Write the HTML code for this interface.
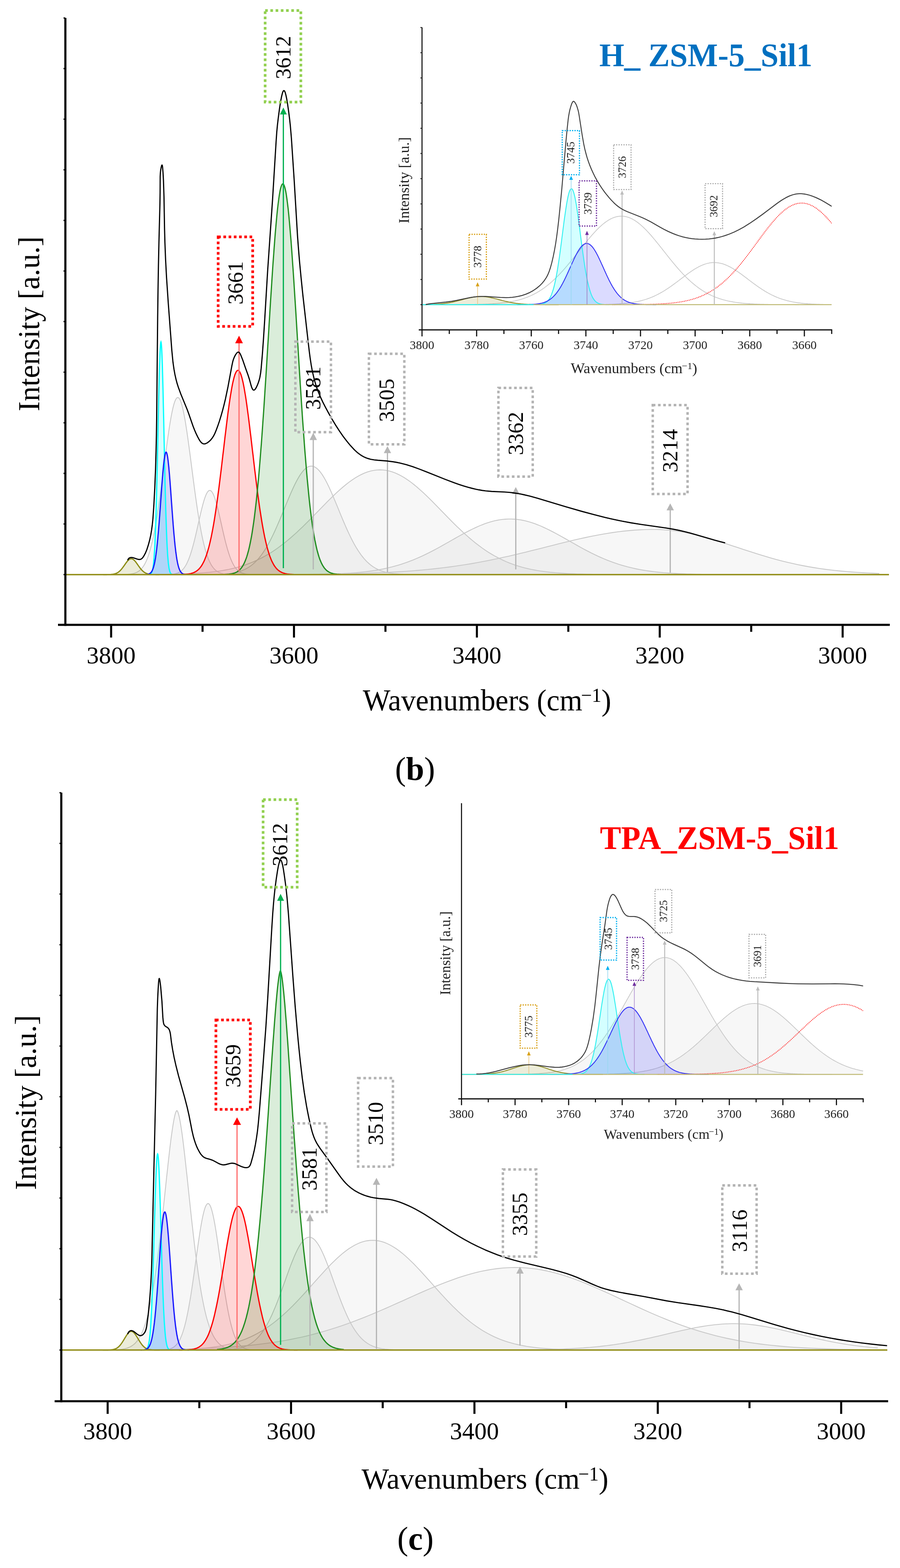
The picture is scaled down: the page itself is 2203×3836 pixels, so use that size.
<!DOCTYPE html>
<html><head><meta charset="utf-8"><title>FTIR deconvolution</title>
<style>html,body{margin:0;padding:0;background:#fff;}svg{display:block;}</style>
</head><body>
<svg width="2203" height="3836" viewBox="0 0 2203 3836" font-family="'Liberation Serif', serif">
<rect width="2203" height="3836" fill="#fff"/>
<path d="M578.1,1405.6 L576.4,1405.6 L574.7,1405.6 L573,1405.6 L571.3,1405.6 L569.6,1405.5 L567.9,1405.5 L566.2,1405.4 L564.4,1405.4 L562.7,1405.3 L561,1405.2 L559.3,1405.1 L557.6,1405 L555.9,1404.9 L554.2,1404.8 L552.5,1404.6 L550.8,1404.4 L549.1,1404.1 L547.4,1403.8 L545.7,1403.5 L544,1403.1 L542.3,1402.7 L540.6,1402.2 L538.9,1401.6 L537.2,1400.9 L535.5,1400.1 L533.8,1399.2 L532.1,1398.2 L530.4,1397.1 L528.7,1395.8 L527,1394.4 L525.3,1392.8 L523.6,1390.9 L521.9,1388.9 L520.2,1386.7 L518.5,1384.2 L516.8,1381.4 L515.1,1378.3 L513.4,1374.9 L511.7,1371.2 L510,1367.2 L508.3,1362.7 L506.6,1357.9 L504.9,1352.7 L503.2,1347.1 L501.5,1341 L499.8,1334.4 L498.1,1327.4 L496.4,1320 L494.7,1312 L493,1303.6 L491.3,1294.6 L489.6,1285.2 L487.9,1275.4 L486.2,1265 L484.5,1254.3 L482.8,1243.1 L481.1,1231.5 L479.4,1219.6 L477.7,1207.3 L476,1194.8 L474.3,1182 L472.6,1169.1 L470.9,1156 L469.2,1142.9 L467.5,1129.8 L465.8,1116.7 L464.1,1103.8 L462.4,1091.1 L460.7,1078.6 L459,1066.6 L457.3,1054.9 L455.6,1043.8 L453.9,1033.2 L452.2,1023.3 L450.5,1014.1 L448.8,1005.7 L447.1,998.1 L445.4,991.5 L443.7,985.7 L442,981 L440.3,977.2 L438.6,974.6 L436.9,972.9 L435.2,972.4 L433.5,972.9 L431.8,974.6 L430.1,977.2 L428.4,981 L426.7,985.7 L425,991.5 L423.3,998.1 L421.6,1005.7 L419.9,1014.1 L418.2,1023.3 L416.5,1033.2 L414.8,1043.8 L413.1,1054.9 L411.4,1066.6 L409.7,1078.6 L408,1091.1 L406.3,1103.8 L404.5,1116.7 L402.8,1129.8 L401.1,1142.9 L399.4,1156 L397.7,1169.1 L396,1182 L394.3,1194.8 L392.6,1207.3 L390.9,1219.6 L389.2,1231.5 L387.5,1243.1 L385.8,1254.3 L384.1,1265 L382.4,1275.4 L380.7,1285.2 L379,1294.6 L377.3,1303.6 L375.6,1312 L373.9,1320 L372.2,1327.4 L370.5,1334.4 L368.8,1341 L367.1,1347.1 L365.4,1352.7 L363.7,1357.9 L362,1362.7 L360.3,1367.2 L358.6,1371.2 L356.9,1374.9 L355.2,1378.3 L353.5,1381.4 L351.8,1384.2 L350.1,1386.7 L348.4,1388.9 L346.7,1390.9 L345,1392.8 L343.3,1394.4 L341.6,1395.8 L339.9,1397.1 L338.2,1398.2 L336.5,1399.2 L334.8,1400.1 L333.1,1400.9 L331.4,1401.6 L329.7,1402.2 L328,1402.7 L326.3,1403.1 L324.6,1403.5 L322.9,1403.8 L321.2,1404.1 L319.5,1404.4 L317.8,1404.6 L316.1,1404.8 L314.4,1404.9 L312.7,1405 L311,1405.1 L309.3,1405.2 L307.6,1405.3 L305.9,1405.4 L304.2,1405.4 L302.5,1405.5 L300.8,1405.5 L299.1,1405.6 L297.4,1405.6 L295.7,1405.6 L294,1405.6 L292.3,1405.6 L292.3,1405.7 L578.1,1405.7 Z" fill="rgba(128,128,128,0.068)" stroke="none"/>
<path d="M631,1405.7 L629.6,1405.7 L628.2,1405.7 L626.8,1405.6 L625.4,1405.6 L624,1405.6 L622.6,1405.6 L621.2,1405.6 L619.8,1405.5 L618.4,1405.5 L617,1405.5 L615.6,1405.4 L614.2,1405.4 L612.8,1405.3 L611.4,1405.2 L610,1405.2 L608.6,1405.1 L607.2,1404.9 L605.8,1404.8 L604.4,1404.7 L603,1404.5 L601.6,1404.3 L600.2,1404 L598.8,1403.7 L597.4,1403.4 L596,1403 L594.6,1402.6 L593.2,1402.2 L591.8,1401.6 L590.4,1401 L589,1400.3 L587.6,1399.5 L586.3,1398.7 L584.9,1397.7 L583.5,1396.6 L582.1,1395.5 L580.7,1394.1 L579.3,1392.7 L577.9,1391.1 L576.5,1389.3 L575.1,1387.4 L573.7,1385.3 L572.3,1383 L570.9,1380.5 L569.5,1377.8 L568.1,1374.9 L566.7,1371.8 L565.3,1368.5 L563.9,1364.9 L562.5,1361.1 L561.1,1357.1 L559.7,1352.9 L558.3,1348.4 L556.9,1343.7 L555.5,1338.8 L554.1,1333.7 L552.7,1328.4 L551.3,1322.9 L549.9,1317.2 L548.5,1311.4 L547.1,1305.4 L545.7,1299.4 L544.3,1293.2 L542.9,1287 L541.5,1280.8 L540.1,1274.5 L538.7,1268.3 L537.3,1262.2 L535.9,1256.1 L534.5,1250.2 L533.1,1244.5 L531.7,1238.9 L530.3,1233.6 L528.9,1228.6 L527.5,1223.9 L526.1,1219.5 L524.7,1215.5 L523.3,1211.9 L521.9,1208.8 L520.5,1206 L519.1,1203.8 L517.7,1202 L516.3,1200.7 L514.9,1200 L513.5,1199.7 L512.1,1200 L510.7,1200.7 L509.3,1202 L507.9,1203.8 L506.5,1206 L505.1,1208.8 L503.7,1211.9 L502.3,1215.5 L500.9,1219.5 L499.5,1223.9 L498.1,1228.6 L496.7,1233.6 L495.3,1238.9 L493.9,1244.5 L492.5,1250.2 L491.1,1256.1 L489.7,1262.2 L488.3,1268.3 L486.9,1274.5 L485.5,1280.8 L484.1,1287 L482.7,1293.2 L481.3,1299.4 L479.9,1305.4 L478.5,1311.4 L477.1,1317.2 L475.7,1322.9 L474.3,1328.4 L472.9,1333.7 L471.5,1338.8 L470.1,1343.7 L468.7,1348.4 L467.3,1352.9 L465.9,1357.1 L464.5,1361.1 L463.1,1364.9 L461.7,1368.5 L460.3,1371.8 L458.9,1374.9 L457.6,1377.8 L456.2,1380.5 L454.8,1383 L453.4,1385.3 L452,1387.4 L450.6,1389.3 L449.2,1391.1 L447.8,1392.7 L446.4,1394.1 L445,1395.5 L443.6,1396.6 L442.2,1397.7 L440.8,1398.7 L439.4,1399.5 L438,1400.3 L436.6,1401 L435.2,1401.6 L433.8,1402.2 L432.4,1402.6 L431,1403 L429.6,1403.4 L428.2,1403.7 L426.8,1404 L425.4,1404.3 L424,1404.5 L422.6,1404.7 L421.2,1404.8 L419.8,1404.9 L418.4,1405.1 L417,1405.2 L415.6,1405.2 L414.2,1405.3 L412.8,1405.4 L411.4,1405.4 L410,1405.5 L408.6,1405.5 L407.2,1405.5 L405.8,1405.6 L404.4,1405.6 L403,1405.6 L401.6,1405.6 L400.2,1405.6 L398.8,1405.7 L397.4,1405.7 L396,1405.7 L396,1405.7 L631,1405.7 Z" fill="rgba(128,128,128,0.068)" stroke="none"/>
<path d="M1039.3,1405.7 L1036,1405.7 L1032.7,1405.6 L1029.4,1405.6 L1026.1,1405.6 L1022.8,1405.6 L1019.5,1405.6 L1016.2,1405.5 L1012.9,1405.5 L1009.6,1405.5 L1006.3,1405.4 L1003,1405.4 L999.7,1405.3 L996.4,1405.2 L993.1,1405.1 L989.8,1405 L986.4,1404.9 L983.1,1404.7 L979.8,1404.6 L976.5,1404.4 L973.2,1404.1 L969.9,1403.8 L966.6,1403.5 L963.3,1403.2 L960,1402.8 L956.7,1402.3 L953.4,1401.7 L950.1,1401.1 L946.8,1400.4 L943.5,1399.7 L940.2,1398.8 L936.9,1397.8 L933.6,1396.7 L930.3,1395.4 L927,1394 L923.7,1392.5 L920.4,1390.8 L917.1,1388.9 L913.8,1386.9 L910.5,1384.6 L907.2,1382.1 L903.9,1379.4 L900.6,1376.4 L897.3,1373.2 L894,1369.8 L890.7,1366.1 L887.4,1362 L884.1,1357.8 L880.8,1353.2 L877.5,1348.3 L874.2,1343.1 L870.9,1337.7 L867.6,1331.9 L864.3,1325.9 L861,1319.5 L857.7,1312.9 L854.4,1306.1 L851.1,1299 L847.8,1291.7 L844.5,1284.2 L841.2,1276.5 L837.9,1268.7 L834.6,1260.8 L831.3,1252.8 L828,1244.7 L824.7,1236.7 L821.4,1228.7 L818.1,1220.8 L814.8,1213 L811.5,1205.4 L808.2,1198 L804.9,1190.8 L801.6,1184 L798.3,1177.6 L795,1171.5 L791.7,1165.9 L788.4,1160.7 L785.1,1156.1 L781.8,1152 L778.5,1148.5 L775.2,1145.6 L771.9,1143.3 L768.6,1141.6 L765.3,1140.6 L762,1140.3 L758.7,1140.6 L755.4,1141.6 L752,1143.3 L748.7,1145.6 L745.4,1148.5 L742.1,1152 L738.8,1156.1 L735.5,1160.7 L732.2,1165.9 L728.9,1171.5 L725.6,1177.6 L722.3,1184 L719,1190.8 L715.7,1198 L712.4,1205.4 L709.1,1213 L705.8,1220.8 L702.5,1228.7 L699.2,1236.7 L695.9,1244.7 L692.6,1252.8 L689.3,1260.8 L686,1268.7 L682.7,1276.5 L679.4,1284.2 L676.1,1291.7 L672.8,1299 L669.5,1306.1 L666.2,1312.9 L662.9,1319.5 L659.6,1325.9 L656.3,1331.9 L653,1337.7 L649.7,1343.1 L646.4,1348.3 L643.1,1353.2 L639.8,1357.8 L636.5,1362 L633.2,1366.1 L629.9,1369.8 L626.6,1373.2 L623.3,1376.4 L620,1379.4 L616.7,1382.1 L613.4,1384.6 L610.1,1386.9 L606.8,1388.9 L603.5,1390.8 L600.2,1392.5 L596.9,1394 L593.6,1395.4 L590.3,1396.7 L587,1397.8 L583.7,1398.8 L580.4,1399.7 L577.1,1400.4 L573.8,1401.1 L570.5,1401.7 L567.2,1402.3 L563.9,1402.8 L560.6,1403.2 L557.3,1403.5 L554,1403.8 L550.7,1404.1 L547.4,1404.4 L544.1,1404.6 L540.8,1404.7 L537.5,1404.9 L534.2,1405 L530.9,1405.1 L527.6,1405.2 L524.3,1405.3 L520.9,1405.4 L517.6,1405.4 L514.3,1405.5 L511,1405.5 L507.7,1405.5 L504.4,1405.6 L501.1,1405.6 L497.8,1405.6 L494.5,1405.6 L491.2,1405.6 L487.9,1405.7 L484.6,1405.7 L484.6,1405.7 L1039.3,1405.7 Z" fill="rgba(128,128,128,0.068)" stroke="none"/>
<path d="M1564.6,1405.7 L1557,1405.7 L1549.5,1405.6 L1541.9,1405.6 L1534.4,1405.6 L1526.8,1405.6 L1519.3,1405.6 L1511.7,1405.5 L1504.2,1405.5 L1496.6,1405.5 L1489,1405.4 L1481.5,1405.4 L1473.9,1405.3 L1466.4,1405.2 L1458.8,1405.1 L1451.3,1405 L1443.7,1404.9 L1436.2,1404.8 L1428.6,1404.6 L1421.1,1404.4 L1413.5,1404.2 L1406,1403.9 L1398.4,1403.6 L1390.8,1403.3 L1383.3,1402.9 L1375.7,1402.4 L1368.2,1401.9 L1360.6,1401.3 L1353.1,1400.6 L1345.5,1399.9 L1338,1399 L1330.4,1398 L1322.9,1397 L1315.3,1395.8 L1307.8,1394.4 L1300.2,1393 L1292.6,1391.3 L1285.1,1389.5 L1277.5,1387.5 L1270,1385.3 L1262.4,1382.9 L1254.9,1380.3 L1247.3,1377.4 L1239.8,1374.4 L1232.2,1371 L1224.7,1367.4 L1217.1,1363.5 L1209.5,1359.4 L1202,1355 L1194.4,1350.3 L1186.9,1345.3 L1179.3,1340 L1171.8,1334.4 L1164.2,1328.6 L1156.7,1322.5 L1149.1,1316.1 L1141.6,1309.5 L1134,1302.7 L1126.5,1295.6 L1118.9,1288.4 L1111.3,1280.9 L1103.8,1273.4 L1096.2,1265.7 L1088.7,1258 L1081.1,1250.2 L1073.6,1242.5 L1066,1234.8 L1058.5,1227.1 L1050.9,1219.6 L1043.4,1212.2 L1035.8,1205.1 L1028.2,1198.2 L1020.7,1191.6 L1013.1,1185.4 L1005.6,1179.5 L998,1174.1 L990.5,1169.1 L982.9,1164.6 L975.4,1160.7 L967.8,1157.3 L960.3,1154.5 L952.7,1152.3 L945.2,1150.7 L937.6,1149.7 L930,1149.4 L922.5,1149.7 L914.9,1150.7 L907.4,1152.3 L899.8,1154.5 L892.3,1157.3 L884.7,1160.7 L877.2,1164.6 L869.6,1169.1 L862.1,1174.1 L854.5,1179.5 L847,1185.4 L839.4,1191.6 L831.8,1198.2 L824.3,1205.1 L816.7,1212.2 L809.2,1219.6 L801.6,1227.1 L794.1,1234.8 L786.5,1242.5 L779,1250.2 L771.4,1258 L763.9,1265.7 L756.3,1273.4 L748.7,1280.9 L741.2,1288.4 L733.6,1295.6 L726.1,1302.7 L718.5,1309.5 L711,1316.1 L703.4,1322.5 L695.9,1328.6 L688.3,1334.4 L680.8,1340 L673.2,1345.3 L665.7,1350.3 L658.1,1355 L650.5,1359.4 L643,1363.5 L635.4,1367.4 L627.9,1371 L620.3,1374.4 L612.8,1377.4 L605.2,1380.3 L597.7,1382.9 L590.1,1385.3 L582.6,1387.5 L575,1389.5 L567.4,1391.3 L559.9,1393 L552.3,1394.4 L544.8,1395.8 L537.2,1397 L529.7,1398 L522.1,1399 L514.6,1399.9 L507,1400.6 L499.5,1401.3 L491.9,1401.9 L484.4,1402.4 L476.8,1402.9 L469.2,1403.3 L461.7,1403.6 L454.1,1403.9 L446.6,1404.2 L439,1404.4 L431.5,1404.6 L423.9,1404.8 L416.4,1404.9 L408.8,1405 L401.3,1405.1 L393.7,1405.2 L386.2,1405.3 L378.6,1405.4 L371,1405.4 L363.5,1405.5 L355.9,1405.5 L348.4,1405.5 L340.8,1405.6 L333.3,1405.6 L325.7,1405.6 L318.2,1405.6 L310.6,1405.6 L303.1,1405.7 L295.5,1405.7 L295.5,1405.7 L1564.6,1405.7 Z" fill="rgba(128,128,128,0.068)" stroke="none"/>
<path d="M1857.3,1405.7 L1850,1405.7 L1842.7,1405.7 L1835.4,1405.7 L1828.1,1405.7 L1820.8,1405.6 L1813.5,1405.6 L1806.2,1405.6 L1798.9,1405.6 L1791.6,1405.6 L1784.3,1405.6 L1777,1405.5 L1769.7,1405.5 L1762.4,1405.4 L1755.1,1405.4 L1747.8,1405.3 L1740.5,1405.3 L1733.2,1405.2 L1725.9,1405.1 L1718.7,1405 L1711.4,1404.9 L1704.1,1404.7 L1696.8,1404.6 L1689.5,1404.4 L1682.2,1404.2 L1674.9,1403.9 L1667.6,1403.6 L1660.3,1403.3 L1653,1402.9 L1645.7,1402.5 L1638.4,1402.1 L1631.1,1401.5 L1623.8,1401 L1616.5,1400.3 L1609.2,1399.6 L1601.9,1398.8 L1594.6,1397.9 L1587.3,1396.9 L1580,1395.8 L1572.7,1394.6 L1565.4,1393.3 L1558.2,1391.9 L1550.9,1390.3 L1543.6,1388.6 L1536.3,1386.8 L1529,1384.8 L1521.7,1382.7 L1514.4,1380.5 L1507.1,1378.1 L1499.8,1375.5 L1492.5,1372.8 L1485.2,1370 L1477.9,1366.9 L1470.6,1363.8 L1463.3,1360.5 L1456,1357 L1448.7,1353.5 L1441.4,1349.8 L1434.1,1346 L1426.8,1342.1 L1419.5,1338.1 L1412.2,1334 L1405,1329.9 L1397.7,1325.8 L1390.4,1321.6 L1383.1,1317.5 L1375.8,1313.4 L1368.5,1309.3 L1361.2,1305.3 L1353.9,1301.5 L1346.6,1297.7 L1339.3,1294.1 L1332,1290.7 L1324.7,1287.4 L1317.4,1284.4 L1310.1,1281.6 L1302.8,1279 L1295.5,1276.8 L1288.2,1274.8 L1280.9,1273.1 L1273.6,1271.8 L1266.3,1270.8 L1259,1270.1 L1251.7,1269.7 L1244.5,1269.7 L1237.2,1270.1 L1229.9,1270.8 L1222.6,1271.8 L1215.3,1273.1 L1208,1274.8 L1200.7,1276.8 L1193.4,1279 L1186.1,1281.6 L1178.8,1284.4 L1171.5,1287.4 L1164.2,1290.7 L1156.9,1294.1 L1149.6,1297.7 L1142.3,1301.5 L1135,1305.3 L1127.7,1309.3 L1120.4,1313.4 L1113.1,1317.5 L1105.8,1321.6 L1098.5,1325.8 L1091.3,1329.9 L1084,1334 L1076.7,1338.1 L1069.4,1342.1 L1062.1,1346 L1054.8,1349.8 L1047.5,1353.5 L1040.2,1357 L1032.9,1360.5 L1025.6,1363.8 L1018.3,1366.9 L1011,1370 L1003.7,1372.8 L996.4,1375.5 L989.1,1378.1 L981.8,1380.5 L974.5,1382.7 L967.2,1384.8 L959.9,1386.8 L952.6,1388.6 L945.3,1390.3 L938,1391.9 L930.8,1393.3 L923.5,1394.6 L916.2,1395.8 L908.9,1396.9 L901.6,1397.9 L894.3,1398.8 L887,1399.6 L879.7,1400.3 L872.4,1401 L865.1,1401.5 L857.8,1402.1 L850.5,1402.5 L843.2,1402.9 L835.9,1403.3 L828.6,1403.6 L821.3,1403.9 L814,1404.2 L806.7,1404.4 L799.4,1404.6 L792.1,1404.7 L784.8,1404.9 L777.6,1405 L770.3,1405.1 L763,1405.2 L755.7,1405.3 L748.4,1405.3 L741.1,1405.4 L733.8,1405.4 L726.5,1405.5 L719.2,1405.5 L711.9,1405.6 L704.6,1405.6 L697.3,1405.6 L690,1405.6 L682.7,1405.6 L675.4,1405.6 L668.1,1405.7 L660.8,1405.7 L653.5,1405.7 L646.2,1405.7 L638.9,1405.7 L638.9,1405.7 L1857.3,1405.7 Z" fill="rgba(128,128,128,0.068)" stroke="none"/>
<path d="M2152.1,1403 L2138.8,1402.4 L2125.5,1401.8 L2112.2,1401.1 L2098.8,1400.3 L2085.5,1399.4 L2072.2,1398.3 L2058.9,1397.1 L2045.6,1395.8 L2032.2,1394.3 L2018.9,1392.6 L2005.6,1390.7 L1992.3,1388.6 L1978.9,1386.4 L1965.6,1383.9 L1952.3,1381.2 L1939,1378.3 L1925.7,1375.2 L1912.3,1371.9 L1899,1368.4 L1885.7,1364.7 L1872.4,1360.8 L1859.1,1356.8 L1845.7,1352.6 L1832.4,1348.3 L1819.1,1344 L1805.8,1339.6 L1792.4,1335.2 L1779.1,1330.8 L1765.8,1326.6 L1752.5,1322.4 L1739.2,1318.3 L1725.8,1314.5 L1712.5,1310.9 L1699.2,1307.6 L1685.9,1304.7 L1672.5,1302 L1659.2,1299.8 L1645.9,1298 L1632.6,1296.6 L1619.3,1295.7 L1605.9,1295.2 L1592.6,1295.2 L1579.3,1295.5 L1566,1296.1 L1552.7,1296.9 L1539.3,1298.1 L1526,1299.4 L1512.7,1301 L1499.4,1302.9 L1486,1305 L1472.7,1307.2 L1459.4,1309.7 L1446.1,1312.3 L1432.8,1315.1 L1419.4,1318.1 L1406.1,1321.1 L1392.8,1324.3 L1379.5,1327.5 L1366.1,1330.8 L1352.8,1334.2 L1339.5,1337.5 L1326.2,1340.9 L1312.9,1344.3 L1299.5,1347.6 L1286.2,1350.9 L1272.9,1354.1 L1259.6,1357.3 L1246.3,1360.4 L1232.9,1363.3 L1219.6,1366.2 L1206.3,1369 L1193,1371.7 L1179.6,1374.3 L1166.3,1376.7 L1153,1379.1 L1139.7,1381.2 L1126.4,1383.3 L1113,1385.3 L1099.7,1387.1 L1086.4,1388.8 L1073.1,1390.4 L1059.8,1391.9 L1046.4,1393.2 L1033.1,1394.5 L1019.8,1395.6 L1006.5,1396.7 L993.1,1397.7 L979.8,1398.6 L966.5,1399.4 L953.2,1400.1 L939.9,1400.7 L926.5,1401.3 L913.2,1401.9 L899.9,1402.3 L886.6,1402.8 L873.2,1403.1 L859.9,1403.5 L846.6,1403.8 L833.3,1404 L820,1404.2 L806.6,1404.4 L793.3,1404.6 L780,1404.8 L766.7,1404.9 L753.4,1405 L740,1405.1 L726.7,1405.2 L713.4,1405.3 L700.1,1405.4 L686.7,1405.4 L673.4,1405.5 L660.1,1405.5 L646.8,1405.5 L633.5,1405.6 L620.1,1405.6 L606.8,1405.6 L593.5,1405.6 L580.2,1405.6 L566.8,1405.6 L553.5,1405.7 L540.2,1405.7 L526.9,1405.7 L513.6,1405.7 L500.2,1405.7 L486.9,1405.7 L486.9,1405.7 L2152.1,1405.7 Z" fill="rgba(128,128,128,0.068)" stroke="none"/>
<path d="M578.1,1405.6 L576.4,1405.6 L574.7,1405.6 L573,1405.6 L571.3,1405.6 L569.6,1405.5 L567.9,1405.5 L566.2,1405.4 L564.4,1405.4 L562.7,1405.3 L561,1405.2 L559.3,1405.1 L557.6,1405 L555.9,1404.9 L554.2,1404.8 L552.5,1404.6 L550.8,1404.4 L549.1,1404.1 L547.4,1403.8 L545.7,1403.5 L544,1403.1 L542.3,1402.7 L540.6,1402.2 L538.9,1401.6 L537.2,1400.9 L535.5,1400.1 L533.8,1399.2 L532.1,1398.2 L530.4,1397.1 L528.7,1395.8 L527,1394.4 L525.3,1392.8 L523.6,1390.9 L521.9,1388.9 L520.2,1386.7 L518.5,1384.2 L516.8,1381.4 L515.1,1378.3 L513.4,1374.9 L511.7,1371.2 L510,1367.2 L508.3,1362.7 L506.6,1357.9 L504.9,1352.7 L503.2,1347.1 L501.5,1341 L499.8,1334.4 L498.1,1327.4 L496.4,1320 L494.7,1312 L493,1303.6 L491.3,1294.6 L489.6,1285.2 L487.9,1275.4 L486.2,1265 L484.5,1254.3 L482.8,1243.1 L481.1,1231.5 L479.4,1219.6 L477.7,1207.3 L476,1194.8 L474.3,1182 L472.6,1169.1 L470.9,1156 L469.2,1142.9 L467.5,1129.8 L465.8,1116.7 L464.1,1103.8 L462.4,1091.1 L460.7,1078.6 L459,1066.6 L457.3,1054.9 L455.6,1043.8 L453.9,1033.2 L452.2,1023.3 L450.5,1014.1 L448.8,1005.7 L447.1,998.1 L445.4,991.5 L443.7,985.7 L442,981 L440.3,977.2 L438.6,974.6 L436.9,972.9 L435.2,972.4 L433.5,972.9 L431.8,974.6 L430.1,977.2 L428.4,981 L426.7,985.7 L425,991.5 L423.3,998.1 L421.6,1005.7 L419.9,1014.1 L418.2,1023.3 L416.5,1033.2 L414.8,1043.8 L413.1,1054.9 L411.4,1066.6 L409.7,1078.6 L408,1091.1 L406.3,1103.8 L404.5,1116.7 L402.8,1129.8 L401.1,1142.9 L399.4,1156 L397.7,1169.1 L396,1182 L394.3,1194.8 L392.6,1207.3 L390.9,1219.6 L389.2,1231.5 L387.5,1243.1 L385.8,1254.3 L384.1,1265 L382.4,1275.4 L380.7,1285.2 L379,1294.6 L377.3,1303.6 L375.6,1312 L373.9,1320 L372.2,1327.4 L370.5,1334.4 L368.8,1341 L367.1,1347.1 L365.4,1352.7 L363.7,1357.9 L362,1362.7 L360.3,1367.2 L358.6,1371.2 L356.9,1374.9 L355.2,1378.3 L353.5,1381.4 L351.8,1384.2 L350.1,1386.7 L348.4,1388.9 L346.7,1390.9 L345,1392.8 L343.3,1394.4 L341.6,1395.8 L339.9,1397.1 L338.2,1398.2 L336.5,1399.2 L334.8,1400.1 L333.1,1400.9 L331.4,1401.6 L329.7,1402.2 L328,1402.7 L326.3,1403.1 L324.6,1403.5 L322.9,1403.8 L321.2,1404.1 L319.5,1404.4 L317.8,1404.6 L316.1,1404.8 L314.4,1404.9 L312.7,1405 L311,1405.1 L309.3,1405.2 L307.6,1405.3 L305.9,1405.4 L304.2,1405.4 L302.5,1405.5 L300.8,1405.5 L299.1,1405.6 L297.4,1405.6 L295.7,1405.6 L294,1405.6 L292.3,1405.6" fill="none" stroke="#c8c8c8" stroke-width="2.1"/>
<path d="M631,1405.7 L629.6,1405.7 L628.2,1405.7 L626.8,1405.6 L625.4,1405.6 L624,1405.6 L622.6,1405.6 L621.2,1405.6 L619.8,1405.5 L618.4,1405.5 L617,1405.5 L615.6,1405.4 L614.2,1405.4 L612.8,1405.3 L611.4,1405.2 L610,1405.2 L608.6,1405.1 L607.2,1404.9 L605.8,1404.8 L604.4,1404.7 L603,1404.5 L601.6,1404.3 L600.2,1404 L598.8,1403.7 L597.4,1403.4 L596,1403 L594.6,1402.6 L593.2,1402.2 L591.8,1401.6 L590.4,1401 L589,1400.3 L587.6,1399.5 L586.3,1398.7 L584.9,1397.7 L583.5,1396.6 L582.1,1395.5 L580.7,1394.1 L579.3,1392.7 L577.9,1391.1 L576.5,1389.3 L575.1,1387.4 L573.7,1385.3 L572.3,1383 L570.9,1380.5 L569.5,1377.8 L568.1,1374.9 L566.7,1371.8 L565.3,1368.5 L563.9,1364.9 L562.5,1361.1 L561.1,1357.1 L559.7,1352.9 L558.3,1348.4 L556.9,1343.7 L555.5,1338.8 L554.1,1333.7 L552.7,1328.4 L551.3,1322.9 L549.9,1317.2 L548.5,1311.4 L547.1,1305.4 L545.7,1299.4 L544.3,1293.2 L542.9,1287 L541.5,1280.8 L540.1,1274.5 L538.7,1268.3 L537.3,1262.2 L535.9,1256.1 L534.5,1250.2 L533.1,1244.5 L531.7,1238.9 L530.3,1233.6 L528.9,1228.6 L527.5,1223.9 L526.1,1219.5 L524.7,1215.5 L523.3,1211.9 L521.9,1208.8 L520.5,1206 L519.1,1203.8 L517.7,1202 L516.3,1200.7 L514.9,1200 L513.5,1199.7 L512.1,1200 L510.7,1200.7 L509.3,1202 L507.9,1203.8 L506.5,1206 L505.1,1208.8 L503.7,1211.9 L502.3,1215.5 L500.9,1219.5 L499.5,1223.9 L498.1,1228.6 L496.7,1233.6 L495.3,1238.9 L493.9,1244.5 L492.5,1250.2 L491.1,1256.1 L489.7,1262.2 L488.3,1268.3 L486.9,1274.5 L485.5,1280.8 L484.1,1287 L482.7,1293.2 L481.3,1299.4 L479.9,1305.4 L478.5,1311.4 L477.1,1317.2 L475.7,1322.9 L474.3,1328.4 L472.9,1333.7 L471.5,1338.8 L470.1,1343.7 L468.7,1348.4 L467.3,1352.9 L465.9,1357.1 L464.5,1361.1 L463.1,1364.9 L461.7,1368.5 L460.3,1371.8 L458.9,1374.9 L457.6,1377.8 L456.2,1380.5 L454.8,1383 L453.4,1385.3 L452,1387.4 L450.6,1389.3 L449.2,1391.1 L447.8,1392.7 L446.4,1394.1 L445,1395.5 L443.6,1396.6 L442.2,1397.7 L440.8,1398.7 L439.4,1399.5 L438,1400.3 L436.6,1401 L435.2,1401.6 L433.8,1402.2 L432.4,1402.6 L431,1403 L429.6,1403.4 L428.2,1403.7 L426.8,1404 L425.4,1404.3 L424,1404.5 L422.6,1404.7 L421.2,1404.8 L419.8,1404.9 L418.4,1405.1 L417,1405.2 L415.6,1405.2 L414.2,1405.3 L412.8,1405.4 L411.4,1405.4 L410,1405.5 L408.6,1405.5 L407.2,1405.5 L405.8,1405.6 L404.4,1405.6 L403,1405.6 L401.6,1405.6 L400.2,1405.6 L398.8,1405.7 L397.4,1405.7 L396,1405.7" fill="none" stroke="#c8c8c8" stroke-width="2.1"/>
<path d="M1039.3,1405.7 L1036,1405.7 L1032.7,1405.6 L1029.4,1405.6 L1026.1,1405.6 L1022.8,1405.6 L1019.5,1405.6 L1016.2,1405.5 L1012.9,1405.5 L1009.6,1405.5 L1006.3,1405.4 L1003,1405.4 L999.7,1405.3 L996.4,1405.2 L993.1,1405.1 L989.8,1405 L986.4,1404.9 L983.1,1404.7 L979.8,1404.6 L976.5,1404.4 L973.2,1404.1 L969.9,1403.8 L966.6,1403.5 L963.3,1403.2 L960,1402.8 L956.7,1402.3 L953.4,1401.7 L950.1,1401.1 L946.8,1400.4 L943.5,1399.7 L940.2,1398.8 L936.9,1397.8 L933.6,1396.7 L930.3,1395.4 L927,1394 L923.7,1392.5 L920.4,1390.8 L917.1,1388.9 L913.8,1386.9 L910.5,1384.6 L907.2,1382.1 L903.9,1379.4 L900.6,1376.4 L897.3,1373.2 L894,1369.8 L890.7,1366.1 L887.4,1362 L884.1,1357.8 L880.8,1353.2 L877.5,1348.3 L874.2,1343.1 L870.9,1337.7 L867.6,1331.9 L864.3,1325.9 L861,1319.5 L857.7,1312.9 L854.4,1306.1 L851.1,1299 L847.8,1291.7 L844.5,1284.2 L841.2,1276.5 L837.9,1268.7 L834.6,1260.8 L831.3,1252.8 L828,1244.7 L824.7,1236.7 L821.4,1228.7 L818.1,1220.8 L814.8,1213 L811.5,1205.4 L808.2,1198 L804.9,1190.8 L801.6,1184 L798.3,1177.6 L795,1171.5 L791.7,1165.9 L788.4,1160.7 L785.1,1156.1 L781.8,1152 L778.5,1148.5 L775.2,1145.6 L771.9,1143.3 L768.6,1141.6 L765.3,1140.6 L762,1140.3 L758.7,1140.6 L755.4,1141.6 L752,1143.3 L748.7,1145.6 L745.4,1148.5 L742.1,1152 L738.8,1156.1 L735.5,1160.7 L732.2,1165.9 L728.9,1171.5 L725.6,1177.6 L722.3,1184 L719,1190.8 L715.7,1198 L712.4,1205.4 L709.1,1213 L705.8,1220.8 L702.5,1228.7 L699.2,1236.7 L695.9,1244.7 L692.6,1252.8 L689.3,1260.8 L686,1268.7 L682.7,1276.5 L679.4,1284.2 L676.1,1291.7 L672.8,1299 L669.5,1306.1 L666.2,1312.9 L662.9,1319.5 L659.6,1325.9 L656.3,1331.9 L653,1337.7 L649.7,1343.1 L646.4,1348.3 L643.1,1353.2 L639.8,1357.8 L636.5,1362 L633.2,1366.1 L629.9,1369.8 L626.6,1373.2 L623.3,1376.4 L620,1379.4 L616.7,1382.1 L613.4,1384.6 L610.1,1386.9 L606.8,1388.9 L603.5,1390.8 L600.2,1392.5 L596.9,1394 L593.6,1395.4 L590.3,1396.7 L587,1397.8 L583.7,1398.8 L580.4,1399.7 L577.1,1400.4 L573.8,1401.1 L570.5,1401.7 L567.2,1402.3 L563.9,1402.8 L560.6,1403.2 L557.3,1403.5 L554,1403.8 L550.7,1404.1 L547.4,1404.4 L544.1,1404.6 L540.8,1404.7 L537.5,1404.9 L534.2,1405 L530.9,1405.1 L527.6,1405.2 L524.3,1405.3 L520.9,1405.4 L517.6,1405.4 L514.3,1405.5 L511,1405.5 L507.7,1405.5 L504.4,1405.6 L501.1,1405.6 L497.8,1405.6 L494.5,1405.6 L491.2,1405.6 L487.9,1405.7 L484.6,1405.7" fill="none" stroke="#c8c8c8" stroke-width="2.1"/>
<path d="M1564.6,1405.7 L1557,1405.7 L1549.5,1405.6 L1541.9,1405.6 L1534.4,1405.6 L1526.8,1405.6 L1519.3,1405.6 L1511.7,1405.5 L1504.2,1405.5 L1496.6,1405.5 L1489,1405.4 L1481.5,1405.4 L1473.9,1405.3 L1466.4,1405.2 L1458.8,1405.1 L1451.3,1405 L1443.7,1404.9 L1436.2,1404.8 L1428.6,1404.6 L1421.1,1404.4 L1413.5,1404.2 L1406,1403.9 L1398.4,1403.6 L1390.8,1403.3 L1383.3,1402.9 L1375.7,1402.4 L1368.2,1401.9 L1360.6,1401.3 L1353.1,1400.6 L1345.5,1399.9 L1338,1399 L1330.4,1398 L1322.9,1397 L1315.3,1395.8 L1307.8,1394.4 L1300.2,1393 L1292.6,1391.3 L1285.1,1389.5 L1277.5,1387.5 L1270,1385.3 L1262.4,1382.9 L1254.9,1380.3 L1247.3,1377.4 L1239.8,1374.4 L1232.2,1371 L1224.7,1367.4 L1217.1,1363.5 L1209.5,1359.4 L1202,1355 L1194.4,1350.3 L1186.9,1345.3 L1179.3,1340 L1171.8,1334.4 L1164.2,1328.6 L1156.7,1322.5 L1149.1,1316.1 L1141.6,1309.5 L1134,1302.7 L1126.5,1295.6 L1118.9,1288.4 L1111.3,1280.9 L1103.8,1273.4 L1096.2,1265.7 L1088.7,1258 L1081.1,1250.2 L1073.6,1242.5 L1066,1234.8 L1058.5,1227.1 L1050.9,1219.6 L1043.4,1212.2 L1035.8,1205.1 L1028.2,1198.2 L1020.7,1191.6 L1013.1,1185.4 L1005.6,1179.5 L998,1174.1 L990.5,1169.1 L982.9,1164.6 L975.4,1160.7 L967.8,1157.3 L960.3,1154.5 L952.7,1152.3 L945.2,1150.7 L937.6,1149.7 L930,1149.4 L922.5,1149.7 L914.9,1150.7 L907.4,1152.3 L899.8,1154.5 L892.3,1157.3 L884.7,1160.7 L877.2,1164.6 L869.6,1169.1 L862.1,1174.1 L854.5,1179.5 L847,1185.4 L839.4,1191.6 L831.8,1198.2 L824.3,1205.1 L816.7,1212.2 L809.2,1219.6 L801.6,1227.1 L794.1,1234.8 L786.5,1242.5 L779,1250.2 L771.4,1258 L763.9,1265.7 L756.3,1273.4 L748.7,1280.9 L741.2,1288.4 L733.6,1295.6 L726.1,1302.7 L718.5,1309.5 L711,1316.1 L703.4,1322.5 L695.9,1328.6 L688.3,1334.4 L680.8,1340 L673.2,1345.3 L665.7,1350.3 L658.1,1355 L650.5,1359.4 L643,1363.5 L635.4,1367.4 L627.9,1371 L620.3,1374.4 L612.8,1377.4 L605.2,1380.3 L597.7,1382.9 L590.1,1385.3 L582.6,1387.5 L575,1389.5 L567.4,1391.3 L559.9,1393 L552.3,1394.4 L544.8,1395.8 L537.2,1397 L529.7,1398 L522.1,1399 L514.6,1399.9 L507,1400.6 L499.5,1401.3 L491.9,1401.9 L484.4,1402.4 L476.8,1402.9 L469.2,1403.3 L461.7,1403.6 L454.1,1403.9 L446.6,1404.2 L439,1404.4 L431.5,1404.6 L423.9,1404.8 L416.4,1404.9 L408.8,1405 L401.3,1405.1 L393.7,1405.2 L386.2,1405.3 L378.6,1405.4 L371,1405.4 L363.5,1405.5 L355.9,1405.5 L348.4,1405.5 L340.8,1405.6 L333.3,1405.6 L325.7,1405.6 L318.2,1405.6 L310.6,1405.6 L303.1,1405.7 L295.5,1405.7" fill="none" stroke="#c8c8c8" stroke-width="2.1"/>
<path d="M1857.3,1405.7 L1850,1405.7 L1842.7,1405.7 L1835.4,1405.7 L1828.1,1405.7 L1820.8,1405.6 L1813.5,1405.6 L1806.2,1405.6 L1798.9,1405.6 L1791.6,1405.6 L1784.3,1405.6 L1777,1405.5 L1769.7,1405.5 L1762.4,1405.4 L1755.1,1405.4 L1747.8,1405.3 L1740.5,1405.3 L1733.2,1405.2 L1725.9,1405.1 L1718.7,1405 L1711.4,1404.9 L1704.1,1404.7 L1696.8,1404.6 L1689.5,1404.4 L1682.2,1404.2 L1674.9,1403.9 L1667.6,1403.6 L1660.3,1403.3 L1653,1402.9 L1645.7,1402.5 L1638.4,1402.1 L1631.1,1401.5 L1623.8,1401 L1616.5,1400.3 L1609.2,1399.6 L1601.9,1398.8 L1594.6,1397.9 L1587.3,1396.9 L1580,1395.8 L1572.7,1394.6 L1565.4,1393.3 L1558.2,1391.9 L1550.9,1390.3 L1543.6,1388.6 L1536.3,1386.8 L1529,1384.8 L1521.7,1382.7 L1514.4,1380.5 L1507.1,1378.1 L1499.8,1375.5 L1492.5,1372.8 L1485.2,1370 L1477.9,1366.9 L1470.6,1363.8 L1463.3,1360.5 L1456,1357 L1448.7,1353.5 L1441.4,1349.8 L1434.1,1346 L1426.8,1342.1 L1419.5,1338.1 L1412.2,1334 L1405,1329.9 L1397.7,1325.8 L1390.4,1321.6 L1383.1,1317.5 L1375.8,1313.4 L1368.5,1309.3 L1361.2,1305.3 L1353.9,1301.5 L1346.6,1297.7 L1339.3,1294.1 L1332,1290.7 L1324.7,1287.4 L1317.4,1284.4 L1310.1,1281.6 L1302.8,1279 L1295.5,1276.8 L1288.2,1274.8 L1280.9,1273.1 L1273.6,1271.8 L1266.3,1270.8 L1259,1270.1 L1251.7,1269.7 L1244.5,1269.7 L1237.2,1270.1 L1229.9,1270.8 L1222.6,1271.8 L1215.3,1273.1 L1208,1274.8 L1200.7,1276.8 L1193.4,1279 L1186.1,1281.6 L1178.8,1284.4 L1171.5,1287.4 L1164.2,1290.7 L1156.9,1294.1 L1149.6,1297.7 L1142.3,1301.5 L1135,1305.3 L1127.7,1309.3 L1120.4,1313.4 L1113.1,1317.5 L1105.8,1321.6 L1098.5,1325.8 L1091.3,1329.9 L1084,1334 L1076.7,1338.1 L1069.4,1342.1 L1062.1,1346 L1054.8,1349.8 L1047.5,1353.5 L1040.2,1357 L1032.9,1360.5 L1025.6,1363.8 L1018.3,1366.9 L1011,1370 L1003.7,1372.8 L996.4,1375.5 L989.1,1378.1 L981.8,1380.5 L974.5,1382.7 L967.2,1384.8 L959.9,1386.8 L952.6,1388.6 L945.3,1390.3 L938,1391.9 L930.8,1393.3 L923.5,1394.6 L916.2,1395.8 L908.9,1396.9 L901.6,1397.9 L894.3,1398.8 L887,1399.6 L879.7,1400.3 L872.4,1401 L865.1,1401.5 L857.8,1402.1 L850.5,1402.5 L843.2,1402.9 L835.9,1403.3 L828.6,1403.6 L821.3,1403.9 L814,1404.2 L806.7,1404.4 L799.4,1404.6 L792.1,1404.7 L784.8,1404.9 L777.6,1405 L770.3,1405.1 L763,1405.2 L755.7,1405.3 L748.4,1405.3 L741.1,1405.4 L733.8,1405.4 L726.5,1405.5 L719.2,1405.5 L711.9,1405.6 L704.6,1405.6 L697.3,1405.6 L690,1405.6 L682.7,1405.6 L675.4,1405.6 L668.1,1405.7 L660.8,1405.7 L653.5,1405.7 L646.2,1405.7 L638.9,1405.7" fill="none" stroke="#c8c8c8" stroke-width="2.1"/>
<path d="M2152.1,1403 L2138.8,1402.4 L2125.5,1401.8 L2112.2,1401.1 L2098.8,1400.3 L2085.5,1399.4 L2072.2,1398.3 L2058.9,1397.1 L2045.6,1395.8 L2032.2,1394.3 L2018.9,1392.6 L2005.6,1390.7 L1992.3,1388.6 L1978.9,1386.4 L1965.6,1383.9 L1952.3,1381.2 L1939,1378.3 L1925.7,1375.2 L1912.3,1371.9 L1899,1368.4 L1885.7,1364.7 L1872.4,1360.8 L1859.1,1356.8 L1845.7,1352.6 L1832.4,1348.3 L1819.1,1344 L1805.8,1339.6 L1792.4,1335.2 L1779.1,1330.8 L1765.8,1326.6 L1752.5,1322.4 L1739.2,1318.3 L1725.8,1314.5 L1712.5,1310.9 L1699.2,1307.6 L1685.9,1304.7 L1672.5,1302 L1659.2,1299.8 L1645.9,1298 L1632.6,1296.6 L1619.3,1295.7 L1605.9,1295.2 L1592.6,1295.2 L1579.3,1295.5 L1566,1296.1 L1552.7,1296.9 L1539.3,1298.1 L1526,1299.4 L1512.7,1301 L1499.4,1302.9 L1486,1305 L1472.7,1307.2 L1459.4,1309.7 L1446.1,1312.3 L1432.8,1315.1 L1419.4,1318.1 L1406.1,1321.1 L1392.8,1324.3 L1379.5,1327.5 L1366.1,1330.8 L1352.8,1334.2 L1339.5,1337.5 L1326.2,1340.9 L1312.9,1344.3 L1299.5,1347.6 L1286.2,1350.9 L1272.9,1354.1 L1259.6,1357.3 L1246.3,1360.4 L1232.9,1363.3 L1219.6,1366.2 L1206.3,1369 L1193,1371.7 L1179.6,1374.3 L1166.3,1376.7 L1153,1379.1 L1139.7,1381.2 L1126.4,1383.3 L1113,1385.3 L1099.7,1387.1 L1086.4,1388.8 L1073.1,1390.4 L1059.8,1391.9 L1046.4,1393.2 L1033.1,1394.5 L1019.8,1395.6 L1006.5,1396.7 L993.1,1397.7 L979.8,1398.6 L966.5,1399.4 L953.2,1400.1 L939.9,1400.7 L926.5,1401.3 L913.2,1401.9 L899.9,1402.3 L886.6,1402.8 L873.2,1403.1 L859.9,1403.5 L846.6,1403.8 L833.3,1404 L820,1404.2 L806.6,1404.4 L793.3,1404.6 L780,1404.8 L766.7,1404.9 L753.4,1405 L740,1405.1 L726.7,1405.2 L713.4,1405.3 L700.1,1405.4 L686.7,1405.4 L673.4,1405.5 L660.1,1405.5 L646.8,1405.5 L633.5,1405.6 L620.1,1405.6 L606.8,1405.6 L593.5,1405.6 L580.2,1405.6 L566.8,1405.6 L553.5,1405.7 L540.2,1405.7 L526.9,1405.7 L513.6,1405.7 L500.2,1405.7 L486.9,1405.7" fill="none" stroke="#c8c8c8" stroke-width="2.1"/>
<path d="M389.9,1405.7 L389.2,1405.7 L388.6,1405.7 L387.9,1405.7 L387.2,1405.7 L386.6,1405.7 L385.9,1405.7 L385.3,1405.7 L384.6,1405.7 L384,1405.7 L383.3,1405.7 L382.6,1405.7 L382,1405.7 L381.3,1405.7 L380.7,1405.6 L380,1405.6 L379.4,1405.6 L378.7,1405.6 L378,1405.6 L377.4,1405.6 L376.7,1405.6 L376.1,1405.6 L375.4,1405.5 L374.8,1405.5 L374.1,1405.5 L373.4,1405.5 L372.8,1405.4 L372.1,1405.4 L371.5,1405.4 L370.8,1405.3 L370.2,1405.3 L369.5,1405.2 L368.9,1405.1 L368.2,1405.1 L367.5,1405 L366.9,1404.9 L366.2,1404.8 L365.6,1404.7 L364.9,1404.6 L364.3,1404.5 L363.6,1404.4 L362.9,1404.2 L362.3,1404 L361.6,1403.9 L361,1403.7 L360.3,1403.5 L359.7,1403.3 L359,1403 L358.3,1402.8 L357.7,1402.5 L357,1402.2 L356.4,1401.9 L355.7,1401.5 L355.1,1401.2 L354.4,1400.8 L353.7,1400.4 L353.1,1399.9 L352.4,1399.4 L351.8,1399 L351.1,1398.4 L350.5,1397.9 L349.8,1397.3 L349.2,1396.7 L348.5,1396.1 L347.8,1395.4 L347.2,1394.7 L346.5,1394 L345.9,1393.3 L345.2,1392.5 L344.6,1391.7 L343.9,1390.9 L343.2,1390.1 L342.6,1389.2 L341.9,1388.3 L341.3,1387.4 L340.6,1386.5 L340,1385.6 L339.3,1384.7 L338.6,1383.8 L338,1382.8 L337.3,1381.9 L336.7,1380.9 L336,1380 L335.4,1379.1 L334.7,1378.1 L334,1377.2 L333.4,1376.3 L332.7,1375.5 L332.1,1374.6 L331.4,1373.8 L330.8,1373 L330.1,1372.3 L329.5,1371.6 L328.8,1370.9 L328.1,1370.3 L327.5,1369.7 L326.8,1369.2 L326.2,1368.7 L325.5,1368.3 L324.9,1367.9 L324.2,1367.6 L323.5,1367.4 L322.9,1367.2 L322.2,1367.1 L321.6,1367 L320.9,1367 L320.3,1367.1 L319.6,1367.2 L318.9,1367.4 L318.3,1367.6 L317.6,1367.9 L317,1368.3 L316.3,1368.7 L315.7,1369.2 L315,1369.7 L314.3,1370.3 L313.7,1370.9 L313,1371.6 L312.4,1372.3 L311.7,1373 L311.1,1373.8 L310.4,1374.6 L309.7,1375.5 L309.1,1376.3 L308.4,1377.2 L307.8,1378.1 L307.1,1379.1 L306.5,1380 L305.8,1380.9 L305.2,1381.9 L304.5,1382.8 L303.8,1383.8 L303.2,1384.7 L302.5,1385.6 L301.9,1386.5 L301.2,1387.4 L300.6,1388.3 L299.9,1389.2 L299.2,1390.1 L298.6,1390.9 L297.9,1391.7 L297.3,1392.5 L296.6,1393.3 L296,1394 L295.3,1394.7 L294.6,1395.4 L294,1396.1 L293.3,1396.7 L292.7,1397.3 L292,1397.9 L291.4,1398.4 L290.7,1399 L290,1399.4 L289.4,1399.9 L288.7,1400.4 L288.1,1400.8 L287.4,1401.2 L286.8,1401.5 L286.1,1401.9 L285.5,1402.2 L284.8,1402.5 L284.1,1402.8 L283.5,1403 L282.8,1403.3 L282.2,1403.5 L281.5,1403.7 L280.9,1403.9 L280.2,1404 L279.5,1404.2 L278.9,1404.4 L278.2,1404.5 L277.6,1404.6 L276.9,1404.7 L276.3,1404.8 L275.6,1404.9 L274.9,1405 L274.3,1405.1 L273.6,1405.1 L273,1405.2 L272.3,1405.3 L271.7,1405.3 L271,1405.4 L270.3,1405.4 L269.7,1405.4 L269,1405.5 L268.4,1405.5 L267.7,1405.5 L267.1,1405.5 L266.4,1405.6 L265.8,1405.6 L265.1,1405.6 L264.4,1405.6 L263.8,1405.6 L263.1,1405.6 L262.5,1405.6 L261.8,1405.6 L261.2,1405.7 L260.5,1405.7 L259.8,1405.7 L259.2,1405.7 L258.5,1405.7 L257.9,1405.7 L257.2,1405.7 L256.6,1405.7 L255.9,1405.7 L255.2,1405.7 L254.6,1405.7 L253.9,1405.7 L253.3,1405.7 L252.6,1405.7 L252.6,1405.7 L389.9,1405.7 Z" fill="rgba(128,128,0,0.15)" stroke="none"/>
<path d="M425,1405.6 L424.4,1405.6 L423.9,1405.5 L423.3,1405.5 L422.8,1405.4 L422.2,1405.3 L421.6,1405.2 L421.1,1405 L420.5,1404.8 L419.9,1404.5 L419.4,1404.1 L418.8,1403.7 L418.2,1403.1 L417.7,1402.4 L417.1,1401.5 L416.5,1400.3 L416,1399 L415.4,1397.3 L414.9,1395.2 L414.3,1392.7 L413.7,1389.7 L413.2,1386.1 L412.6,1381.9 L412,1377 L411.5,1371.2 L410.9,1364.4 L410.3,1356.7 L409.8,1347.8 L409.2,1337.8 L408.6,1326.4 L408.1,1313.7 L407.5,1299.6 L407,1284 L406.4,1266.9 L405.8,1248.4 L405.3,1228.4 L404.7,1207.1 L404.1,1184.5 L403.6,1160.7 L403,1136 L402.4,1110.4 L401.9,1084.4 L401.3,1058.1 L400.8,1031.8 L400.2,1005.9 L399.6,980.6 L399.1,956.4 L398.5,933.6 L397.9,912.5 L397.4,893.4 L396.8,876.7 L396.2,862.6 L395.7,851.4 L395.1,843.3 L394.5,838.4 L394,836.7 L393.4,838.4 L392.9,843.3 L392.3,851.4 L391.7,862.6 L391.2,876.7 L390.6,893.4 L390,912.5 L389.5,933.6 L388.9,956.4 L388.3,980.6 L387.8,1005.9 L387.2,1031.8 L386.7,1058.1 L386.1,1084.4 L385.5,1110.4 L385,1136 L384.4,1160.7 L383.8,1184.5 L383.3,1207.1 L382.7,1228.4 L382.1,1248.4 L381.6,1266.9 L381,1284 L380.4,1299.6 L379.9,1313.7 L379.3,1326.4 L378.8,1337.8 L378.2,1347.8 L377.6,1356.7 L377.1,1364.4 L376.5,1371.2 L375.9,1377 L375.4,1381.9 L374.8,1386.1 L374.2,1389.7 L373.7,1392.7 L373.1,1395.2 L372.6,1397.3 L372,1399 L371.4,1400.3 L370.9,1401.5 L370.3,1402.4 L369.7,1403.1 L369.2,1403.7 L368.6,1404.1 L368,1404.5 L367.5,1404.8 L366.9,1405 L366.3,1405.2 L365.8,1405.3 L365.2,1405.4 L364.7,1405.5 L364.1,1405.5 L363.5,1405.6 L363,1405.6 L363,1405.7 L425,1405.7 Z" fill="rgba(0,255,255,0.17)" stroke="none"/>
<path d="M461,1405.7 L460.5,1405.6 L459.9,1405.6 L459.4,1405.6 L458.8,1405.6 L458.2,1405.6 L457.7,1405.6 L457.1,1405.5 L456.5,1405.5 L456,1405.5 L455.4,1405.5 L454.9,1405.4 L454.3,1405.4 L453.7,1405.3 L453.2,1405.2 L452.6,1405.2 L452,1405.1 L451.5,1405 L450.9,1404.8 L450.4,1404.7 L449.8,1404.5 L449.2,1404.4 L448.7,1404.2 L448.1,1403.9 L447.6,1403.7 L447,1403.4 L446.4,1403 L445.9,1402.7 L445.3,1402.2 L444.7,1401.8 L444.2,1401.2 L443.6,1400.7 L443.1,1400 L442.5,1399.3 L441.9,1398.4 L441.4,1397.5 L440.8,1396.5 L440.2,1395.4 L439.7,1394.2 L439.1,1392.9 L438.6,1391.5 L438,1389.9 L437.4,1388.1 L436.9,1386.2 L436.3,1384.2 L435.7,1382 L435.2,1379.5 L434.6,1377 L434.1,1374.2 L433.5,1371.2 L432.9,1367.9 L432.4,1364.5 L431.8,1360.8 L431.3,1356.9 L430.7,1352.8 L430.1,1348.4 L429.6,1343.7 L429,1338.9 L428.4,1333.7 L427.9,1328.3 L427.3,1322.7 L426.8,1316.8 L426.2,1310.7 L425.6,1304.4 L425.1,1297.8 L424.5,1291 L423.9,1284 L423.4,1276.9 L422.8,1269.5 L422.3,1262.1 L421.7,1254.5 L421.1,1246.8 L420.6,1239 L420,1231.2 L419.4,1223.3 L418.9,1215.4 L418.3,1207.6 L417.8,1199.8 L417.2,1192.2 L416.6,1184.6 L416.1,1177.3 L415.5,1170.1 L415,1163.2 L414.4,1156.5 L413.8,1150.1 L413.3,1144 L412.7,1138.3 L412.1,1133 L411.6,1128.1 L411,1123.6 L410.5,1119.6 L409.9,1116.1 L409.3,1113.1 L408.8,1110.7 L408.2,1108.7 L407.6,1107.3 L407.1,1106.5 L406.5,1106.2 L406,1106.5 L405.4,1107.3 L404.8,1108.7 L404.3,1110.7 L403.7,1113.1 L403.1,1116.1 L402.6,1119.6 L402,1123.6 L401.5,1128.1 L400.9,1133 L400.3,1138.3 L399.8,1144 L399.2,1150.1 L398.6,1156.5 L398.1,1163.2 L397.5,1170.1 L397,1177.3 L396.4,1184.6 L395.8,1192.2 L395.3,1199.8 L394.7,1207.6 L394.2,1215.4 L393.6,1223.3 L393,1231.2 L392.5,1239 L391.9,1246.8 L391.3,1254.5 L390.8,1262.1 L390.2,1269.5 L389.7,1276.9 L389.1,1284 L388.5,1291 L388,1297.8 L387.4,1304.4 L386.8,1310.7 L386.3,1316.8 L385.7,1322.7 L385.2,1328.3 L384.6,1333.7 L384,1338.9 L383.5,1343.7 L382.9,1348.4 L382.3,1352.8 L381.8,1356.9 L381.2,1360.8 L380.7,1364.5 L380.1,1367.9 L379.5,1371.2 L379,1374.2 L378.4,1377 L377.9,1379.5 L377.3,1382 L376.7,1384.2 L376.2,1386.2 L375.6,1388.1 L375,1389.9 L374.5,1391.5 L373.9,1392.9 L373.4,1394.2 L372.8,1395.4 L372.2,1396.5 L371.7,1397.5 L371.1,1398.4 L370.5,1399.3 L370,1400 L369.4,1400.7 L368.9,1401.2 L368.3,1401.8 L367.7,1402.2 L367.2,1402.7 L366.6,1403 L366,1403.4 L365.5,1403.7 L364.9,1403.9 L364.4,1404.2 L363.8,1404.4 L363.2,1404.5 L362.7,1404.7 L362.1,1404.8 L361.6,1405 L361,1405.1 L360.4,1405.2 L359.9,1405.2 L359.3,1405.3 L358.7,1405.4 L358.2,1405.4 L357.6,1405.5 L357.1,1405.5 L356.5,1405.5 L355.9,1405.5 L355.4,1405.6 L354.8,1405.6 L354.2,1405.6 L353.7,1405.6 L353.1,1405.6 L352.6,1405.6 L352,1405.7 L352,1405.7 L461,1405.7 Z" fill="rgba(0,0,255,0.14)" stroke="none"/>
<path d="M731.9,1405.6 L730.5,1405.6 L729.1,1405.6 L727.6,1405.6 L726.2,1405.6 L724.8,1405.5 L723.4,1405.5 L722,1405.5 L720.5,1405.4 L719.1,1405.4 L717.7,1405.3 L716.3,1405.3 L714.8,1405.2 L713.4,1405.1 L712,1405 L710.6,1404.9 L709.1,1404.8 L707.7,1404.7 L706.3,1404.5 L704.9,1404.4 L703.4,1404.2 L702,1403.9 L700.6,1403.7 L699.2,1403.4 L697.8,1403.1 L696.3,1402.7 L694.9,1402.3 L693.5,1401.9 L692.1,1401.3 L690.6,1400.8 L689.2,1400.1 L687.8,1399.4 L686.4,1398.7 L684.9,1397.8 L683.5,1396.8 L682.1,1395.8 L680.7,1394.6 L679.2,1393.3 L677.8,1391.9 L676.4,1390.4 L675,1388.7 L673.6,1386.8 L672.1,1384.8 L670.7,1382.6 L669.3,1380.2 L667.9,1377.6 L666.4,1374.8 L665,1371.8 L663.6,1368.6 L662.2,1365 L660.7,1361.3 L659.3,1357.2 L657.9,1352.9 L656.5,1348.3 L655,1343.3 L653.6,1338.1 L652.2,1332.5 L650.8,1326.6 L649.4,1320.3 L647.9,1313.8 L646.5,1306.8 L645.1,1299.5 L643.7,1291.9 L642.2,1283.8 L640.8,1275.5 L639.4,1266.8 L638,1257.7 L636.5,1248.3 L635.1,1238.6 L633.7,1228.5 L632.3,1218.2 L630.8,1207.5 L629.4,1196.6 L628,1185.4 L626.6,1174.1 L625.2,1162.5 L623.7,1150.7 L622.3,1138.8 L620.9,1126.8 L619.5,1114.7 L618,1102.6 L616.6,1090.5 L615.2,1078.4 L613.8,1066.4 L612.3,1054.6 L610.9,1042.8 L609.5,1031.3 L608.1,1020.1 L606.6,1009.1 L605.2,998.5 L603.8,988.3 L602.4,978.5 L601,969.2 L599.5,960.4 L598.1,952.1 L596.7,944.4 L595.3,937.4 L593.8,930.9 L592.4,925.2 L591,920.2 L589.6,915.9 L588.1,912.4 L586.7,909.6 L585.3,907.6 L583.9,906.4 L582.4,906 L581,906.4 L579.6,907.6 L578.2,909.6 L576.8,912.4 L575.3,915.9 L573.9,920.2 L572.5,925.2 L571.1,930.9 L569.6,937.4 L568.2,944.4 L566.8,952.1 L565.4,960.4 L563.9,969.2 L562.5,978.5 L561.1,988.3 L559.7,998.5 L558.2,1009.1 L556.8,1020.1 L555.4,1031.3 L554,1042.8 L552.6,1054.6 L551.1,1066.4 L549.7,1078.4 L548.3,1090.5 L546.9,1102.6 L545.4,1114.7 L544,1126.8 L542.6,1138.8 L541.2,1150.7 L539.7,1162.5 L538.3,1174.1 L536.9,1185.4 L535.5,1196.6 L534,1207.5 L532.6,1218.2 L531.2,1228.5 L529.8,1238.6 L528.4,1248.3 L526.9,1257.7 L525.5,1266.8 L524.1,1275.5 L522.7,1283.8 L521.2,1291.9 L519.8,1299.5 L518.4,1306.8 L517,1313.8 L515.5,1320.3 L514.1,1326.6 L512.7,1332.5 L511.3,1338.1 L509.8,1343.3 L508.4,1348.3 L507,1352.9 L505.6,1357.2 L504.2,1361.3 L502.7,1365 L501.3,1368.6 L499.9,1371.8 L498.5,1374.8 L497,1377.6 L495.6,1380.2 L494.2,1382.6 L492.8,1384.8 L491.3,1386.8 L489.9,1388.7 L488.5,1390.4 L487.1,1391.9 L485.6,1393.3 L484.2,1394.6 L482.8,1395.8 L481.4,1396.8 L480,1397.8 L478.5,1398.7 L477.1,1399.4 L475.7,1400.1 L474.3,1400.8 L472.8,1401.3 L471.4,1401.9 L470,1402.3 L468.6,1402.7 L467.1,1403.1 L465.7,1403.4 L464.3,1403.7 L462.9,1403.9 L461.4,1404.2 L460,1404.4 L458.6,1404.5 L457.2,1404.7 L455.8,1404.8 L454.3,1404.9 L452.9,1405 L451.5,1405.1 L450.1,1405.2 L448.6,1405.3 L447.2,1405.3 L445.8,1405.4 L444.4,1405.4 L442.9,1405.5 L441.5,1405.5 L440.1,1405.5 L438.7,1405.6 L437.2,1405.6 L435.8,1405.6 L434.4,1405.6 L433,1405.6 L433,1405.7 L731.9,1405.7 Z" fill="rgba(255,0,0,0.16)" stroke="none"/>
<path d="M841.8,1405.6 L840.4,1405.5 L839,1405.5 L837.5,1405.5 L836.1,1405.4 L834.7,1405.4 L833.3,1405.3 L831.8,1405.3 L830.4,1405.2 L829,1405.1 L827.6,1405 L826.2,1404.9 L824.7,1404.8 L823.3,1404.6 L821.9,1404.4 L820.5,1404.2 L819,1404 L817.6,1403.8 L816.2,1403.5 L814.8,1403.1 L813.3,1402.7 L811.9,1402.3 L810.5,1401.8 L809.1,1401.3 L807.6,1400.7 L806.2,1400 L804.8,1399.2 L803.4,1398.3 L802,1397.4 L800.5,1396.3 L799.1,1395.1 L797.7,1393.7 L796.3,1392.2 L794.8,1390.6 L793.4,1388.8 L792,1386.7 L790.6,1384.5 L789.1,1382 L787.7,1379.3 L786.3,1376.4 L784.9,1373.2 L783.4,1369.6 L782,1365.8 L780.6,1361.6 L779.2,1357 L777.8,1352 L776.3,1346.7 L774.9,1340.9 L773.5,1334.6 L772.1,1327.9 L770.6,1320.7 L769.2,1312.9 L767.8,1304.7 L766.4,1295.8 L764.9,1286.4 L763.5,1276.3 L762.1,1265.7 L760.7,1254.4 L759.2,1242.4 L757.8,1229.8 L756.4,1216.5 L755,1202.5 L753.6,1187.9 L752.1,1172.6 L750.7,1156.6 L749.3,1139.9 L747.9,1122.6 L746.4,1104.6 L745,1085.9 L743.6,1066.7 L742.2,1046.9 L740.7,1026.5 L739.3,1005.7 L737.9,984.3 L736.5,962.5 L735,940.4 L733.6,917.9 L732.2,895.1 L730.8,872.1 L729.4,849 L727.9,825.9 L726.5,802.7 L725.1,779.6 L723.7,756.6 L722.2,733.9 L720.8,711.5 L719.4,689.5 L718,668 L716.5,647 L715.1,626.7 L713.7,607.2 L712.3,588.4 L710.8,570.6 L709.4,553.7 L708,537.9 L706.6,523.2 L705.2,509.7 L703.7,497.4 L702.3,486.5 L700.9,476.8 L699.5,468.6 L698,461.9 L696.6,456.6 L695.2,452.8 L693.8,450.5 L692.3,449.7 L690.9,450.5 L689.5,452.8 L688.1,456.6 L686.6,461.9 L685.2,468.6 L683.8,476.8 L682.4,486.5 L681,497.4 L679.5,509.7 L678.1,523.2 L676.7,537.9 L675.3,553.7 L673.8,570.6 L672.4,588.4 L671,607.2 L669.6,626.7 L668.1,647 L666.7,668 L665.3,689.5 L663.9,711.5 L662.4,733.9 L661,756.6 L659.6,779.6 L658.2,802.7 L656.8,825.9 L655.3,849 L653.9,872.1 L652.5,895.1 L651.1,917.9 L649.6,940.4 L648.2,962.5 L646.8,984.3 L645.4,1005.7 L643.9,1026.5 L642.5,1046.9 L641.1,1066.7 L639.7,1085.9 L638.2,1104.6 L636.8,1122.6 L635.4,1139.9 L634,1156.6 L632.6,1172.6 L631.1,1187.9 L629.7,1202.5 L628.3,1216.5 L626.9,1229.8 L625.4,1242.4 L624,1254.4 L622.6,1265.7 L621.2,1276.3 L619.7,1286.4 L618.3,1295.8 L616.9,1304.7 L615.5,1312.9 L614,1320.7 L612.6,1327.9 L611.2,1334.6 L609.8,1340.9 L608.4,1346.7 L606.9,1352 L605.5,1357 L604.1,1361.6 L602.7,1365.8 L601.2,1369.6 L599.8,1373.2 L598.4,1376.4 L597,1379.3 L595.5,1382 L594.1,1384.5 L592.7,1386.7 L591.3,1388.8 L589.8,1390.6 L588.4,1392.2 L587,1393.7 L585.6,1395.1 L584.2,1396.3 L582.7,1397.4 L581.3,1398.3 L579.9,1399.2 L578.5,1400 L577,1400.7 L575.6,1401.3 L574.2,1401.8 L572.8,1402.3 L571.3,1402.7 L569.9,1403.1 L568.5,1403.5 L567.1,1403.8 L565.6,1404 L564.2,1404.2 L562.8,1404.4 L561.4,1404.6 L560,1404.8 L558.5,1404.9 L557.1,1405 L555.7,1405.1 L554.3,1405.2 L552.8,1405.3 L551.4,1405.3 L550,1405.4 L548.6,1405.4 L547.1,1405.5 L545.7,1405.5 L544.3,1405.5 L542.9,1405.6 L542.9,1405.7 L841.8,1405.7 Z" fill="rgba(0,128,0,0.145)" stroke="none"/>
<path d="M389.9,1405.7 L389.2,1405.7 L388.6,1405.7 L387.9,1405.7 L387.2,1405.7 L386.6,1405.7 L385.9,1405.7 L385.3,1405.7 L384.6,1405.7 L384,1405.7 L383.3,1405.7 L382.6,1405.7 L382,1405.7 L381.3,1405.7 L380.7,1405.6 L380,1405.6 L379.4,1405.6 L378.7,1405.6 L378,1405.6 L377.4,1405.6 L376.7,1405.6 L376.1,1405.6 L375.4,1405.5 L374.8,1405.5 L374.1,1405.5 L373.4,1405.5 L372.8,1405.4 L372.1,1405.4 L371.5,1405.4 L370.8,1405.3 L370.2,1405.3 L369.5,1405.2 L368.9,1405.1 L368.2,1405.1 L367.5,1405 L366.9,1404.9 L366.2,1404.8 L365.6,1404.7 L364.9,1404.6 L364.3,1404.5 L363.6,1404.4 L362.9,1404.2 L362.3,1404 L361.6,1403.9 L361,1403.7 L360.3,1403.5 L359.7,1403.3 L359,1403 L358.3,1402.8 L357.7,1402.5 L357,1402.2 L356.4,1401.9 L355.7,1401.5 L355.1,1401.2 L354.4,1400.8 L353.7,1400.4 L353.1,1399.9 L352.4,1399.4 L351.8,1399 L351.1,1398.4 L350.5,1397.9 L349.8,1397.3 L349.2,1396.7 L348.5,1396.1 L347.8,1395.4 L347.2,1394.7 L346.5,1394 L345.9,1393.3 L345.2,1392.5 L344.6,1391.7 L343.9,1390.9 L343.2,1390.1 L342.6,1389.2 L341.9,1388.3 L341.3,1387.4 L340.6,1386.5 L340,1385.6 L339.3,1384.7 L338.6,1383.8 L338,1382.8 L337.3,1381.9 L336.7,1380.9 L336,1380 L335.4,1379.1 L334.7,1378.1 L334,1377.2 L333.4,1376.3 L332.7,1375.5 L332.1,1374.6 L331.4,1373.8 L330.8,1373 L330.1,1372.3 L329.5,1371.6 L328.8,1370.9 L328.1,1370.3 L327.5,1369.7 L326.8,1369.2 L326.2,1368.7 L325.5,1368.3 L324.9,1367.9 L324.2,1367.6 L323.5,1367.4 L322.9,1367.2 L322.2,1367.1 L321.6,1367 L320.9,1367 L320.3,1367.1 L319.6,1367.2 L318.9,1367.4 L318.3,1367.6 L317.6,1367.9 L317,1368.3 L316.3,1368.7 L315.7,1369.2 L315,1369.7 L314.3,1370.3 L313.7,1370.9 L313,1371.6 L312.4,1372.3 L311.7,1373 L311.1,1373.8 L310.4,1374.6 L309.7,1375.5 L309.1,1376.3 L308.4,1377.2 L307.8,1378.1 L307.1,1379.1 L306.5,1380 L305.8,1380.9 L305.2,1381.9 L304.5,1382.8 L303.8,1383.8 L303.2,1384.7 L302.5,1385.6 L301.9,1386.5 L301.2,1387.4 L300.6,1388.3 L299.9,1389.2 L299.2,1390.1 L298.6,1390.9 L297.9,1391.7 L297.3,1392.5 L296.6,1393.3 L296,1394 L295.3,1394.7 L294.6,1395.4 L294,1396.1 L293.3,1396.7 L292.7,1397.3 L292,1397.9 L291.4,1398.4 L290.7,1399 L290,1399.4 L289.4,1399.9 L288.7,1400.4 L288.1,1400.8 L287.4,1401.2 L286.8,1401.5 L286.1,1401.9 L285.5,1402.2 L284.8,1402.5 L284.1,1402.8 L283.5,1403 L282.8,1403.3 L282.2,1403.5 L281.5,1403.7 L280.9,1403.9 L280.2,1404 L279.5,1404.2 L278.9,1404.4 L278.2,1404.5 L277.6,1404.6 L276.9,1404.7 L276.3,1404.8 L275.6,1404.9 L274.9,1405 L274.3,1405.1 L273.6,1405.1 L273,1405.2 L272.3,1405.3 L271.7,1405.3 L271,1405.4 L270.3,1405.4 L269.7,1405.4 L269,1405.5 L268.4,1405.5 L267.7,1405.5 L267.1,1405.5 L266.4,1405.6 L265.8,1405.6 L265.1,1405.6 L264.4,1405.6 L263.8,1405.6 L263.1,1405.6 L262.5,1405.6 L261.8,1405.6 L261.2,1405.7 L260.5,1405.7 L259.8,1405.7 L259.2,1405.7 L258.5,1405.7 L257.9,1405.7 L257.2,1405.7 L256.6,1405.7 L255.9,1405.7 L255.2,1405.7 L254.6,1405.7 L253.9,1405.7 L253.3,1405.7 L252.6,1405.7" fill="none" stroke="#8c8c14" stroke-width="3"/>
<path d="M425,1405.6 L424.4,1405.6 L423.9,1405.5 L423.3,1405.5 L422.8,1405.4 L422.2,1405.3 L421.6,1405.2 L421.1,1405 L420.5,1404.8 L419.9,1404.5 L419.4,1404.1 L418.8,1403.7 L418.2,1403.1 L417.7,1402.4 L417.1,1401.5 L416.5,1400.3 L416,1399 L415.4,1397.3 L414.9,1395.2 L414.3,1392.7 L413.7,1389.7 L413.2,1386.1 L412.6,1381.9 L412,1377 L411.5,1371.2 L410.9,1364.4 L410.3,1356.7 L409.8,1347.8 L409.2,1337.8 L408.6,1326.4 L408.1,1313.7 L407.5,1299.6 L407,1284 L406.4,1266.9 L405.8,1248.4 L405.3,1228.4 L404.7,1207.1 L404.1,1184.5 L403.6,1160.7 L403,1136 L402.4,1110.4 L401.9,1084.4 L401.3,1058.1 L400.8,1031.8 L400.2,1005.9 L399.6,980.6 L399.1,956.4 L398.5,933.6 L397.9,912.5 L397.4,893.4 L396.8,876.7 L396.2,862.6 L395.7,851.4 L395.1,843.3 L394.5,838.4 L394,836.7 L393.4,838.4 L392.9,843.3 L392.3,851.4 L391.7,862.6 L391.2,876.7 L390.6,893.4 L390,912.5 L389.5,933.6 L388.9,956.4 L388.3,980.6 L387.8,1005.9 L387.2,1031.8 L386.7,1058.1 L386.1,1084.4 L385.5,1110.4 L385,1136 L384.4,1160.7 L383.8,1184.5 L383.3,1207.1 L382.7,1228.4 L382.1,1248.4 L381.6,1266.9 L381,1284 L380.4,1299.6 L379.9,1313.7 L379.3,1326.4 L378.8,1337.8 L378.2,1347.8 L377.6,1356.7 L377.1,1364.4 L376.5,1371.2 L375.9,1377 L375.4,1381.9 L374.8,1386.1 L374.2,1389.7 L373.7,1392.7 L373.1,1395.2 L372.6,1397.3 L372,1399 L371.4,1400.3 L370.9,1401.5 L370.3,1402.4 L369.7,1403.1 L369.2,1403.7 L368.6,1404.1 L368,1404.5 L367.5,1404.8 L366.9,1405 L366.3,1405.2 L365.8,1405.3 L365.2,1405.4 L364.7,1405.5 L364.1,1405.5 L363.5,1405.6 L363,1405.6" fill="none" stroke="#00ffff" stroke-width="3"/>
<path d="M461,1405.7 L460.5,1405.6 L459.9,1405.6 L459.4,1405.6 L458.8,1405.6 L458.2,1405.6 L457.7,1405.6 L457.1,1405.5 L456.5,1405.5 L456,1405.5 L455.4,1405.5 L454.9,1405.4 L454.3,1405.4 L453.7,1405.3 L453.2,1405.2 L452.6,1405.2 L452,1405.1 L451.5,1405 L450.9,1404.8 L450.4,1404.7 L449.8,1404.5 L449.2,1404.4 L448.7,1404.2 L448.1,1403.9 L447.6,1403.7 L447,1403.4 L446.4,1403 L445.9,1402.7 L445.3,1402.2 L444.7,1401.8 L444.2,1401.2 L443.6,1400.7 L443.1,1400 L442.5,1399.3 L441.9,1398.4 L441.4,1397.5 L440.8,1396.5 L440.2,1395.4 L439.7,1394.2 L439.1,1392.9 L438.6,1391.5 L438,1389.9 L437.4,1388.1 L436.9,1386.2 L436.3,1384.2 L435.7,1382 L435.2,1379.5 L434.6,1377 L434.1,1374.2 L433.5,1371.2 L432.9,1367.9 L432.4,1364.5 L431.8,1360.8 L431.3,1356.9 L430.7,1352.8 L430.1,1348.4 L429.6,1343.7 L429,1338.9 L428.4,1333.7 L427.9,1328.3 L427.3,1322.7 L426.8,1316.8 L426.2,1310.7 L425.6,1304.4 L425.1,1297.8 L424.5,1291 L423.9,1284 L423.4,1276.9 L422.8,1269.5 L422.3,1262.1 L421.7,1254.5 L421.1,1246.8 L420.6,1239 L420,1231.2 L419.4,1223.3 L418.9,1215.4 L418.3,1207.6 L417.8,1199.8 L417.2,1192.2 L416.6,1184.6 L416.1,1177.3 L415.5,1170.1 L415,1163.2 L414.4,1156.5 L413.8,1150.1 L413.3,1144 L412.7,1138.3 L412.1,1133 L411.6,1128.1 L411,1123.6 L410.5,1119.6 L409.9,1116.1 L409.3,1113.1 L408.8,1110.7 L408.2,1108.7 L407.6,1107.3 L407.1,1106.5 L406.5,1106.2 L406,1106.5 L405.4,1107.3 L404.8,1108.7 L404.3,1110.7 L403.7,1113.1 L403.1,1116.1 L402.6,1119.6 L402,1123.6 L401.5,1128.1 L400.9,1133 L400.3,1138.3 L399.8,1144 L399.2,1150.1 L398.6,1156.5 L398.1,1163.2 L397.5,1170.1 L397,1177.3 L396.4,1184.6 L395.8,1192.2 L395.3,1199.8 L394.7,1207.6 L394.2,1215.4 L393.6,1223.3 L393,1231.2 L392.5,1239 L391.9,1246.8 L391.3,1254.5 L390.8,1262.1 L390.2,1269.5 L389.7,1276.9 L389.1,1284 L388.5,1291 L388,1297.8 L387.4,1304.4 L386.8,1310.7 L386.3,1316.8 L385.7,1322.7 L385.2,1328.3 L384.6,1333.7 L384,1338.9 L383.5,1343.7 L382.9,1348.4 L382.3,1352.8 L381.8,1356.9 L381.2,1360.8 L380.7,1364.5 L380.1,1367.9 L379.5,1371.2 L379,1374.2 L378.4,1377 L377.9,1379.5 L377.3,1382 L376.7,1384.2 L376.2,1386.2 L375.6,1388.1 L375,1389.9 L374.5,1391.5 L373.9,1392.9 L373.4,1394.2 L372.8,1395.4 L372.2,1396.5 L371.7,1397.5 L371.1,1398.4 L370.5,1399.3 L370,1400 L369.4,1400.7 L368.9,1401.2 L368.3,1401.8 L367.7,1402.2 L367.2,1402.7 L366.6,1403 L366,1403.4 L365.5,1403.7 L364.9,1403.9 L364.4,1404.2 L363.8,1404.4 L363.2,1404.5 L362.7,1404.7 L362.1,1404.8 L361.6,1405 L361,1405.1 L360.4,1405.2 L359.9,1405.2 L359.3,1405.3 L358.7,1405.4 L358.2,1405.4 L357.6,1405.5 L357.1,1405.5 L356.5,1405.5 L355.9,1405.5 L355.4,1405.6 L354.8,1405.6 L354.2,1405.6 L353.7,1405.6 L353.1,1405.6 L352.6,1405.6 L352,1405.7" fill="none" stroke="#1515ff" stroke-width="3"/>
<path d="M731.9,1405.6 L730.5,1405.6 L729.1,1405.6 L727.6,1405.6 L726.2,1405.6 L724.8,1405.5 L723.4,1405.5 L722,1405.5 L720.5,1405.4 L719.1,1405.4 L717.7,1405.3 L716.3,1405.3 L714.8,1405.2 L713.4,1405.1 L712,1405 L710.6,1404.9 L709.1,1404.8 L707.7,1404.7 L706.3,1404.5 L704.9,1404.4 L703.4,1404.2 L702,1403.9 L700.6,1403.7 L699.2,1403.4 L697.8,1403.1 L696.3,1402.7 L694.9,1402.3 L693.5,1401.9 L692.1,1401.3 L690.6,1400.8 L689.2,1400.1 L687.8,1399.4 L686.4,1398.7 L684.9,1397.8 L683.5,1396.8 L682.1,1395.8 L680.7,1394.6 L679.2,1393.3 L677.8,1391.9 L676.4,1390.4 L675,1388.7 L673.6,1386.8 L672.1,1384.8 L670.7,1382.6 L669.3,1380.2 L667.9,1377.6 L666.4,1374.8 L665,1371.8 L663.6,1368.6 L662.2,1365 L660.7,1361.3 L659.3,1357.2 L657.9,1352.9 L656.5,1348.3 L655,1343.3 L653.6,1338.1 L652.2,1332.5 L650.8,1326.6 L649.4,1320.3 L647.9,1313.8 L646.5,1306.8 L645.1,1299.5 L643.7,1291.9 L642.2,1283.8 L640.8,1275.5 L639.4,1266.8 L638,1257.7 L636.5,1248.3 L635.1,1238.6 L633.7,1228.5 L632.3,1218.2 L630.8,1207.5 L629.4,1196.6 L628,1185.4 L626.6,1174.1 L625.2,1162.5 L623.7,1150.7 L622.3,1138.8 L620.9,1126.8 L619.5,1114.7 L618,1102.6 L616.6,1090.5 L615.2,1078.4 L613.8,1066.4 L612.3,1054.6 L610.9,1042.8 L609.5,1031.3 L608.1,1020.1 L606.6,1009.1 L605.2,998.5 L603.8,988.3 L602.4,978.5 L601,969.2 L599.5,960.4 L598.1,952.1 L596.7,944.4 L595.3,937.4 L593.8,930.9 L592.4,925.2 L591,920.2 L589.6,915.9 L588.1,912.4 L586.7,909.6 L585.3,907.6 L583.9,906.4 L582.4,906 L581,906.4 L579.6,907.6 L578.2,909.6 L576.8,912.4 L575.3,915.9 L573.9,920.2 L572.5,925.2 L571.1,930.9 L569.6,937.4 L568.2,944.4 L566.8,952.1 L565.4,960.4 L563.9,969.2 L562.5,978.5 L561.1,988.3 L559.7,998.5 L558.2,1009.1 L556.8,1020.1 L555.4,1031.3 L554,1042.8 L552.6,1054.6 L551.1,1066.4 L549.7,1078.4 L548.3,1090.5 L546.9,1102.6 L545.4,1114.7 L544,1126.8 L542.6,1138.8 L541.2,1150.7 L539.7,1162.5 L538.3,1174.1 L536.9,1185.4 L535.5,1196.6 L534,1207.5 L532.6,1218.2 L531.2,1228.5 L529.8,1238.6 L528.4,1248.3 L526.9,1257.7 L525.5,1266.8 L524.1,1275.5 L522.7,1283.8 L521.2,1291.9 L519.8,1299.5 L518.4,1306.8 L517,1313.8 L515.5,1320.3 L514.1,1326.6 L512.7,1332.5 L511.3,1338.1 L509.8,1343.3 L508.4,1348.3 L507,1352.9 L505.6,1357.2 L504.2,1361.3 L502.7,1365 L501.3,1368.6 L499.9,1371.8 L498.5,1374.8 L497,1377.6 L495.6,1380.2 L494.2,1382.6 L492.8,1384.8 L491.3,1386.8 L489.9,1388.7 L488.5,1390.4 L487.1,1391.9 L485.6,1393.3 L484.2,1394.6 L482.8,1395.8 L481.4,1396.8 L480,1397.8 L478.5,1398.7 L477.1,1399.4 L475.7,1400.1 L474.3,1400.8 L472.8,1401.3 L471.4,1401.9 L470,1402.3 L468.6,1402.7 L467.1,1403.1 L465.7,1403.4 L464.3,1403.7 L462.9,1403.9 L461.4,1404.2 L460,1404.4 L458.6,1404.5 L457.2,1404.7 L455.8,1404.8 L454.3,1404.9 L452.9,1405 L451.5,1405.1 L450.1,1405.2 L448.6,1405.3 L447.2,1405.3 L445.8,1405.4 L444.4,1405.4 L442.9,1405.5 L441.5,1405.5 L440.1,1405.5 L438.7,1405.6 L437.2,1405.6 L435.8,1405.6 L434.4,1405.6 L433,1405.6" fill="none" stroke="#ff0000" stroke-width="3"/>
<path d="M841.8,1405.6 L840.4,1405.5 L839,1405.5 L837.5,1405.5 L836.1,1405.4 L834.7,1405.4 L833.3,1405.3 L831.8,1405.3 L830.4,1405.2 L829,1405.1 L827.6,1405 L826.2,1404.9 L824.7,1404.8 L823.3,1404.6 L821.9,1404.4 L820.5,1404.2 L819,1404 L817.6,1403.8 L816.2,1403.5 L814.8,1403.1 L813.3,1402.7 L811.9,1402.3 L810.5,1401.8 L809.1,1401.3 L807.6,1400.7 L806.2,1400 L804.8,1399.2 L803.4,1398.3 L802,1397.4 L800.5,1396.3 L799.1,1395.1 L797.7,1393.7 L796.3,1392.2 L794.8,1390.6 L793.4,1388.8 L792,1386.7 L790.6,1384.5 L789.1,1382 L787.7,1379.3 L786.3,1376.4 L784.9,1373.2 L783.4,1369.6 L782,1365.8 L780.6,1361.6 L779.2,1357 L777.8,1352 L776.3,1346.7 L774.9,1340.9 L773.5,1334.6 L772.1,1327.9 L770.6,1320.7 L769.2,1312.9 L767.8,1304.7 L766.4,1295.8 L764.9,1286.4 L763.5,1276.3 L762.1,1265.7 L760.7,1254.4 L759.2,1242.4 L757.8,1229.8 L756.4,1216.5 L755,1202.5 L753.6,1187.9 L752.1,1172.6 L750.7,1156.6 L749.3,1139.9 L747.9,1122.6 L746.4,1104.6 L745,1085.9 L743.6,1066.7 L742.2,1046.9 L740.7,1026.5 L739.3,1005.7 L737.9,984.3 L736.5,962.5 L735,940.4 L733.6,917.9 L732.2,895.1 L730.8,872.1 L729.4,849 L727.9,825.9 L726.5,802.7 L725.1,779.6 L723.7,756.6 L722.2,733.9 L720.8,711.5 L719.4,689.5 L718,668 L716.5,647 L715.1,626.7 L713.7,607.2 L712.3,588.4 L710.8,570.6 L709.4,553.7 L708,537.9 L706.6,523.2 L705.2,509.7 L703.7,497.4 L702.3,486.5 L700.9,476.8 L699.5,468.6 L698,461.9 L696.6,456.6 L695.2,452.8 L693.8,450.5 L692.3,449.7 L690.9,450.5 L689.5,452.8 L688.1,456.6 L686.6,461.9 L685.2,468.6 L683.8,476.8 L682.4,486.5 L681,497.4 L679.5,509.7 L678.1,523.2 L676.7,537.9 L675.3,553.7 L673.8,570.6 L672.4,588.4 L671,607.2 L669.6,626.7 L668.1,647 L666.7,668 L665.3,689.5 L663.9,711.5 L662.4,733.9 L661,756.6 L659.6,779.6 L658.2,802.7 L656.8,825.9 L655.3,849 L653.9,872.1 L652.5,895.1 L651.1,917.9 L649.6,940.4 L648.2,962.5 L646.8,984.3 L645.4,1005.7 L643.9,1026.5 L642.5,1046.9 L641.1,1066.7 L639.7,1085.9 L638.2,1104.6 L636.8,1122.6 L635.4,1139.9 L634,1156.6 L632.6,1172.6 L631.1,1187.9 L629.7,1202.5 L628.3,1216.5 L626.9,1229.8 L625.4,1242.4 L624,1254.4 L622.6,1265.7 L621.2,1276.3 L619.7,1286.4 L618.3,1295.8 L616.9,1304.7 L615.5,1312.9 L614,1320.7 L612.6,1327.9 L611.2,1334.6 L609.8,1340.9 L608.4,1346.7 L606.9,1352 L605.5,1357 L604.1,1361.6 L602.7,1365.8 L601.2,1369.6 L599.8,1373.2 L598.4,1376.4 L597,1379.3 L595.5,1382 L594.1,1384.5 L592.7,1386.7 L591.3,1388.8 L589.8,1390.6 L588.4,1392.2 L587,1393.7 L585.6,1395.1 L584.2,1396.3 L582.7,1397.4 L581.3,1398.3 L579.9,1399.2 L578.5,1400 L577,1400.7 L575.6,1401.3 L574.2,1401.8 L572.8,1402.3 L571.3,1402.7 L569.9,1403.1 L568.5,1403.5 L567.1,1403.8 L565.6,1404 L564.2,1404.2 L562.8,1404.4 L561.4,1404.6 L560,1404.8 L558.5,1404.9 L557.1,1405 L555.7,1405.1 L554.3,1405.2 L552.8,1405.3 L551.4,1405.3 L550,1405.4 L548.6,1405.4 L547.1,1405.5 L545.7,1405.5 L544.3,1405.5 L542.9,1405.6" fill="none" stroke="#1e8c1e" stroke-width="3"/>
<line x1="160" y1="1405.7" x2="2176" y2="1405.7" stroke="#948f1c" stroke-width="3.6"/>
<line x1="693.6" y1="1390" x2="693.6" y2="279" stroke="#00b050" stroke-width="3"/><path d="M693.6,263 L685.1,280 L702.1,280 Z" fill="#00b050"/>
<line x1="585.1" y1="1398" x2="585.1" y2="838.7" stroke="#ff7070" stroke-width="3"/><path d="M585.1,821.2 L575.6,839.7 L594.6,839.7 Z" fill="#ff0000"/>
<line x1="766.8" y1="1393" x2="766.8" y2="1075.6" stroke="#b6b6b6" stroke-width="3.0"/><path d="M766.8,1058.6 L757.8,1076.6 L775.8,1076.6 Z" fill="#b6b6b6"/>
<line x1="948.4" y1="1400" x2="948.4" y2="1107.5" stroke="#b6b6b6" stroke-width="3.0"/><path d="M948.4,1091.5 L939.4,1108.5 L957.4,1108.5 Z" fill="#b6b6b6"/>
<line x1="1262.5" y1="1393" x2="1262.5" y2="1207.5" stroke="#b6b6b6" stroke-width="3.0"/><path d="M1262.5,1191.5 L1253.5,1208.5 L1271.5,1208.5 Z" fill="#b6b6b6"/>
<line x1="1640.6" y1="1401" x2="1640.6" y2="1247.6" stroke="#b6b6b6" stroke-width="3.0"/><path d="M1640.6,1231.6 L1631.6,1248.6 L1649.6,1248.6 Z" fill="#b6b6b6"/>
<path d="M312.4,1370.7 L313.8,1367.9 L315.4,1366 L316.4,1365.3 L317.8,1364.5 L320.5,1363.9 L323.4,1364 L326.4,1364.6 L336.2,1367.8 L339,1368.5 L341.6,1368.8 L343.6,1368.5 L345.8,1367.5 L347.9,1365.9 L350,1363.4 L352.3,1359.9 L356,1353 L359.5,1344.5 L363.1,1333.3 L366.3,1321.5 L368.9,1309.7 L371.1,1296.7 L372.9,1283 L374.4,1268.1 L376.7,1234.7 L378.9,1192.3 L380.7,1149.2 L382,1103 L382.9,1064 L383.5,1020.2 L385.9,776.4 L386.8,709.8 L387.8,649.9 L389,594.8 L391.5,497.8 L391.9,470.7 L392.1,431.7 L392.5,423.8 L393.2,417 L394.4,410.2 L395.5,405.5 L396.3,403.9 L396.5,403.7 L396.9,403.9 L397.4,405.6 L397.9,408.6 L399,421.7 L400.1,441.5 L401.4,481.7 L402.8,560.9 L403.7,594 L405.3,634.8 L407.7,679.6 L411.9,741.7 L420.6,857.4 L423.1,883.2 L424.5,893.9 L426,904 L428.2,916.3 L430.7,927.4 L433.6,938.3 L436.9,948.6 L442.7,964.3 L458.2,1002 L462.1,1012.6 L472.5,1042.5 L476,1051.5 L479.6,1059.9 L483.7,1068.4 L487.6,1075.6 L490.6,1080.2 L493.7,1083.5 L495.3,1084.7 L496.6,1085.3 L498.4,1085.9 L499.9,1086 L501.4,1085.9 L503,1085.5 L506.8,1083.7 L511.6,1080.3 L515.7,1076.4 L519.5,1071.6 L522.8,1066.5 L525.8,1060.6 L528.6,1053.9 L532.7,1043.1 L536.8,1031.1 L540.9,1017.9 L544.7,1004.7 L548.4,990.4 L552,975.3 L558.1,946.1 L567.6,894.7 L569.5,885.7 L571.2,879.7 L573.4,874 L576.2,868.5 L578.9,864.5 L580.3,862.9 L581.8,861.9 L583.2,861.4 L584.2,861.6 L585.5,862.3 L586.7,863.7 L587.9,865.5 L589.2,868.3 L594,880.3 L600.8,899.9 L607.3,918.1 L610.1,926.7 L614.1,941.2 L615.8,946.7 L617.4,950.7 L619.2,953.4 L620,954.1 L620.8,954.4 L621.7,954.4 L622.6,954 L623.5,953.3 L624.8,951.9 L627.1,948.4 L629.8,942.7 L632.4,936 L634.5,929.5 L636.2,922.6 L637.9,913.1 L639.3,900.9 L642.2,867.1 L644.9,829.8 L647.8,784.7 L655.1,663 L667.1,489.1 L675.8,347 L677.5,322.6 L679.2,305 L681.4,286.6 L684.1,266.3 L687,247.7 L689.2,236.4 L691.3,227.9 L692.2,225.2 L693.2,223.2 L694.1,221.9 L694.9,221.6 L695.7,221.8 L696.5,222.7 L697.2,224.1 L698.2,226.5 L699.8,232.5 L701.7,241.5 L704,255.1 L706.6,273.2 L708.8,290.6 L710.6,306.8 L713.2,337 L720.1,440.9 L728.3,578.2 L730.6,608.5 L733.2,640 L736.9,678.7 L741.3,721.5 L755.2,844.1 L757.5,863.3 L759.5,878.2 L761.6,891.9 L763.8,904.3 L766.6,917.2 L769.4,928.8 L772.7,940.2 L776.2,951 L780.2,961.5 L784.7,971.9 L790,983.3 L796,995.1 L805.1,1012 L814,1027.6 L822.4,1041.4 L830.9,1054.5 L839.8,1067.3 L848.6,1078.9 L857.4,1089.6 L865.2,1098.1 L869.4,1102.3 L873.8,1106.3 L878,1109.6 L882.2,1112.7 L886.7,1115.5 L890.7,1117.7 L895.5,1119.9 L899.9,1121.5 L907.3,1123.6 L916.3,1125.1 L924.9,1126 L947.1,1127.7 L962.6,1129.7 L970.2,1131 L978.2,1132.7 L994.2,1136.7 L1010.1,1141.7 L1027.6,1148 L1044.5,1154.6 L1089.2,1172.5 L1112.7,1181.4 L1124,1185.3 L1134.8,1188.8 L1145.1,1191.9 L1154.9,1194.5 L1163.7,1196.6 L1171.9,1198.3 L1180.1,1199.7 L1188.5,1200.9 L1203.5,1202.3 L1234.2,1203.6 L1247.4,1204.6 L1255.1,1205.5 L1263.4,1206.7 L1272.3,1208.2 L1281,1210 L1296.7,1213.7 L1314.7,1218.6 L1385.4,1239.8 L1424.1,1251 L1453.6,1258.9 L1480.9,1265.8 L1497.2,1269.6 L1513.6,1273.1 L1528.9,1276.2 L1544.2,1279 L1568.5,1282.9 L1629.8,1291.6 L1647,1294.5 L1662.2,1297.5 L1675.7,1300.6 L1689.6,1304.2 L1705.2,1308.6 L1749,1321.4 L1762.9,1325.1 L1775.1,1328.1" fill="none" stroke="#000" stroke-width="2.9" stroke-linejoin="round"/>
<rect x="649" y="25.8" width="87.4" height="224" fill="none" stroke="#92d050" stroke-width="6.5" stroke-dasharray="6.5 6.3"/><text transform="translate(710.5,140.8) rotate(-90)" text-anchor="middle" font-size="53" fill="#000">3612</text>
<rect x="534" y="579.6" width="84.5" height="218.8" fill="none" stroke="#ff0000" stroke-width="6.5" stroke-dasharray="6.5 6.3"/><text transform="translate(594,692) rotate(-90)" text-anchor="middle" font-size="53" fill="#000">3661</text>
<rect x="723" y="835.7" width="87.1" height="221.5" fill="none" stroke="#b4b4b4" stroke-width="6" stroke-dasharray="6.5 6.3"/><text transform="translate(784.3,949.5) rotate(-90)" text-anchor="middle" font-size="53" fill="#000">3581</text>
<rect x="903" y="865.4" width="86.7" height="221.5" fill="none" stroke="#b4b4b4" stroke-width="6" stroke-dasharray="6.5 6.3"/><text transform="translate(964.1,979.2) rotate(-90)" text-anchor="middle" font-size="53" fill="#000">3505</text>
<rect x="1220" y="949" width="84" height="217" fill="none" stroke="#b4b4b4" stroke-width="6" stroke-dasharray="6.5 6.3"/><text transform="translate(1279.8,1060.5) rotate(-90)" text-anchor="middle" font-size="53" fill="#000">3362</text>
<rect x="1597.8" y="991" width="85.2" height="217.5" fill="none" stroke="#b4b4b4" stroke-width="6" stroke-dasharray="6.5 6.3"/><text transform="translate(1658.2,1102.8) rotate(-90)" text-anchor="middle" font-size="53" fill="#000">3214</text>
<line x1="160" y1="44" x2="160" y2="1531.2" stroke="#000" stroke-width="5.2"/>
<line x1="142" y1="1528.7" x2="2178" y2="1528.7" stroke="#000" stroke-width="5.2"/>
<line x1="272" y1="1528.7" x2="272" y2="1559.7" stroke="#000" stroke-width="5"/>
<text x="272" y="1622.5" text-anchor="middle" font-size="60">3800</text>
<line x1="495.8" y1="1528.7" x2="495.8" y2="1545.7" stroke="#000" stroke-width="5"/>
<line x1="719.6" y1="1528.7" x2="719.6" y2="1559.7" stroke="#000" stroke-width="5"/>
<text x="719.6" y="1622.5" text-anchor="middle" font-size="60">3600</text>
<line x1="943.5" y1="1528.7" x2="943.5" y2="1545.7" stroke="#000" stroke-width="5"/>
<line x1="1167.3" y1="1528.7" x2="1167.3" y2="1559.7" stroke="#000" stroke-width="5"/>
<text x="1167.3" y="1622.5" text-anchor="middle" font-size="60">3400</text>
<line x1="1391.1" y1="1528.7" x2="1391.1" y2="1545.7" stroke="#000" stroke-width="5"/>
<line x1="1614.9" y1="1528.7" x2="1614.9" y2="1559.7" stroke="#000" stroke-width="5"/>
<text x="1614.9" y="1622.5" text-anchor="middle" font-size="60">3200</text>
<line x1="1838.8" y1="1528.7" x2="1838.8" y2="1545.7" stroke="#000" stroke-width="5"/>
<line x1="2062.6" y1="1528.7" x2="2062.6" y2="1559.7" stroke="#000" stroke-width="5"/>
<text x="2062.6" y="1622.5" text-anchor="middle" font-size="60">3000</text>
<line x1="155.5" y1="44" x2="160" y2="44" stroke="#000" stroke-width="3"/>
<line x1="155.5" y1="167.8" x2="160" y2="167.8" stroke="#000" stroke-width="3"/>
<line x1="155.5" y1="291.6" x2="160" y2="291.6" stroke="#000" stroke-width="3"/>
<line x1="155.5" y1="415.4" x2="160" y2="415.4" stroke="#000" stroke-width="3"/>
<line x1="155.5" y1="539.2" x2="160" y2="539.2" stroke="#000" stroke-width="3"/>
<line x1="155.5" y1="663" x2="160" y2="663" stroke="#000" stroke-width="3"/>
<line x1="155.5" y1="786.7" x2="160" y2="786.7" stroke="#000" stroke-width="3"/>
<line x1="155.5" y1="910.5" x2="160" y2="910.5" stroke="#000" stroke-width="3"/>
<line x1="155.5" y1="1034.3" x2="160" y2="1034.3" stroke="#000" stroke-width="3"/>
<line x1="155.5" y1="1158.1" x2="160" y2="1158.1" stroke="#000" stroke-width="3"/>
<line x1="155.5" y1="1281.9" x2="160" y2="1281.9" stroke="#000" stroke-width="3"/>
<line x1="155.5" y1="1405.7" x2="160" y2="1405.7" stroke="#000" stroke-width="3"/>
<clipPath id="clipb"><rect x="1033" y="0" width="1002.7" height="3836"/></clipPath>
<g clip-path="url(#clipb)">
<path d="M1956.2,745.3 L1954.5,745.3 L1952.9,745.3 L1951.2,745.3 L1949.5,745.3 L1947.8,745.3 L1946.2,745.3 L1944.5,745.2 L1942.8,745.2 L1941.1,745.2 L1939.5,745.2 L1937.8,745.2 L1936.1,745.2 L1934.4,745.2 L1932.8,745.2 L1931.1,745.2 L1929.4,745.2 L1927.7,745.2 L1926.1,745.2 L1924.4,745.2 L1922.7,745.2 L1921,745.2 L1919.4,745.2 L1917.7,745.2 L1916,745.1 L1914.4,745.1 L1912.7,745.1 L1911,745.1 L1909.3,745.1 L1907.7,745.1 L1906,745.1 L1904.3,745.1 L1902.6,745.1 L1901,745 L1899.3,745 L1897.6,745 L1895.9,745 L1894.3,745 L1892.6,745 L1890.9,744.9 L1889.2,744.9 L1887.6,744.9 L1885.9,744.9 L1884.2,744.8 L1882.6,744.8 L1880.9,744.8 L1879.2,744.7 L1877.5,744.7 L1875.9,744.7 L1874.2,744.7 L1872.5,744.6 L1870.8,744.6 L1869.2,744.5 L1867.5,744.5 L1865.8,744.4 L1864.1,744.4 L1862.5,744.4 L1860.8,744.3 L1859.1,744.2 L1857.4,744.2 L1855.8,744.1 L1854.1,744.1 L1852.4,744 L1850.7,743.9 L1849.1,743.9 L1847.4,743.8 L1845.7,743.7 L1844.1,743.6 L1842.4,743.5 L1840.7,743.4 L1839,743.4 L1837.4,743.3 L1835.7,743.1 L1834,743 L1832.3,742.9 L1830.7,742.8 L1829,742.7 L1827.3,742.6 L1825.6,742.4 L1824,742.3 L1822.3,742.1 L1820.6,742 L1818.9,741.8 L1817.3,741.7 L1815.6,741.5 L1813.9,741.3 L1812.2,741.1 L1810.6,740.9 L1808.9,740.7 L1807.2,740.5 L1805.6,740.3 L1803.9,740.1 L1802.2,739.9 L1800.5,739.6 L1798.9,739.4 L1797.2,739.1 L1795.5,738.8 L1793.8,738.5 L1792.2,738.2 L1790.5,737.9 L1788.8,737.6 L1787.1,737.3 L1785.5,737 L1783.8,736.6 L1782.1,736.3 L1780.4,735.9 L1778.8,735.5 L1777.1,735.1 L1775.4,734.7 L1773.8,734.2 L1772.1,733.8 L1770.4,733.3 L1768.7,732.9 L1767.1,732.4 L1765.4,731.9 L1763.7,731.4 L1762,730.8 L1760.4,730.3 L1758.7,729.7 L1757,729.1 L1755.3,728.5 L1753.7,727.9 L1752,727.3 L1750.3,726.6 L1748.6,725.9 L1747,725.2 L1745.3,724.5 L1743.6,723.8 L1741.9,723 L1740.3,722.2 L1738.6,721.4 L1736.9,720.6 L1735.3,719.8 L1733.6,718.9 L1731.9,718 L1730.2,717.1 L1728.6,716.2 L1726.9,715.2 L1725.2,714.2 L1723.5,713.2 L1721.9,712.2 L1720.2,711.2 L1718.5,710.1 L1716.8,709 L1715.2,707.9 L1713.5,706.7 L1711.8,705.6 L1710.1,704.4 L1708.5,703.2 L1706.8,701.9 L1705.1,700.6 L1703.5,699.4 L1701.8,698 L1700.1,696.7 L1698.4,695.3 L1696.8,693.9 L1695.1,692.5 L1693.4,691.1 L1691.7,689.6 L1690.1,688.1 L1688.4,686.6 L1686.7,685 L1685,683.5 L1683.4,681.9 L1681.7,680.3 L1680,678.6 L1678.3,676.9 L1676.7,675.3 L1675,673.5 L1673.3,671.8 L1671.6,670.1 L1670,668.3 L1668.3,666.5 L1666.6,664.7 L1665,662.8 L1663.3,661 L1661.6,659.1 L1659.9,657.2 L1658.3,655.3 L1656.6,653.3 L1654.9,651.4 L1653.2,649.4 L1651.6,647.4 L1649.9,645.4 L1648.2,643.4 L1646.5,641.4 L1644.9,639.3 L1643.2,637.3 L1641.5,635.2 L1639.8,633.1 L1638.2,631.1 L1636.5,629 L1634.8,626.9 L1633.2,624.8 L1631.5,622.7 L1629.8,620.5 L1628.1,618.4 L1626.5,616.3 L1624.8,614.2 L1623.1,612.1 L1621.4,609.9 L1619.8,607.8 L1618.1,605.7 L1616.4,603.6 L1614.7,601.5 L1613.1,599.4 L1611.4,597.3 L1609.7,595.2 L1608,593.2 L1606.4,591.1 L1604.7,589.1 L1603,587 L1601.3,585 L1599.7,583 L1598,581 L1596.3,579.1 L1594.7,577.1 L1593,575.2 L1591.3,573.3 L1589.6,571.4 L1588,569.6 L1586.3,567.8 L1584.6,566 L1582.9,564.2 L1581.3,562.5 L1579.6,560.8 L1577.9,559.1 L1576.2,557.5 L1574.6,555.9 L1572.9,554.3 L1571.2,552.8 L1569.5,551.3 L1567.9,549.9 L1566.2,548.4 L1564.5,547.1 L1562.9,545.8 L1561.2,544.5 L1559.5,543.2 L1557.8,542 L1556.2,540.9 L1554.5,539.8 L1552.8,538.8 L1551.1,537.8 L1549.5,536.8 L1547.8,535.9 L1546.1,535.1 L1544.4,534.3 L1542.8,533.5 L1541.1,532.8 L1539.4,532.2 L1537.7,531.6 L1536.1,531.1 L1534.4,530.6 L1532.7,530.2 L1531,529.8 L1529.4,529.5 L1527.7,529.3 L1526,529.1 L1524.4,528.9 L1522.7,528.8 L1521,528.8 L1519.3,528.8 L1517.7,528.9 L1516,529.1 L1514.3,529.3 L1512.6,529.5 L1511,529.8 L1509.3,530.2 L1507.6,530.6 L1505.9,531.1 L1504.3,531.6 L1502.6,532.2 L1500.9,532.8 L1499.2,533.5 L1497.6,534.3 L1495.9,535.1 L1494.2,535.9 L1492.6,536.8 L1490.9,537.8 L1489.2,538.8 L1487.5,539.8 L1485.9,540.9 L1484.2,542 L1482.5,543.2 L1480.8,544.5 L1479.2,545.8 L1477.5,547.1 L1475.8,548.4 L1474.1,549.9 L1472.5,551.3 L1470.8,552.8 L1469.1,554.3 L1467.4,555.9 L1465.8,557.5 L1464.1,559.1 L1462.4,560.8 L1460.7,562.5 L1459.1,564.2 L1457.4,566 L1455.7,567.8 L1454.1,569.6 L1452.4,571.4 L1450.7,573.3 L1449,575.2 L1447.4,577.1 L1445.7,579.1 L1444,581 L1442.3,583 L1440.7,585 L1439,587 L1437.3,589.1 L1435.6,591.1 L1434,593.2 L1432.3,595.2 L1430.6,597.3 L1428.9,599.4 L1427.3,601.5 L1425.6,603.6 L1423.9,605.7 L1422.2,607.8 L1420.6,609.9 L1418.9,612.1 L1417.2,614.2 L1415.6,616.3 L1413.9,618.4 L1412.2,620.5 L1410.5,622.7 L1408.9,624.8 L1407.2,626.9 L1405.5,629 L1403.8,631.1 L1402.2,633.1 L1400.5,635.2 L1398.8,637.3 L1397.1,639.3 L1395.5,641.4 L1393.8,643.4 L1392.1,645.4 L1390.4,647.4 L1388.8,649.4 L1387.1,651.4 L1385.4,653.3 L1383.8,655.3 L1382.1,657.2 L1380.4,659.1 L1378.7,661 L1377.1,662.8 L1375.4,664.7 L1373.7,666.5 L1372,668.3 L1370.4,670.1 L1368.7,671.8 L1367,673.5 L1365.3,675.3 L1363.7,676.9 L1362,678.6 L1360.3,680.3 L1358.6,681.9 L1357,683.5 L1355.3,685 L1353.6,686.6 L1351.9,688.1 L1350.3,689.6 L1348.6,691.1 L1346.9,692.5 L1345.3,693.9 L1343.6,695.3 L1341.9,696.7 L1340.2,698 L1338.6,699.4 L1336.9,700.6 L1335.2,701.9 L1333.5,703.2 L1331.9,704.4 L1330.2,705.6 L1328.5,706.7 L1326.8,707.9 L1325.2,709 L1323.5,710.1 L1321.8,711.2 L1320.1,712.2 L1318.5,713.2 L1316.8,714.2 L1315.1,715.2 L1313.5,716.2 L1311.8,717.1 L1310.1,718 L1308.4,718.9 L1306.8,719.8 L1305.1,720.6 L1303.4,721.4 L1301.7,722.2 L1300.1,723 L1298.4,723.8 L1296.7,724.5 L1295,725.2 L1293.4,725.9 L1291.7,726.6 L1290,727.3 L1288.3,727.9 L1286.7,728.5 L1285,729.1 L1283.3,729.7 L1281.6,730.3 L1280,730.8 L1278.3,731.4 L1276.6,731.9 L1275,732.4 L1273.3,732.9 L1271.6,733.3 L1269.9,733.8 L1268.3,734.2 L1266.6,734.7 L1264.9,735.1 L1263.2,735.5 L1261.6,735.9 L1259.9,736.3 L1258.2,736.6 L1256.5,737 L1254.9,737.3 L1253.2,737.6 L1251.5,737.9 L1249.8,738.2 L1248.2,738.5 L1246.5,738.8 L1244.8,739.1 L1243.2,739.4 L1241.5,739.6 L1239.8,739.9 L1238.1,740.1 L1236.5,740.3 L1234.8,740.5 L1233.1,740.7 L1231.4,740.9 L1229.8,741.1 L1228.1,741.3 L1226.4,741.5 L1224.7,741.7 L1223.1,741.8 L1221.4,742 L1219.7,742.1 L1218,742.3 L1216.4,742.4 L1214.7,742.6 L1213,742.7 L1211.3,742.8 L1209.7,742.9 L1208,743 L1206.3,743.1 L1204.7,743.3 L1203,743.4 L1201.3,743.4 L1199.6,743.5 L1198,743.6 L1196.3,743.7 L1194.6,743.8 L1192.9,743.9 L1191.3,743.9 L1189.6,744 L1187.9,744.1 L1186.2,744.1 L1184.6,744.2 L1182.9,744.2 L1181.2,744.3 L1179.5,744.4 L1177.9,744.4 L1176.2,744.4 L1174.5,744.5 L1172.9,744.5 L1171.2,744.6 L1169.5,744.6 L1167.8,744.7 L1166.2,744.7 L1164.5,744.7 L1162.8,744.7 L1161.1,744.8 L1159.5,744.8 L1157.8,744.8 L1156.1,744.9 L1154.4,744.9 L1152.8,744.9 L1151.1,744.9 L1149.4,745 L1147.7,745 L1146.1,745 L1144.4,745 L1142.7,745 L1141,745 L1139.4,745.1 L1137.7,745.1 L1136,745.1 L1134.4,745.1 L1132.7,745.1 L1131,745.1 L1129.3,745.1 L1127.7,745.1 L1126,745.1 L1124.3,745.2 L1122.6,745.2 L1121,745.2 L1119.3,745.2 L1117.6,745.2 L1115.9,745.2 L1114.3,745.2 L1112.6,745.2 L1110.9,745.2 L1109.2,745.2 L1107.6,745.2 L1105.9,745.2 L1104.2,745.2 L1102.5,745.2 L1100.9,745.2 L1099.2,745.2 L1097.5,745.2 L1095.9,745.3 L1094.2,745.3 L1092.5,745.3 L1090.8,745.3 L1089.2,745.3 L1087.5,745.3 L1085.8,745.3" fill="none" stroke="#c8c8c8" stroke-width="1.8"/>
<path d="M2035.8,745.1 L2034.1,745.1 L2032.4,745 L2030.7,745 L2029.1,745 L2027.4,745 L2025.7,745 L2024,744.9 L2022.4,744.9 L2020.7,744.9 L2019,744.8 L2017.3,744.8 L2015.7,744.8 L2014,744.7 L2012.3,744.7 L2010.6,744.7 L2009,744.6 L2007.3,744.6 L2005.6,744.5 L2003.9,744.5 L2002.3,744.4 L2000.6,744.4 L1998.9,744.3 L1997.2,744.2 L1995.6,744.2 L1993.9,744.1 L1992.2,744 L1990.5,744 L1988.9,743.9 L1987.2,743.8 L1985.5,743.7 L1983.9,743.6 L1982.2,743.5 L1980.5,743.4 L1978.8,743.3 L1977.2,743.2 L1975.5,743 L1973.8,742.9 L1972.1,742.8 L1970.5,742.6 L1968.8,742.5 L1967.1,742.3 L1965.4,742.1 L1963.8,742 L1962.1,741.8 L1960.4,741.6 L1958.7,741.4 L1957.1,741.2 L1955.4,741 L1953.7,740.8 L1952,740.5 L1950.4,740.3 L1948.7,740 L1947,739.7 L1945.3,739.5 L1943.7,739.2 L1942,738.9 L1940.3,738.6 L1938.7,738.2 L1937,737.9 L1935.3,737.5 L1933.6,737.2 L1932,736.8 L1930.3,736.4 L1928.6,736 L1926.9,735.6 L1925.3,735.1 L1923.6,734.7 L1921.9,734.2 L1920.2,733.7 L1918.6,733.2 L1916.9,732.7 L1915.2,732.2 L1913.5,731.6 L1911.9,731.1 L1910.2,730.5 L1908.5,729.9 L1906.8,729.3 L1905.2,728.6 L1903.5,728 L1901.8,727.3 L1900.1,726.6 L1898.5,725.9 L1896.8,725.1 L1895.1,724.4 L1893.5,723.6 L1891.8,722.8 L1890.1,722 L1888.4,721.2 L1886.8,720.3 L1885.1,719.5 L1883.4,718.6 L1881.7,717.7 L1880.1,716.8 L1878.4,715.8 L1876.7,714.9 L1875,713.9 L1873.4,712.9 L1871.7,711.9 L1870,710.9 L1868.3,709.8 L1866.7,708.8 L1865,707.7 L1863.3,706.6 L1861.6,705.5 L1860,704.3 L1858.3,703.2 L1856.6,702.1 L1854.9,700.9 L1853.3,699.7 L1851.6,698.5 L1849.9,697.3 L1848.3,696.1 L1846.6,694.9 L1844.9,693.7 L1843.2,692.4 L1841.6,691.2 L1839.9,689.9 L1838.2,688.7 L1836.5,687.4 L1834.9,686.1 L1833.2,684.9 L1831.5,683.6 L1829.8,682.3 L1828.2,681 L1826.5,679.8 L1824.8,678.5 L1823.1,677.2 L1821.5,676 L1819.8,674.7 L1818.1,673.5 L1816.4,672.2 L1814.8,671 L1813.1,669.8 L1811.4,668.6 L1809.7,667.4 L1808.1,666.2 L1806.4,665.1 L1804.7,663.9 L1803.1,662.8 L1801.4,661.7 L1799.7,660.6 L1798,659.5 L1796.4,658.5 L1794.7,657.5 L1793,656.5 L1791.3,655.5 L1789.7,654.5 L1788,653.6 L1786.3,652.7 L1784.6,651.9 L1783,651.1 L1781.3,650.3 L1779.6,649.5 L1777.9,648.8 L1776.3,648.1 L1774.6,647.4 L1772.9,646.8 L1771.2,646.2 L1769.6,645.7 L1767.9,645.2 L1766.2,644.7 L1764.5,644.3 L1762.9,643.9 L1761.2,643.6 L1759.5,643.3 L1757.9,643 L1756.2,642.8 L1754.5,642.6 L1752.8,642.5 L1751.2,642.4 L1749.5,642.3 L1747.8,642.3 L1746.1,642.3 L1744.5,642.4 L1742.8,642.5 L1741.1,642.7 L1739.4,642.9 L1737.8,643.1 L1736.1,643.4 L1734.4,643.8 L1732.7,644.1 L1731.1,644.5 L1729.4,645 L1727.7,645.5 L1726,646 L1724.4,646.6 L1722.7,647.2 L1721,647.8 L1719.3,648.5 L1717.7,649.2 L1716,649.9 L1714.3,650.7 L1712.7,651.5 L1711,652.4 L1709.3,653.3 L1707.6,654.2 L1706,655.1 L1704.3,656 L1702.6,657 L1700.9,658 L1699.3,659.1 L1697.6,660.1 L1695.9,661.2 L1694.2,662.3 L1692.6,663.4 L1690.9,664.6 L1689.2,665.7 L1687.5,666.9 L1685.9,668.1 L1684.2,669.3 L1682.5,670.5 L1680.8,671.7 L1679.2,673 L1677.5,674.2 L1675.8,675.5 L1674.1,676.7 L1672.5,678 L1670.8,679.2 L1669.1,680.5 L1667.5,681.8 L1665.8,683 L1664.1,684.3 L1662.4,685.6 L1660.8,686.9 L1659.1,688.1 L1657.4,689.4 L1655.7,690.6 L1654.1,691.9 L1652.4,693.1 L1650.7,694.4 L1649,695.6 L1647.4,696.8 L1645.7,698 L1644,699.2 L1642.3,700.4 L1640.7,701.6 L1639,702.7 L1637.3,703.9 L1635.6,705 L1634,706.1 L1632.3,707.2 L1630.6,708.3 L1628.9,709.4 L1627.3,710.4 L1625.6,711.5 L1623.9,712.5 L1622.3,713.5 L1620.6,714.5 L1618.9,715.4 L1617.2,716.4 L1615.6,717.3 L1613.9,718.2 L1612.2,719.1 L1610.5,720 L1608.9,720.8 L1607.2,721.7 L1605.5,722.5 L1603.8,723.3 L1602.2,724.1 L1600.5,724.8 L1598.8,725.6 L1597.1,726.3 L1595.5,727 L1593.8,727.7 L1592.1,728.3 L1590.4,729 L1588.8,729.6 L1587.1,730.2 L1585.4,730.8 L1583.7,731.4 L1582.1,732 L1580.4,732.5 L1578.7,733 L1577.1,733.5 L1575.4,734 L1573.7,734.5 L1572,734.9 L1570.4,735.4 L1568.7,735.8 L1567,736.2 L1565.3,736.6 L1563.7,737 L1562,737.4 L1560.3,737.8 L1558.6,738.1 L1557,738.4 L1555.3,738.7 L1553.6,739.1 L1551.9,739.3 L1550.3,739.6 L1548.6,739.9 L1546.9,740.2 L1545.2,740.4 L1543.6,740.7 L1541.9,740.9 L1540.2,741.1 L1538.5,741.3 L1536.9,741.5 L1535.2,741.7 L1533.5,741.9 L1531.9,742.1 L1530.2,742.2 L1528.5,742.4 L1526.8,742.6 L1525.2,742.7 L1523.5,742.8 L1521.8,743 L1520.1,743.1 L1518.5,743.2 L1516.8,743.3 L1515.1,743.5 L1513.4,743.6 L1511.8,743.7 L1510.1,743.7 L1508.4,743.8 L1506.7,743.9 L1505.1,744 L1503.4,744.1 L1501.7,744.2 L1500,744.2 L1498.4,744.3 L1496.7,744.3 L1495,744.4 L1493.3,744.5 L1491.7,744.5 L1490,744.6 L1488.3,744.6 L1486.7,744.6 L1485,744.7 L1483.3,744.7 L1481.6,744.8 L1480,744.8 L1478.3,744.8 L1476.6,744.9 L1474.9,744.9 L1473.3,744.9 L1471.6,744.9 L1469.9,745 L1468.2,745 L1466.6,745 L1464.9,745 L1463.2,745 L1461.5,745.1 L1459.9,745.1 L1458.2,745.1 L1456.5,745.1 L1454.8,745.1 L1453.2,745.1 L1451.5,745.1 L1449.8,745.2 L1448.1,745.2 L1446.5,745.2 L1444.8,745.2 L1443.1,745.2 L1441.5,745.2 L1439.8,745.2 L1438.1,745.2 L1436.4,745.2 L1434.8,745.2 L1433.1,745.2 L1431.4,745.2 L1429.7,745.2 L1428.1,745.2 L1426.4,745.3 L1424.7,745.3 L1423,745.3 L1421.4,745.3 L1419.7,745.3 L1418,745.3 L1416.3,745.3 L1414.7,745.3 L1413,745.3 L1411.3,745.3 L1409.6,745.3 L1408,745.3 L1406.3,745.3 L1404.6,745.3 L1402.9,745.3" fill="none" stroke="#c8c8c8" stroke-width="1.8"/>
<path d="M1367.7,745.3 L1366.6,745.3 L1365.6,745.3 L1364.6,745.3 L1363.6,745.3 L1362.6,745.3 L1361.6,745.3 L1360.6,745.3 L1359.6,745.3 L1358.6,745.3 L1357.6,745.3 L1356.6,745.3 L1355.6,745.3 L1354.6,745.3 L1353.6,745.3 L1352.6,745.3 L1351.6,745.3 L1350.6,745.3 L1349.6,745.3 L1348.6,745.3 L1347.6,745.3 L1346.5,745.3 L1345.5,745.3 L1344.5,745.3 L1343.5,745.3 L1342.5,745.3 L1341.5,745.3 L1340.5,745.3 L1339.5,745.3 L1338.5,745.3 L1337.5,745.3 L1336.5,745.3 L1335.5,745.3 L1334.5,745.3 L1333.5,745.2 L1332.5,745.2 L1331.5,745.2 L1330.5,745.2 L1329.5,745.2 L1328.5,745.2 L1327.5,745.2 L1326.4,745.2 L1325.4,745.2 L1324.4,745.2 L1323.4,745.2 L1322.4,745.2 L1321.4,745.2 L1320.4,745.2 L1319.4,745.2 L1318.4,745.1 L1317.4,745.1 L1316.4,745.1 L1315.4,745.1 L1314.4,745.1 L1313.4,745.1 L1312.4,745.1 L1311.4,745.1 L1310.4,745 L1309.4,745 L1308.4,745 L1307.4,745 L1306.3,745 L1305.3,744.9 L1304.3,744.9 L1303.3,744.9 L1302.3,744.9 L1301.3,744.8 L1300.3,744.8 L1299.3,744.8 L1298.3,744.7 L1297.3,744.7 L1296.3,744.7 L1295.3,744.6 L1294.3,744.6 L1293.3,744.6 L1292.3,744.5 L1291.3,744.5 L1290.3,744.4 L1289.3,744.4 L1288.3,744.3 L1287.3,744.3 L1286.2,744.2 L1285.2,744.1 L1284.2,744.1 L1283.2,744 L1282.2,743.9 L1281.2,743.9 L1280.2,743.8 L1279.2,743.7 L1278.2,743.6 L1277.2,743.6 L1276.2,743.5 L1275.2,743.4 L1274.2,743.3 L1273.2,743.2 L1272.2,743.1 L1271.2,743 L1270.2,742.9 L1269.2,742.8 L1268.2,742.7 L1267.2,742.5 L1266.2,742.4 L1265.1,742.3 L1264.1,742.2 L1263.1,742 L1262.1,741.9 L1261.1,741.7 L1260.1,741.6 L1259.1,741.4 L1258.1,741.3 L1257.1,741.1 L1256.1,740.9 L1255.1,740.8 L1254.1,740.6 L1253.1,740.4 L1252.1,740.2 L1251.1,740 L1250.1,739.9 L1249.1,739.7 L1248.1,739.5 L1247.1,739.3 L1246.1,739 L1245,738.8 L1244,738.6 L1243,738.4 L1242,738.2 L1241,737.9 L1240,737.7 L1239,737.5 L1238,737.2 L1237,737 L1236,736.8 L1235,736.5 L1234,736.3 L1233,736 L1232,735.7 L1231,735.5 L1230,735.2 L1229,735 L1228,734.7 L1227,734.4 L1226,734.2 L1224.9,733.9 L1223.9,733.6 L1222.9,733.4 L1221.9,733.1 L1220.9,732.8 L1219.9,732.6 L1218.9,732.3 L1217.9,732 L1216.9,731.8 L1215.9,731.5 L1214.9,731.2 L1213.9,731 L1212.9,730.7 L1211.9,730.5 L1210.9,730.2 L1209.9,730 L1208.9,729.7 L1207.9,729.5 L1206.9,729.2 L1205.9,729 L1204.8,728.8 L1203.8,728.6 L1202.8,728.3 L1201.8,728.1 L1200.8,727.9 L1199.8,727.7 L1198.8,727.5 L1197.8,727.3 L1196.8,727.2 L1195.8,727 L1194.8,726.8 L1193.8,726.7 L1192.8,726.5 L1191.8,726.4 L1190.8,726.2 L1189.8,726.1 L1188.8,726 L1187.8,725.9 L1186.8,725.8 L1185.8,725.7 L1184.7,725.6 L1183.7,725.5 L1182.7,725.5 L1181.7,725.4 L1180.7,725.4 L1179.7,725.3 L1178.7,725.3 L1177.7,725.3 L1176.7,725.3 L1175.7,725.3 L1174.7,725.3 L1173.7,725.3 L1172.7,725.4 L1171.7,725.4 L1170.7,725.5 L1169.7,725.5 L1168.7,725.6 L1167.7,725.7 L1166.7,725.8 L1165.7,725.9 L1164.6,726 L1163.6,726.1 L1162.6,726.2 L1161.6,726.4 L1160.6,726.5 L1159.6,726.7 L1158.6,726.8 L1157.6,727 L1156.6,727.2 L1155.6,727.3 L1154.6,727.5 L1153.6,727.7 L1152.6,727.9 L1151.6,728.1 L1150.6,728.3 L1149.6,728.6 L1148.6,728.8 L1147.6,729 L1146.6,729.3 L1145.6,729.5 L1144.6,729.7 L1143.5,730 L1142.5,730.2 L1141.5,730.5 L1140.5,730.7 L1139.5,731 L1138.5,731.3 L1137.5,731.5 L1136.5,731.8 L1135.5,732 L1134.5,732.3 L1133.5,732.6 L1132.5,732.8 L1131.5,733.1 L1130.5,733.4 L1129.5,733.6 L1128.5,733.9 L1127.5,734.2 L1126.5,734.4 L1125.5,734.7 L1124.5,735 L1123.4,735.2 L1122.4,735.5 L1121.4,735.8 L1120.4,736 L1119.4,736.3 L1118.4,736.5 L1117.4,736.8 L1116.4,737 L1115.4,737.2 L1114.4,737.5 L1113.4,737.7 L1112.4,738 L1111.4,738.2 L1110.4,738.4 L1109.4,738.6 L1108.4,738.8 L1107.4,739.1 L1106.4,739.3 L1105.4,739.5 L1104.4,739.7 L1103.3,739.9 L1102.3,740.1 L1101.3,740.2 L1100.3,740.4 L1099.3,740.6 L1098.3,740.8 L1097.3,741 L1096.3,741.1 L1095.3,741.3 L1094.3,741.4 L1093.3,741.6 L1092.3,741.7 L1091.3,741.9 L1090.3,742 L1089.3,742.2 L1088.3,742.3 L1087.3,742.4 L1086.3,742.5 L1085.3,742.7 L1084.3,742.8 L1083.2,742.9 L1082.2,743 L1081.2,743.1 L1080.2,743.2 L1079.2,743.3 L1078.2,743.4 L1077.2,743.5 L1076.2,743.6 L1075.2,743.6 L1074.2,743.7 L1073.2,743.8 L1072.2,743.9 L1071.2,743.9 L1070.2,744 L1069.2,744.1 L1068.2,744.1 L1067.2,744.2 L1066.2,744.3 L1065.2,744.3 L1064.2,744.4 L1063.1,744.4 L1062.1,744.5 L1061.1,744.5 L1060.1,744.6 L1059.1,744.6 L1058.1,744.6 L1057.1,744.7 L1056.1,744.7 L1055.1,744.7 L1054.1,744.8 L1053.1,744.8 L1052.1,744.8 L1051.1,744.9 L1050.1,744.9 L1049.1,744.9 L1048.1,744.9 L1047.1,745 L1046.1,745 L1045.1,745 L1044.1,745 L1043,745 L1042,745.1 L1041,745.1 L1040,745.1 L1039,745.1 L1038,745.1 L1037,745.1 L1036,745.1 L1035,745.1 L1034,745.2 L1033,745.2 L1033,745.3 L1367.7,745.3 Z" fill="rgba(128,128,0,0.15)" stroke="none"/>
<path d="M1491.3,745.3 L1490.3,745.2 L1489.3,745.2 L1488.3,745.2 L1487.3,745.2 L1486.3,745.2 L1485.3,745.2 L1484.3,745.1 L1483.3,745.1 L1482.3,745.1 L1481.3,745 L1480.2,745 L1479.2,744.9 L1478.2,744.9 L1477.2,744.8 L1476.2,744.7 L1475.2,744.6 L1474.2,744.5 L1473.2,744.4 L1472.2,744.2 L1471.2,744 L1470.2,743.8 L1469.2,743.6 L1468.2,743.3 L1467.2,743 L1466.1,742.7 L1465.1,742.3 L1464.1,741.8 L1463.1,741.3 L1462.1,740.8 L1461.1,740.1 L1460.1,739.4 L1459.1,738.6 L1458.1,737.8 L1457.1,736.8 L1456.1,735.7 L1455.1,734.5 L1454.1,733.2 L1453.1,731.7 L1452,730.1 L1451,728.4 L1450,726.4 L1449,724.4 L1448,722.1 L1447,719.6 L1446,716.9 L1445,714 L1444,710.9 L1443,707.6 L1442,704 L1441,700.2 L1440,696.1 L1439,691.8 L1437.9,687.2 L1436.9,682.3 L1435.9,677.2 L1434.9,671.8 L1433.9,666.2 L1432.9,660.3 L1431.9,654.2 L1430.9,647.8 L1429.9,641.2 L1428.9,634.3 L1427.9,627.3 L1426.9,620.1 L1425.9,612.7 L1424.9,605.1 L1423.8,597.5 L1422.8,589.7 L1421.8,581.9 L1420.8,574.1 L1419.8,566.3 L1418.8,558.4 L1417.8,550.7 L1416.8,543 L1415.8,535.5 L1414.8,528.2 L1413.8,521.1 L1412.8,514.2 L1411.8,507.6 L1410.8,501.3 L1409.7,495.4 L1408.7,489.9 L1407.7,484.7 L1406.7,480.1 L1405.7,475.9 L1404.7,472.2 L1403.7,469.1 L1402.7,466.5 L1401.7,464.4 L1400.7,463 L1399.7,462.1 L1398.7,461.8 L1397.7,462.1 L1396.7,463 L1395.6,464.4 L1394.6,466.5 L1393.6,469.1 L1392.6,472.2 L1391.6,475.9 L1390.6,480.1 L1389.6,484.7 L1388.6,489.9 L1387.6,495.4 L1386.6,501.3 L1385.6,507.6 L1384.6,514.2 L1383.6,521.1 L1382.6,528.2 L1381.5,535.5 L1380.5,543 L1379.5,550.7 L1378.5,558.4 L1377.5,566.3 L1376.5,574.1 L1375.5,581.9 L1374.5,589.7 L1373.5,597.5 L1372.5,605.1 L1371.5,612.7 L1370.5,620.1 L1369.5,627.3 L1368.5,634.3 L1367.4,641.2 L1366.4,647.8 L1365.4,654.2 L1364.4,660.3 L1363.4,666.2 L1362.4,671.8 L1361.4,677.2 L1360.4,682.3 L1359.4,687.2 L1358.4,691.8 L1357.4,696.1 L1356.4,700.2 L1355.4,704 L1354.4,707.6 L1353.3,710.9 L1352.3,714 L1351.3,716.9 L1350.3,719.6 L1349.3,722.1 L1348.3,724.4 L1347.3,726.4 L1346.3,728.4 L1345.3,730.1 L1344.3,731.7 L1343.3,733.2 L1342.3,734.5 L1341.3,735.7 L1340.3,736.8 L1339.3,737.8 L1338.2,738.6 L1337.2,739.4 L1336.2,740.1 L1335.2,740.8 L1334.2,741.3 L1333.2,741.8 L1332.2,742.3 L1331.2,742.7 L1330.2,743 L1329.2,743.3 L1328.2,743.6 L1327.2,743.8 L1326.2,744 L1325.2,744.2 L1324.1,744.4 L1323.1,744.5 L1322.1,744.6 L1321.1,744.7 L1320.1,744.8 L1319.1,744.9 L1318.1,744.9 L1317.1,745 L1316.1,745 L1315.1,745.1 L1314.1,745.1 L1313.1,745.1 L1312.1,745.2 L1311.1,745.2 L1310,745.2 L1309,745.2 L1308,745.2 L1307,745.2 L1306,745.3 L1306,745.3 L1491.3,745.3 Z" fill="rgba(0,255,255,0.17)" stroke="none"/>
<path d="M1606.3,745.3 L1605.2,745.3 L1604.2,745.3 L1603.2,745.3 L1602.2,745.3 L1601.2,745.3 L1600.2,745.3 L1599.2,745.3 L1598.2,745.3 L1597.2,745.2 L1596.2,745.2 L1595.2,745.2 L1594.2,745.2 L1593.2,745.2 L1592.2,745.2 L1591.2,745.2 L1590.2,745.2 L1589.2,745.2 L1588.2,745.2 L1587.2,745.2 L1586.2,745.1 L1585.2,745.1 L1584.2,745.1 L1583.2,745.1 L1582.2,745.1 L1581.2,745.1 L1580.2,745 L1579.1,745 L1578.1,745 L1577.1,745 L1576.1,744.9 L1575.1,744.9 L1574.1,744.8 L1573.1,744.8 L1572.1,744.8 L1571.1,744.7 L1570.1,744.7 L1569.1,744.6 L1568.1,744.6 L1567.1,744.5 L1566.1,744.4 L1565.1,744.4 L1564.1,744.3 L1563.1,744.2 L1562.1,744.1 L1561.1,744 L1560.1,743.9 L1559.1,743.8 L1558.1,743.7 L1557.1,743.6 L1556.1,743.4 L1555.1,743.3 L1554.1,743.1 L1553,743 L1552,742.8 L1551,742.6 L1550,742.4 L1549,742.2 L1548,742 L1547,741.8 L1546,741.5 L1545,741.3 L1544,741 L1543,740.7 L1542,740.4 L1541,740.1 L1540,739.7 L1539,739.4 L1538,739 L1537,738.6 L1536,738.1 L1535,737.7 L1534,737.2 L1533,736.7 L1532,736.2 L1531,735.6 L1530,735.1 L1529,734.5 L1528,733.8 L1527,733.2 L1525.9,732.5 L1524.9,731.8 L1523.9,731 L1522.9,730.2 L1521.9,729.4 L1520.9,728.6 L1519.9,727.7 L1518.9,726.8 L1517.9,725.8 L1516.9,724.8 L1515.9,723.8 L1514.9,722.7 L1513.9,721.6 L1512.9,720.5 L1511.9,719.3 L1510.9,718.1 L1509.9,716.8 L1508.9,715.5 L1507.9,714.1 L1506.9,712.7 L1505.9,711.3 L1504.9,709.8 L1503.9,708.3 L1502.9,706.8 L1501.9,705.2 L1500.9,703.6 L1499.8,701.9 L1498.8,700.2 L1497.8,698.4 L1496.8,696.6 L1495.8,694.8 L1494.8,692.9 L1493.8,691 L1492.8,689.1 L1491.8,687.2 L1490.8,685.2 L1489.8,683.1 L1488.8,681.1 L1487.8,679 L1486.8,676.9 L1485.8,674.7 L1484.8,672.6 L1483.8,670.4 L1482.8,668.2 L1481.8,666 L1480.8,663.8 L1479.8,661.6 L1478.8,659.3 L1477.8,657.1 L1476.8,654.8 L1475.8,652.6 L1474.8,650.3 L1473.7,648.1 L1472.7,645.9 L1471.7,643.6 L1470.7,641.4 L1469.7,639.2 L1468.7,637.1 L1467.7,634.9 L1466.7,632.8 L1465.7,630.7 L1464.7,628.6 L1463.7,626.6 L1462.7,624.6 L1461.7,622.7 L1460.7,620.8 L1459.7,618.9 L1458.7,617.1 L1457.7,615.4 L1456.7,613.7 L1455.7,612.1 L1454.7,610.5 L1453.7,609 L1452.7,607.6 L1451.7,606.2 L1450.7,605 L1449.7,603.7 L1448.7,602.6 L1447.6,601.6 L1446.6,600.6 L1445.6,599.7 L1444.6,598.9 L1443.6,598.2 L1442.6,597.5 L1441.6,597 L1440.6,596.5 L1439.6,596.2 L1438.6,595.9 L1437.6,595.7 L1436.6,595.6 L1435.6,595.6 L1434.6,595.7 L1433.6,595.9 L1432.6,596.2 L1431.6,596.5 L1430.6,597 L1429.6,597.5 L1428.6,598.2 L1427.6,598.9 L1426.6,599.7 L1425.6,600.6 L1424.6,601.6 L1423.6,602.6 L1422.6,603.7 L1421.6,605 L1420.5,606.2 L1419.5,607.6 L1418.5,609 L1417.5,610.5 L1416.5,612.1 L1415.5,613.7 L1414.5,615.4 L1413.5,617.1 L1412.5,618.9 L1411.5,620.8 L1410.5,622.7 L1409.5,624.6 L1408.5,626.6 L1407.5,628.6 L1406.5,630.7 L1405.5,632.8 L1404.5,634.9 L1403.5,637.1 L1402.5,639.2 L1401.5,641.4 L1400.5,643.6 L1399.5,645.9 L1398.5,648.1 L1397.5,650.3 L1396.5,652.6 L1395.5,654.8 L1394.4,657.1 L1393.4,659.3 L1392.4,661.6 L1391.4,663.8 L1390.4,666 L1389.4,668.2 L1388.4,670.4 L1387.4,672.6 L1386.4,674.7 L1385.4,676.9 L1384.4,679 L1383.4,681.1 L1382.4,683.1 L1381.4,685.2 L1380.4,687.2 L1379.4,689.1 L1378.4,691 L1377.4,692.9 L1376.4,694.8 L1375.4,696.6 L1374.4,698.4 L1373.4,700.2 L1372.4,701.9 L1371.4,703.6 L1370.4,705.2 L1369.4,706.8 L1368.3,708.3 L1367.3,709.8 L1366.3,711.3 L1365.3,712.7 L1364.3,714.1 L1363.3,715.5 L1362.3,716.8 L1361.3,718.1 L1360.3,719.3 L1359.3,720.5 L1358.3,721.6 L1357.3,722.7 L1356.3,723.8 L1355.3,724.8 L1354.3,725.8 L1353.3,726.8 L1352.3,727.7 L1351.3,728.6 L1350.3,729.4 L1349.3,730.2 L1348.3,731 L1347.3,731.8 L1346.3,732.5 L1345.3,733.2 L1344.3,733.8 L1343.3,734.5 L1342.2,735.1 L1341.2,735.6 L1340.2,736.2 L1339.2,736.7 L1338.2,737.2 L1337.2,737.7 L1336.2,738.1 L1335.2,738.6 L1334.2,739 L1333.2,739.4 L1332.2,739.7 L1331.2,740.1 L1330.2,740.4 L1329.2,740.7 L1328.2,741 L1327.2,741.3 L1326.2,741.5 L1325.2,741.8 L1324.2,742 L1323.2,742.2 L1322.2,742.4 L1321.2,742.6 L1320.2,742.8 L1319.2,743 L1318.2,743.1 L1317.2,743.3 L1316.1,743.4 L1315.1,743.6 L1314.1,743.7 L1313.1,743.8 L1312.1,743.9 L1311.1,744 L1310.1,744.1 L1309.1,744.2 L1308.1,744.3 L1307.1,744.4 L1306.1,744.4 L1305.1,744.5 L1304.1,744.6 L1303.1,744.6 L1302.1,744.7 L1301.1,744.7 L1300.1,744.8 L1299.1,744.8 L1298.1,744.8 L1297.1,744.9 L1296.1,744.9 L1295.1,745 L1294.1,745 L1293.1,745 L1292.1,745 L1291.1,745.1 L1290.1,745.1 L1289,745.1 L1288,745.1 L1287,745.1 L1286,745.1 L1285,745.2 L1284,745.2 L1283,745.2 L1282,745.2 L1281,745.2 L1280,745.2 L1279,745.2 L1278,745.2 L1277,745.2 L1276,745.2 L1275,745.2 L1274,745.3 L1273,745.3 L1272,745.3 L1271,745.3 L1270,745.3 L1269,745.3 L1268,745.3 L1267,745.3 L1266,745.3 L1266,745.3 L1606.3,745.3 Z" fill="rgba(0,0,255,0.14)" stroke="none"/>
<path d="M1367.7,745.3 L1366.6,745.3 L1365.6,745.3 L1364.6,745.3 L1363.6,745.3 L1362.6,745.3 L1361.6,745.3 L1360.6,745.3 L1359.6,745.3 L1358.6,745.3 L1357.6,745.3 L1356.6,745.3 L1355.6,745.3 L1354.6,745.3 L1353.6,745.3 L1352.6,745.3 L1351.6,745.3 L1350.6,745.3 L1349.6,745.3 L1348.6,745.3 L1347.6,745.3 L1346.5,745.3 L1345.5,745.3 L1344.5,745.3 L1343.5,745.3 L1342.5,745.3 L1341.5,745.3 L1340.5,745.3 L1339.5,745.3 L1338.5,745.3 L1337.5,745.3 L1336.5,745.3 L1335.5,745.3 L1334.5,745.3 L1333.5,745.2 L1332.5,745.2 L1331.5,745.2 L1330.5,745.2 L1329.5,745.2 L1328.5,745.2 L1327.5,745.2 L1326.4,745.2 L1325.4,745.2 L1324.4,745.2 L1323.4,745.2 L1322.4,745.2 L1321.4,745.2 L1320.4,745.2 L1319.4,745.2 L1318.4,745.1 L1317.4,745.1 L1316.4,745.1 L1315.4,745.1 L1314.4,745.1 L1313.4,745.1 L1312.4,745.1 L1311.4,745.1 L1310.4,745 L1309.4,745 L1308.4,745 L1307.4,745 L1306.3,745 L1305.3,744.9 L1304.3,744.9 L1303.3,744.9 L1302.3,744.9 L1301.3,744.8 L1300.3,744.8 L1299.3,744.8 L1298.3,744.7 L1297.3,744.7 L1296.3,744.7 L1295.3,744.6 L1294.3,744.6 L1293.3,744.6 L1292.3,744.5 L1291.3,744.5 L1290.3,744.4 L1289.3,744.4 L1288.3,744.3 L1287.3,744.3 L1286.2,744.2 L1285.2,744.1 L1284.2,744.1 L1283.2,744 L1282.2,743.9 L1281.2,743.9 L1280.2,743.8 L1279.2,743.7 L1278.2,743.6 L1277.2,743.6 L1276.2,743.5 L1275.2,743.4 L1274.2,743.3 L1273.2,743.2 L1272.2,743.1 L1271.2,743 L1270.2,742.9 L1269.2,742.8 L1268.2,742.7 L1267.2,742.5 L1266.2,742.4 L1265.1,742.3 L1264.1,742.2 L1263.1,742 L1262.1,741.9 L1261.1,741.7 L1260.1,741.6 L1259.1,741.4 L1258.1,741.3 L1257.1,741.1 L1256.1,740.9 L1255.1,740.8 L1254.1,740.6 L1253.1,740.4 L1252.1,740.2 L1251.1,740 L1250.1,739.9 L1249.1,739.7 L1248.1,739.5 L1247.1,739.3 L1246.1,739 L1245,738.8 L1244,738.6 L1243,738.4 L1242,738.2 L1241,737.9 L1240,737.7 L1239,737.5 L1238,737.2 L1237,737 L1236,736.8 L1235,736.5 L1234,736.3 L1233,736 L1232,735.7 L1231,735.5 L1230,735.2 L1229,735 L1228,734.7 L1227,734.4 L1226,734.2 L1224.9,733.9 L1223.9,733.6 L1222.9,733.4 L1221.9,733.1 L1220.9,732.8 L1219.9,732.6 L1218.9,732.3 L1217.9,732 L1216.9,731.8 L1215.9,731.5 L1214.9,731.2 L1213.9,731 L1212.9,730.7 L1211.9,730.5 L1210.9,730.2 L1209.9,730 L1208.9,729.7 L1207.9,729.5 L1206.9,729.2 L1205.9,729 L1204.8,728.8 L1203.8,728.6 L1202.8,728.3 L1201.8,728.1 L1200.8,727.9 L1199.8,727.7 L1198.8,727.5 L1197.8,727.3 L1196.8,727.2 L1195.8,727 L1194.8,726.8 L1193.8,726.7 L1192.8,726.5 L1191.8,726.4 L1190.8,726.2 L1189.8,726.1 L1188.8,726 L1187.8,725.9 L1186.8,725.8 L1185.8,725.7 L1184.7,725.6 L1183.7,725.5 L1182.7,725.5 L1181.7,725.4 L1180.7,725.4 L1179.7,725.3 L1178.7,725.3 L1177.7,725.3 L1176.7,725.3 L1175.7,725.3 L1174.7,725.3 L1173.7,725.3 L1172.7,725.4 L1171.7,725.4 L1170.7,725.5 L1169.7,725.5 L1168.7,725.6 L1167.7,725.7 L1166.7,725.8 L1165.7,725.9 L1164.6,726 L1163.6,726.1 L1162.6,726.2 L1161.6,726.4 L1160.6,726.5 L1159.6,726.7 L1158.6,726.8 L1157.6,727 L1156.6,727.2 L1155.6,727.3 L1154.6,727.5 L1153.6,727.7 L1152.6,727.9 L1151.6,728.1 L1150.6,728.3 L1149.6,728.6 L1148.6,728.8 L1147.6,729 L1146.6,729.3 L1145.6,729.5 L1144.6,729.7 L1143.5,730 L1142.5,730.2 L1141.5,730.5 L1140.5,730.7 L1139.5,731 L1138.5,731.3 L1137.5,731.5 L1136.5,731.8 L1135.5,732 L1134.5,732.3 L1133.5,732.6 L1132.5,732.8 L1131.5,733.1 L1130.5,733.4 L1129.5,733.6 L1128.5,733.9 L1127.5,734.2 L1126.5,734.4 L1125.5,734.7 L1124.5,735 L1123.4,735.2 L1122.4,735.5 L1121.4,735.8 L1120.4,736 L1119.4,736.3 L1118.4,736.5 L1117.4,736.8 L1116.4,737 L1115.4,737.2 L1114.4,737.5 L1113.4,737.7 L1112.4,738 L1111.4,738.2 L1110.4,738.4 L1109.4,738.6 L1108.4,738.8 L1107.4,739.1 L1106.4,739.3 L1105.4,739.5 L1104.4,739.7 L1103.3,739.9 L1102.3,740.1 L1101.3,740.2 L1100.3,740.4 L1099.3,740.6 L1098.3,740.8 L1097.3,741 L1096.3,741.1 L1095.3,741.3 L1094.3,741.4 L1093.3,741.6 L1092.3,741.7 L1091.3,741.9 L1090.3,742 L1089.3,742.2 L1088.3,742.3 L1087.3,742.4 L1086.3,742.5 L1085.3,742.7 L1084.3,742.8 L1083.2,742.9 L1082.2,743 L1081.2,743.1 L1080.2,743.2 L1079.2,743.3 L1078.2,743.4 L1077.2,743.5 L1076.2,743.6 L1075.2,743.6 L1074.2,743.7 L1073.2,743.8 L1072.2,743.9 L1071.2,743.9 L1070.2,744 L1069.2,744.1 L1068.2,744.1 L1067.2,744.2 L1066.2,744.3 L1065.2,744.3 L1064.2,744.4 L1063.1,744.4 L1062.1,744.5 L1061.1,744.5 L1060.1,744.6 L1059.1,744.6 L1058.1,744.6 L1057.1,744.7 L1056.1,744.7 L1055.1,744.7 L1054.1,744.8 L1053.1,744.8 L1052.1,744.8 L1051.1,744.9 L1050.1,744.9 L1049.1,744.9 L1048.1,744.9 L1047.1,745 L1046.1,745 L1045.1,745 L1044.1,745 L1043,745 L1042,745.1 L1041,745.1 L1040,745.1 L1039,745.1 L1038,745.1 L1037,745.1 L1036,745.1 L1035,745.1 L1034,745.2 L1033,745.2" fill="none" stroke="#8c8c28" stroke-width="2.2"/>
<path d="M1491.3,745.3 L1490.3,745.2 L1489.3,745.2 L1488.3,745.2 L1487.3,745.2 L1486.3,745.2 L1485.3,745.2 L1484.3,745.1 L1483.3,745.1 L1482.3,745.1 L1481.3,745 L1480.2,745 L1479.2,744.9 L1478.2,744.9 L1477.2,744.8 L1476.2,744.7 L1475.2,744.6 L1474.2,744.5 L1473.2,744.4 L1472.2,744.2 L1471.2,744 L1470.2,743.8 L1469.2,743.6 L1468.2,743.3 L1467.2,743 L1466.1,742.7 L1465.1,742.3 L1464.1,741.8 L1463.1,741.3 L1462.1,740.8 L1461.1,740.1 L1460.1,739.4 L1459.1,738.6 L1458.1,737.8 L1457.1,736.8 L1456.1,735.7 L1455.1,734.5 L1454.1,733.2 L1453.1,731.7 L1452,730.1 L1451,728.4 L1450,726.4 L1449,724.4 L1448,722.1 L1447,719.6 L1446,716.9 L1445,714 L1444,710.9 L1443,707.6 L1442,704 L1441,700.2 L1440,696.1 L1439,691.8 L1437.9,687.2 L1436.9,682.3 L1435.9,677.2 L1434.9,671.8 L1433.9,666.2 L1432.9,660.3 L1431.9,654.2 L1430.9,647.8 L1429.9,641.2 L1428.9,634.3 L1427.9,627.3 L1426.9,620.1 L1425.9,612.7 L1424.9,605.1 L1423.8,597.5 L1422.8,589.7 L1421.8,581.9 L1420.8,574.1 L1419.8,566.3 L1418.8,558.4 L1417.8,550.7 L1416.8,543 L1415.8,535.5 L1414.8,528.2 L1413.8,521.1 L1412.8,514.2 L1411.8,507.6 L1410.8,501.3 L1409.7,495.4 L1408.7,489.9 L1407.7,484.7 L1406.7,480.1 L1405.7,475.9 L1404.7,472.2 L1403.7,469.1 L1402.7,466.5 L1401.7,464.4 L1400.7,463 L1399.7,462.1 L1398.7,461.8 L1397.7,462.1 L1396.7,463 L1395.6,464.4 L1394.6,466.5 L1393.6,469.1 L1392.6,472.2 L1391.6,475.9 L1390.6,480.1 L1389.6,484.7 L1388.6,489.9 L1387.6,495.4 L1386.6,501.3 L1385.6,507.6 L1384.6,514.2 L1383.6,521.1 L1382.6,528.2 L1381.5,535.5 L1380.5,543 L1379.5,550.7 L1378.5,558.4 L1377.5,566.3 L1376.5,574.1 L1375.5,581.9 L1374.5,589.7 L1373.5,597.5 L1372.5,605.1 L1371.5,612.7 L1370.5,620.1 L1369.5,627.3 L1368.5,634.3 L1367.4,641.2 L1366.4,647.8 L1365.4,654.2 L1364.4,660.3 L1363.4,666.2 L1362.4,671.8 L1361.4,677.2 L1360.4,682.3 L1359.4,687.2 L1358.4,691.8 L1357.4,696.1 L1356.4,700.2 L1355.4,704 L1354.4,707.6 L1353.3,710.9 L1352.3,714 L1351.3,716.9 L1350.3,719.6 L1349.3,722.1 L1348.3,724.4 L1347.3,726.4 L1346.3,728.4 L1345.3,730.1 L1344.3,731.7 L1343.3,733.2 L1342.3,734.5 L1341.3,735.7 L1340.3,736.8 L1339.3,737.8 L1338.2,738.6 L1337.2,739.4 L1336.2,740.1 L1335.2,740.8 L1334.2,741.3 L1333.2,741.8 L1332.2,742.3 L1331.2,742.7 L1330.2,743 L1329.2,743.3 L1328.2,743.6 L1327.2,743.8 L1326.2,744 L1325.2,744.2 L1324.1,744.4 L1323.1,744.5 L1322.1,744.6 L1321.1,744.7 L1320.1,744.8 L1319.1,744.9 L1318.1,744.9 L1317.1,745 L1316.1,745 L1315.1,745.1 L1314.1,745.1 L1313.1,745.1 L1312.1,745.2 L1311.1,745.2 L1310,745.2 L1309,745.2 L1308,745.2 L1307,745.2 L1306,745.3" fill="none" stroke="#30f0f0" stroke-width="2.2"/>
<path d="M1606.3,745.3 L1605.2,745.3 L1604.2,745.3 L1603.2,745.3 L1602.2,745.3 L1601.2,745.3 L1600.2,745.3 L1599.2,745.3 L1598.2,745.3 L1597.2,745.2 L1596.2,745.2 L1595.2,745.2 L1594.2,745.2 L1593.2,745.2 L1592.2,745.2 L1591.2,745.2 L1590.2,745.2 L1589.2,745.2 L1588.2,745.2 L1587.2,745.2 L1586.2,745.1 L1585.2,745.1 L1584.2,745.1 L1583.2,745.1 L1582.2,745.1 L1581.2,745.1 L1580.2,745 L1579.1,745 L1578.1,745 L1577.1,745 L1576.1,744.9 L1575.1,744.9 L1574.1,744.8 L1573.1,744.8 L1572.1,744.8 L1571.1,744.7 L1570.1,744.7 L1569.1,744.6 L1568.1,744.6 L1567.1,744.5 L1566.1,744.4 L1565.1,744.4 L1564.1,744.3 L1563.1,744.2 L1562.1,744.1 L1561.1,744 L1560.1,743.9 L1559.1,743.8 L1558.1,743.7 L1557.1,743.6 L1556.1,743.4 L1555.1,743.3 L1554.1,743.1 L1553,743 L1552,742.8 L1551,742.6 L1550,742.4 L1549,742.2 L1548,742 L1547,741.8 L1546,741.5 L1545,741.3 L1544,741 L1543,740.7 L1542,740.4 L1541,740.1 L1540,739.7 L1539,739.4 L1538,739 L1537,738.6 L1536,738.1 L1535,737.7 L1534,737.2 L1533,736.7 L1532,736.2 L1531,735.6 L1530,735.1 L1529,734.5 L1528,733.8 L1527,733.2 L1525.9,732.5 L1524.9,731.8 L1523.9,731 L1522.9,730.2 L1521.9,729.4 L1520.9,728.6 L1519.9,727.7 L1518.9,726.8 L1517.9,725.8 L1516.9,724.8 L1515.9,723.8 L1514.9,722.7 L1513.9,721.6 L1512.9,720.5 L1511.9,719.3 L1510.9,718.1 L1509.9,716.8 L1508.9,715.5 L1507.9,714.1 L1506.9,712.7 L1505.9,711.3 L1504.9,709.8 L1503.9,708.3 L1502.9,706.8 L1501.9,705.2 L1500.9,703.6 L1499.8,701.9 L1498.8,700.2 L1497.8,698.4 L1496.8,696.6 L1495.8,694.8 L1494.8,692.9 L1493.8,691 L1492.8,689.1 L1491.8,687.2 L1490.8,685.2 L1489.8,683.1 L1488.8,681.1 L1487.8,679 L1486.8,676.9 L1485.8,674.7 L1484.8,672.6 L1483.8,670.4 L1482.8,668.2 L1481.8,666 L1480.8,663.8 L1479.8,661.6 L1478.8,659.3 L1477.8,657.1 L1476.8,654.8 L1475.8,652.6 L1474.8,650.3 L1473.7,648.1 L1472.7,645.9 L1471.7,643.6 L1470.7,641.4 L1469.7,639.2 L1468.7,637.1 L1467.7,634.9 L1466.7,632.8 L1465.7,630.7 L1464.7,628.6 L1463.7,626.6 L1462.7,624.6 L1461.7,622.7 L1460.7,620.8 L1459.7,618.9 L1458.7,617.1 L1457.7,615.4 L1456.7,613.7 L1455.7,612.1 L1454.7,610.5 L1453.7,609 L1452.7,607.6 L1451.7,606.2 L1450.7,605 L1449.7,603.7 L1448.7,602.6 L1447.6,601.6 L1446.6,600.6 L1445.6,599.7 L1444.6,598.9 L1443.6,598.2 L1442.6,597.5 L1441.6,597 L1440.6,596.5 L1439.6,596.2 L1438.6,595.9 L1437.6,595.7 L1436.6,595.6 L1435.6,595.6 L1434.6,595.7 L1433.6,595.9 L1432.6,596.2 L1431.6,596.5 L1430.6,597 L1429.6,597.5 L1428.6,598.2 L1427.6,598.9 L1426.6,599.7 L1425.6,600.6 L1424.6,601.6 L1423.6,602.6 L1422.6,603.7 L1421.6,605 L1420.5,606.2 L1419.5,607.6 L1418.5,609 L1417.5,610.5 L1416.5,612.1 L1415.5,613.7 L1414.5,615.4 L1413.5,617.1 L1412.5,618.9 L1411.5,620.8 L1410.5,622.7 L1409.5,624.6 L1408.5,626.6 L1407.5,628.6 L1406.5,630.7 L1405.5,632.8 L1404.5,634.9 L1403.5,637.1 L1402.5,639.2 L1401.5,641.4 L1400.5,643.6 L1399.5,645.9 L1398.5,648.1 L1397.5,650.3 L1396.5,652.6 L1395.5,654.8 L1394.4,657.1 L1393.4,659.3 L1392.4,661.6 L1391.4,663.8 L1390.4,666 L1389.4,668.2 L1388.4,670.4 L1387.4,672.6 L1386.4,674.7 L1385.4,676.9 L1384.4,679 L1383.4,681.1 L1382.4,683.1 L1381.4,685.2 L1380.4,687.2 L1379.4,689.1 L1378.4,691 L1377.4,692.9 L1376.4,694.8 L1375.4,696.6 L1374.4,698.4 L1373.4,700.2 L1372.4,701.9 L1371.4,703.6 L1370.4,705.2 L1369.4,706.8 L1368.3,708.3 L1367.3,709.8 L1366.3,711.3 L1365.3,712.7 L1364.3,714.1 L1363.3,715.5 L1362.3,716.8 L1361.3,718.1 L1360.3,719.3 L1359.3,720.5 L1358.3,721.6 L1357.3,722.7 L1356.3,723.8 L1355.3,724.8 L1354.3,725.8 L1353.3,726.8 L1352.3,727.7 L1351.3,728.6 L1350.3,729.4 L1349.3,730.2 L1348.3,731 L1347.3,731.8 L1346.3,732.5 L1345.3,733.2 L1344.3,733.8 L1343.3,734.5 L1342.2,735.1 L1341.2,735.6 L1340.2,736.2 L1339.2,736.7 L1338.2,737.2 L1337.2,737.7 L1336.2,738.1 L1335.2,738.6 L1334.2,739 L1333.2,739.4 L1332.2,739.7 L1331.2,740.1 L1330.2,740.4 L1329.2,740.7 L1328.2,741 L1327.2,741.3 L1326.2,741.5 L1325.2,741.8 L1324.2,742 L1323.2,742.2 L1322.2,742.4 L1321.2,742.6 L1320.2,742.8 L1319.2,743 L1318.2,743.1 L1317.2,743.3 L1316.1,743.4 L1315.1,743.6 L1314.1,743.7 L1313.1,743.8 L1312.1,743.9 L1311.1,744 L1310.1,744.1 L1309.1,744.2 L1308.1,744.3 L1307.1,744.4 L1306.1,744.4 L1305.1,744.5 L1304.1,744.6 L1303.1,744.6 L1302.1,744.7 L1301.1,744.7 L1300.1,744.8 L1299.1,744.8 L1298.1,744.8 L1297.1,744.9 L1296.1,744.9 L1295.1,745 L1294.1,745 L1293.1,745 L1292.1,745 L1291.1,745.1 L1290.1,745.1 L1289,745.1 L1288,745.1 L1287,745.1 L1286,745.1 L1285,745.2 L1284,745.2 L1283,745.2 L1282,745.2 L1281,745.2 L1280,745.2 L1279,745.2 L1278,745.2 L1277,745.2 L1276,745.2 L1275,745.2 L1274,745.3 L1273,745.3 L1272,745.3 L1271,745.3 L1270,745.3 L1269,745.3 L1268,745.3 L1267,745.3 L1266,745.3" fill="none" stroke="#3535f5" stroke-width="2.2"/>
<path d="M2035.8,546.3 L2034.4,544.7 L2033.1,543.1 L2031.7,541.6 L2030.4,540 L2029.1,538.5 L2027.7,537 L2026.4,535.5 L2025,534 L2023.7,532.6 L2022.4,531.1 L2021,529.7 L2019.7,528.3 L2018.3,527 L2017,525.6 L2015.7,524.3 L2014.3,523 L2013,521.8 L2011.7,520.5 L2010.3,519.3 L2009,518.2 L2007.6,517 L2006.3,515.9 L2005,514.8 L2003.6,513.7 L2002.3,512.7 L2000.9,511.7 L1999.6,510.7 L1998.3,509.7 L1996.9,508.8 L1995.6,507.9 L1994.3,507.1 L1992.9,506.2 L1991.6,505.4 L1990.2,504.7 L1988.9,504 L1987.6,503.3 L1986.2,502.6 L1984.9,502 L1983.5,501.4 L1982.2,500.8 L1980.9,500.3 L1979.5,499.8 L1978.2,499.4 L1976.8,499 L1975.5,498.6 L1974.2,498.3 L1972.8,497.9 L1971.5,497.7 L1970.2,497.4 L1968.8,497.2 L1967.5,497.1 L1966.1,497 L1964.8,496.9 L1963.5,496.8 L1962.1,496.8 L1960.8,496.8 L1959.4,496.9 L1958.1,497 L1956.8,497.1 L1955.4,497.3 L1954.1,497.5 L1952.8,497.7 L1951.4,498 L1950.1,498.3 L1948.7,498.6 L1947.4,499 L1946.1,499.5 L1944.7,499.9 L1943.4,500.4 L1942,500.9 L1940.7,501.5 L1939.4,502.1 L1938,502.7 L1936.7,503.4 L1935.3,504.1 L1934,504.8 L1932.7,505.6 L1931.3,506.4 L1930,507.2 L1928.7,508 L1927.3,508.9 L1926,509.9 L1924.6,510.8 L1923.3,511.8 L1922,512.8 L1920.6,513.9 L1919.3,514.9 L1917.9,516 L1916.6,517.2 L1915.3,518.3 L1913.9,519.5 L1912.6,520.7 L1911.3,522 L1909.9,523.2 L1908.6,524.5 L1907.2,525.8 L1905.9,527.2 L1904.6,528.5 L1903.2,529.9 L1901.9,531.3 L1900.5,532.8 L1899.2,534.2 L1897.9,535.7 L1896.5,537.2 L1895.2,538.7 L1893.9,540.2 L1892.5,541.8 L1891.2,543.3 L1889.8,544.9 L1888.5,546.5 L1887.2,548.2 L1885.8,549.8 L1884.5,551.4 L1883.1,553.1 L1881.8,554.8 L1880.5,556.5 L1879.1,558.2 L1877.8,559.9 L1876.4,561.6 L1875.1,563.4 L1873.8,565.1 L1872.4,566.9 L1871.1,568.6 L1869.8,570.4 L1868.4,572.2 L1867.1,574 L1865.7,575.8 L1864.4,577.6 L1863.1,579.4 L1861.7,581.2 L1860.4,583 L1859,584.8 L1857.7,586.7 L1856.4,588.5 L1855,590.3 L1853.7,592.1 L1852.4,594 L1851,595.8 L1849.7,597.6 L1848.3,599.5 L1847,601.3 L1845.7,603.1 L1844.3,604.9 L1843,606.8 L1841.6,608.6 L1840.3,610.4 L1839,612.2 L1837.6,614 L1836.3,615.8 L1834.9,617.6 L1833.6,619.4 L1832.3,621.1 L1830.9,622.9 L1829.6,624.7 L1828.3,626.4 L1826.9,628.2 L1825.6,629.9 L1824.2,631.7 L1822.9,633.4 L1821.6,635.1 L1820.2,636.8 L1818.9,638.5 L1817.5,640.2 L1816.2,641.8 L1814.9,643.5 L1813.5,645.1 L1812.2,646.8 L1810.9,648.4 L1809.5,650 L1808.2,651.6 L1806.8,653.2 L1805.5,654.7 L1804.2,656.3 L1802.8,657.8 L1801.5,659.4 L1800.1,660.9 L1798.8,662.4 L1797.5,663.8 L1796.1,665.3 L1794.8,666.8 L1793.5,668.2 L1792.1,669.6 L1790.8,671 L1789.4,672.4 L1788.1,673.8 L1786.8,675.2 L1785.4,676.5 L1784.1,677.8 L1782.7,679.2 L1781.4,680.5 L1780.1,681.7 L1778.7,683 L1777.4,684.3 L1776,685.5 L1774.7,686.7 L1773.4,687.9 L1772,689.1 L1770.7,690.3 L1769.4,691.4 L1768,692.5 L1766.7,693.7 L1765.3,694.8 L1764,695.9 L1762.7,696.9 L1761.3,698 L1760,699 L1758.6,700 L1757.3,701 L1756,702 L1754.6,703 L1753.3,704 L1752,704.9 L1750.6,705.8 L1749.3,706.7 L1747.9,707.6 L1746.6,708.5 L1745.3,709.4 L1743.9,710.2 L1742.6,711.1 L1741.2,711.9 L1739.9,712.7 L1738.6,713.5 L1737.2,714.3 L1735.9,715 L1734.5,715.8 L1733.2,716.5 L1731.9,717.2 L1730.5,717.9 L1729.2,718.6 L1727.9,719.3 L1726.5,720 L1725.2,720.6 L1723.8,721.2 L1722.5,721.9 L1721.2,722.5 L1719.8,723.1 L1718.5,723.7 L1717.1,724.2 L1715.8,724.8 L1714.5,725.4 L1713.1,725.9 L1711.8,726.4 L1710.5,726.9 L1709.1,727.4 L1707.8,727.9 L1706.4,728.4 L1705.1,728.9 L1703.8,729.3 L1702.4,729.8 L1701.1,730.2 L1699.7,730.7 L1698.4,731.1 L1697.1,731.5 L1695.7,731.9 L1694.4,732.3 L1693.1,732.6 L1691.7,733 L1690.4,733.4 L1689,733.7 L1687.7,734.1 L1686.4,734.4 L1685,734.7 L1683.7,735.1 L1682.3,735.4 L1681,735.7 L1679.7,736 L1678.3,736.2 L1677,736.5 L1675.6,736.8 L1674.3,737.1 L1673,737.3 L1671.6,737.6 L1670.3,737.8 L1669,738 L1667.6,738.3 L1666.3,738.5 L1664.9,738.7 L1663.6,738.9 L1662.3,739.1 L1660.9,739.3 L1659.6,739.5 L1658.2,739.7 L1656.9,739.9 L1655.6,740.1 L1654.2,740.3 L1652.9,740.4 L1651.6,740.6 L1650.2,740.8 L1648.9,740.9 L1647.5,741.1 L1646.2,741.2 L1644.9,741.3 L1643.5,741.5 L1642.2,741.6 L1640.8,741.7 L1639.5,741.9 L1638.2,742 L1636.8,742.1 L1635.5,742.2 L1634.1,742.3 L1632.8,742.4 L1631.5,742.5 L1630.1,742.6 L1628.8,742.7 L1627.5,742.8 L1626.1,742.9 L1624.8,743 L1623.4,743.1 L1622.1,743.2 L1620.8,743.2 L1619.4,743.3 L1618.1,743.4 L1616.7,743.5 L1615.4,743.5 L1614.1,743.6 L1612.7,743.7 L1611.4,743.7 L1610.1,743.8 L1608.7,743.8 L1607.4,743.9 L1606,743.9 L1604.7,744 L1603.4,744 L1602,744.1 L1600.7,744.1 L1599.3,744.2 L1598,744.2 L1596.7,744.3 L1595.3,744.3 L1594,744.4 L1592.7,744.4 L1591.3,744.4 L1590,744.5 L1588.6,744.5 L1587.3,744.5 L1586,744.6 L1584.6,744.6 L1583.3,744.6 L1581.9,744.6 L1580.6,744.7 L1579.3,744.7 L1577.9,744.7 L1576.6,744.7 L1575.2,744.8 L1573.9,744.8 L1572.6,744.8 L1571.2,744.8 L1569.9,744.9 L1568.6,744.9 L1567.2,744.9 L1565.9,744.9 L1564.5,744.9 L1563.2,744.9 L1561.9,745 L1560.5,745 L1559.2,745 L1557.8,745 L1556.5,745 L1555.2,745 L1553.8,745 L1552.5,745 L1551.2,745.1 L1549.8,745.1 L1548.5,745.1 L1547.1,745.1 L1545.8,745.1 L1544.5,745.1 L1543.1,745.1 L1541.8,745.1 L1540.4,745.1 L1539.1,745.1 L1537.8,745.1 L1536.4,745.2 L1535.1,745.2 L1533.7,745.2 L1532.4,745.2 L1531.1,745.2 L1529.7,745.2 L1528.4,745.2 L1527.1,745.2 L1525.7,745.2 L1524.4,745.2 L1523,745.2 L1521.7,745.2 L1520.4,745.2 L1519,745.2 L1517.7,745.2 L1516.3,745.2 L1515,745.2 L1513.7,745.2 L1512.3,745.2 L1511,745.2 L1509.7,745.2 L1508.3,745.2 L1507,745.3 L1505.6,745.3 L1504.3,745.3 L1503,745.3 L1501.6,745.3 L1500.3,745.3 L1498.9,745.3" fill="none" stroke="#ff2020" stroke-width="2.2" stroke-dasharray="2 2"/>
<line x1="1033" y1="745.3" x2="2035.7" y2="745.3" stroke="#c2bd7a" stroke-width="2.5"/>
<line x1="1033" y1="745.3" x2="1306" y2="745.3" stroke="#30f0f0" stroke-width="2.4"/>
<line x1="1169" y1="745" x2="1169" y2="699.5" stroke="#e6c88a" stroke-width="1.6"/><path d="M1169,690.5 L1164.5,700.5 L1173.5,700.5 Z" fill="#d9a21b"/>
<line x1="1398" y1="745" x2="1398" y2="439" stroke="#9ad8f0" stroke-width="1.6"/><path d="M1398,430 L1393.5,440 L1402.5,440 Z" fill="#00b0f0"/>
<line x1="1436.8" y1="745" x2="1436.8" y2="573.8" stroke="#a080c0" stroke-width="1.6"/><path d="M1436.8,564.8 L1432.3,574.8 L1441.3,574.8 Z" fill="#7030a0"/>
<line x1="1522.7" y1="745" x2="1522.7" y2="475" stroke="#bdbdbd" stroke-width="2.4"/><path d="M1522.7,466 L1518.2,476 L1527.2,476 Z" fill="#bdbdbd"/>
<line x1="1748.5" y1="745" x2="1748.5" y2="574.6" stroke="#bdbdbd" stroke-width="2.4"/><path d="M1748.5,565.6 L1744,575.6 L1753,575.6 Z" fill="#bdbdbd"/>
<path d="M1042,745 L1050.3,743.5 L1059.3,742.3 L1091.4,738.9 L1105.1,737.1 L1117.5,734.9 L1150,728.2 L1159.5,726.7 L1168.4,725.7 L1177.9,725.1 L1188.7,725.2 L1198.9,725.8 L1224.7,727.6 L1239,728.1 L1246.8,727.8 L1254,727.3 L1261.1,726.4 L1268.1,725.2 L1277.9,722.8 L1287.5,719.6 L1296.8,715.6 L1305.2,710.9 L1313.2,705.5 L1320.8,699.2 L1327.2,692.7 L1332.9,685.7 L1337.2,679.2 L1340.8,672.4 L1344.2,664.2 L1347.2,655.2 L1350.7,642.5 L1354.1,627.9 L1357.2,612.6 L1360,596.6 L1362.5,579.9 L1365,560.8 L1367.8,536.9 L1370.5,510.7 L1375.1,463 L1385.2,347.2 L1388.4,314.2 L1390.8,292 L1392,283.6 L1393.4,275.7 L1394.8,269.1 L1396.6,262.5 L1398.7,255.8 L1400.5,251.4 L1402,248.9 L1402.7,248.2 L1403.6,247.8 L1404.7,248 L1406.2,249.1 L1407.6,251.1 L1409.5,254.3 L1411,257.3 L1412.4,261 L1415,269.6 L1416.4,275.6 L1417.7,283.1 L1425.1,330.9 L1429,353.1 L1431.5,364.7 L1434.1,374.9 L1436.8,384.6 L1439.9,394.2 L1443.6,404.3 L1447.7,414.3 L1452.2,424.1 L1457.1,433.9 L1462.4,443.4 L1468,452.7 L1474,461.7 L1480,470 L1485.6,477.1 L1490.9,483.5 L1496.5,489.8 L1501.9,495.3 L1506.6,499.8 L1511.6,504 L1516.3,507.5 L1521.3,510.8 L1527.6,514.2 L1535.3,517.8 L1566.2,530 L1573.8,533.2 L1580.8,536.5 L1592.6,542.5 L1615.2,555.6 L1624.7,560.8 L1636,566.4 L1647.4,571.4 L1655.1,574.3 L1662.9,577 L1670.8,579.3 L1678.3,581.1 L1685.9,582.6 L1693.6,583.8 L1701.5,584.6 L1710,585.2 L1718,585.3 L1726.5,585.1 L1735.1,584.6 L1743,583.7 L1750.8,582.5 L1758.5,580.9 L1766,579 L1774,576.7 L1785.6,572.5 L1797,567.7 L1808.7,562 L1820.6,555.4 L1834.8,546.6 L1850.7,535.8 L1867.4,523.7 L1901.5,498 L1908.9,492.8 L1915.4,488.5 L1924.1,483.4 L1932.5,479.4 L1940.6,476.5 L1948.4,474.7 L1953,474.1 L1957.1,473.9 L1961.3,473.9 L1966.1,474.3 L1971,475 L1976,476.1 L1981.5,477.5 L1987,479.3 L1997.9,483.6 L2008.4,488.6 L2019.4,494.8 L2036.2,505" fill="none" stroke="#3c3c3c" stroke-width="2.3" stroke-linejoin="round"/>
</g>
<rect x="1148.2" y="573.3" width="42.3" height="109.5" fill="none" stroke="#d9a21b" stroke-width="3" stroke-dasharray="3 3"/><text transform="translate(1178.4,628) rotate(-90)" text-anchor="middle" font-size="27" fill="#222">3778</text>
<rect x="1376.2" y="319.6" width="42.2" height="107.9" fill="none" stroke="#00b0f0" stroke-width="3" stroke-dasharray="3 3"/><text transform="translate(1406.3,373.6) rotate(-90)" text-anchor="middle" font-size="27" fill="#222">3745</text>
<rect x="1417.5" y="442.5" width="42.5" height="110.5" fill="none" stroke="#7030a0" stroke-width="3" stroke-dasharray="3 3"/><text transform="translate(1447.8,497.8) rotate(-90)" text-anchor="middle" font-size="27" fill="#222">3739</text>
<rect x="1502" y="354.3" width="42.7" height="109.4" fill="none" stroke="#a8a8a8" stroke-width="2.6" stroke-dasharray="3 3"/><text transform="translate(1532.4,409) rotate(-90)" text-anchor="middle" font-size="27" fill="#222">3726</text>
<rect x="1725.9" y="449.3" width="42.8" height="110.1" fill="none" stroke="#a8a8a8" stroke-width="2.6" stroke-dasharray="3 3"/><text transform="translate(1756.3,504.4) rotate(-90)" text-anchor="middle" font-size="27" fill="#222">3692</text>
<line x1="1033" y1="67" x2="1033" y2="807" stroke="#111" stroke-width="2.6"/>
<line x1="1025" y1="807" x2="2037.1" y2="807" stroke="#111" stroke-width="3.1"/>
<line x1="1033" y1="807" x2="1033" y2="823" stroke="#111" stroke-width="2.8"/>
<text x="1033" y="853.5" text-anchor="middle" font-size="30" fill="#222">3800</text>
<line x1="1099.8" y1="807" x2="1099.8" y2="817" stroke="#111" stroke-width="2.8"/>
<line x1="1166.7" y1="807" x2="1166.7" y2="823" stroke="#111" stroke-width="2.8"/>
<text x="1166.7" y="853.5" text-anchor="middle" font-size="30" fill="#222">3780</text>
<line x1="1233.5" y1="807" x2="1233.5" y2="817" stroke="#111" stroke-width="2.8"/>
<line x1="1300.4" y1="807" x2="1300.4" y2="823" stroke="#111" stroke-width="2.8"/>
<text x="1300.4" y="853.5" text-anchor="middle" font-size="30" fill="#222">3760</text>
<line x1="1367.2" y1="807" x2="1367.2" y2="817" stroke="#111" stroke-width="2.8"/>
<line x1="1434.1" y1="807" x2="1434.1" y2="823" stroke="#111" stroke-width="2.8"/>
<text x="1434.1" y="853.5" text-anchor="middle" font-size="30" fill="#222">3740</text>
<line x1="1501" y1="807" x2="1501" y2="817" stroke="#111" stroke-width="2.8"/>
<line x1="1567.8" y1="807" x2="1567.8" y2="823" stroke="#111" stroke-width="2.8"/>
<text x="1567.8" y="853.5" text-anchor="middle" font-size="30" fill="#222">3720</text>
<line x1="1634.7" y1="807" x2="1634.7" y2="817" stroke="#111" stroke-width="2.8"/>
<line x1="1701.5" y1="807" x2="1701.5" y2="823" stroke="#111" stroke-width="2.8"/>
<text x="1701.5" y="853.5" text-anchor="middle" font-size="30" fill="#222">3700</text>
<line x1="1768.3" y1="807" x2="1768.3" y2="817" stroke="#111" stroke-width="2.8"/>
<line x1="1835.2" y1="807" x2="1835.2" y2="823" stroke="#111" stroke-width="2.8"/>
<text x="1835.2" y="853.5" text-anchor="middle" font-size="30" fill="#222">3680</text>
<line x1="1902" y1="807" x2="1902" y2="817" stroke="#111" stroke-width="2.8"/>
<line x1="1968.9" y1="807" x2="1968.9" y2="823" stroke="#111" stroke-width="2.8"/>
<text x="1968.9" y="853.5" text-anchor="middle" font-size="30" fill="#222">3660</text>
<line x1="2035.8" y1="807" x2="2035.8" y2="817" stroke="#111" stroke-width="2.8"/>
<line x1="1029" y1="67.3" x2="1033" y2="67.3" stroke="#111" stroke-width="2"/>
<line x1="1029" y1="128.9" x2="1033" y2="128.9" stroke="#111" stroke-width="2"/>
<line x1="1029" y1="190.6" x2="1033" y2="190.6" stroke="#111" stroke-width="2"/>
<line x1="1029" y1="252.2" x2="1033" y2="252.2" stroke="#111" stroke-width="2"/>
<line x1="1029" y1="313.8" x2="1033" y2="313.8" stroke="#111" stroke-width="2"/>
<line x1="1029" y1="375.5" x2="1033" y2="375.5" stroke="#111" stroke-width="2"/>
<line x1="1029" y1="437.1" x2="1033" y2="437.1" stroke="#111" stroke-width="2"/>
<line x1="1029" y1="498.8" x2="1033" y2="498.8" stroke="#111" stroke-width="2"/>
<line x1="1029" y1="560.4" x2="1033" y2="560.4" stroke="#111" stroke-width="2"/>
<line x1="1029" y1="622" x2="1033" y2="622" stroke="#111" stroke-width="2"/>
<line x1="1029" y1="683.7" x2="1033" y2="683.7" stroke="#111" stroke-width="2"/>
<line x1="1029" y1="745.3" x2="1033" y2="745.3" stroke="#111" stroke-width="2"/>
<path d="M587,3302.3 L585.4,3302.3 L583.8,3302.2 L582.2,3302.1 L580.6,3302 L578.9,3301.9 L577.3,3301.8 L575.7,3301.7 L574.1,3301.6 L572.5,3301.4 L570.9,3301.2 L569.3,3301 L567.6,3300.8 L566,3300.6 L564.4,3300.3 L562.8,3300 L561.2,3299.7 L559.6,3299.3 L558,3298.9 L556.4,3298.5 L554.7,3298 L553.1,3297.4 L551.5,3296.8 L549.9,3296.1 L548.3,3295.4 L546.7,3294.6 L545.1,3293.7 L543.4,3292.8 L541.8,3291.7 L540.2,3290.5 L538.6,3289.3 L537,3287.9 L535.4,3286.4 L533.8,3284.7 L532.2,3282.9 L530.5,3281 L528.9,3278.9 L527.3,3276.6 L525.7,3274.2 L524.1,3271.5 L522.5,3268.7 L520.9,3265.6 L519.3,3262.3 L517.6,3258.7 L516,3254.9 L514.4,3250.8 L512.8,3246.4 L511.2,3241.7 L509.6,3236.7 L508,3231.4 L506.3,3225.7 L504.7,3219.7 L503.1,3213.3 L501.5,3206.5 L499.9,3199.4 L498.3,3191.8 L496.7,3183.9 L495.1,3175.5 L493.4,3166.7 L491.8,3157.5 L490.2,3147.8 L488.6,3137.7 L487,3127.2 L485.4,3116.3 L483.8,3104.9 L482.2,3093.1 L480.5,3080.9 L478.9,3068.2 L477.3,3055.2 L475.7,3041.9 L474.1,3028.2 L472.5,3014.1 L470.9,2999.8 L469.2,2985.2 L467.6,2970.4 L466,2955.4 L464.4,2940.3 L462.8,2925.1 L461.2,2909.8 L459.6,2894.6 L458,2879.4 L456.3,2864.4 L454.7,2849.6 L453.1,2835.1 L451.5,2821 L449.9,2807.3 L448.3,2794.1 L446.7,2781.5 L445.1,2769.7 L443.4,2758.7 L441.8,2748.6 L440.2,2739.6 L438.6,2731.8 L437,2725.3 L435.4,2720.4 L433.8,2717.4 L432.1,2717.4 L430.5,2720.4 L428.9,2725.3 L427.3,2731.8 L425.7,2739.6 L424.1,2748.6 L422.5,2758.7 L420.9,2769.7 L419.2,2781.5 L417.6,2794.1 L416,2807.3 L414.4,2821 L412.8,2835.1 L411.2,2849.6 L409.6,2864.4 L407.9,2879.4 L406.3,2894.6 L404.7,2909.8 L403.1,2925.1 L401.5,2940.3 L399.9,2955.4 L398.3,2970.4 L396.7,2985.2 L395,2999.8 L393.4,3014.1 L391.8,3028.2 L390.2,3041.9 L388.6,3055.2 L387,3068.2 L385.4,3080.9 L383.8,3093.1 L382.1,3104.9 L380.5,3116.3 L378.9,3127.2 L377.3,3137.7 L375.7,3147.8 L374.1,3157.5 L372.5,3166.7 L370.8,3175.5 L369.2,3183.9 L367.6,3191.8 L366,3199.4 L364.4,3206.5 L362.8,3213.3 L361.2,3219.7 L359.6,3225.7 L357.9,3231.4 L356.3,3236.7 L354.7,3241.7 L353.1,3246.4 L351.5,3250.8 L349.9,3254.9 L348.3,3258.7 L346.7,3262.3 L345,3265.6 L343.4,3268.7 L341.8,3271.5 L340.2,3274.2 L338.6,3276.6 L337,3278.9 L335.4,3281 L333.7,3282.9 L332.1,3284.7 L330.5,3286.4 L328.9,3287.9 L327.3,3289.3 L325.7,3290.5 L324.1,3291.7 L322.5,3292.8 L320.8,3293.7 L319.2,3294.6 L317.6,3295.4 L316,3296.1 L314.4,3296.8 L312.8,3297.4 L311.2,3298 L309.5,3298.5 L307.9,3298.9 L306.3,3299.3 L304.7,3299.7 L303.1,3300 L301.5,3300.3 L299.9,3300.6 L298.3,3300.8 L296.6,3301 L295,3301.2 L293.4,3301.4 L291.8,3301.6 L290.2,3301.7 L288.6,3301.8 L287,3301.9 L285.4,3302 L283.7,3302.1 L282.1,3302.2 L280.5,3302.3 L278.9,3302.3 L278.9,3302.8 L587,3302.8 Z" fill="rgba(128,128,128,0.068)" stroke="none"/>
<path d="M635.6,3302.7 L634.1,3302.7 L632.6,3302.7 L631.1,3302.7 L629.6,3302.7 L628.1,3302.7 L626.6,3302.6 L625.1,3302.6 L623.5,3302.5 L622,3302.5 L620.5,3302.4 L619,3302.3 L617.5,3302.3 L616,3302.1 L614.5,3302 L613,3301.9 L611.5,3301.7 L610,3301.5 L608.5,3301.3 L607,3301 L605.5,3300.7 L604,3300.3 L602.5,3299.9 L601,3299.4 L599.5,3298.8 L598,3298.2 L596.5,3297.5 L595,3296.6 L593.5,3295.7 L592,3294.6 L590.5,3293.4 L589,3292.1 L587.5,3290.6 L586,3288.9 L584.4,3287.1 L582.9,3285 L581.4,3282.7 L579.9,3280.1 L578.4,3277.4 L576.9,3274.3 L575.4,3270.9 L573.9,3267.3 L572.4,3263.3 L570.9,3259 L569.4,3254.3 L567.9,3249.3 L566.4,3243.9 L564.9,3238.1 L563.4,3231.9 L561.9,3225.3 L560.4,3218.3 L558.9,3210.9 L557.4,3203.2 L555.9,3195 L554.4,3186.4 L552.9,3177.5 L551.4,3168.3 L549.9,3158.7 L548.4,3148.8 L546.9,3138.7 L545.4,3128.3 L543.8,3117.8 L542.3,3107.1 L540.8,3096.3 L539.3,3085.4 L537.8,3074.6 L536.3,3063.8 L534.8,3053.1 L533.3,3042.5 L531.8,3032.3 L530.3,3022.3 L528.8,3012.6 L527.3,3003.4 L525.8,2994.7 L524.3,2986.5 L522.8,2978.9 L521.3,2972 L519.8,2965.7 L518.3,2960.2 L516.8,2955.4 L515.3,2951.5 L513.8,2948.4 L512.3,2946.2 L510.8,2944.8 L509.3,2944.4 L507.8,2944.8 L506.3,2946.2 L504.8,2948.4 L503.2,2951.5 L501.7,2955.4 L500.2,2960.2 L498.7,2965.7 L497.2,2972 L495.7,2978.9 L494.2,2986.5 L492.7,2994.7 L491.2,3003.4 L489.7,3012.6 L488.2,3022.3 L486.7,3032.3 L485.2,3042.5 L483.7,3053.1 L482.2,3063.8 L480.7,3074.6 L479.2,3085.4 L477.7,3096.3 L476.2,3107.1 L474.7,3117.8 L473.2,3128.3 L471.7,3138.7 L470.2,3148.8 L468.7,3158.7 L467.2,3168.3 L465.7,3177.5 L464.1,3186.4 L462.6,3195 L461.1,3203.2 L459.6,3210.9 L458.1,3218.3 L456.6,3225.3 L455.1,3231.9 L453.6,3238.1 L452.1,3243.9 L450.6,3249.3 L449.1,3254.3 L447.6,3259 L446.1,3263.3 L444.6,3267.3 L443.1,3270.9 L441.6,3274.3 L440.1,3277.4 L438.6,3280.1 L437.1,3282.7 L435.6,3285 L434.1,3287.1 L432.6,3288.9 L431.1,3290.6 L429.6,3292.1 L428.1,3293.4 L426.6,3294.6 L425.1,3295.7 L423.5,3296.6 L422,3297.5 L420.5,3298.2 L419,3298.8 L417.5,3299.4 L416,3299.9 L414.5,3300.3 L413,3300.7 L411.5,3301 L410,3301.3 L408.5,3301.5 L407,3301.7 L405.5,3301.9 L404,3302 L402.5,3302.1 L401,3302.3 L399.5,3302.3 L398,3302.4 L396.5,3302.5 L395,3302.5 L393.5,3302.6 L392,3302.6 L390.5,3302.7 L389,3302.7 L387.5,3302.7 L386,3302.7 L384.5,3302.7 L382.9,3302.7 L382.9,3302.8 L635.6,3302.8 Z" fill="rgba(128,128,128,0.068)" stroke="none"/>
<path d="M1008.7,3302.8 L1005.7,3302.7 L1002.7,3302.7 L999.7,3302.7 L996.7,3302.7 L993.7,3302.7 L990.6,3302.7 L987.6,3302.6 L984.6,3302.6 L981.6,3302.6 L978.6,3302.5 L975.6,3302.4 L972.6,3302.4 L969.5,3302.3 L966.5,3302.2 L963.5,3302.1 L960.5,3301.9 L957.5,3301.8 L954.5,3301.6 L951.5,3301.4 L948.4,3301.1 L945.4,3300.8 L942.4,3300.5 L939.4,3300.1 L936.4,3299.7 L933.4,3299.2 L930.4,3298.6 L927.3,3297.9 L924.3,3297.2 L921.3,3296.4 L918.3,3295.4 L915.3,3294.3 L912.3,3293.2 L909.3,3291.8 L906.2,3290.4 L903.2,3288.7 L900.2,3286.9 L897.2,3284.9 L894.2,3282.7 L891.2,3280.2 L888.2,3277.6 L885.1,3274.7 L882.1,3271.5 L879.1,3268.1 L876.1,3264.4 L873.1,3260.4 L870.1,3256.2 L867.1,3251.6 L864,3246.7 L861,3241.5 L858,3236 L855,3230.2 L852,3224.1 L849,3217.7 L846,3210.9 L842.9,3203.9 L839.9,3196.7 L836.9,3189.2 L833.9,3181.5 L830.9,3173.5 L827.9,3165.5 L824.9,3157.2 L821.8,3148.9 L818.8,3140.5 L815.8,3132.1 L812.8,3123.7 L809.8,3115.3 L806.8,3107.1 L803.8,3099 L800.7,3091.1 L797.7,3083.5 L794.7,3076.1 L791.7,3069.1 L788.7,3062.6 L785.7,3056.4 L782.7,3050.7 L779.7,3045.6 L776.6,3041 L773.6,3037 L770.6,3033.6 L767.6,3030.8 L764.6,3028.8 L761.6,3027.4 L758.6,3026.7 L755.5,3026.7 L752.5,3027.4 L749.5,3028.8 L746.5,3030.8 L743.5,3033.6 L740.5,3037 L737.5,3041 L734.4,3045.6 L731.4,3050.7 L728.4,3056.4 L725.4,3062.6 L722.4,3069.1 L719.4,3076.1 L716.4,3083.5 L713.3,3091.1 L710.3,3099 L707.3,3107.1 L704.3,3115.3 L701.3,3123.7 L698.3,3132.1 L695.3,3140.5 L692.2,3148.9 L689.2,3157.2 L686.2,3165.5 L683.2,3173.5 L680.2,3181.5 L677.2,3189.2 L674.2,3196.7 L671.1,3203.9 L668.1,3210.9 L665.1,3217.7 L662.1,3224.1 L659.1,3230.2 L656.1,3236 L653.1,3241.5 L650,3246.7 L647,3251.6 L644,3256.2 L641,3260.4 L638,3264.4 L635,3268.1 L632,3271.5 L628.9,3274.7 L625.9,3277.6 L622.9,3280.2 L619.9,3282.7 L616.9,3284.9 L613.9,3286.9 L610.9,3288.7 L607.8,3290.4 L604.8,3291.8 L601.8,3293.2 L598.8,3294.3 L595.8,3295.4 L592.8,3296.4 L589.8,3297.2 L586.7,3297.9 L583.7,3298.6 L580.7,3299.2 L577.7,3299.7 L574.7,3300.1 L571.7,3300.5 L568.7,3300.8 L565.6,3301.1 L562.6,3301.4 L559.6,3301.6 L556.6,3301.8 L553.6,3301.9 L550.6,3302.1 L547.6,3302.2 L544.5,3302.3 L541.5,3302.4 L538.5,3302.4 L535.5,3302.5 L532.5,3302.6 L529.5,3302.6 L526.5,3302.6 L523.4,3302.7 L520.4,3302.7 L517.4,3302.7 L514.4,3302.7 L511.4,3302.7 L508.4,3302.7 L505.4,3302.8 L505.4,3302.8 L1008.7,3302.8 Z" fill="rgba(128,128,128,0.068)" stroke="none"/>
<path d="M1520.9,3302.8 L1513.6,3302.8 L1506.4,3302.7 L1499.1,3302.7 L1491.9,3302.7 L1484.6,3302.7 L1477.4,3302.7 L1470.1,3302.6 L1462.9,3302.6 L1455.6,3302.6 L1448.4,3302.5 L1441.1,3302.5 L1433.9,3302.4 L1426.6,3302.3 L1419.4,3302.2 L1412.1,3302.1 L1404.9,3302 L1397.6,3301.8 L1390.4,3301.6 L1383.1,3301.4 L1375.9,3301.2 L1368.6,3300.9 L1361.4,3300.6 L1354.1,3300.2 L1346.9,3299.8 L1339.6,3299.3 L1332.4,3298.8 L1325.1,3298.2 L1317.9,3297.5 L1310.6,3296.7 L1303.4,3295.8 L1296.1,3294.8 L1288.9,3293.7 L1281.6,3292.4 L1274.4,3291 L1267.1,3289.4 L1259.9,3287.7 L1252.6,3285.8 L1245.4,3283.7 L1238.1,3281.4 L1230.9,3278.9 L1223.6,3276.2 L1216.4,3273.2 L1209.1,3270 L1201.9,3266.5 L1194.6,3262.7 L1187.4,3258.6 L1180.1,3254.3 L1172.9,3249.7 L1165.6,3244.7 L1158.4,3239.5 L1151.1,3234 L1143.9,3228.1 L1136.6,3222 L1129.4,3215.6 L1122.1,3209 L1114.9,3202 L1107.6,3194.9 L1100.4,3187.5 L1093.1,3179.9 L1085.9,3172.1 L1078.6,3164.2 L1071.4,3156.2 L1064.1,3148.1 L1056.9,3139.9 L1049.6,3131.8 L1042.4,3123.7 L1035.1,3115.7 L1027.9,3107.8 L1020.6,3100.1 L1013.4,3092.6 L1006.1,3085.4 L998.9,3078.5 L991.7,3072 L984.4,3065.8 L977.2,3060.2 L969.9,3054.9 L962.7,3050.3 L955.4,3046.1 L948.2,3042.6 L940.9,3039.6 L933.7,3037.3 L926.4,3035.6 L919.2,3034.6 L911.9,3034.3 L904.7,3034.6 L897.4,3035.6 L890.2,3037.3 L882.9,3039.6 L875.7,3042.6 L868.4,3046.1 L861.2,3050.3 L853.9,3054.9 L846.7,3060.2 L839.4,3065.8 L832.2,3072 L824.9,3078.5 L817.7,3085.4 L810.4,3092.6 L803.2,3100.1 L795.9,3107.8 L788.7,3115.7 L781.4,3123.7 L774.2,3131.8 L766.9,3139.9 L759.7,3148.1 L752.4,3156.2 L745.2,3164.2 L737.9,3172.1 L730.7,3179.9 L723.4,3187.5 L716.2,3194.9 L708.9,3202 L701.7,3209 L694.4,3215.6 L687.2,3222 L679.9,3228.1 L672.7,3234 L665.4,3239.5 L658.2,3244.7 L650.9,3249.7 L643.7,3254.3 L636.4,3258.6 L629.2,3262.7 L621.9,3266.5 L614.7,3270 L607.4,3273.2 L600.2,3276.2 L592.9,3278.9 L585.7,3281.4 L578.4,3283.7 L571.2,3285.8 L563.9,3287.7 L556.7,3289.4 L549.4,3291 L542.2,3292.4 L534.9,3293.7 L527.7,3294.8 L520.4,3295.8 L513.2,3296.7 L505.9,3297.5 L498.7,3298.2 L491.4,3298.8 L484.2,3299.3 L476.9,3299.8 L469.7,3300.2 L462.4,3300.6 L455.2,3300.9 L447.9,3301.2 L440.7,3301.4 L433.4,3301.6 L426.2,3301.8 L418.9,3302 L411.7,3302.1 L404.4,3302.2 L397.2,3302.3 L389.9,3302.4 L382.7,3302.5 L375.5,3302.5 L368.2,3302.6 L361,3302.6 L353.7,3302.6 L346.5,3302.7 L339.2,3302.7 L332,3302.7 L324.7,3302.7 L317.5,3302.7 L310.2,3302.8 L303,3302.8 L303,3302.8 L1520.9,3302.8 Z" fill="rgba(128,128,128,0.068)" stroke="none"/>
<path d="M2148.8,3302.1 L2135.1,3302 L2121.4,3301.9 L2107.8,3301.7 L2094.1,3301.5 L2080.4,3301.3 L2066.7,3301 L2053,3300.7 L2039.3,3300.3 L2025.7,3299.9 L2012,3299.4 L1998.3,3298.9 L1984.6,3298.3 L1970.9,3297.6 L1957.3,3296.8 L1943.6,3296 L1929.9,3295 L1916.2,3293.9 L1902.5,3292.6 L1888.8,3291.3 L1875.2,3289.8 L1861.5,3288.1 L1847.8,3286.2 L1834.1,3284.2 L1820.4,3282 L1806.8,3279.6 L1793.1,3276.9 L1779.4,3274.1 L1765.7,3271 L1752,3267.7 L1738.3,3264.1 L1724.7,3260.3 L1711,3256.3 L1697.3,3252 L1683.6,3247.5 L1669.9,3242.7 L1656.3,3237.7 L1642.6,3232.5 L1628.9,3227.1 L1615.2,3221.4 L1601.5,3215.6 L1587.8,3209.6 L1574.2,3203.5 L1560.5,3197.3 L1546.8,3190.9 L1533.1,3184.6 L1519.4,3178.2 L1505.8,3171.8 L1492.1,3165.4 L1478.4,3159.2 L1464.7,3153.1 L1451,3147.1 L1437.4,3141.3 L1423.7,3135.8 L1410,3130.6 L1396.3,3125.7 L1382.6,3121.1 L1368.9,3116.9 L1355.3,3113.2 L1341.6,3109.9 L1327.9,3107.1 L1314.2,3104.8 L1300.5,3103 L1286.9,3101.7 L1273.2,3101 L1259.5,3100.8 L1245.8,3101.2 L1232.1,3102 L1218.4,3103.4 L1204.8,3105.2 L1191.1,3107.6 L1177.4,3110.3 L1163.7,3113.6 L1150,3117.2 L1136.4,3121.2 L1122.7,3125.6 L1109,3130.4 L1095.3,3135.4 L1081.6,3140.7 L1067.9,3146.2 L1054.3,3151.9 L1040.6,3157.8 L1026.9,3163.8 L1013.2,3169.9 L999.5,3176 L985.9,3182.2 L972.2,3188.3 L958.5,3194.4 L944.8,3200.5 L931.1,3206.4 L917.5,3212.2 L903.8,3217.9 L890.1,3223.5 L876.4,3228.8 L862.7,3234 L849,3239 L835.4,3243.8 L821.7,3248.3 L808,3252.6 L794.3,3256.7 L780.6,3260.6 L767,3264.2 L753.3,3267.7 L739.6,3270.9 L725.9,3273.8 L712.2,3276.6 L698.5,3279.2 L684.9,3281.5 L671.2,3283.7 L657.5,3285.7 L643.8,3287.5 L630.1,3289.2 L616.5,3290.7 L602.8,3292.1 L589.1,3293.3 L575.4,3294.4 L561.7,3295.5 L548,3296.4 L534.4,3297.2 L520.7,3297.9 L507,3298.5 L493.3,3299.1 L479.6,3299.6 L466,3300 L452.3,3300.4 L438.6,3300.7 L424.9,3301 L411.2,3301.3 L397.5,3301.5 L383.9,3301.7 L370.2,3301.9 L356.5,3302 L342.8,3302.1 L329.1,3302.2 L315.5,3302.3 L301.8,3302.4 L288.1,3302.5 L274.4,3302.5 L260.7,3302.6 L247.1,3302.6 L233.4,3302.6 L219.7,3302.7 L206,3302.7 L192.3,3302.7 L178.6,3302.7 L165,3302.7 L151.3,3302.8 L151.3,3302.8 L2148.8,3302.8 Z" fill="rgba(128,128,128,0.068)" stroke="none"/>
<path d="M2148.8,3297.5 L2140.5,3296.9 L2132.2,3296.2 L2123.9,3295.4 L2115.6,3294.5 L2107.3,3293.6 L2099.1,3292.6 L2090.8,3291.6 L2082.5,3290.4 L2074.2,3289.2 L2065.9,3287.9 L2057.6,3286.5 L2049.3,3285 L2041,3283.5 L2032.7,3281.9 L2024.4,3280.2 L2016.2,3278.4 L2007.9,3276.6 L1999.6,3274.7 L1991.3,3272.8 L1983,3270.8 L1974.7,3268.8 L1966.4,3266.7 L1958.1,3264.7 L1949.8,3262.6 L1941.5,3260.5 L1933.3,3258.5 L1925,3256.5 L1916.7,3254.5 L1908.4,3252.6 L1900.1,3250.8 L1891.8,3249 L1883.5,3247.4 L1875.2,3245.8 L1866.9,3244.4 L1858.6,3243.1 L1850.4,3241.9 L1842.1,3240.9 L1833.8,3240 L1825.5,3239.3 L1817.2,3238.8 L1808.9,3238.5 L1800.6,3238.3 L1792.3,3238.3 L1784,3238.5 L1775.7,3238.8 L1767.5,3239.3 L1759.2,3240 L1750.9,3240.8 L1742.6,3241.7 L1734.3,3242.8 L1726,3244 L1717.7,3245.4 L1709.4,3246.8 L1701.1,3248.3 L1692.8,3250 L1684.6,3251.7 L1676.3,3253.5 L1668,3255.3 L1659.7,3257.2 L1651.4,3259.1 L1643.1,3261.1 L1634.8,3263 L1626.5,3265 L1618.2,3267 L1609.9,3268.9 L1601.7,3270.8 L1593.4,3272.7 L1585.1,3274.6 L1576.8,3276.4 L1568.5,3278.1 L1560.2,3279.8 L1551.9,3281.4 L1543.6,3283 L1535.3,3284.5 L1527,3285.9 L1518.8,3287.3 L1510.5,3288.5 L1502.2,3289.8 L1493.9,3290.9 L1485.6,3292 L1477.3,3292.9 L1469,3293.9 L1460.7,3294.7 L1452.4,3295.5 L1444.1,3296.3 L1435.9,3296.9 L1427.6,3297.6 L1419.3,3298.1 L1411,3298.6 L1402.7,3299.1 L1394.4,3299.5 L1386.1,3299.9 L1377.8,3300.2 L1369.5,3300.6 L1361.2,3300.8 L1353,3301.1 L1344.7,3301.3 L1336.4,3301.5 L1328.1,3301.7 L1319.8,3301.8 L1311.5,3302 L1303.2,3302.1 L1294.9,3302.2 L1286.6,3302.3 L1278.3,3302.3 L1270.1,3302.4 L1261.8,3302.5 L1253.5,3302.5 L1245.2,3302.6 L1236.9,3302.6 L1228.6,3302.6 L1220.3,3302.7 L1212,3302.7 L1203.7,3302.7 L1195.4,3302.7 L1187.2,3302.7 L1178.9,3302.7 L1170.6,3302.8 L1162.3,3302.8 L1154,3302.8 L1145.7,3302.8 L1137.4,3302.8 L1129.1,3302.8 L1120.8,3302.8 L1112.5,3302.8 L1104.3,3302.8 L1104.3,3302.8 L2148.8,3302.8 Z" fill="rgba(128,128,128,0.068)" stroke="none"/>
<path d="M587,3302.3 L585.4,3302.3 L583.8,3302.2 L582.2,3302.1 L580.6,3302 L578.9,3301.9 L577.3,3301.8 L575.7,3301.7 L574.1,3301.6 L572.5,3301.4 L570.9,3301.2 L569.3,3301 L567.6,3300.8 L566,3300.6 L564.4,3300.3 L562.8,3300 L561.2,3299.7 L559.6,3299.3 L558,3298.9 L556.4,3298.5 L554.7,3298 L553.1,3297.4 L551.5,3296.8 L549.9,3296.1 L548.3,3295.4 L546.7,3294.6 L545.1,3293.7 L543.4,3292.8 L541.8,3291.7 L540.2,3290.5 L538.6,3289.3 L537,3287.9 L535.4,3286.4 L533.8,3284.7 L532.2,3282.9 L530.5,3281 L528.9,3278.9 L527.3,3276.6 L525.7,3274.2 L524.1,3271.5 L522.5,3268.7 L520.9,3265.6 L519.3,3262.3 L517.6,3258.7 L516,3254.9 L514.4,3250.8 L512.8,3246.4 L511.2,3241.7 L509.6,3236.7 L508,3231.4 L506.3,3225.7 L504.7,3219.7 L503.1,3213.3 L501.5,3206.5 L499.9,3199.4 L498.3,3191.8 L496.7,3183.9 L495.1,3175.5 L493.4,3166.7 L491.8,3157.5 L490.2,3147.8 L488.6,3137.7 L487,3127.2 L485.4,3116.3 L483.8,3104.9 L482.2,3093.1 L480.5,3080.9 L478.9,3068.2 L477.3,3055.2 L475.7,3041.9 L474.1,3028.2 L472.5,3014.1 L470.9,2999.8 L469.2,2985.2 L467.6,2970.4 L466,2955.4 L464.4,2940.3 L462.8,2925.1 L461.2,2909.8 L459.6,2894.6 L458,2879.4 L456.3,2864.4 L454.7,2849.6 L453.1,2835.1 L451.5,2821 L449.9,2807.3 L448.3,2794.1 L446.7,2781.5 L445.1,2769.7 L443.4,2758.7 L441.8,2748.6 L440.2,2739.6 L438.6,2731.8 L437,2725.3 L435.4,2720.4 L433.8,2717.4 L432.1,2717.4 L430.5,2720.4 L428.9,2725.3 L427.3,2731.8 L425.7,2739.6 L424.1,2748.6 L422.5,2758.7 L420.9,2769.7 L419.2,2781.5 L417.6,2794.1 L416,2807.3 L414.4,2821 L412.8,2835.1 L411.2,2849.6 L409.6,2864.4 L407.9,2879.4 L406.3,2894.6 L404.7,2909.8 L403.1,2925.1 L401.5,2940.3 L399.9,2955.4 L398.3,2970.4 L396.7,2985.2 L395,2999.8 L393.4,3014.1 L391.8,3028.2 L390.2,3041.9 L388.6,3055.2 L387,3068.2 L385.4,3080.9 L383.8,3093.1 L382.1,3104.9 L380.5,3116.3 L378.9,3127.2 L377.3,3137.7 L375.7,3147.8 L374.1,3157.5 L372.5,3166.7 L370.8,3175.5 L369.2,3183.9 L367.6,3191.8 L366,3199.4 L364.4,3206.5 L362.8,3213.3 L361.2,3219.7 L359.6,3225.7 L357.9,3231.4 L356.3,3236.7 L354.7,3241.7 L353.1,3246.4 L351.5,3250.8 L349.9,3254.9 L348.3,3258.7 L346.7,3262.3 L345,3265.6 L343.4,3268.7 L341.8,3271.5 L340.2,3274.2 L338.6,3276.6 L337,3278.9 L335.4,3281 L333.7,3282.9 L332.1,3284.7 L330.5,3286.4 L328.9,3287.9 L327.3,3289.3 L325.7,3290.5 L324.1,3291.7 L322.5,3292.8 L320.8,3293.7 L319.2,3294.6 L317.6,3295.4 L316,3296.1 L314.4,3296.8 L312.8,3297.4 L311.2,3298 L309.5,3298.5 L307.9,3298.9 L306.3,3299.3 L304.7,3299.7 L303.1,3300 L301.5,3300.3 L299.9,3300.6 L298.3,3300.8 L296.6,3301 L295,3301.2 L293.4,3301.4 L291.8,3301.6 L290.2,3301.7 L288.6,3301.8 L287,3301.9 L285.4,3302 L283.7,3302.1 L282.1,3302.2 L280.5,3302.3 L278.9,3302.3" fill="none" stroke="#c8c8c8" stroke-width="2.1"/>
<path d="M635.6,3302.7 L634.1,3302.7 L632.6,3302.7 L631.1,3302.7 L629.6,3302.7 L628.1,3302.7 L626.6,3302.6 L625.1,3302.6 L623.5,3302.5 L622,3302.5 L620.5,3302.4 L619,3302.3 L617.5,3302.3 L616,3302.1 L614.5,3302 L613,3301.9 L611.5,3301.7 L610,3301.5 L608.5,3301.3 L607,3301 L605.5,3300.7 L604,3300.3 L602.5,3299.9 L601,3299.4 L599.5,3298.8 L598,3298.2 L596.5,3297.5 L595,3296.6 L593.5,3295.7 L592,3294.6 L590.5,3293.4 L589,3292.1 L587.5,3290.6 L586,3288.9 L584.4,3287.1 L582.9,3285 L581.4,3282.7 L579.9,3280.1 L578.4,3277.4 L576.9,3274.3 L575.4,3270.9 L573.9,3267.3 L572.4,3263.3 L570.9,3259 L569.4,3254.3 L567.9,3249.3 L566.4,3243.9 L564.9,3238.1 L563.4,3231.9 L561.9,3225.3 L560.4,3218.3 L558.9,3210.9 L557.4,3203.2 L555.9,3195 L554.4,3186.4 L552.9,3177.5 L551.4,3168.3 L549.9,3158.7 L548.4,3148.8 L546.9,3138.7 L545.4,3128.3 L543.8,3117.8 L542.3,3107.1 L540.8,3096.3 L539.3,3085.4 L537.8,3074.6 L536.3,3063.8 L534.8,3053.1 L533.3,3042.5 L531.8,3032.3 L530.3,3022.3 L528.8,3012.6 L527.3,3003.4 L525.8,2994.7 L524.3,2986.5 L522.8,2978.9 L521.3,2972 L519.8,2965.7 L518.3,2960.2 L516.8,2955.4 L515.3,2951.5 L513.8,2948.4 L512.3,2946.2 L510.8,2944.8 L509.3,2944.4 L507.8,2944.8 L506.3,2946.2 L504.8,2948.4 L503.2,2951.5 L501.7,2955.4 L500.2,2960.2 L498.7,2965.7 L497.2,2972 L495.7,2978.9 L494.2,2986.5 L492.7,2994.7 L491.2,3003.4 L489.7,3012.6 L488.2,3022.3 L486.7,3032.3 L485.2,3042.5 L483.7,3053.1 L482.2,3063.8 L480.7,3074.6 L479.2,3085.4 L477.7,3096.3 L476.2,3107.1 L474.7,3117.8 L473.2,3128.3 L471.7,3138.7 L470.2,3148.8 L468.7,3158.7 L467.2,3168.3 L465.7,3177.5 L464.1,3186.4 L462.6,3195 L461.1,3203.2 L459.6,3210.9 L458.1,3218.3 L456.6,3225.3 L455.1,3231.9 L453.6,3238.1 L452.1,3243.9 L450.6,3249.3 L449.1,3254.3 L447.6,3259 L446.1,3263.3 L444.6,3267.3 L443.1,3270.9 L441.6,3274.3 L440.1,3277.4 L438.6,3280.1 L437.1,3282.7 L435.6,3285 L434.1,3287.1 L432.6,3288.9 L431.1,3290.6 L429.6,3292.1 L428.1,3293.4 L426.6,3294.6 L425.1,3295.7 L423.5,3296.6 L422,3297.5 L420.5,3298.2 L419,3298.8 L417.5,3299.4 L416,3299.9 L414.5,3300.3 L413,3300.7 L411.5,3301 L410,3301.3 L408.5,3301.5 L407,3301.7 L405.5,3301.9 L404,3302 L402.5,3302.1 L401,3302.3 L399.5,3302.3 L398,3302.4 L396.5,3302.5 L395,3302.5 L393.5,3302.6 L392,3302.6 L390.5,3302.7 L389,3302.7 L387.5,3302.7 L386,3302.7 L384.5,3302.7 L382.9,3302.7" fill="none" stroke="#c8c8c8" stroke-width="2.1"/>
<path d="M1008.7,3302.8 L1005.7,3302.7 L1002.7,3302.7 L999.7,3302.7 L996.7,3302.7 L993.7,3302.7 L990.6,3302.7 L987.6,3302.6 L984.6,3302.6 L981.6,3302.6 L978.6,3302.5 L975.6,3302.4 L972.6,3302.4 L969.5,3302.3 L966.5,3302.2 L963.5,3302.1 L960.5,3301.9 L957.5,3301.8 L954.5,3301.6 L951.5,3301.4 L948.4,3301.1 L945.4,3300.8 L942.4,3300.5 L939.4,3300.1 L936.4,3299.7 L933.4,3299.2 L930.4,3298.6 L927.3,3297.9 L924.3,3297.2 L921.3,3296.4 L918.3,3295.4 L915.3,3294.3 L912.3,3293.2 L909.3,3291.8 L906.2,3290.4 L903.2,3288.7 L900.2,3286.9 L897.2,3284.9 L894.2,3282.7 L891.2,3280.2 L888.2,3277.6 L885.1,3274.7 L882.1,3271.5 L879.1,3268.1 L876.1,3264.4 L873.1,3260.4 L870.1,3256.2 L867.1,3251.6 L864,3246.7 L861,3241.5 L858,3236 L855,3230.2 L852,3224.1 L849,3217.7 L846,3210.9 L842.9,3203.9 L839.9,3196.7 L836.9,3189.2 L833.9,3181.5 L830.9,3173.5 L827.9,3165.5 L824.9,3157.2 L821.8,3148.9 L818.8,3140.5 L815.8,3132.1 L812.8,3123.7 L809.8,3115.3 L806.8,3107.1 L803.8,3099 L800.7,3091.1 L797.7,3083.5 L794.7,3076.1 L791.7,3069.1 L788.7,3062.6 L785.7,3056.4 L782.7,3050.7 L779.7,3045.6 L776.6,3041 L773.6,3037 L770.6,3033.6 L767.6,3030.8 L764.6,3028.8 L761.6,3027.4 L758.6,3026.7 L755.5,3026.7 L752.5,3027.4 L749.5,3028.8 L746.5,3030.8 L743.5,3033.6 L740.5,3037 L737.5,3041 L734.4,3045.6 L731.4,3050.7 L728.4,3056.4 L725.4,3062.6 L722.4,3069.1 L719.4,3076.1 L716.4,3083.5 L713.3,3091.1 L710.3,3099 L707.3,3107.1 L704.3,3115.3 L701.3,3123.7 L698.3,3132.1 L695.3,3140.5 L692.2,3148.9 L689.2,3157.2 L686.2,3165.5 L683.2,3173.5 L680.2,3181.5 L677.2,3189.2 L674.2,3196.7 L671.1,3203.9 L668.1,3210.9 L665.1,3217.7 L662.1,3224.1 L659.1,3230.2 L656.1,3236 L653.1,3241.5 L650,3246.7 L647,3251.6 L644,3256.2 L641,3260.4 L638,3264.4 L635,3268.1 L632,3271.5 L628.9,3274.7 L625.9,3277.6 L622.9,3280.2 L619.9,3282.7 L616.9,3284.9 L613.9,3286.9 L610.9,3288.7 L607.8,3290.4 L604.8,3291.8 L601.8,3293.2 L598.8,3294.3 L595.8,3295.4 L592.8,3296.4 L589.8,3297.2 L586.7,3297.9 L583.7,3298.6 L580.7,3299.2 L577.7,3299.7 L574.7,3300.1 L571.7,3300.5 L568.7,3300.8 L565.6,3301.1 L562.6,3301.4 L559.6,3301.6 L556.6,3301.8 L553.6,3301.9 L550.6,3302.1 L547.6,3302.2 L544.5,3302.3 L541.5,3302.4 L538.5,3302.4 L535.5,3302.5 L532.5,3302.6 L529.5,3302.6 L526.5,3302.6 L523.4,3302.7 L520.4,3302.7 L517.4,3302.7 L514.4,3302.7 L511.4,3302.7 L508.4,3302.7 L505.4,3302.8" fill="none" stroke="#c8c8c8" stroke-width="2.1"/>
<path d="M1520.9,3302.8 L1513.6,3302.8 L1506.4,3302.7 L1499.1,3302.7 L1491.9,3302.7 L1484.6,3302.7 L1477.4,3302.7 L1470.1,3302.6 L1462.9,3302.6 L1455.6,3302.6 L1448.4,3302.5 L1441.1,3302.5 L1433.9,3302.4 L1426.6,3302.3 L1419.4,3302.2 L1412.1,3302.1 L1404.9,3302 L1397.6,3301.8 L1390.4,3301.6 L1383.1,3301.4 L1375.9,3301.2 L1368.6,3300.9 L1361.4,3300.6 L1354.1,3300.2 L1346.9,3299.8 L1339.6,3299.3 L1332.4,3298.8 L1325.1,3298.2 L1317.9,3297.5 L1310.6,3296.7 L1303.4,3295.8 L1296.1,3294.8 L1288.9,3293.7 L1281.6,3292.4 L1274.4,3291 L1267.1,3289.4 L1259.9,3287.7 L1252.6,3285.8 L1245.4,3283.7 L1238.1,3281.4 L1230.9,3278.9 L1223.6,3276.2 L1216.4,3273.2 L1209.1,3270 L1201.9,3266.5 L1194.6,3262.7 L1187.4,3258.6 L1180.1,3254.3 L1172.9,3249.7 L1165.6,3244.7 L1158.4,3239.5 L1151.1,3234 L1143.9,3228.1 L1136.6,3222 L1129.4,3215.6 L1122.1,3209 L1114.9,3202 L1107.6,3194.9 L1100.4,3187.5 L1093.1,3179.9 L1085.9,3172.1 L1078.6,3164.2 L1071.4,3156.2 L1064.1,3148.1 L1056.9,3139.9 L1049.6,3131.8 L1042.4,3123.7 L1035.1,3115.7 L1027.9,3107.8 L1020.6,3100.1 L1013.4,3092.6 L1006.1,3085.4 L998.9,3078.5 L991.7,3072 L984.4,3065.8 L977.2,3060.2 L969.9,3054.9 L962.7,3050.3 L955.4,3046.1 L948.2,3042.6 L940.9,3039.6 L933.7,3037.3 L926.4,3035.6 L919.2,3034.6 L911.9,3034.3 L904.7,3034.6 L897.4,3035.6 L890.2,3037.3 L882.9,3039.6 L875.7,3042.6 L868.4,3046.1 L861.2,3050.3 L853.9,3054.9 L846.7,3060.2 L839.4,3065.8 L832.2,3072 L824.9,3078.5 L817.7,3085.4 L810.4,3092.6 L803.2,3100.1 L795.9,3107.8 L788.7,3115.7 L781.4,3123.7 L774.2,3131.8 L766.9,3139.9 L759.7,3148.1 L752.4,3156.2 L745.2,3164.2 L737.9,3172.1 L730.7,3179.9 L723.4,3187.5 L716.2,3194.9 L708.9,3202 L701.7,3209 L694.4,3215.6 L687.2,3222 L679.9,3228.1 L672.7,3234 L665.4,3239.5 L658.2,3244.7 L650.9,3249.7 L643.7,3254.3 L636.4,3258.6 L629.2,3262.7 L621.9,3266.5 L614.7,3270 L607.4,3273.2 L600.2,3276.2 L592.9,3278.9 L585.7,3281.4 L578.4,3283.7 L571.2,3285.8 L563.9,3287.7 L556.7,3289.4 L549.4,3291 L542.2,3292.4 L534.9,3293.7 L527.7,3294.8 L520.4,3295.8 L513.2,3296.7 L505.9,3297.5 L498.7,3298.2 L491.4,3298.8 L484.2,3299.3 L476.9,3299.8 L469.7,3300.2 L462.4,3300.6 L455.2,3300.9 L447.9,3301.2 L440.7,3301.4 L433.4,3301.6 L426.2,3301.8 L418.9,3302 L411.7,3302.1 L404.4,3302.2 L397.2,3302.3 L389.9,3302.4 L382.7,3302.5 L375.5,3302.5 L368.2,3302.6 L361,3302.6 L353.7,3302.6 L346.5,3302.7 L339.2,3302.7 L332,3302.7 L324.7,3302.7 L317.5,3302.7 L310.2,3302.8 L303,3302.8" fill="none" stroke="#c8c8c8" stroke-width="2.1"/>
<path d="M2148.8,3302.1 L2135.1,3302 L2121.4,3301.9 L2107.8,3301.7 L2094.1,3301.5 L2080.4,3301.3 L2066.7,3301 L2053,3300.7 L2039.3,3300.3 L2025.7,3299.9 L2012,3299.4 L1998.3,3298.9 L1984.6,3298.3 L1970.9,3297.6 L1957.3,3296.8 L1943.6,3296 L1929.9,3295 L1916.2,3293.9 L1902.5,3292.6 L1888.8,3291.3 L1875.2,3289.8 L1861.5,3288.1 L1847.8,3286.2 L1834.1,3284.2 L1820.4,3282 L1806.8,3279.6 L1793.1,3276.9 L1779.4,3274.1 L1765.7,3271 L1752,3267.7 L1738.3,3264.1 L1724.7,3260.3 L1711,3256.3 L1697.3,3252 L1683.6,3247.5 L1669.9,3242.7 L1656.3,3237.7 L1642.6,3232.5 L1628.9,3227.1 L1615.2,3221.4 L1601.5,3215.6 L1587.8,3209.6 L1574.2,3203.5 L1560.5,3197.3 L1546.8,3190.9 L1533.1,3184.6 L1519.4,3178.2 L1505.8,3171.8 L1492.1,3165.4 L1478.4,3159.2 L1464.7,3153.1 L1451,3147.1 L1437.4,3141.3 L1423.7,3135.8 L1410,3130.6 L1396.3,3125.7 L1382.6,3121.1 L1368.9,3116.9 L1355.3,3113.2 L1341.6,3109.9 L1327.9,3107.1 L1314.2,3104.8 L1300.5,3103 L1286.9,3101.7 L1273.2,3101 L1259.5,3100.8 L1245.8,3101.2 L1232.1,3102 L1218.4,3103.4 L1204.8,3105.2 L1191.1,3107.6 L1177.4,3110.3 L1163.7,3113.6 L1150,3117.2 L1136.4,3121.2 L1122.7,3125.6 L1109,3130.4 L1095.3,3135.4 L1081.6,3140.7 L1067.9,3146.2 L1054.3,3151.9 L1040.6,3157.8 L1026.9,3163.8 L1013.2,3169.9 L999.5,3176 L985.9,3182.2 L972.2,3188.3 L958.5,3194.4 L944.8,3200.5 L931.1,3206.4 L917.5,3212.2 L903.8,3217.9 L890.1,3223.5 L876.4,3228.8 L862.7,3234 L849,3239 L835.4,3243.8 L821.7,3248.3 L808,3252.6 L794.3,3256.7 L780.6,3260.6 L767,3264.2 L753.3,3267.7 L739.6,3270.9 L725.9,3273.8 L712.2,3276.6 L698.5,3279.2 L684.9,3281.5 L671.2,3283.7 L657.5,3285.7 L643.8,3287.5 L630.1,3289.2 L616.5,3290.7 L602.8,3292.1 L589.1,3293.3 L575.4,3294.4 L561.7,3295.5 L548,3296.4 L534.4,3297.2 L520.7,3297.9 L507,3298.5 L493.3,3299.1 L479.6,3299.6 L466,3300 L452.3,3300.4 L438.6,3300.7 L424.9,3301 L411.2,3301.3 L397.5,3301.5 L383.9,3301.7 L370.2,3301.9 L356.5,3302 L342.8,3302.1 L329.1,3302.2 L315.5,3302.3 L301.8,3302.4 L288.1,3302.5 L274.4,3302.5 L260.7,3302.6 L247.1,3302.6 L233.4,3302.6 L219.7,3302.7 L206,3302.7 L192.3,3302.7 L178.6,3302.7 L165,3302.7 L151.3,3302.8" fill="none" stroke="#c8c8c8" stroke-width="2.1"/>
<path d="M2148.8,3297.5 L2140.5,3296.9 L2132.2,3296.2 L2123.9,3295.4 L2115.6,3294.5 L2107.3,3293.6 L2099.1,3292.6 L2090.8,3291.6 L2082.5,3290.4 L2074.2,3289.2 L2065.9,3287.9 L2057.6,3286.5 L2049.3,3285 L2041,3283.5 L2032.7,3281.9 L2024.4,3280.2 L2016.2,3278.4 L2007.9,3276.6 L1999.6,3274.7 L1991.3,3272.8 L1983,3270.8 L1974.7,3268.8 L1966.4,3266.7 L1958.1,3264.7 L1949.8,3262.6 L1941.5,3260.5 L1933.3,3258.5 L1925,3256.5 L1916.7,3254.5 L1908.4,3252.6 L1900.1,3250.8 L1891.8,3249 L1883.5,3247.4 L1875.2,3245.8 L1866.9,3244.4 L1858.6,3243.1 L1850.4,3241.9 L1842.1,3240.9 L1833.8,3240 L1825.5,3239.3 L1817.2,3238.8 L1808.9,3238.5 L1800.6,3238.3 L1792.3,3238.3 L1784,3238.5 L1775.7,3238.8 L1767.5,3239.3 L1759.2,3240 L1750.9,3240.8 L1742.6,3241.7 L1734.3,3242.8 L1726,3244 L1717.7,3245.4 L1709.4,3246.8 L1701.1,3248.3 L1692.8,3250 L1684.6,3251.7 L1676.3,3253.5 L1668,3255.3 L1659.7,3257.2 L1651.4,3259.1 L1643.1,3261.1 L1634.8,3263 L1626.5,3265 L1618.2,3267 L1609.9,3268.9 L1601.7,3270.8 L1593.4,3272.7 L1585.1,3274.6 L1576.8,3276.4 L1568.5,3278.1 L1560.2,3279.8 L1551.9,3281.4 L1543.6,3283 L1535.3,3284.5 L1527,3285.9 L1518.8,3287.3 L1510.5,3288.5 L1502.2,3289.8 L1493.9,3290.9 L1485.6,3292 L1477.3,3292.9 L1469,3293.9 L1460.7,3294.7 L1452.4,3295.5 L1444.1,3296.3 L1435.9,3296.9 L1427.6,3297.6 L1419.3,3298.1 L1411,3298.6 L1402.7,3299.1 L1394.4,3299.5 L1386.1,3299.9 L1377.8,3300.2 L1369.5,3300.6 L1361.2,3300.8 L1353,3301.1 L1344.7,3301.3 L1336.4,3301.5 L1328.1,3301.7 L1319.8,3301.8 L1311.5,3302 L1303.2,3302.1 L1294.9,3302.2 L1286.6,3302.3 L1278.3,3302.3 L1270.1,3302.4 L1261.8,3302.5 L1253.5,3302.5 L1245.2,3302.6 L1236.9,3302.6 L1228.6,3302.6 L1220.3,3302.7 L1212,3302.7 L1203.7,3302.7 L1195.4,3302.7 L1187.2,3302.7 L1178.9,3302.7 L1170.6,3302.8 L1162.3,3302.8 L1154,3302.8 L1145.7,3302.8 L1137.4,3302.8 L1129.1,3302.8 L1120.8,3302.8 L1112.5,3302.8 L1104.3,3302.8" fill="none" stroke="#c8c8c8" stroke-width="2.1"/>
<path d="M391,3302.8 L390.4,3302.8 L389.7,3302.8 L389,3302.8 L388.4,3302.8 L387.7,3302.8 L387,3302.8 L386.4,3302.8 L385.7,3302.8 L385,3302.8 L384.4,3302.8 L383.7,3302.8 L383,3302.8 L382.4,3302.7 L381.7,3302.7 L381,3302.7 L380.4,3302.7 L379.7,3302.7 L379,3302.7 L378.4,3302.7 L377.7,3302.7 L377,3302.6 L376.4,3302.6 L375.7,3302.6 L375,3302.6 L374.4,3302.5 L373.7,3302.5 L373,3302.4 L372.4,3302.4 L371.7,3302.3 L371,3302.3 L370.4,3302.2 L369.7,3302.1 L369,3302.1 L368.4,3302 L367.7,3301.9 L367,3301.8 L366.4,3301.6 L365.7,3301.5 L365,3301.4 L364.3,3301.2 L363.7,3301 L363,3300.9 L362.3,3300.6 L361.7,3300.4 L361,3300.2 L360.3,3299.9 L359.7,3299.6 L359,3299.3 L358.3,3299 L357.7,3298.7 L357,3298.3 L356.3,3297.9 L355.7,3297.4 L355,3297 L354.3,3296.5 L353.7,3296 L353,3295.4 L352.3,3294.8 L351.7,3294.2 L351,3293.6 L350.3,3292.9 L349.7,3292.2 L349,3291.4 L348.3,3290.7 L347.7,3289.8 L347,3289 L346.3,3288.1 L345.7,3287.2 L345,3286.3 L344.3,3285.3 L343.7,3284.3 L343,3283.3 L342.3,3282.3 L341.7,3281.2 L341,3280.2 L340.3,3279.1 L339.7,3278 L339,3276.9 L338.3,3275.8 L337.6,3274.7 L337,3273.5 L336.3,3272.4 L335.6,3271.3 L335,3270.3 L334.3,3269.2 L333.6,3268.1 L333,3267.1 L332.3,3266.1 L331.6,3265.2 L331,3264.2 L330.3,3263.4 L329.6,3262.5 L329,3261.7 L328.3,3261 L327.6,3260.3 L327,3259.7 L326.3,3259.1 L325.6,3258.6 L325,3258.2 L324.3,3257.8 L323.6,3257.5 L323,3257.3 L322.3,3257.2 L321.6,3257.1 L321,3257.1 L320.3,3257.2 L319.6,3257.3 L319,3257.5 L318.3,3257.8 L317.6,3258.2 L317,3258.6 L316.3,3259.1 L315.6,3259.7 L315,3260.3 L314.3,3261 L313.6,3261.7 L312.9,3262.5 L312.3,3263.4 L311.6,3264.2 L310.9,3265.2 L310.3,3266.1 L309.6,3267.1 L308.9,3268.1 L308.3,3269.2 L307.6,3270.3 L306.9,3271.3 L306.3,3272.4 L305.6,3273.5 L304.9,3274.7 L304.3,3275.8 L303.6,3276.9 L302.9,3278 L302.3,3279.1 L301.6,3280.2 L300.9,3281.2 L300.3,3282.3 L299.6,3283.3 L298.9,3284.3 L298.3,3285.3 L297.6,3286.3 L296.9,3287.2 L296.3,3288.1 L295.6,3289 L294.9,3289.8 L294.3,3290.7 L293.6,3291.4 L292.9,3292.2 L292.3,3292.9 L291.6,3293.6 L290.9,3294.2 L290.3,3294.8 L289.6,3295.4 L288.9,3296 L288.3,3296.5 L287.6,3297 L286.9,3297.4 L286.2,3297.9 L285.6,3298.3 L284.9,3298.7 L284.2,3299 L283.6,3299.3 L282.9,3299.6 L282.2,3299.9 L281.6,3300.2 L280.9,3300.4 L280.2,3300.6 L279.6,3300.9 L278.9,3301 L278.2,3301.2 L277.6,3301.4 L276.9,3301.5 L276.2,3301.6 L275.6,3301.8 L274.9,3301.9 L274.2,3302 L273.6,3302.1 L272.9,3302.1 L272.2,3302.2 L271.6,3302.3 L270.9,3302.3 L270.2,3302.4 L269.6,3302.4 L268.9,3302.5 L268.2,3302.5 L267.6,3302.6 L266.9,3302.6 L266.2,3302.6 L265.6,3302.6 L264.9,3302.7 L264.2,3302.7 L263.6,3302.7 L262.9,3302.7 L262.2,3302.7 L261.6,3302.7 L260.9,3302.7 L260.2,3302.7 L259.5,3302.8 L258.9,3302.8 L258.2,3302.8 L257.5,3302.8 L256.9,3302.8 L256.2,3302.8 L255.5,3302.8 L254.9,3302.8 L254.2,3302.8 L253.5,3302.8 L252.9,3302.8 L252.2,3302.8 L251.5,3302.8 L251.5,3302.8 L391,3302.8 Z" fill="rgba(128,128,0,0.15)" stroke="none"/>
<path d="M420.7,3302.7 L420.1,3302.7 L419.6,3302.7 L419,3302.6 L418.4,3302.6 L417.9,3302.5 L417.3,3302.4 L416.8,3302.3 L416.2,3302.2 L415.6,3302 L415.1,3301.8 L414.5,3301.6 L413.9,3301.3 L413.4,3300.9 L412.8,3300.4 L412.3,3299.8 L411.7,3299.1 L411.1,3298.2 L410.6,3297.2 L410,3295.9 L409.4,3294.4 L408.9,3292.7 L408.3,3290.6 L407.8,3288.2 L407.2,3285.3 L406.6,3282.1 L406.1,3278.3 L405.5,3273.9 L404.9,3269 L404.4,3263.4 L403.8,3257 L403.3,3249.9 L402.7,3242 L402.1,3233.1 L401.6,3223.4 L401,3212.7 L400.4,3201.1 L399.9,3188.5 L399.3,3174.9 L398.8,3160.3 L398.2,3144.8 L397.6,3128.4 L397.1,3111.2 L396.5,3093.3 L395.9,3074.7 L395.4,3055.6 L394.8,3036.2 L394.3,3016.5 L393.7,2996.8 L393.1,2977.3 L392.6,2958.1 L392,2939.4 L391.4,2921.5 L390.9,2904.5 L390.3,2888.6 L389.8,2874.1 L389.2,2861.1 L388.6,2849.8 L388.1,2840.4 L387.5,2832.9 L386.9,2827.5 L386.4,2824.2 L385.8,2823.1 L385.3,2824.2 L384.7,2827.5 L384.1,2832.9 L383.6,2840.4 L383,2849.8 L382.4,2861.1 L381.9,2874.1 L381.3,2888.6 L380.8,2904.5 L380.2,2921.5 L379.6,2939.4 L379.1,2958.1 L378.5,2977.3 L377.9,2996.8 L377.4,3016.5 L376.8,3036.2 L376.3,3055.6 L375.7,3074.7 L375.1,3093.3 L374.6,3111.2 L374,3128.4 L373.4,3144.8 L372.9,3160.3 L372.3,3174.9 L371.8,3188.5 L371.2,3201.1 L370.6,3212.7 L370.1,3223.4 L369.5,3233.1 L368.9,3242 L368.4,3249.9 L367.8,3257 L367.3,3263.4 L366.7,3269 L366.1,3273.9 L365.6,3278.3 L365,3282.1 L364.4,3285.3 L363.9,3288.2 L363.3,3290.6 L362.8,3292.7 L362.2,3294.4 L361.6,3295.9 L361.1,3297.2 L360.5,3298.2 L359.9,3299.1 L359.4,3299.8 L358.8,3300.4 L358.3,3300.9 L357.7,3301.3 L357.1,3301.6 L356.6,3301.8 L356,3302 L355.4,3302.2 L354.9,3302.3 L354.3,3302.4 L353.8,3302.5 L353.2,3302.6 L352.6,3302.6 L352.1,3302.7 L351.5,3302.7 L350.9,3302.7 L350.9,3302.8 L420.7,3302.8 Z" fill="rgba(0,255,255,0.17)" stroke="none"/>
<path d="M462.7,3302.8 L462.1,3302.7 L461.6,3302.7 L461,3302.7 L460.5,3302.7 L459.9,3302.7 L459.3,3302.7 L458.8,3302.6 L458.2,3302.6 L457.6,3302.6 L457.1,3302.6 L456.5,3302.5 L455.9,3302.5 L455.4,3302.4 L454.8,3302.4 L454.2,3302.3 L453.7,3302.2 L453.1,3302.1 L452.5,3302 L452,3301.9 L451.4,3301.8 L450.8,3301.6 L450.3,3301.4 L449.7,3301.2 L449.1,3301 L448.6,3300.8 L448,3300.5 L447.4,3300.2 L446.9,3299.9 L446.3,3299.5 L445.7,3299 L445.2,3298.6 L444.6,3298 L444,3297.5 L443.5,3296.8 L442.9,3296.1 L442.4,3295.3 L441.8,3294.4 L441.2,3293.5 L440.7,3292.4 L440.1,3291.3 L439.5,3290 L439,3288.7 L438.4,3287.2 L437.8,3285.6 L437.3,3283.8 L436.7,3281.9 L436.1,3279.9 L435.6,3277.7 L435,3275.3 L434.4,3272.8 L433.9,3270 L433.3,3267.1 L432.7,3264 L432.2,3260.6 L431.6,3257.1 L431,3253.3 L430.5,3249.3 L429.9,3245.1 L429.3,3240.6 L428.8,3235.9 L428.2,3231 L427.6,3225.8 L427.1,3220.4 L426.5,3214.8 L425.9,3208.9 L425.4,3202.8 L424.8,3196.4 L424.3,3189.8 L423.7,3183 L423.1,3176 L422.6,3168.8 L422,3161.4 L421.4,3153.9 L420.9,3146.2 L420.3,3138.4 L419.7,3130.4 L419.2,3122.4 L418.6,3114.3 L418,3106.1 L417.5,3097.9 L416.9,3089.7 L416.3,3081.6 L415.8,3073.4 L415.2,3065.4 L414.6,3057.5 L414.1,3049.7 L413.5,3042.1 L412.9,3034.7 L412.4,3027.6 L411.8,3020.6 L411.2,3014 L410.7,3007.7 L410.1,3001.8 L409.5,2996.2 L409,2991 L408.4,2986.2 L407.9,2981.9 L407.3,2978 L406.7,2974.6 L406.2,2971.7 L405.6,2969.3 L405,2967.4 L404.5,2966.1 L403.9,2965.3 L403.3,2965 L402.8,2965.3 L402.2,2966.1 L401.6,2967.4 L401.1,2969.3 L400.5,2971.7 L399.9,2974.6 L399.4,2978 L398.8,2981.9 L398.2,2986.2 L397.7,2991 L397.1,2996.2 L396.5,3001.8 L396,3007.7 L395.4,3014 L394.8,3020.6 L394.3,3027.6 L393.7,3034.7 L393.1,3042.1 L392.6,3049.7 L392,3057.5 L391.4,3065.4 L390.9,3073.4 L390.3,3081.6 L389.8,3089.7 L389.2,3097.9 L388.6,3106.1 L388.1,3114.3 L387.5,3122.4 L386.9,3130.4 L386.4,3138.4 L385.8,3146.2 L385.2,3153.9 L384.7,3161.4 L384.1,3168.8 L383.5,3176 L383,3183 L382.4,3189.8 L381.8,3196.4 L381.3,3202.8 L380.7,3208.9 L380.1,3214.8 L379.6,3220.4 L379,3225.8 L378.4,3231 L377.9,3235.9 L377.3,3240.6 L376.7,3245.1 L376.2,3249.3 L375.6,3253.3 L375,3257.1 L374.5,3260.6 L373.9,3264 L373.3,3267.1 L372.8,3270 L372.2,3272.8 L371.7,3275.3 L371.1,3277.7 L370.5,3279.9 L370,3281.9 L369.4,3283.8 L368.8,3285.6 L368.3,3287.2 L367.7,3288.7 L367.1,3290 L366.6,3291.3 L366,3292.4 L365.4,3293.5 L364.9,3294.4 L364.3,3295.3 L363.7,3296.1 L363.2,3296.8 L362.6,3297.5 L362,3298 L361.5,3298.6 L360.9,3299 L360.3,3299.5 L359.8,3299.9 L359.2,3300.2 L358.6,3300.5 L358.1,3300.8 L357.5,3301 L356.9,3301.2 L356.4,3301.4 L355.8,3301.6 L355.3,3301.8 L354.7,3301.9 L354.1,3302 L353.6,3302.1 L353,3302.2 L352.4,3302.3 L351.9,3302.4 L351.3,3302.4 L350.7,3302.5 L350.2,3302.5 L349.6,3302.6 L349,3302.6 L348.5,3302.6 L347.9,3302.6 L347.3,3302.7 L346.8,3302.7 L346.2,3302.7 L345.6,3302.7 L345.1,3302.7 L344.5,3302.7 L343.9,3302.8 L343.9,3302.8 L462.7,3302.8 Z" fill="rgba(0,0,255,0.14)" stroke="none"/>
<path d="M728.3,3302.7 L726.9,3302.7 L725.5,3302.7 L724.1,3302.7 L722.7,3302.7 L721.3,3302.7 L719.9,3302.7 L718.5,3302.6 L717.2,3302.6 L715.8,3302.6 L714.4,3302.5 L713,3302.5 L711.6,3302.4 L710.2,3302.4 L708.8,3302.3 L707.4,3302.3 L706,3302.2 L704.7,3302.1 L703.3,3302 L701.9,3301.8 L700.5,3301.7 L699.1,3301.5 L697.7,3301.4 L696.3,3301.2 L694.9,3300.9 L693.5,3300.7 L692.2,3300.4 L690.8,3300.1 L689.4,3299.7 L688,3299.3 L686.6,3298.8 L685.2,3298.3 L683.8,3297.8 L682.4,3297.1 L681,3296.5 L679.6,3295.7 L678.3,3294.9 L676.9,3293.9 L675.5,3292.9 L674.1,3291.8 L672.7,3290.6 L671.3,3289.3 L669.9,3287.8 L668.5,3286.2 L667.1,3284.5 L665.8,3282.7 L664.4,3280.6 L663,3278.5 L661.6,3276.1 L660.2,3273.6 L658.8,3270.9 L657.4,3268 L656,3264.9 L654.6,3261.5 L653.3,3258 L651.9,3254.2 L650.5,3250.2 L649.1,3246 L647.7,3241.5 L646.3,3236.8 L644.9,3231.8 L643.5,3226.6 L642.1,3221.1 L640.8,3215.3 L639.4,3209.4 L638,3203.1 L636.6,3196.6 L635.2,3189.9 L633.8,3183 L632.4,3175.8 L631,3168.4 L629.6,3160.8 L628.3,3153 L626.9,3145.1 L625.5,3137 L624.1,3128.8 L622.7,3120.4 L621.3,3112 L619.9,3103.5 L618.5,3094.9 L617.1,3086.3 L615.7,3077.8 L614.4,3069.3 L613,3060.8 L611.6,3052.5 L610.2,3044.2 L608.8,3036.2 L607.4,3028.3 L606,3020.7 L604.6,3013.3 L603.2,3006.2 L601.9,2999.4 L600.5,2993 L599.1,2986.9 L597.7,2981.2 L596.3,2976 L594.9,2971.2 L593.5,2966.9 L592.1,2963.1 L590.7,2959.8 L589.4,2957 L588,2954.8 L586.6,2953.1 L585.2,2951.9 L583.8,2951.4 L582.4,2951.4 L581,2951.9 L579.6,2953.1 L578.2,2954.8 L576.9,2957 L575.5,2959.8 L574.1,2963.1 L572.7,2966.9 L571.3,2971.2 L569.9,2976 L568.5,2981.2 L567.1,2986.9 L565.7,2993 L564.3,2999.4 L563,3006.2 L561.6,3013.3 L560.2,3020.7 L558.8,3028.3 L557.4,3036.2 L556,3044.2 L554.6,3052.5 L553.2,3060.8 L551.8,3069.3 L550.5,3077.8 L549.1,3086.3 L547.7,3094.9 L546.3,3103.5 L544.9,3112 L543.5,3120.4 L542.1,3128.8 L540.7,3137 L539.3,3145.1 L538,3153 L536.6,3160.8 L535.2,3168.4 L533.8,3175.8 L532.4,3183 L531,3189.9 L529.6,3196.6 L528.2,3203.1 L526.8,3209.4 L525.5,3215.3 L524.1,3221.1 L522.7,3226.6 L521.3,3231.8 L519.9,3236.8 L518.5,3241.5 L517.1,3246 L515.7,3250.2 L514.3,3254.2 L512.9,3258 L511.6,3261.5 L510.2,3264.9 L508.8,3268 L507.4,3270.9 L506,3273.6 L504.6,3276.1 L503.2,3278.5 L501.8,3280.6 L500.4,3282.7 L499.1,3284.5 L497.7,3286.2 L496.3,3287.8 L494.9,3289.3 L493.5,3290.6 L492.1,3291.8 L490.7,3292.9 L489.3,3293.9 L487.9,3294.9 L486.6,3295.7 L485.2,3296.5 L483.8,3297.1 L482.4,3297.8 L481,3298.3 L479.6,3298.8 L478.2,3299.3 L476.8,3299.7 L475.4,3300.1 L474.1,3300.4 L472.7,3300.7 L471.3,3300.9 L469.9,3301.2 L468.5,3301.4 L467.1,3301.5 L465.7,3301.7 L464.3,3301.8 L462.9,3302 L461.6,3302.1 L460.2,3302.2 L458.8,3302.3 L457.4,3302.3 L456,3302.4 L454.6,3302.4 L453.2,3302.5 L451.8,3302.5 L450.4,3302.6 L449,3302.6 L447.7,3302.6 L446.3,3302.7 L444.9,3302.7 L443.5,3302.7 L442.1,3302.7 L440.7,3302.7 L439.3,3302.7 L437.9,3302.7 L437.9,3302.8 L728.3,3302.8 Z" fill="rgba(255,0,0,0.16)" stroke="none"/>
<path d="M841.5,3301.6 L840.3,3301.4 L839,3301.3 L837.8,3301.2 L836.6,3301.1 L835.3,3300.9 L834.1,3300.7 L832.9,3300.6 L831.6,3300.4 L830.4,3300.2 L829.2,3300 L827.9,3299.7 L826.7,3299.5 L825.4,3299.2 L824.2,3298.9 L823,3298.6 L821.7,3298.2 L820.5,3297.9 L819.3,3297.5 L818,3297 L816.8,3296.6 L815.6,3296.1 L814.3,3295.6 L813.1,3295 L811.8,3294.4 L810.6,3293.8 L809.4,3293.1 L808.1,3292.4 L806.9,3291.6 L805.7,3290.7 L804.4,3289.8 L803.2,3288.9 L802,3287.8 L800.7,3286.7 L799.5,3285.6 L798.2,3284.3 L797,3283 L795.8,3281.6 L794.5,3280.1 L793.3,3278.5 L792.1,3276.9 L790.8,3275.1 L789.6,3273.2 L788.4,3271.2 L787.1,3269 L785.9,3266.8 L784.6,3264.4 L783.4,3261.8 L782.2,3259.2 L780.9,3256.3 L779.7,3253.3 L778.5,3250.2 L777.2,3246.8 L776,3243.3 L774.7,3239.6 L773.5,3235.7 L772.3,3231.6 L771,3227.3 L769.8,3222.8 L768.6,3218 L767.3,3213 L766.1,3207.8 L764.9,3202.3 L763.6,3196.5 L762.4,3190.5 L761.1,3184.2 L759.9,3177.6 L758.7,3170.7 L757.4,3163.5 L756.2,3156 L755,3148.1 L753.7,3140 L752.5,3131.5 L751.3,3122.7 L750,3113.5 L748.8,3104 L747.5,3094.1 L746.3,3083.9 L745.1,3073.2 L743.8,3062.3 L742.6,3050.9 L741.4,3039.2 L740.1,3027 L738.9,3014.5 L737.7,3001.7 L736.4,2988.4 L735.2,2974.8 L733.9,2960.8 L732.7,2946.4 L731.5,2931.7 L730.2,2916.6 L729,2901.2 L727.8,2885.4 L726.5,2869.3 L725.3,2853 L724.1,2836.3 L722.8,2819.3 L721.6,2802.1 L720.3,2784.6 L719.1,2767 L717.9,2749.1 L716.6,2731.1 L715.4,2713 L714.2,2694.7 L712.9,2676.4 L711.7,2658.1 L710.5,2639.8 L709.2,2621.6 L708,2603.4 L706.7,2585.4 L705.5,2567.7 L704.3,2550.1 L703,2532.9 L701.8,2516.1 L700.6,2499.7 L699.3,2483.9 L698.1,2468.6 L696.9,2454 L695.6,2440.2 L694.4,2427.2 L693.1,2415.3 L691.9,2404.4 L690.7,2394.8 L689.4,2386.6 L688.2,2380.1 L687,2375.9 L685.7,2375.9 L684.5,2380.1 L683.3,2386.6 L682,2394.8 L680.8,2404.4 L679.5,2415.3 L678.3,2427.2 L677.1,2440.2 L675.8,2454 L674.6,2468.6 L673.4,2483.9 L672.1,2499.7 L670.9,2516.1 L669.7,2532.9 L668.4,2550.1 L667.2,2567.7 L665.9,2585.4 L664.7,2603.4 L663.5,2621.6 L662.2,2639.8 L661,2658.1 L659.8,2676.4 L658.5,2694.7 L657.3,2713 L656.1,2731.1 L654.8,2749.1 L653.6,2767 L652.3,2784.6 L651.1,2802.1 L649.9,2819.3 L648.6,2836.3 L647.4,2853 L646.2,2869.3 L644.9,2885.4 L643.7,2901.2 L642.5,2916.6 L641.2,2931.7 L640,2946.4 L638.7,2960.8 L637.5,2974.8 L636.3,2988.4 L635,3001.7 L633.8,3014.5 L632.6,3027 L631.3,3039.2 L630.1,3050.9 L628.9,3062.3 L627.6,3073.2 L626.4,3083.9 L625.1,3094.1 L623.9,3104 L622.7,3113.5 L621.4,3122.7 L620.2,3131.5 L619,3140 L617.7,3148.1 L616.5,3156 L615.3,3163.5 L614,3170.7 L612.8,3177.6 L611.5,3184.2 L610.3,3190.5 L609.1,3196.5 L607.8,3202.3 L606.6,3207.8 L605.4,3213 L604.1,3218 L602.9,3222.8 L601.6,3227.3 L600.4,3231.6 L599.2,3235.7 L597.9,3239.6 L596.7,3243.3 L595.5,3246.8 L594.2,3250.2 L593,3253.3 L591.8,3256.3 L590.5,3259.2 L589.3,3261.8 L588,3264.4 L586.8,3266.8 L585.6,3269 L584.3,3271.2 L583.1,3273.2 L581.9,3275.1 L580.6,3276.9 L579.4,3278.5 L578.2,3280.1 L576.9,3281.6 L575.7,3283 L574.4,3284.3 L573.2,3285.6 L572,3286.7 L570.7,3287.8 L569.5,3288.9 L568.3,3289.8 L567,3290.7 L565.8,3291.6 L564.6,3292.4 L563.3,3293.1 L562.1,3293.8 L560.8,3294.4 L559.6,3295 L558.4,3295.6 L557.1,3296.1 L555.9,3296.6 L554.7,3297 L553.4,3297.5 L552.2,3297.9 L551,3298.2 L549.7,3298.6 L548.5,3298.9 L547.2,3299.2 L546,3299.5 L544.8,3299.7 L543.5,3300 L542.3,3300.2 L541.1,3300.4 L539.8,3300.6 L538.6,3300.7 L537.4,3300.9 L536.1,3301.1 L534.9,3301.2 L533.6,3301.3 L532.4,3301.4 L531.2,3301.6 L531.2,3302.8 L841.5,3302.8 Z" fill="rgba(0,128,0,0.145)" stroke="none"/>
<path d="M391,3302.8 L390.4,3302.8 L389.7,3302.8 L389,3302.8 L388.4,3302.8 L387.7,3302.8 L387,3302.8 L386.4,3302.8 L385.7,3302.8 L385,3302.8 L384.4,3302.8 L383.7,3302.8 L383,3302.8 L382.4,3302.7 L381.7,3302.7 L381,3302.7 L380.4,3302.7 L379.7,3302.7 L379,3302.7 L378.4,3302.7 L377.7,3302.7 L377,3302.6 L376.4,3302.6 L375.7,3302.6 L375,3302.6 L374.4,3302.5 L373.7,3302.5 L373,3302.4 L372.4,3302.4 L371.7,3302.3 L371,3302.3 L370.4,3302.2 L369.7,3302.1 L369,3302.1 L368.4,3302 L367.7,3301.9 L367,3301.8 L366.4,3301.6 L365.7,3301.5 L365,3301.4 L364.3,3301.2 L363.7,3301 L363,3300.9 L362.3,3300.6 L361.7,3300.4 L361,3300.2 L360.3,3299.9 L359.7,3299.6 L359,3299.3 L358.3,3299 L357.7,3298.7 L357,3298.3 L356.3,3297.9 L355.7,3297.4 L355,3297 L354.3,3296.5 L353.7,3296 L353,3295.4 L352.3,3294.8 L351.7,3294.2 L351,3293.6 L350.3,3292.9 L349.7,3292.2 L349,3291.4 L348.3,3290.7 L347.7,3289.8 L347,3289 L346.3,3288.1 L345.7,3287.2 L345,3286.3 L344.3,3285.3 L343.7,3284.3 L343,3283.3 L342.3,3282.3 L341.7,3281.2 L341,3280.2 L340.3,3279.1 L339.7,3278 L339,3276.9 L338.3,3275.8 L337.6,3274.7 L337,3273.5 L336.3,3272.4 L335.6,3271.3 L335,3270.3 L334.3,3269.2 L333.6,3268.1 L333,3267.1 L332.3,3266.1 L331.6,3265.2 L331,3264.2 L330.3,3263.4 L329.6,3262.5 L329,3261.7 L328.3,3261 L327.6,3260.3 L327,3259.7 L326.3,3259.1 L325.6,3258.6 L325,3258.2 L324.3,3257.8 L323.6,3257.5 L323,3257.3 L322.3,3257.2 L321.6,3257.1 L321,3257.1 L320.3,3257.2 L319.6,3257.3 L319,3257.5 L318.3,3257.8 L317.6,3258.2 L317,3258.6 L316.3,3259.1 L315.6,3259.7 L315,3260.3 L314.3,3261 L313.6,3261.7 L312.9,3262.5 L312.3,3263.4 L311.6,3264.2 L310.9,3265.2 L310.3,3266.1 L309.6,3267.1 L308.9,3268.1 L308.3,3269.2 L307.6,3270.3 L306.9,3271.3 L306.3,3272.4 L305.6,3273.5 L304.9,3274.7 L304.3,3275.8 L303.6,3276.9 L302.9,3278 L302.3,3279.1 L301.6,3280.2 L300.9,3281.2 L300.3,3282.3 L299.6,3283.3 L298.9,3284.3 L298.3,3285.3 L297.6,3286.3 L296.9,3287.2 L296.3,3288.1 L295.6,3289 L294.9,3289.8 L294.3,3290.7 L293.6,3291.4 L292.9,3292.2 L292.3,3292.9 L291.6,3293.6 L290.9,3294.2 L290.3,3294.8 L289.6,3295.4 L288.9,3296 L288.3,3296.5 L287.6,3297 L286.9,3297.4 L286.2,3297.9 L285.6,3298.3 L284.9,3298.7 L284.2,3299 L283.6,3299.3 L282.9,3299.6 L282.2,3299.9 L281.6,3300.2 L280.9,3300.4 L280.2,3300.6 L279.6,3300.9 L278.9,3301 L278.2,3301.2 L277.6,3301.4 L276.9,3301.5 L276.2,3301.6 L275.6,3301.8 L274.9,3301.9 L274.2,3302 L273.6,3302.1 L272.9,3302.1 L272.2,3302.2 L271.6,3302.3 L270.9,3302.3 L270.2,3302.4 L269.6,3302.4 L268.9,3302.5 L268.2,3302.5 L267.6,3302.6 L266.9,3302.6 L266.2,3302.6 L265.6,3302.6 L264.9,3302.7 L264.2,3302.7 L263.6,3302.7 L262.9,3302.7 L262.2,3302.7 L261.6,3302.7 L260.9,3302.7 L260.2,3302.7 L259.5,3302.8 L258.9,3302.8 L258.2,3302.8 L257.5,3302.8 L256.9,3302.8 L256.2,3302.8 L255.5,3302.8 L254.9,3302.8 L254.2,3302.8 L253.5,3302.8 L252.9,3302.8 L252.2,3302.8 L251.5,3302.8" fill="none" stroke="#8c8c14" stroke-width="3"/>
<path d="M420.7,3302.7 L420.1,3302.7 L419.6,3302.7 L419,3302.6 L418.4,3302.6 L417.9,3302.5 L417.3,3302.4 L416.8,3302.3 L416.2,3302.2 L415.6,3302 L415.1,3301.8 L414.5,3301.6 L413.9,3301.3 L413.4,3300.9 L412.8,3300.4 L412.3,3299.8 L411.7,3299.1 L411.1,3298.2 L410.6,3297.2 L410,3295.9 L409.4,3294.4 L408.9,3292.7 L408.3,3290.6 L407.8,3288.2 L407.2,3285.3 L406.6,3282.1 L406.1,3278.3 L405.5,3273.9 L404.9,3269 L404.4,3263.4 L403.8,3257 L403.3,3249.9 L402.7,3242 L402.1,3233.1 L401.6,3223.4 L401,3212.7 L400.4,3201.1 L399.9,3188.5 L399.3,3174.9 L398.8,3160.3 L398.2,3144.8 L397.6,3128.4 L397.1,3111.2 L396.5,3093.3 L395.9,3074.7 L395.4,3055.6 L394.8,3036.2 L394.3,3016.5 L393.7,2996.8 L393.1,2977.3 L392.6,2958.1 L392,2939.4 L391.4,2921.5 L390.9,2904.5 L390.3,2888.6 L389.8,2874.1 L389.2,2861.1 L388.6,2849.8 L388.1,2840.4 L387.5,2832.9 L386.9,2827.5 L386.4,2824.2 L385.8,2823.1 L385.3,2824.2 L384.7,2827.5 L384.1,2832.9 L383.6,2840.4 L383,2849.8 L382.4,2861.1 L381.9,2874.1 L381.3,2888.6 L380.8,2904.5 L380.2,2921.5 L379.6,2939.4 L379.1,2958.1 L378.5,2977.3 L377.9,2996.8 L377.4,3016.5 L376.8,3036.2 L376.3,3055.6 L375.7,3074.7 L375.1,3093.3 L374.6,3111.2 L374,3128.4 L373.4,3144.8 L372.9,3160.3 L372.3,3174.9 L371.8,3188.5 L371.2,3201.1 L370.6,3212.7 L370.1,3223.4 L369.5,3233.1 L368.9,3242 L368.4,3249.9 L367.8,3257 L367.3,3263.4 L366.7,3269 L366.1,3273.9 L365.6,3278.3 L365,3282.1 L364.4,3285.3 L363.9,3288.2 L363.3,3290.6 L362.8,3292.7 L362.2,3294.4 L361.6,3295.9 L361.1,3297.2 L360.5,3298.2 L359.9,3299.1 L359.4,3299.8 L358.8,3300.4 L358.3,3300.9 L357.7,3301.3 L357.1,3301.6 L356.6,3301.8 L356,3302 L355.4,3302.2 L354.9,3302.3 L354.3,3302.4 L353.8,3302.5 L353.2,3302.6 L352.6,3302.6 L352.1,3302.7 L351.5,3302.7 L350.9,3302.7" fill="none" stroke="#00ffff" stroke-width="3"/>
<path d="M462.7,3302.8 L462.1,3302.7 L461.6,3302.7 L461,3302.7 L460.5,3302.7 L459.9,3302.7 L459.3,3302.7 L458.8,3302.6 L458.2,3302.6 L457.6,3302.6 L457.1,3302.6 L456.5,3302.5 L455.9,3302.5 L455.4,3302.4 L454.8,3302.4 L454.2,3302.3 L453.7,3302.2 L453.1,3302.1 L452.5,3302 L452,3301.9 L451.4,3301.8 L450.8,3301.6 L450.3,3301.4 L449.7,3301.2 L449.1,3301 L448.6,3300.8 L448,3300.5 L447.4,3300.2 L446.9,3299.9 L446.3,3299.5 L445.7,3299 L445.2,3298.6 L444.6,3298 L444,3297.5 L443.5,3296.8 L442.9,3296.1 L442.4,3295.3 L441.8,3294.4 L441.2,3293.5 L440.7,3292.4 L440.1,3291.3 L439.5,3290 L439,3288.7 L438.4,3287.2 L437.8,3285.6 L437.3,3283.8 L436.7,3281.9 L436.1,3279.9 L435.6,3277.7 L435,3275.3 L434.4,3272.8 L433.9,3270 L433.3,3267.1 L432.7,3264 L432.2,3260.6 L431.6,3257.1 L431,3253.3 L430.5,3249.3 L429.9,3245.1 L429.3,3240.6 L428.8,3235.9 L428.2,3231 L427.6,3225.8 L427.1,3220.4 L426.5,3214.8 L425.9,3208.9 L425.4,3202.8 L424.8,3196.4 L424.3,3189.8 L423.7,3183 L423.1,3176 L422.6,3168.8 L422,3161.4 L421.4,3153.9 L420.9,3146.2 L420.3,3138.4 L419.7,3130.4 L419.2,3122.4 L418.6,3114.3 L418,3106.1 L417.5,3097.9 L416.9,3089.7 L416.3,3081.6 L415.8,3073.4 L415.2,3065.4 L414.6,3057.5 L414.1,3049.7 L413.5,3042.1 L412.9,3034.7 L412.4,3027.6 L411.8,3020.6 L411.2,3014 L410.7,3007.7 L410.1,3001.8 L409.5,2996.2 L409,2991 L408.4,2986.2 L407.9,2981.9 L407.3,2978 L406.7,2974.6 L406.2,2971.7 L405.6,2969.3 L405,2967.4 L404.5,2966.1 L403.9,2965.3 L403.3,2965 L402.8,2965.3 L402.2,2966.1 L401.6,2967.4 L401.1,2969.3 L400.5,2971.7 L399.9,2974.6 L399.4,2978 L398.8,2981.9 L398.2,2986.2 L397.7,2991 L397.1,2996.2 L396.5,3001.8 L396,3007.7 L395.4,3014 L394.8,3020.6 L394.3,3027.6 L393.7,3034.7 L393.1,3042.1 L392.6,3049.7 L392,3057.5 L391.4,3065.4 L390.9,3073.4 L390.3,3081.6 L389.8,3089.7 L389.2,3097.9 L388.6,3106.1 L388.1,3114.3 L387.5,3122.4 L386.9,3130.4 L386.4,3138.4 L385.8,3146.2 L385.2,3153.9 L384.7,3161.4 L384.1,3168.8 L383.5,3176 L383,3183 L382.4,3189.8 L381.8,3196.4 L381.3,3202.8 L380.7,3208.9 L380.1,3214.8 L379.6,3220.4 L379,3225.8 L378.4,3231 L377.9,3235.9 L377.3,3240.6 L376.7,3245.1 L376.2,3249.3 L375.6,3253.3 L375,3257.1 L374.5,3260.6 L373.9,3264 L373.3,3267.1 L372.8,3270 L372.2,3272.8 L371.7,3275.3 L371.1,3277.7 L370.5,3279.9 L370,3281.9 L369.4,3283.8 L368.8,3285.6 L368.3,3287.2 L367.7,3288.7 L367.1,3290 L366.6,3291.3 L366,3292.4 L365.4,3293.5 L364.9,3294.4 L364.3,3295.3 L363.7,3296.1 L363.2,3296.8 L362.6,3297.5 L362,3298 L361.5,3298.6 L360.9,3299 L360.3,3299.5 L359.8,3299.9 L359.2,3300.2 L358.6,3300.5 L358.1,3300.8 L357.5,3301 L356.9,3301.2 L356.4,3301.4 L355.8,3301.6 L355.3,3301.8 L354.7,3301.9 L354.1,3302 L353.6,3302.1 L353,3302.2 L352.4,3302.3 L351.9,3302.4 L351.3,3302.4 L350.7,3302.5 L350.2,3302.5 L349.6,3302.6 L349,3302.6 L348.5,3302.6 L347.9,3302.6 L347.3,3302.7 L346.8,3302.7 L346.2,3302.7 L345.6,3302.7 L345.1,3302.7 L344.5,3302.7 L343.9,3302.8" fill="none" stroke="#1515ff" stroke-width="3"/>
<path d="M728.3,3302.7 L726.9,3302.7 L725.5,3302.7 L724.1,3302.7 L722.7,3302.7 L721.3,3302.7 L719.9,3302.7 L718.5,3302.6 L717.2,3302.6 L715.8,3302.6 L714.4,3302.5 L713,3302.5 L711.6,3302.4 L710.2,3302.4 L708.8,3302.3 L707.4,3302.3 L706,3302.2 L704.7,3302.1 L703.3,3302 L701.9,3301.8 L700.5,3301.7 L699.1,3301.5 L697.7,3301.4 L696.3,3301.2 L694.9,3300.9 L693.5,3300.7 L692.2,3300.4 L690.8,3300.1 L689.4,3299.7 L688,3299.3 L686.6,3298.8 L685.2,3298.3 L683.8,3297.8 L682.4,3297.1 L681,3296.5 L679.6,3295.7 L678.3,3294.9 L676.9,3293.9 L675.5,3292.9 L674.1,3291.8 L672.7,3290.6 L671.3,3289.3 L669.9,3287.8 L668.5,3286.2 L667.1,3284.5 L665.8,3282.7 L664.4,3280.6 L663,3278.5 L661.6,3276.1 L660.2,3273.6 L658.8,3270.9 L657.4,3268 L656,3264.9 L654.6,3261.5 L653.3,3258 L651.9,3254.2 L650.5,3250.2 L649.1,3246 L647.7,3241.5 L646.3,3236.8 L644.9,3231.8 L643.5,3226.6 L642.1,3221.1 L640.8,3215.3 L639.4,3209.4 L638,3203.1 L636.6,3196.6 L635.2,3189.9 L633.8,3183 L632.4,3175.8 L631,3168.4 L629.6,3160.8 L628.3,3153 L626.9,3145.1 L625.5,3137 L624.1,3128.8 L622.7,3120.4 L621.3,3112 L619.9,3103.5 L618.5,3094.9 L617.1,3086.3 L615.7,3077.8 L614.4,3069.3 L613,3060.8 L611.6,3052.5 L610.2,3044.2 L608.8,3036.2 L607.4,3028.3 L606,3020.7 L604.6,3013.3 L603.2,3006.2 L601.9,2999.4 L600.5,2993 L599.1,2986.9 L597.7,2981.2 L596.3,2976 L594.9,2971.2 L593.5,2966.9 L592.1,2963.1 L590.7,2959.8 L589.4,2957 L588,2954.8 L586.6,2953.1 L585.2,2951.9 L583.8,2951.4 L582.4,2951.4 L581,2951.9 L579.6,2953.1 L578.2,2954.8 L576.9,2957 L575.5,2959.8 L574.1,2963.1 L572.7,2966.9 L571.3,2971.2 L569.9,2976 L568.5,2981.2 L567.1,2986.9 L565.7,2993 L564.3,2999.4 L563,3006.2 L561.6,3013.3 L560.2,3020.7 L558.8,3028.3 L557.4,3036.2 L556,3044.2 L554.6,3052.5 L553.2,3060.8 L551.8,3069.3 L550.5,3077.8 L549.1,3086.3 L547.7,3094.9 L546.3,3103.5 L544.9,3112 L543.5,3120.4 L542.1,3128.8 L540.7,3137 L539.3,3145.1 L538,3153 L536.6,3160.8 L535.2,3168.4 L533.8,3175.8 L532.4,3183 L531,3189.9 L529.6,3196.6 L528.2,3203.1 L526.8,3209.4 L525.5,3215.3 L524.1,3221.1 L522.7,3226.6 L521.3,3231.8 L519.9,3236.8 L518.5,3241.5 L517.1,3246 L515.7,3250.2 L514.3,3254.2 L512.9,3258 L511.6,3261.5 L510.2,3264.9 L508.8,3268 L507.4,3270.9 L506,3273.6 L504.6,3276.1 L503.2,3278.5 L501.8,3280.6 L500.4,3282.7 L499.1,3284.5 L497.7,3286.2 L496.3,3287.8 L494.9,3289.3 L493.5,3290.6 L492.1,3291.8 L490.7,3292.9 L489.3,3293.9 L487.9,3294.9 L486.6,3295.7 L485.2,3296.5 L483.8,3297.1 L482.4,3297.8 L481,3298.3 L479.6,3298.8 L478.2,3299.3 L476.8,3299.7 L475.4,3300.1 L474.1,3300.4 L472.7,3300.7 L471.3,3300.9 L469.9,3301.2 L468.5,3301.4 L467.1,3301.5 L465.7,3301.7 L464.3,3301.8 L462.9,3302 L461.6,3302.1 L460.2,3302.2 L458.8,3302.3 L457.4,3302.3 L456,3302.4 L454.6,3302.4 L453.2,3302.5 L451.8,3302.5 L450.4,3302.6 L449,3302.6 L447.7,3302.6 L446.3,3302.7 L444.9,3302.7 L443.5,3302.7 L442.1,3302.7 L440.7,3302.7 L439.3,3302.7 L437.9,3302.7" fill="none" stroke="#ff0000" stroke-width="3"/>
<path d="M841.5,3301.6 L840.3,3301.4 L839,3301.3 L837.8,3301.2 L836.6,3301.1 L835.3,3300.9 L834.1,3300.7 L832.9,3300.6 L831.6,3300.4 L830.4,3300.2 L829.2,3300 L827.9,3299.7 L826.7,3299.5 L825.4,3299.2 L824.2,3298.9 L823,3298.6 L821.7,3298.2 L820.5,3297.9 L819.3,3297.5 L818,3297 L816.8,3296.6 L815.6,3296.1 L814.3,3295.6 L813.1,3295 L811.8,3294.4 L810.6,3293.8 L809.4,3293.1 L808.1,3292.4 L806.9,3291.6 L805.7,3290.7 L804.4,3289.8 L803.2,3288.9 L802,3287.8 L800.7,3286.7 L799.5,3285.6 L798.2,3284.3 L797,3283 L795.8,3281.6 L794.5,3280.1 L793.3,3278.5 L792.1,3276.9 L790.8,3275.1 L789.6,3273.2 L788.4,3271.2 L787.1,3269 L785.9,3266.8 L784.6,3264.4 L783.4,3261.8 L782.2,3259.2 L780.9,3256.3 L779.7,3253.3 L778.5,3250.2 L777.2,3246.8 L776,3243.3 L774.7,3239.6 L773.5,3235.7 L772.3,3231.6 L771,3227.3 L769.8,3222.8 L768.6,3218 L767.3,3213 L766.1,3207.8 L764.9,3202.3 L763.6,3196.5 L762.4,3190.5 L761.1,3184.2 L759.9,3177.6 L758.7,3170.7 L757.4,3163.5 L756.2,3156 L755,3148.1 L753.7,3140 L752.5,3131.5 L751.3,3122.7 L750,3113.5 L748.8,3104 L747.5,3094.1 L746.3,3083.9 L745.1,3073.2 L743.8,3062.3 L742.6,3050.9 L741.4,3039.2 L740.1,3027 L738.9,3014.5 L737.7,3001.7 L736.4,2988.4 L735.2,2974.8 L733.9,2960.8 L732.7,2946.4 L731.5,2931.7 L730.2,2916.6 L729,2901.2 L727.8,2885.4 L726.5,2869.3 L725.3,2853 L724.1,2836.3 L722.8,2819.3 L721.6,2802.1 L720.3,2784.6 L719.1,2767 L717.9,2749.1 L716.6,2731.1 L715.4,2713 L714.2,2694.7 L712.9,2676.4 L711.7,2658.1 L710.5,2639.8 L709.2,2621.6 L708,2603.4 L706.7,2585.4 L705.5,2567.7 L704.3,2550.1 L703,2532.9 L701.8,2516.1 L700.6,2499.7 L699.3,2483.9 L698.1,2468.6 L696.9,2454 L695.6,2440.2 L694.4,2427.2 L693.1,2415.3 L691.9,2404.4 L690.7,2394.8 L689.4,2386.6 L688.2,2380.1 L687,2375.9 L685.7,2375.9 L684.5,2380.1 L683.3,2386.6 L682,2394.8 L680.8,2404.4 L679.5,2415.3 L678.3,2427.2 L677.1,2440.2 L675.8,2454 L674.6,2468.6 L673.4,2483.9 L672.1,2499.7 L670.9,2516.1 L669.7,2532.9 L668.4,2550.1 L667.2,2567.7 L665.9,2585.4 L664.7,2603.4 L663.5,2621.6 L662.2,2639.8 L661,2658.1 L659.8,2676.4 L658.5,2694.7 L657.3,2713 L656.1,2731.1 L654.8,2749.1 L653.6,2767 L652.3,2784.6 L651.1,2802.1 L649.9,2819.3 L648.6,2836.3 L647.4,2853 L646.2,2869.3 L644.9,2885.4 L643.7,2901.2 L642.5,2916.6 L641.2,2931.7 L640,2946.4 L638.7,2960.8 L637.5,2974.8 L636.3,2988.4 L635,3001.7 L633.8,3014.5 L632.6,3027 L631.3,3039.2 L630.1,3050.9 L628.9,3062.3 L627.6,3073.2 L626.4,3083.9 L625.1,3094.1 L623.9,3104 L622.7,3113.5 L621.4,3122.7 L620.2,3131.5 L619,3140 L617.7,3148.1 L616.5,3156 L615.3,3163.5 L614,3170.7 L612.8,3177.6 L611.5,3184.2 L610.3,3190.5 L609.1,3196.5 L607.8,3202.3 L606.6,3207.8 L605.4,3213 L604.1,3218 L602.9,3222.8 L601.6,3227.3 L600.4,3231.6 L599.2,3235.7 L597.9,3239.6 L596.7,3243.3 L595.5,3246.8 L594.2,3250.2 L593,3253.3 L591.8,3256.3 L590.5,3259.2 L589.3,3261.8 L588,3264.4 L586.8,3266.8 L585.6,3269 L584.3,3271.2 L583.1,3273.2 L581.9,3275.1 L580.6,3276.9 L579.4,3278.5 L578.2,3280.1 L576.9,3281.6 L575.7,3283 L574.4,3284.3 L573.2,3285.6 L572,3286.7 L570.7,3287.8 L569.5,3288.9 L568.3,3289.8 L567,3290.7 L565.8,3291.6 L564.6,3292.4 L563.3,3293.1 L562.1,3293.8 L560.8,3294.4 L559.6,3295 L558.4,3295.6 L557.1,3296.1 L555.9,3296.6 L554.7,3297 L553.4,3297.5 L552.2,3297.9 L551,3298.2 L549.7,3298.6 L548.5,3298.9 L547.2,3299.2 L546,3299.5 L544.8,3299.7 L543.5,3300 L542.3,3300.2 L541.1,3300.4 L539.8,3300.6 L538.6,3300.7 L537.4,3300.9 L536.1,3301.1 L534.9,3301.2 L533.6,3301.3 L532.4,3301.4 L531.2,3301.6" fill="none" stroke="#1e8c1e" stroke-width="3"/>
<line x1="150" y1="3302.8" x2="2172" y2="3302.8" stroke="#948f1c" stroke-width="3.6"/>
<line x1="686.8" y1="3290" x2="686.8" y2="2202.8" stroke="#00b050" stroke-width="3"/><path d="M686.8,2186.8 L678.3,2203.8 L695.3,2203.8 Z" fill="#00b050"/>
<line x1="580.2" y1="3298" x2="580.2" y2="2751.1" stroke="#ff7070" stroke-width="3"/><path d="M580.2,2733.6 L570.5,2752.1 L590,2752.1 Z" fill="#ff0000"/>
<line x1="758.8" y1="3292" x2="758.8" y2="2986.5" stroke="#b6b6b6" stroke-width="3.0"/><path d="M758.8,2969.5 L749.8,2987.5 L767.8,2987.5 Z" fill="#b6b6b6"/>
<line x1="921.5" y1="3300" x2="921.5" y2="2897.4" stroke="#b6b6b6" stroke-width="3.0"/><path d="M921.5,2881.4 L912.5,2898.4 L930.5,2898.4 Z" fill="#b6b6b6"/>
<line x1="1272.8" y1="3292" x2="1272.8" y2="3114.7" stroke="#b6b6b6" stroke-width="3.0"/><path d="M1272.8,3098.7 L1263.8,3115.7 L1281.8,3115.7 Z" fill="#b6b6b6"/>
<line x1="1809.2" y1="3300" x2="1809.2" y2="3155.5" stroke="#b6b6b6" stroke-width="3.0"/><path d="M1809.2,3139.5 L1800.2,3156.5 L1818.2,3156.5 Z" fill="#b6b6b6"/>
<path d="M312.4,3263.8 L314,3260.1 L316,3257.5 L318.3,3255.9 L320.8,3255.2 L323.3,3255.5 L325.9,3256.6 L329.1,3258.6 L335.3,3263.6 L337.9,3265.4 L340.5,3266.8 L343.1,3267.5 L345.6,3267.4 L347.1,3266.9 L348.5,3266.1 L351.1,3263.9 L353.7,3260.7 L355.4,3257.7 L356.9,3253.9 L358,3250 L359,3244.7 L362.9,3215.2 L366,3184 L367.9,3160 L369.5,3134.9 L370.8,3108 L371.8,3078 L375.4,2917.4 L381,2677.4 L385.1,2467.5 L386,2442 L387.2,2418 L388.3,2401.6 L388.8,2397.4 L389.3,2394.5 L389.8,2393.7 L390.1,2393.9 L391,2396.9 L392.1,2403.8 L393.4,2414.9 L396.4,2450.2 L398.6,2488.4 L399.5,2498.1 L400.3,2502.8 L401.4,2506.5 L403.1,2509 L404.9,2510.7 L410.3,2514 L412.7,2516.5 L414.5,2519.6 L415.9,2523.7 L417.1,2529.4 L419.7,2550.2 L422.6,2568.3 L426.1,2586.6 L430.3,2605.3 L437,2631.8 L451.9,2684.6 L457.9,2707.8 L462.6,2728.4 L469.9,2765.9 L473.3,2780.5 L475.6,2788.5 L478.2,2796.4 L480.9,2803.6 L483.8,2810.1 L487.7,2817.4 L491.4,2823.4 L494.8,2827.4 L496.9,2829.4 L498.7,2830.8 L501.1,2832.2 L504.4,2833.6 L515.2,2836.6 L520,2838.3 L524.4,2840.5 L534.5,2846.1 L539.8,2848.4 L544.2,2849.5 L546.4,2849.7 L548.7,2849.7 L552.9,2849 L563.9,2846.1 L566.9,2845.7 L569.8,2845.7 L573.1,2846.2 L576.4,2847.2 L590.3,2853.6 L594.6,2855.2 L598.3,2856.2 L601.8,2856.6 L605,2856.5 L607.8,2855.5 L609.8,2854.1 L611.1,2852.6 L612.2,2850.7 L613.3,2848.1 L614.5,2844.6 L618.7,2829.7 L622.5,2813.6 L625.3,2799.2 L627.8,2784.2 L630.1,2768.1 L632.1,2750.1 L634.8,2720.8 L643.5,2610.5 L650.8,2512.7 L655.5,2439.1 L665.2,2272 L667.7,2233.3 L669.6,2209.3 L671.4,2189.9 L673.5,2170.8 L676.2,2150.5 L679.2,2130.7 L681.4,2118.5 L683.4,2110.5 L684.3,2107.5 L685.2,2105.7 L686,2104.5 L686.9,2104.1 L687.6,2104.4 L688.4,2105.5 L690.1,2109.8 L691.9,2116.9 L693.7,2126.5 L696,2141.7 L698.7,2161.4 L700.8,2178.9 L702.7,2196.9 L706,2235.3 L717,2389.8 L722.6,2463.1 L728.7,2533.4 L731.8,2565.4 L735,2595.9 L739.9,2637.3 L744.8,2672.5 L750.2,2705.3 L753.1,2720.6 L756.2,2735.9 L761.6,2759.6 L763.8,2767.8 L765.9,2774.8 L768.3,2781.6 L771.1,2788.3 L774,2794.2 L776.9,2799.4 L783.8,2809.9 L799.7,2831.6 L826.6,2869.7 L834.5,2880.6 L840.6,2888.2 L846.2,2894.5 L851.8,2900 L857.7,2905.1 L861.9,2908.3 L866.3,2911.4 L870.9,2914.2 L876,2917.1 L880.8,2919.5 L886.2,2921.9 L891.8,2924.1 L897.4,2926 L907.8,2928.8 L918.3,2930.8 L927.3,2932 L950,2934 L956.5,2934.9 L962.4,2936.1 L970.6,2938.3 L979.2,2941.1 L989.3,2945.1 L999.8,2949.6 L1009,2954 L1018.6,2959 L1028.5,2964.5 L1038.8,2970.6 L1058.1,2982.7 L1106.3,3014.2 L1121.1,3023.3 L1135.7,3031.7 L1153.1,3041.2 L1170.3,3049.8 L1187.7,3057.8 L1204.9,3064.9 L1218.3,3070.1 L1231.3,3074.6 L1244.4,3078.9 L1258.2,3082.9 L1284.9,3089.8 L1333.5,3101.3 L1352.1,3105.8 L1370.7,3110.8 L1386.8,3115.6 L1399.8,3120.1 L1412.1,3124.9 L1424.2,3130.1 L1450,3141.6 L1461.6,3146.5 L1471.7,3150.3 L1480.8,3153.2 L1495.3,3157 L1514.7,3161.1 L1531.8,3164.2 L1576.2,3171.9 L1632.1,3182.5 L1659.4,3186.9 L1711.2,3194.3 L1731.3,3197.4 L1752,3200.9 L1770.8,3204.7 L1791.8,3209.7 L1815.5,3216.2 L1837.9,3222.8 L1895.9,3240.6 L1929.4,3250.1 L1949.7,3255.4 L1970.1,3260.4 L1990.6,3265 L2011.1,3269.3 L2030.5,3273.1 L2050.6,3276.7 L2070.2,3279.9 L2090.3,3282.9 L2110.6,3285.6 L2130.8,3288 L2151.1,3290.2 L2171.4,3292.1" fill="none" stroke="#000" stroke-width="2.9" stroke-linejoin="round"/>
<rect x="644" y="1956.2" width="83.4" height="214.4" fill="none" stroke="#92d050" stroke-width="6.5" stroke-dasharray="6.5 6.3"/><text transform="translate(703.4,2066.4) rotate(-90)" text-anchor="middle" font-size="53" fill="#000">3612</text>
<rect x="528.5" y="2495.2" width="84.2" height="218.7" fill="none" stroke="#ff0000" stroke-width="6.5" stroke-dasharray="6.5 6.3"/><text transform="translate(588.4,2607.5) rotate(-90)" text-anchor="middle" font-size="53" fill="#000">3659</text>
<rect x="715" y="2748.3" width="84" height="216.7" fill="none" stroke="#b4b4b4" stroke-width="6" stroke-dasharray="6.5 6.3"/><text transform="translate(774.8,2859.7) rotate(-90)" text-anchor="middle" font-size="53" fill="#000">3581</text>
<rect x="876.6" y="2637.4" width="85.2" height="216.6" fill="none" stroke="#b4b4b4" stroke-width="6" stroke-dasharray="6.5 6.3"/><text transform="translate(937,2748.7) rotate(-90)" text-anchor="middle" font-size="53" fill="#000">3510</text>
<rect x="1231" y="2861" width="81.6" height="213" fill="none" stroke="#b4b4b4" stroke-width="6" stroke-dasharray="6.5 6.3"/><text transform="translate(1289.6,2970.5) rotate(-90)" text-anchor="middle" font-size="53" fill="#000">3355</text>
<rect x="1768" y="2899.9" width="84" height="216.1" fill="none" stroke="#b4b4b4" stroke-width="6" stroke-dasharray="6.5 6.3"/><text transform="translate(1827.8,3010.9) rotate(-90)" text-anchor="middle" font-size="53" fill="#000">3116</text>
<line x1="150" y1="1939.3" x2="150" y2="3430.5" stroke="#000" stroke-width="5.2"/>
<line x1="133.7" y1="3428" x2="2174" y2="3428" stroke="#000" stroke-width="5.2"/>
<line x1="263.5" y1="3428" x2="263.5" y2="3459" stroke="#000" stroke-width="5"/>
<text x="263.5" y="3520.5" text-anchor="middle" font-size="60">3800</text>
<line x1="487.9" y1="3428" x2="487.9" y2="3445" stroke="#000" stroke-width="5"/>
<line x1="712.4" y1="3428" x2="712.4" y2="3459" stroke="#000" stroke-width="5"/>
<text x="712.4" y="3520.5" text-anchor="middle" font-size="60">3600</text>
<line x1="936.8" y1="3428" x2="936.8" y2="3445" stroke="#000" stroke-width="5"/>
<line x1="1161.3" y1="3428" x2="1161.3" y2="3459" stroke="#000" stroke-width="5"/>
<text x="1161.3" y="3520.5" text-anchor="middle" font-size="60">3400</text>
<line x1="1385.7" y1="3428" x2="1385.7" y2="3445" stroke="#000" stroke-width="5"/>
<line x1="1610.1" y1="3428" x2="1610.1" y2="3459" stroke="#000" stroke-width="5"/>
<text x="1610.1" y="3520.5" text-anchor="middle" font-size="60">3200</text>
<line x1="1834.6" y1="3428" x2="1834.6" y2="3445" stroke="#000" stroke-width="5"/>
<line x1="2059" y1="3428" x2="2059" y2="3459" stroke="#000" stroke-width="5"/>
<text x="2059" y="3520.5" text-anchor="middle" font-size="60">3000</text>
<line x1="145.5" y1="1939.3" x2="150" y2="1939.3" stroke="#000" stroke-width="3"/>
<line x1="145.5" y1="2063.3" x2="150" y2="2063.3" stroke="#000" stroke-width="3"/>
<line x1="145.5" y1="2187.2" x2="150" y2="2187.2" stroke="#000" stroke-width="3"/>
<line x1="145.5" y1="2311.2" x2="150" y2="2311.2" stroke="#000" stroke-width="3"/>
<line x1="145.5" y1="2435.1" x2="150" y2="2435.1" stroke="#000" stroke-width="3"/>
<line x1="145.5" y1="2559.1" x2="150" y2="2559.1" stroke="#000" stroke-width="3"/>
<line x1="145.5" y1="2683" x2="150" y2="2683" stroke="#000" stroke-width="3"/>
<line x1="145.5" y1="2807" x2="150" y2="2807" stroke="#000" stroke-width="3"/>
<line x1="145.5" y1="2930.9" x2="150" y2="2930.9" stroke="#000" stroke-width="3"/>
<line x1="145.5" y1="3054.9" x2="150" y2="3054.9" stroke="#000" stroke-width="3"/>
<line x1="145.5" y1="3178.8" x2="150" y2="3178.8" stroke="#000" stroke-width="3"/>
<line x1="145.5" y1="3302.8" x2="150" y2="3302.8" stroke="#000" stroke-width="3"/>
<clipPath id="clipc"><rect x="1129.7" y="0" width="983" height="3836"/></clipPath>
<g clip-path="url(#clipc)">
<path d="M2037.4,2628.4 L2035.8,2628.4 L2034.2,2628.4 L2032.5,2628.3 L2030.9,2628.3 L2029.2,2628.3 L2027.6,2628.3 L2026,2628.3 L2024.3,2628.3 L2022.7,2628.3 L2021,2628.3 L2019.4,2628.3 L2017.7,2628.3 L2016.1,2628.3 L2014.5,2628.3 L2012.8,2628.3 L2011.2,2628.3 L2009.5,2628.3 L2007.9,2628.3 L2006.3,2628.2 L2004.6,2628.2 L2003,2628.2 L2001.3,2628.2 L1999.7,2628.2 L1998.1,2628.2 L1996.4,2628.2 L1994.8,2628.2 L1993.1,2628.1 L1991.5,2628.1 L1989.9,2628.1 L1988.2,2628.1 L1986.6,2628.1 L1984.9,2628.1 L1983.3,2628 L1981.6,2628 L1980,2628 L1978.4,2628 L1976.7,2627.9 L1975.1,2627.9 L1973.4,2627.9 L1971.8,2627.8 L1970.2,2627.8 L1968.5,2627.8 L1966.9,2627.7 L1965.2,2627.7 L1963.6,2627.6 L1962,2627.6 L1960.3,2627.5 L1958.7,2627.5 L1957,2627.4 L1955.4,2627.4 L1953.8,2627.3 L1952.1,2627.3 L1950.5,2627.2 L1948.8,2627.1 L1947.2,2627.1 L1945.5,2627 L1943.9,2626.9 L1942.3,2626.8 L1940.6,2626.7 L1939,2626.6 L1937.3,2626.6 L1935.7,2626.5 L1934.1,2626.3 L1932.4,2626.2 L1930.8,2626.1 L1929.1,2626 L1927.5,2625.9 L1925.9,2625.7 L1924.2,2625.6 L1922.6,2625.4 L1920.9,2625.3 L1919.3,2625.1 L1917.7,2625 L1916,2624.8 L1914.4,2624.6 L1912.7,2624.4 L1911.1,2624.2 L1909.5,2624 L1907.8,2623.8 L1906.2,2623.6 L1904.5,2623.3 L1902.9,2623.1 L1901.2,2622.8 L1899.6,2622.5 L1898,2622.3 L1896.3,2622 L1894.7,2621.7 L1893,2621.4 L1891.4,2621 L1889.8,2620.7 L1888.1,2620.3 L1886.5,2620 L1884.8,2619.6 L1883.2,2619.2 L1881.6,2618.8 L1879.9,2618.3 L1878.3,2617.9 L1876.6,2617.4 L1875,2617 L1873.4,2616.5 L1871.7,2615.9 L1870.1,2615.4 L1868.4,2614.9 L1866.8,2614.3 L1865.1,2613.7 L1863.5,2613.1 L1861.9,2612.4 L1860.2,2611.8 L1858.6,2611.1 L1856.9,2610.4 L1855.3,2609.7 L1853.7,2608.9 L1852,2608.2 L1850.4,2607.4 L1848.7,2606.6 L1847.1,2605.7 L1845.5,2604.9 L1843.8,2604 L1842.2,2603 L1840.5,2602.1 L1838.9,2601.1 L1837.3,2600.1 L1835.6,2599.1 L1834,2598 L1832.3,2596.9 L1830.7,2595.8 L1829,2594.6 L1827.4,2593.4 L1825.8,2592.2 L1824.1,2590.9 L1822.5,2589.7 L1820.8,2588.3 L1819.2,2587 L1817.6,2585.6 L1815.9,2584.2 L1814.3,2582.7 L1812.6,2581.2 L1811,2579.7 L1809.4,2578.2 L1807.7,2576.6 L1806.1,2575 L1804.4,2573.3 L1802.8,2571.6 L1801.2,2569.9 L1799.5,2568.1 L1797.9,2566.3 L1796.2,2564.4 L1794.6,2562.6 L1793,2560.7 L1791.3,2558.7 L1789.7,2556.7 L1788,2554.7 L1786.4,2552.6 L1784.7,2550.5 L1783.1,2548.4 L1781.5,2546.3 L1779.8,2544.1 L1778.2,2541.8 L1776.5,2539.6 L1774.9,2537.3 L1773.3,2534.9 L1771.6,2532.6 L1770,2530.2 L1768.3,2527.8 L1766.7,2525.3 L1765.1,2522.8 L1763.4,2520.3 L1761.8,2517.7 L1760.1,2515.2 L1758.5,2512.6 L1756.9,2509.9 L1755.2,2507.3 L1753.6,2504.6 L1751.9,2501.9 L1750.3,2499.2 L1748.6,2496.4 L1747,2493.7 L1745.4,2490.9 L1743.7,2488.1 L1742.1,2485.3 L1740.4,2482.4 L1738.8,2479.6 L1737.2,2476.7 L1735.5,2473.8 L1733.9,2470.9 L1732.2,2468.1 L1730.6,2465.2 L1729,2462.2 L1727.3,2459.3 L1725.7,2456.4 L1724,2453.5 L1722.4,2450.6 L1720.8,2447.7 L1719.1,2444.8 L1717.5,2441.9 L1715.8,2439 L1714.2,2436.1 L1712.5,2433.2 L1710.9,2430.4 L1709.3,2427.5 L1707.6,2424.7 L1706,2421.9 L1704.3,2419.1 L1702.7,2416.4 L1701.1,2413.6 L1699.4,2410.9 L1697.8,2408.2 L1696.1,2405.6 L1694.5,2402.9 L1692.9,2400.3 L1691.2,2397.8 L1689.6,2395.3 L1687.9,2392.8 L1686.3,2390.4 L1684.7,2388 L1683,2385.6 L1681.4,2383.3 L1679.7,2381 L1678.1,2378.8 L1676.4,2376.7 L1674.8,2374.6 L1673.2,2372.5 L1671.5,2370.5 L1669.9,2368.6 L1668.2,2366.7 L1666.6,2364.9 L1665,2363.1 L1663.3,2361.5 L1661.7,2359.8 L1660,2358.3 L1658.4,2356.8 L1656.8,2355.4 L1655.1,2354 L1653.5,2352.7 L1651.8,2351.5 L1650.2,2350.4 L1648.6,2349.3 L1646.9,2348.3 L1645.3,2347.4 L1643.6,2346.6 L1642,2345.8 L1640.4,2345.1 L1638.7,2344.5 L1637.1,2344 L1635.4,2343.6 L1633.8,2343.2 L1632.1,2342.9 L1630.5,2342.7 L1628.9,2342.6 L1627.2,2342.6 L1625.6,2342.6 L1623.9,2342.7 L1622.3,2342.9 L1620.7,2343.2 L1619,2343.6 L1617.4,2344 L1615.7,2344.5 L1614.1,2345.1 L1612.5,2345.8 L1610.8,2346.6 L1609.2,2347.4 L1607.5,2348.3 L1605.9,2349.3 L1604.3,2350.4 L1602.6,2351.5 L1601,2352.7 L1599.3,2354 L1597.7,2355.4 L1596,2356.8 L1594.4,2358.3 L1592.8,2359.8 L1591.1,2361.5 L1589.5,2363.1 L1587.8,2364.9 L1586.2,2366.7 L1584.6,2368.6 L1582.9,2370.5 L1581.3,2372.5 L1579.6,2374.6 L1578,2376.7 L1576.4,2378.8 L1574.7,2381 L1573.1,2383.3 L1571.4,2385.6 L1569.8,2388 L1568.2,2390.4 L1566.5,2392.8 L1564.9,2395.3 L1563.2,2397.8 L1561.6,2400.3 L1559.9,2402.9 L1558.3,2405.6 L1556.7,2408.2 L1555,2410.9 L1553.4,2413.6 L1551.7,2416.4 L1550.1,2419.1 L1548.5,2421.9 L1546.8,2424.7 L1545.2,2427.5 L1543.5,2430.4 L1541.9,2433.2 L1540.3,2436.1 L1538.6,2439 L1537,2441.9 L1535.3,2444.8 L1533.7,2447.7 L1532.1,2450.6 L1530.4,2453.5 L1528.8,2456.4 L1527.1,2459.3 L1525.5,2462.2 L1523.9,2465.2 L1522.2,2468.1 L1520.6,2470.9 L1518.9,2473.8 L1517.3,2476.7 L1515.6,2479.6 L1514,2482.4 L1512.4,2485.3 L1510.7,2488.1 L1509.1,2490.9 L1507.4,2493.7 L1505.8,2496.4 L1504.2,2499.2 L1502.5,2501.9 L1500.9,2504.6 L1499.2,2507.3 L1497.6,2509.9 L1496,2512.6 L1494.3,2515.2 L1492.7,2517.7 L1491,2520.3 L1489.4,2522.8 L1487.8,2525.3 L1486.1,2527.8 L1484.5,2530.2 L1482.8,2532.6 L1481.2,2534.9 L1479.5,2537.3 L1477.9,2539.6 L1476.3,2541.8 L1474.6,2544.1 L1473,2546.3 L1471.3,2548.4 L1469.7,2550.5 L1468.1,2552.6 L1466.4,2554.7 L1464.8,2556.7 L1463.1,2558.7 L1461.5,2560.7 L1459.9,2562.6 L1458.2,2564.4 L1456.6,2566.3 L1454.9,2568.1 L1453.3,2569.9 L1451.7,2571.6 L1450,2573.3 L1448.4,2575 L1446.7,2576.6 L1445.1,2578.2 L1443.4,2579.7 L1441.8,2581.2 L1440.2,2582.7 L1438.5,2584.2 L1436.9,2585.6 L1435.2,2587 L1433.6,2588.3 L1432,2589.7 L1430.3,2590.9 L1428.7,2592.2 L1427,2593.4 L1425.4,2594.6 L1423.8,2595.8 L1422.1,2596.9 L1420.5,2598 L1418.8,2599.1 L1417.2,2600.1 L1415.6,2601.1 L1413.9,2602.1 L1412.3,2603 L1410.6,2604 L1409,2604.9 L1407.4,2605.7 L1405.7,2606.6 L1404.1,2607.4 L1402.4,2608.2 L1400.8,2608.9 L1399.1,2609.7 L1397.5,2610.4 L1395.9,2611.1 L1394.2,2611.8 L1392.6,2612.4 L1390.9,2613.1 L1389.3,2613.7 L1387.7,2614.3 L1386,2614.9 L1384.4,2615.4 L1382.7,2615.9 L1381.1,2616.5 L1379.5,2617 L1377.8,2617.4 L1376.2,2617.9 L1374.5,2618.3 L1372.9,2618.8 L1371.3,2619.2 L1369.6,2619.6 L1368,2620 L1366.3,2620.3 L1364.7,2620.7 L1363,2621 L1361.4,2621.4 L1359.8,2621.7 L1358.1,2622 L1356.5,2622.3 L1354.8,2622.5 L1353.2,2622.8 L1351.6,2623.1 L1349.9,2623.3 L1348.3,2623.6 L1346.6,2623.8 L1345,2624 L1343.4,2624.2 L1341.7,2624.4 L1340.1,2624.6 L1338.4,2624.8 L1336.8,2625 L1335.2,2625.1 L1333.5,2625.3 L1331.9,2625.4 L1330.2,2625.6 L1328.6,2625.7 L1326.9,2625.9 L1325.3,2626 L1323.7,2626.1 L1322,2626.2 L1320.4,2626.3 L1318.7,2626.5 L1317.1,2626.6 L1315.5,2626.6 L1313.8,2626.7 L1312.2,2626.8 L1310.5,2626.9 L1308.9,2627 L1307.3,2627.1 L1305.6,2627.1 L1304,2627.2 L1302.3,2627.3 L1300.7,2627.3 L1299.1,2627.4 L1297.4,2627.4 L1295.8,2627.5 L1294.1,2627.5 L1292.5,2627.6 L1290.9,2627.6 L1289.2,2627.7 L1287.6,2627.7 L1285.9,2627.8 L1284.3,2627.8 L1282.6,2627.8 L1281,2627.9 L1279.4,2627.9 L1277.7,2627.9 L1276.1,2628 L1274.4,2628 L1272.8,2628 L1271.2,2628 L1269.5,2628.1 L1267.9,2628.1 L1266.2,2628.1 L1264.6,2628.1 L1263,2628.1 L1261.3,2628.1 L1259.7,2628.2 L1258,2628.2 L1256.4,2628.2 L1254.8,2628.2 L1253.1,2628.2 L1251.5,2628.2 L1249.8,2628.2 L1248.2,2628.2 L1246.5,2628.3 L1244.9,2628.3 L1243.3,2628.3 L1241.6,2628.3 L1240,2628.3 L1238.3,2628.3 L1236.7,2628.3 L1235.1,2628.3 L1233.4,2628.3 L1231.8,2628.3 L1230.1,2628.3 L1228.5,2628.3 L1226.9,2628.3 L1225.2,2628.3 L1223.6,2628.3 L1221.9,2628.3 L1220.3,2628.4 L1218.7,2628.4 L1217,2628.4 L1217,2628.4 L2037.4,2628.4 Z" fill="rgba(128,128,128,0.068)" stroke="none"/>
<path d="M2112.9,2620.1 L2111.3,2619.8 L2109.7,2619.5 L2108,2619.2 L2106.4,2618.8 L2104.8,2618.5 L2103.1,2618.1 L2101.5,2617.7 L2099.8,2617.3 L2098.2,2616.9 L2096.6,2616.5 L2094.9,2616.1 L2093.3,2615.7 L2091.6,2615.2 L2090,2614.7 L2088.4,2614.3 L2086.7,2613.8 L2085.1,2613.3 L2083.5,2612.8 L2081.8,2612.3 L2080.2,2611.7 L2078.5,2611.2 L2076.9,2610.6 L2075.3,2610 L2073.6,2609.4 L2072,2608.8 L2070.3,2608.2 L2068.7,2607.5 L2067.1,2606.9 L2065.4,2606.2 L2063.8,2605.5 L2062.1,2604.8 L2060.5,2604.1 L2058.9,2603.3 L2057.2,2602.6 L2055.6,2601.8 L2054,2601 L2052.3,2600.2 L2050.7,2599.4 L2049,2598.5 L2047.4,2597.7 L2045.8,2596.8 L2044.1,2595.9 L2042.5,2595 L2040.8,2594.1 L2039.2,2593.1 L2037.6,2592.2 L2035.9,2591.2 L2034.3,2590.2 L2032.7,2589.2 L2031,2588.2 L2029.4,2587.1 L2027.7,2586 L2026.1,2585 L2024.5,2583.8 L2022.8,2582.7 L2021.2,2581.6 L2019.5,2580.4 L2017.9,2579.3 L2016.3,2578.1 L2014.6,2576.9 L2013,2575.6 L2011.3,2574.4 L2009.7,2573.1 L2008.1,2571.9 L2006.4,2570.6 L2004.8,2569.3 L2003.2,2567.9 L2001.5,2566.6 L1999.9,2565.2 L1998.2,2563.9 L1996.6,2562.5 L1995,2561.1 L1993.3,2559.7 L1991.7,2558.3 L1990,2556.8 L1988.4,2555.4 L1986.8,2553.9 L1985.1,2552.5 L1983.5,2551 L1981.8,2549.5 L1980.2,2548 L1978.6,2546.5 L1976.9,2544.9 L1975.3,2543.4 L1973.7,2541.9 L1972,2540.3 L1970.4,2538.7 L1968.7,2537.2 L1967.1,2535.6 L1965.5,2534 L1963.8,2532.5 L1962.2,2530.9 L1960.5,2529.3 L1958.9,2527.7 L1957.3,2526.1 L1955.6,2524.5 L1954,2522.9 L1952.4,2521.3 L1950.7,2519.7 L1949.1,2518.2 L1947.4,2516.6 L1945.8,2515 L1944.2,2513.4 L1942.5,2511.8 L1940.9,2510.2 L1939.2,2508.7 L1937.6,2507.1 L1936,2505.6 L1934.3,2504 L1932.7,2502.5 L1931,2501 L1929.4,2499.5 L1927.8,2498 L1926.1,2496.5 L1924.5,2495 L1922.9,2493.6 L1921.2,2492.1 L1919.6,2490.7 L1917.9,2489.3 L1916.3,2487.9 L1914.7,2486.5 L1913,2485.2 L1911.4,2483.9 L1909.7,2482.5 L1908.1,2481.3 L1906.5,2480 L1904.8,2478.7 L1903.2,2477.5 L1901.6,2476.3 L1899.9,2475.2 L1898.3,2474 L1896.6,2472.9 L1895,2471.8 L1893.4,2470.8 L1891.7,2469.7 L1890.1,2468.7 L1888.4,2467.8 L1886.8,2466.8 L1885.2,2465.9 L1883.5,2465.1 L1881.9,2464.2 L1880.2,2463.4 L1878.6,2462.7 L1877,2461.9 L1875.3,2461.2 L1873.7,2460.6 L1872.1,2459.9 L1870.4,2459.3 L1868.8,2458.8 L1867.1,2458.3 L1865.5,2457.8 L1863.9,2457.3 L1862.2,2456.9 L1860.6,2456.6 L1858.9,2456.2 L1857.3,2455.9 L1855.7,2455.7 L1854,2455.5 L1852.4,2455.3 L1850.8,2455.2 L1849.1,2455.1 L1847.5,2455 L1845.8,2455 L1844.2,2455.1 L1842.6,2455.1 L1840.9,2455.2 L1839.3,2455.4 L1837.6,2455.6 L1836,2455.8 L1834.4,2456.1 L1832.7,2456.4 L1831.1,2456.7 L1829.4,2457.1 L1827.8,2457.5 L1826.2,2458 L1824.5,2458.5 L1822.9,2459 L1821.3,2459.6 L1819.6,2460.2 L1818,2460.8 L1816.3,2461.5 L1814.7,2462.2 L1813.1,2463 L1811.4,2463.7 L1809.8,2464.6 L1808.1,2465.4 L1806.5,2466.3 L1804.9,2467.2 L1803.2,2468.2 L1801.6,2469.1 L1799.9,2470.2 L1798.3,2471.2 L1796.7,2472.3 L1795,2473.4 L1793.4,2474.5 L1791.8,2475.6 L1790.1,2476.8 L1788.5,2478 L1786.8,2479.2 L1785.2,2480.5 L1783.6,2481.8 L1781.9,2483.1 L1780.3,2484.4 L1778.6,2485.7 L1777,2487.1 L1775.4,2488.5 L1773.7,2489.9 L1772.1,2491.3 L1770.5,2492.7 L1768.8,2494.1 L1767.2,2495.6 L1765.5,2497.1 L1763.9,2498.6 L1762.3,2500.1 L1760.6,2501.6 L1759,2503.1 L1757.3,2504.7 L1755.7,2506.2 L1754.1,2507.7 L1752.4,2509.3 L1750.8,2510.9 L1749.1,2512.4 L1747.5,2514 L1745.9,2515.6 L1744.2,2517.2 L1742.6,2518.8 L1741,2520.4 L1739.3,2522 L1737.7,2523.6 L1736,2525.2 L1734.4,2526.7 L1732.8,2528.3 L1731.1,2529.9 L1729.5,2531.5 L1727.8,2533.1 L1726.2,2534.7 L1724.6,2536.2 L1722.9,2537.8 L1721.3,2539.4 L1719.7,2540.9 L1718,2542.5 L1716.4,2544 L1714.7,2545.5 L1713.1,2547.1 L1711.5,2548.6 L1709.8,2550.1 L1708.2,2551.6 L1706.5,2553 L1704.9,2554.5 L1703.3,2556 L1701.6,2557.4 L1700,2558.8 L1698.3,2560.3 L1696.7,2561.7 L1695.1,2563.1 L1693.4,2564.4 L1691.8,2565.8 L1690.2,2567.1 L1688.5,2568.5 L1686.9,2569.8 L1685.2,2571.1 L1683.6,2572.4 L1682,2573.6 L1680.3,2574.9 L1678.7,2576.1 L1677,2577.3 L1675.4,2578.5 L1673.8,2579.7 L1672.1,2580.9 L1670.5,2582 L1668.8,2583.2 L1667.2,2584.3 L1665.6,2585.4 L1663.9,2586.5 L1662.3,2587.5 L1660.7,2588.6 L1659,2589.6 L1657.4,2590.6 L1655.7,2591.6 L1654.1,2592.6 L1652.5,2593.5 L1650.8,2594.5 L1649.2,2595.4 L1647.5,2596.3 L1645.9,2597.2 L1644.3,2598 L1642.6,2598.9 L1641,2599.7 L1639.4,2600.5 L1637.7,2601.3 L1636.1,2602.1 L1634.4,2602.9 L1632.8,2603.6 L1631.2,2604.4 L1629.5,2605.1 L1627.9,2605.8 L1626.2,2606.5 L1624.6,2607.1 L1623,2607.8 L1621.3,2608.4 L1619.7,2609 L1618,2609.6 L1616.4,2610.2 L1614.8,2610.8 L1613.1,2611.4 L1611.5,2611.9 L1609.9,2612.5 L1608.2,2613 L1606.6,2613.5 L1604.9,2614 L1603.3,2614.5 L1601.7,2614.9 L1600,2615.4 L1598.4,2615.8 L1596.7,2616.3 L1595.1,2616.7 L1593.5,2617.1 L1591.8,2617.5 L1590.2,2617.9 L1588.5,2618.2 L1586.9,2618.6 L1585.3,2618.9 L1583.6,2619.3 L1582,2619.6 L1580.4,2619.9 L1578.7,2620.2 L1577.1,2620.5 L1575.4,2620.8 L1573.8,2621.1 L1572.2,2621.4 L1570.5,2621.7 L1568.9,2621.9 L1567.2,2622.2 L1565.6,2622.4 L1564,2622.6 L1562.3,2622.9 L1560.7,2623.1 L1559.1,2623.3 L1557.4,2623.5 L1555.8,2623.7 L1554.1,2623.9 L1552.5,2624.1 L1550.9,2624.2 L1549.2,2624.4 L1547.6,2624.6 L1545.9,2624.7 L1544.3,2624.9 L1542.7,2625 L1541,2625.2 L1539.4,2625.3 L1537.7,2625.4 L1536.1,2625.6 L1534.5,2625.7 L1532.8,2625.8 L1531.2,2625.9 L1529.6,2626 L1527.9,2626.1 L1526.3,2626.2 L1524.6,2626.3 L1523,2626.4 L1521.4,2626.5 L1519.7,2626.6 L1518.1,2626.7 L1516.4,2626.7 L1514.8,2626.8 L1513.2,2626.9 L1511.5,2627 L1509.9,2627 L1508.3,2627.1 L1506.6,2627.1 L1505,2627.2 L1503.3,2627.3 L1501.7,2627.3 L1500.1,2627.4 L1498.4,2627.4 L1496.8,2627.5 L1495.1,2627.5 L1493.5,2627.5 L1491.9,2627.6 L1490.2,2627.6 L1488.6,2627.7 L1486.9,2627.7 L1485.3,2627.7 L1483.7,2627.8 L1482,2627.8 L1480.4,2627.8 L1478.8,2627.9 L1477.1,2627.9 L1475.5,2627.9 L1473.8,2627.9 L1472.2,2628 L1470.6,2628 L1468.9,2628 L1467.3,2628 L1465.6,2628 L1464,2628.1 L1462.4,2628.1 L1460.7,2628.1 L1459.1,2628.1 L1457.5,2628.1 L1455.8,2628.1 L1454.2,2628.2 L1452.5,2628.2 L1450.9,2628.2 L1449.3,2628.2 L1447.6,2628.2 L1446,2628.2 L1444.3,2628.2 L1442.7,2628.2 L1441.1,2628.2 L1439.4,2628.3 L1437.8,2628.3 L1436.1,2628.3 L1434.5,2628.3 L1432.9,2628.3 L1431.2,2628.3 L1429.6,2628.3 L1428,2628.3 L1426.3,2628.3 L1424.7,2628.3 L1423,2628.3 L1421.4,2628.3 L1419.8,2628.3 L1418.1,2628.3 L1416.5,2628.3 L1414.8,2628.3 L1413.2,2628.3 L1411.6,2628.3 L1409.9,2628.3 L1408.3,2628.4 L1406.6,2628.4 L1405,2628.4 L1403.4,2628.4 L1401.7,2628.4 L1400.1,2628.4 L1398.5,2628.4 L1396.8,2628.4 L1395.2,2628.4 L1393.5,2628.4 L1391.9,2628.4 L1391.9,2628.4 L2112.9,2628.4 Z" fill="rgba(128,128,128,0.068)" stroke="none"/>
<path d="M2037.4,2628.4 L2035.8,2628.4 L2034.2,2628.4 L2032.5,2628.3 L2030.9,2628.3 L2029.2,2628.3 L2027.6,2628.3 L2026,2628.3 L2024.3,2628.3 L2022.7,2628.3 L2021,2628.3 L2019.4,2628.3 L2017.7,2628.3 L2016.1,2628.3 L2014.5,2628.3 L2012.8,2628.3 L2011.2,2628.3 L2009.5,2628.3 L2007.9,2628.3 L2006.3,2628.2 L2004.6,2628.2 L2003,2628.2 L2001.3,2628.2 L1999.7,2628.2 L1998.1,2628.2 L1996.4,2628.2 L1994.8,2628.2 L1993.1,2628.1 L1991.5,2628.1 L1989.9,2628.1 L1988.2,2628.1 L1986.6,2628.1 L1984.9,2628.1 L1983.3,2628 L1981.6,2628 L1980,2628 L1978.4,2628 L1976.7,2627.9 L1975.1,2627.9 L1973.4,2627.9 L1971.8,2627.8 L1970.2,2627.8 L1968.5,2627.8 L1966.9,2627.7 L1965.2,2627.7 L1963.6,2627.6 L1962,2627.6 L1960.3,2627.5 L1958.7,2627.5 L1957,2627.4 L1955.4,2627.4 L1953.8,2627.3 L1952.1,2627.3 L1950.5,2627.2 L1948.8,2627.1 L1947.2,2627.1 L1945.5,2627 L1943.9,2626.9 L1942.3,2626.8 L1940.6,2626.7 L1939,2626.6 L1937.3,2626.6 L1935.7,2626.5 L1934.1,2626.3 L1932.4,2626.2 L1930.8,2626.1 L1929.1,2626 L1927.5,2625.9 L1925.9,2625.7 L1924.2,2625.6 L1922.6,2625.4 L1920.9,2625.3 L1919.3,2625.1 L1917.7,2625 L1916,2624.8 L1914.4,2624.6 L1912.7,2624.4 L1911.1,2624.2 L1909.5,2624 L1907.8,2623.8 L1906.2,2623.6 L1904.5,2623.3 L1902.9,2623.1 L1901.2,2622.8 L1899.6,2622.5 L1898,2622.3 L1896.3,2622 L1894.7,2621.7 L1893,2621.4 L1891.4,2621 L1889.8,2620.7 L1888.1,2620.3 L1886.5,2620 L1884.8,2619.6 L1883.2,2619.2 L1881.6,2618.8 L1879.9,2618.3 L1878.3,2617.9 L1876.6,2617.4 L1875,2617 L1873.4,2616.5 L1871.7,2615.9 L1870.1,2615.4 L1868.4,2614.9 L1866.8,2614.3 L1865.1,2613.7 L1863.5,2613.1 L1861.9,2612.4 L1860.2,2611.8 L1858.6,2611.1 L1856.9,2610.4 L1855.3,2609.7 L1853.7,2608.9 L1852,2608.2 L1850.4,2607.4 L1848.7,2606.6 L1847.1,2605.7 L1845.5,2604.9 L1843.8,2604 L1842.2,2603 L1840.5,2602.1 L1838.9,2601.1 L1837.3,2600.1 L1835.6,2599.1 L1834,2598 L1832.3,2596.9 L1830.7,2595.8 L1829,2594.6 L1827.4,2593.4 L1825.8,2592.2 L1824.1,2590.9 L1822.5,2589.7 L1820.8,2588.3 L1819.2,2587 L1817.6,2585.6 L1815.9,2584.2 L1814.3,2582.7 L1812.6,2581.2 L1811,2579.7 L1809.4,2578.2 L1807.7,2576.6 L1806.1,2575 L1804.4,2573.3 L1802.8,2571.6 L1801.2,2569.9 L1799.5,2568.1 L1797.9,2566.3 L1796.2,2564.4 L1794.6,2562.6 L1793,2560.7 L1791.3,2558.7 L1789.7,2556.7 L1788,2554.7 L1786.4,2552.6 L1784.7,2550.5 L1783.1,2548.4 L1781.5,2546.3 L1779.8,2544.1 L1778.2,2541.8 L1776.5,2539.6 L1774.9,2537.3 L1773.3,2534.9 L1771.6,2532.6 L1770,2530.2 L1768.3,2527.8 L1766.7,2525.3 L1765.1,2522.8 L1763.4,2520.3 L1761.8,2517.7 L1760.1,2515.2 L1758.5,2512.6 L1756.9,2509.9 L1755.2,2507.3 L1753.6,2504.6 L1751.9,2501.9 L1750.3,2499.2 L1748.6,2496.4 L1747,2493.7 L1745.4,2490.9 L1743.7,2488.1 L1742.1,2485.3 L1740.4,2482.4 L1738.8,2479.6 L1737.2,2476.7 L1735.5,2473.8 L1733.9,2470.9 L1732.2,2468.1 L1730.6,2465.2 L1729,2462.2 L1727.3,2459.3 L1725.7,2456.4 L1724,2453.5 L1722.4,2450.6 L1720.8,2447.7 L1719.1,2444.8 L1717.5,2441.9 L1715.8,2439 L1714.2,2436.1 L1712.5,2433.2 L1710.9,2430.4 L1709.3,2427.5 L1707.6,2424.7 L1706,2421.9 L1704.3,2419.1 L1702.7,2416.4 L1701.1,2413.6 L1699.4,2410.9 L1697.8,2408.2 L1696.1,2405.6 L1694.5,2402.9 L1692.9,2400.3 L1691.2,2397.8 L1689.6,2395.3 L1687.9,2392.8 L1686.3,2390.4 L1684.7,2388 L1683,2385.6 L1681.4,2383.3 L1679.7,2381 L1678.1,2378.8 L1676.4,2376.7 L1674.8,2374.6 L1673.2,2372.5 L1671.5,2370.5 L1669.9,2368.6 L1668.2,2366.7 L1666.6,2364.9 L1665,2363.1 L1663.3,2361.5 L1661.7,2359.8 L1660,2358.3 L1658.4,2356.8 L1656.8,2355.4 L1655.1,2354 L1653.5,2352.7 L1651.8,2351.5 L1650.2,2350.4 L1648.6,2349.3 L1646.9,2348.3 L1645.3,2347.4 L1643.6,2346.6 L1642,2345.8 L1640.4,2345.1 L1638.7,2344.5 L1637.1,2344 L1635.4,2343.6 L1633.8,2343.2 L1632.1,2342.9 L1630.5,2342.7 L1628.9,2342.6 L1627.2,2342.6 L1625.6,2342.6 L1623.9,2342.7 L1622.3,2342.9 L1620.7,2343.2 L1619,2343.6 L1617.4,2344 L1615.7,2344.5 L1614.1,2345.1 L1612.5,2345.8 L1610.8,2346.6 L1609.2,2347.4 L1607.5,2348.3 L1605.9,2349.3 L1604.3,2350.4 L1602.6,2351.5 L1601,2352.7 L1599.3,2354 L1597.7,2355.4 L1596,2356.8 L1594.4,2358.3 L1592.8,2359.8 L1591.1,2361.5 L1589.5,2363.1 L1587.8,2364.9 L1586.2,2366.7 L1584.6,2368.6 L1582.9,2370.5 L1581.3,2372.5 L1579.6,2374.6 L1578,2376.7 L1576.4,2378.8 L1574.7,2381 L1573.1,2383.3 L1571.4,2385.6 L1569.8,2388 L1568.2,2390.4 L1566.5,2392.8 L1564.9,2395.3 L1563.2,2397.8 L1561.6,2400.3 L1559.9,2402.9 L1558.3,2405.6 L1556.7,2408.2 L1555,2410.9 L1553.4,2413.6 L1551.7,2416.4 L1550.1,2419.1 L1548.5,2421.9 L1546.8,2424.7 L1545.2,2427.5 L1543.5,2430.4 L1541.9,2433.2 L1540.3,2436.1 L1538.6,2439 L1537,2441.9 L1535.3,2444.8 L1533.7,2447.7 L1532.1,2450.6 L1530.4,2453.5 L1528.8,2456.4 L1527.1,2459.3 L1525.5,2462.2 L1523.9,2465.2 L1522.2,2468.1 L1520.6,2470.9 L1518.9,2473.8 L1517.3,2476.7 L1515.6,2479.6 L1514,2482.4 L1512.4,2485.3 L1510.7,2488.1 L1509.1,2490.9 L1507.4,2493.7 L1505.8,2496.4 L1504.2,2499.2 L1502.5,2501.9 L1500.9,2504.6 L1499.2,2507.3 L1497.6,2509.9 L1496,2512.6 L1494.3,2515.2 L1492.7,2517.7 L1491,2520.3 L1489.4,2522.8 L1487.8,2525.3 L1486.1,2527.8 L1484.5,2530.2 L1482.8,2532.6 L1481.2,2534.9 L1479.5,2537.3 L1477.9,2539.6 L1476.3,2541.8 L1474.6,2544.1 L1473,2546.3 L1471.3,2548.4 L1469.7,2550.5 L1468.1,2552.6 L1466.4,2554.7 L1464.8,2556.7 L1463.1,2558.7 L1461.5,2560.7 L1459.9,2562.6 L1458.2,2564.4 L1456.6,2566.3 L1454.9,2568.1 L1453.3,2569.9 L1451.7,2571.6 L1450,2573.3 L1448.4,2575 L1446.7,2576.6 L1445.1,2578.2 L1443.4,2579.7 L1441.8,2581.2 L1440.2,2582.7 L1438.5,2584.2 L1436.9,2585.6 L1435.2,2587 L1433.6,2588.3 L1432,2589.7 L1430.3,2590.9 L1428.7,2592.2 L1427,2593.4 L1425.4,2594.6 L1423.8,2595.8 L1422.1,2596.9 L1420.5,2598 L1418.8,2599.1 L1417.2,2600.1 L1415.6,2601.1 L1413.9,2602.1 L1412.3,2603 L1410.6,2604 L1409,2604.9 L1407.4,2605.7 L1405.7,2606.6 L1404.1,2607.4 L1402.4,2608.2 L1400.8,2608.9 L1399.1,2609.7 L1397.5,2610.4 L1395.9,2611.1 L1394.2,2611.8 L1392.6,2612.4 L1390.9,2613.1 L1389.3,2613.7 L1387.7,2614.3 L1386,2614.9 L1384.4,2615.4 L1382.7,2615.9 L1381.1,2616.5 L1379.5,2617 L1377.8,2617.4 L1376.2,2617.9 L1374.5,2618.3 L1372.9,2618.8 L1371.3,2619.2 L1369.6,2619.6 L1368,2620 L1366.3,2620.3 L1364.7,2620.7 L1363,2621 L1361.4,2621.4 L1359.8,2621.7 L1358.1,2622 L1356.5,2622.3 L1354.8,2622.5 L1353.2,2622.8 L1351.6,2623.1 L1349.9,2623.3 L1348.3,2623.6 L1346.6,2623.8 L1345,2624 L1343.4,2624.2 L1341.7,2624.4 L1340.1,2624.6 L1338.4,2624.8 L1336.8,2625 L1335.2,2625.1 L1333.5,2625.3 L1331.9,2625.4 L1330.2,2625.6 L1328.6,2625.7 L1326.9,2625.9 L1325.3,2626 L1323.7,2626.1 L1322,2626.2 L1320.4,2626.3 L1318.7,2626.5 L1317.1,2626.6 L1315.5,2626.6 L1313.8,2626.7 L1312.2,2626.8 L1310.5,2626.9 L1308.9,2627 L1307.3,2627.1 L1305.6,2627.1 L1304,2627.2 L1302.3,2627.3 L1300.7,2627.3 L1299.1,2627.4 L1297.4,2627.4 L1295.8,2627.5 L1294.1,2627.5 L1292.5,2627.6 L1290.9,2627.6 L1289.2,2627.7 L1287.6,2627.7 L1285.9,2627.8 L1284.3,2627.8 L1282.6,2627.8 L1281,2627.9 L1279.4,2627.9 L1277.7,2627.9 L1276.1,2628 L1274.4,2628 L1272.8,2628 L1271.2,2628 L1269.5,2628.1 L1267.9,2628.1 L1266.2,2628.1 L1264.6,2628.1 L1263,2628.1 L1261.3,2628.1 L1259.7,2628.2 L1258,2628.2 L1256.4,2628.2 L1254.8,2628.2 L1253.1,2628.2 L1251.5,2628.2 L1249.8,2628.2 L1248.2,2628.2 L1246.5,2628.3 L1244.9,2628.3 L1243.3,2628.3 L1241.6,2628.3 L1240,2628.3 L1238.3,2628.3 L1236.7,2628.3 L1235.1,2628.3 L1233.4,2628.3 L1231.8,2628.3 L1230.1,2628.3 L1228.5,2628.3 L1226.9,2628.3 L1225.2,2628.3 L1223.6,2628.3 L1221.9,2628.3 L1220.3,2628.4 L1218.7,2628.4 L1217,2628.4" fill="none" stroke="#c8c8c8" stroke-width="1.8"/>
<path d="M2112.9,2620.1 L2111.3,2619.8 L2109.7,2619.5 L2108,2619.2 L2106.4,2618.8 L2104.8,2618.5 L2103.1,2618.1 L2101.5,2617.7 L2099.8,2617.3 L2098.2,2616.9 L2096.6,2616.5 L2094.9,2616.1 L2093.3,2615.7 L2091.6,2615.2 L2090,2614.7 L2088.4,2614.3 L2086.7,2613.8 L2085.1,2613.3 L2083.5,2612.8 L2081.8,2612.3 L2080.2,2611.7 L2078.5,2611.2 L2076.9,2610.6 L2075.3,2610 L2073.6,2609.4 L2072,2608.8 L2070.3,2608.2 L2068.7,2607.5 L2067.1,2606.9 L2065.4,2606.2 L2063.8,2605.5 L2062.1,2604.8 L2060.5,2604.1 L2058.9,2603.3 L2057.2,2602.6 L2055.6,2601.8 L2054,2601 L2052.3,2600.2 L2050.7,2599.4 L2049,2598.5 L2047.4,2597.7 L2045.8,2596.8 L2044.1,2595.9 L2042.5,2595 L2040.8,2594.1 L2039.2,2593.1 L2037.6,2592.2 L2035.9,2591.2 L2034.3,2590.2 L2032.7,2589.2 L2031,2588.2 L2029.4,2587.1 L2027.7,2586 L2026.1,2585 L2024.5,2583.8 L2022.8,2582.7 L2021.2,2581.6 L2019.5,2580.4 L2017.9,2579.3 L2016.3,2578.1 L2014.6,2576.9 L2013,2575.6 L2011.3,2574.4 L2009.7,2573.1 L2008.1,2571.9 L2006.4,2570.6 L2004.8,2569.3 L2003.2,2567.9 L2001.5,2566.6 L1999.9,2565.2 L1998.2,2563.9 L1996.6,2562.5 L1995,2561.1 L1993.3,2559.7 L1991.7,2558.3 L1990,2556.8 L1988.4,2555.4 L1986.8,2553.9 L1985.1,2552.5 L1983.5,2551 L1981.8,2549.5 L1980.2,2548 L1978.6,2546.5 L1976.9,2544.9 L1975.3,2543.4 L1973.7,2541.9 L1972,2540.3 L1970.4,2538.7 L1968.7,2537.2 L1967.1,2535.6 L1965.5,2534 L1963.8,2532.5 L1962.2,2530.9 L1960.5,2529.3 L1958.9,2527.7 L1957.3,2526.1 L1955.6,2524.5 L1954,2522.9 L1952.4,2521.3 L1950.7,2519.7 L1949.1,2518.2 L1947.4,2516.6 L1945.8,2515 L1944.2,2513.4 L1942.5,2511.8 L1940.9,2510.2 L1939.2,2508.7 L1937.6,2507.1 L1936,2505.6 L1934.3,2504 L1932.7,2502.5 L1931,2501 L1929.4,2499.5 L1927.8,2498 L1926.1,2496.5 L1924.5,2495 L1922.9,2493.6 L1921.2,2492.1 L1919.6,2490.7 L1917.9,2489.3 L1916.3,2487.9 L1914.7,2486.5 L1913,2485.2 L1911.4,2483.9 L1909.7,2482.5 L1908.1,2481.3 L1906.5,2480 L1904.8,2478.7 L1903.2,2477.5 L1901.6,2476.3 L1899.9,2475.2 L1898.3,2474 L1896.6,2472.9 L1895,2471.8 L1893.4,2470.8 L1891.7,2469.7 L1890.1,2468.7 L1888.4,2467.8 L1886.8,2466.8 L1885.2,2465.9 L1883.5,2465.1 L1881.9,2464.2 L1880.2,2463.4 L1878.6,2462.7 L1877,2461.9 L1875.3,2461.2 L1873.7,2460.6 L1872.1,2459.9 L1870.4,2459.3 L1868.8,2458.8 L1867.1,2458.3 L1865.5,2457.8 L1863.9,2457.3 L1862.2,2456.9 L1860.6,2456.6 L1858.9,2456.2 L1857.3,2455.9 L1855.7,2455.7 L1854,2455.5 L1852.4,2455.3 L1850.8,2455.2 L1849.1,2455.1 L1847.5,2455 L1845.8,2455 L1844.2,2455.1 L1842.6,2455.1 L1840.9,2455.2 L1839.3,2455.4 L1837.6,2455.6 L1836,2455.8 L1834.4,2456.1 L1832.7,2456.4 L1831.1,2456.7 L1829.4,2457.1 L1827.8,2457.5 L1826.2,2458 L1824.5,2458.5 L1822.9,2459 L1821.3,2459.6 L1819.6,2460.2 L1818,2460.8 L1816.3,2461.5 L1814.7,2462.2 L1813.1,2463 L1811.4,2463.7 L1809.8,2464.6 L1808.1,2465.4 L1806.5,2466.3 L1804.9,2467.2 L1803.2,2468.2 L1801.6,2469.1 L1799.9,2470.2 L1798.3,2471.2 L1796.7,2472.3 L1795,2473.4 L1793.4,2474.5 L1791.8,2475.6 L1790.1,2476.8 L1788.5,2478 L1786.8,2479.2 L1785.2,2480.5 L1783.6,2481.8 L1781.9,2483.1 L1780.3,2484.4 L1778.6,2485.7 L1777,2487.1 L1775.4,2488.5 L1773.7,2489.9 L1772.1,2491.3 L1770.5,2492.7 L1768.8,2494.1 L1767.2,2495.6 L1765.5,2497.1 L1763.9,2498.6 L1762.3,2500.1 L1760.6,2501.6 L1759,2503.1 L1757.3,2504.7 L1755.7,2506.2 L1754.1,2507.7 L1752.4,2509.3 L1750.8,2510.9 L1749.1,2512.4 L1747.5,2514 L1745.9,2515.6 L1744.2,2517.2 L1742.6,2518.8 L1741,2520.4 L1739.3,2522 L1737.7,2523.6 L1736,2525.2 L1734.4,2526.7 L1732.8,2528.3 L1731.1,2529.9 L1729.5,2531.5 L1727.8,2533.1 L1726.2,2534.7 L1724.6,2536.2 L1722.9,2537.8 L1721.3,2539.4 L1719.7,2540.9 L1718,2542.5 L1716.4,2544 L1714.7,2545.5 L1713.1,2547.1 L1711.5,2548.6 L1709.8,2550.1 L1708.2,2551.6 L1706.5,2553 L1704.9,2554.5 L1703.3,2556 L1701.6,2557.4 L1700,2558.8 L1698.3,2560.3 L1696.7,2561.7 L1695.1,2563.1 L1693.4,2564.4 L1691.8,2565.8 L1690.2,2567.1 L1688.5,2568.5 L1686.9,2569.8 L1685.2,2571.1 L1683.6,2572.4 L1682,2573.6 L1680.3,2574.9 L1678.7,2576.1 L1677,2577.3 L1675.4,2578.5 L1673.8,2579.7 L1672.1,2580.9 L1670.5,2582 L1668.8,2583.2 L1667.2,2584.3 L1665.6,2585.4 L1663.9,2586.5 L1662.3,2587.5 L1660.7,2588.6 L1659,2589.6 L1657.4,2590.6 L1655.7,2591.6 L1654.1,2592.6 L1652.5,2593.5 L1650.8,2594.5 L1649.2,2595.4 L1647.5,2596.3 L1645.9,2597.2 L1644.3,2598 L1642.6,2598.9 L1641,2599.7 L1639.4,2600.5 L1637.7,2601.3 L1636.1,2602.1 L1634.4,2602.9 L1632.8,2603.6 L1631.2,2604.4 L1629.5,2605.1 L1627.9,2605.8 L1626.2,2606.5 L1624.6,2607.1 L1623,2607.8 L1621.3,2608.4 L1619.7,2609 L1618,2609.6 L1616.4,2610.2 L1614.8,2610.8 L1613.1,2611.4 L1611.5,2611.9 L1609.9,2612.5 L1608.2,2613 L1606.6,2613.5 L1604.9,2614 L1603.3,2614.5 L1601.7,2614.9 L1600,2615.4 L1598.4,2615.8 L1596.7,2616.3 L1595.1,2616.7 L1593.5,2617.1 L1591.8,2617.5 L1590.2,2617.9 L1588.5,2618.2 L1586.9,2618.6 L1585.3,2618.9 L1583.6,2619.3 L1582,2619.6 L1580.4,2619.9 L1578.7,2620.2 L1577.1,2620.5 L1575.4,2620.8 L1573.8,2621.1 L1572.2,2621.4 L1570.5,2621.7 L1568.9,2621.9 L1567.2,2622.2 L1565.6,2622.4 L1564,2622.6 L1562.3,2622.9 L1560.7,2623.1 L1559.1,2623.3 L1557.4,2623.5 L1555.8,2623.7 L1554.1,2623.9 L1552.5,2624.1 L1550.9,2624.2 L1549.2,2624.4 L1547.6,2624.6 L1545.9,2624.7 L1544.3,2624.9 L1542.7,2625 L1541,2625.2 L1539.4,2625.3 L1537.7,2625.4 L1536.1,2625.6 L1534.5,2625.7 L1532.8,2625.8 L1531.2,2625.9 L1529.6,2626 L1527.9,2626.1 L1526.3,2626.2 L1524.6,2626.3 L1523,2626.4 L1521.4,2626.5 L1519.7,2626.6 L1518.1,2626.7 L1516.4,2626.7 L1514.8,2626.8 L1513.2,2626.9 L1511.5,2627 L1509.9,2627 L1508.3,2627.1 L1506.6,2627.1 L1505,2627.2 L1503.3,2627.3 L1501.7,2627.3 L1500.1,2627.4 L1498.4,2627.4 L1496.8,2627.5 L1495.1,2627.5 L1493.5,2627.5 L1491.9,2627.6 L1490.2,2627.6 L1488.6,2627.7 L1486.9,2627.7 L1485.3,2627.7 L1483.7,2627.8 L1482,2627.8 L1480.4,2627.8 L1478.8,2627.9 L1477.1,2627.9 L1475.5,2627.9 L1473.8,2627.9 L1472.2,2628 L1470.6,2628 L1468.9,2628 L1467.3,2628 L1465.6,2628 L1464,2628.1 L1462.4,2628.1 L1460.7,2628.1 L1459.1,2628.1 L1457.5,2628.1 L1455.8,2628.1 L1454.2,2628.2 L1452.5,2628.2 L1450.9,2628.2 L1449.3,2628.2 L1447.6,2628.2 L1446,2628.2 L1444.3,2628.2 L1442.7,2628.2 L1441.1,2628.2 L1439.4,2628.3 L1437.8,2628.3 L1436.1,2628.3 L1434.5,2628.3 L1432.9,2628.3 L1431.2,2628.3 L1429.6,2628.3 L1428,2628.3 L1426.3,2628.3 L1424.7,2628.3 L1423,2628.3 L1421.4,2628.3 L1419.8,2628.3 L1418.1,2628.3 L1416.5,2628.3 L1414.8,2628.3 L1413.2,2628.3 L1411.6,2628.3 L1409.9,2628.3 L1408.3,2628.4 L1406.6,2628.4 L1405,2628.4 L1403.4,2628.4 L1401.7,2628.4 L1400.1,2628.4 L1398.5,2628.4 L1396.8,2628.4 L1395.2,2628.4 L1393.5,2628.4 L1391.9,2628.4" fill="none" stroke="#c8c8c8" stroke-width="1.8"/>
<path d="M1475.8,2628.4 L1474.8,2628.4 L1473.8,2628.4 L1472.9,2628.4 L1471.9,2628.4 L1470.9,2628.4 L1469.9,2628.4 L1468.9,2628.4 L1467.9,2628.4 L1467,2628.4 L1466,2628.4 L1465,2628.4 L1464,2628.4 L1463,2628.4 L1462,2628.4 L1461.1,2628.4 L1460.1,2628.4 L1459.1,2628.4 L1458.1,2628.4 L1457.1,2628.4 L1456.1,2628.4 L1455.2,2628.4 L1454.2,2628.4 L1453.2,2628.4 L1452.2,2628.4 L1451.2,2628.4 L1450.2,2628.4 L1449.3,2628.4 L1448.3,2628.4 L1447.3,2628.4 L1446.3,2628.4 L1445.3,2628.3 L1444.3,2628.3 L1443.4,2628.3 L1442.4,2628.3 L1441.4,2628.3 L1440.4,2628.3 L1439.4,2628.3 L1438.4,2628.3 L1437.5,2628.3 L1436.5,2628.3 L1435.5,2628.3 L1434.5,2628.3 L1433.5,2628.3 L1432.5,2628.3 L1431.6,2628.2 L1430.6,2628.2 L1429.6,2628.2 L1428.6,2628.2 L1427.6,2628.2 L1426.6,2628.2 L1425.7,2628.2 L1424.7,2628.1 L1423.7,2628.1 L1422.7,2628.1 L1421.7,2628.1 L1420.7,2628.1 L1419.8,2628 L1418.8,2628 L1417.8,2628 L1416.8,2628 L1415.8,2627.9 L1414.8,2627.9 L1413.9,2627.9 L1412.9,2627.8 L1411.9,2627.8 L1410.9,2627.8 L1409.9,2627.7 L1408.9,2627.7 L1408,2627.6 L1407,2627.6 L1406,2627.5 L1405,2627.5 L1404,2627.4 L1403,2627.4 L1402.1,2627.3 L1401.1,2627.2 L1400.1,2627.2 L1399.1,2627.1 L1398.1,2627 L1397.1,2626.9 L1396.2,2626.9 L1395.2,2626.8 L1394.2,2626.7 L1393.2,2626.6 L1392.2,2626.5 L1391.2,2626.4 L1390.3,2626.3 L1389.3,2626.2 L1388.3,2626.1 L1387.3,2625.9 L1386.3,2625.8 L1385.3,2625.7 L1384.4,2625.6 L1383.4,2625.4 L1382.4,2625.3 L1381.4,2625.1 L1380.4,2625 L1379.4,2624.8 L1378.5,2624.7 L1377.5,2624.5 L1376.5,2624.3 L1375.5,2624.1 L1374.5,2624 L1373.5,2623.8 L1372.6,2623.6 L1371.6,2623.4 L1370.6,2623.2 L1369.6,2623 L1368.6,2622.7 L1367.6,2622.5 L1366.7,2622.3 L1365.7,2622.1 L1364.7,2621.8 L1363.7,2621.6 L1362.7,2621.3 L1361.7,2621.1 L1360.8,2620.8 L1359.8,2620.5 L1358.8,2620.3 L1357.8,2620 L1356.8,2619.7 L1355.8,2619.4 L1354.9,2619.1 L1353.9,2618.9 L1352.9,2618.6 L1351.9,2618.3 L1350.9,2618 L1349.9,2617.6 L1349,2617.3 L1348,2617 L1347,2616.7 L1346,2616.4 L1345,2616.1 L1344,2615.7 L1343.1,2615.4 L1342.1,2615.1 L1341.1,2614.8 L1340.1,2614.4 L1339.1,2614.1 L1338.1,2613.8 L1337.2,2613.5 L1336.2,2613.1 L1335.2,2612.8 L1334.2,2612.5 L1333.2,2612.2 L1332.2,2611.8 L1331.3,2611.5 L1330.3,2611.2 L1329.3,2610.9 L1328.3,2610.6 L1327.3,2610.3 L1326.3,2610 L1325.4,2609.7 L1324.4,2609.4 L1323.4,2609.1 L1322.4,2608.9 L1321.4,2608.6 L1320.5,2608.3 L1319.5,2608.1 L1318.5,2607.9 L1317.5,2607.6 L1316.5,2607.4 L1315.5,2607.2 L1314.6,2607 L1313.6,2606.8 L1312.6,2606.6 L1311.6,2606.4 L1310.6,2606.2 L1309.6,2606.1 L1308.7,2605.9 L1307.7,2605.8 L1306.7,2605.6 L1305.7,2605.5 L1304.7,2605.4 L1303.7,2605.3 L1302.8,2605.2 L1301.8,2605.2 L1300.8,2605.1 L1299.8,2605.1 L1298.8,2605 L1297.8,2605 L1296.9,2605 L1295.9,2605 L1294.9,2605 L1293.9,2605.1 L1292.9,2605.1 L1291.9,2605.2 L1291,2605.2 L1290,2605.3 L1289,2605.4 L1288,2605.5 L1287,2605.6 L1286,2605.8 L1285.1,2605.9 L1284.1,2606.1 L1283.1,2606.2 L1282.1,2606.4 L1281.1,2606.6 L1280.1,2606.8 L1279.2,2607 L1278.2,2607.2 L1277.2,2607.4 L1276.2,2607.6 L1275.2,2607.9 L1274.2,2608.1 L1273.3,2608.3 L1272.3,2608.6 L1271.3,2608.9 L1270.3,2609.1 L1269.3,2609.4 L1268.3,2609.7 L1267.4,2610 L1266.4,2610.3 L1265.4,2610.6 L1264.4,2610.9 L1263.4,2611.2 L1262.4,2611.5 L1261.5,2611.8 L1260.5,2612.2 L1259.5,2612.5 L1258.5,2612.8 L1257.5,2613.1 L1256.5,2613.5 L1255.6,2613.8 L1254.6,2614.1 L1253.6,2614.4 L1252.6,2614.8 L1251.6,2615.1 L1250.6,2615.4 L1249.7,2615.7 L1248.7,2616.1 L1247.7,2616.4 L1246.7,2616.7 L1245.7,2617 L1244.7,2617.3 L1243.8,2617.6 L1242.8,2618 L1241.8,2618.3 L1240.8,2618.6 L1239.8,2618.9 L1238.8,2619.1 L1237.9,2619.4 L1236.9,2619.7 L1235.9,2620 L1234.9,2620.3 L1233.9,2620.5 L1232.9,2620.8 L1232,2621.1 L1231,2621.3 L1230,2621.6 L1229,2621.8 L1228,2622.1 L1227,2622.3 L1226.1,2622.5 L1225.1,2622.7 L1224.1,2623 L1223.1,2623.2 L1222.1,2623.4 L1221.1,2623.6 L1220.2,2623.8 L1219.2,2624 L1218.2,2624.1 L1217.2,2624.3 L1216.2,2624.5 L1215.2,2624.7 L1214.3,2624.8 L1213.3,2625 L1212.3,2625.1 L1211.3,2625.3 L1210.3,2625.4 L1209.3,2625.6 L1208.4,2625.7 L1207.4,2625.8 L1206.4,2625.9 L1205.4,2626.1 L1204.4,2626.2 L1203.4,2626.3 L1202.5,2626.4 L1201.5,2626.5 L1200.5,2626.6 L1199.5,2626.7 L1198.5,2626.8 L1197.5,2626.9 L1196.6,2626.9 L1195.6,2627 L1194.6,2627.1 L1193.6,2627.2 L1192.6,2627.2 L1191.6,2627.3 L1190.7,2627.4 L1189.7,2627.4 L1188.7,2627.5 L1187.7,2627.5 L1186.7,2627.6 L1185.7,2627.6 L1184.8,2627.7 L1183.8,2627.7 L1182.8,2627.8 L1181.8,2627.8 L1180.8,2627.8 L1179.8,2627.9 L1178.9,2627.9 L1177.9,2627.9 L1176.9,2628 L1175.9,2628 L1174.9,2628 L1173.9,2628 L1173,2628.1 L1172,2628.1 L1171,2628.1 L1170,2628.1 L1169,2628.1 L1168,2628.2 L1167.1,2628.2 L1166.1,2628.2 L1165.1,2628.2 L1164.1,2628.2 L1163.1,2628.2 L1162.1,2628.2 L1161.2,2628.3 L1160.2,2628.3 L1159.2,2628.3 L1158.2,2628.3 L1157.2,2628.3 L1156.2,2628.3 L1155.3,2628.3 L1154.3,2628.3 L1153.3,2628.3 L1152.3,2628.3 L1151.3,2628.3 L1150.3,2628.3 L1149.4,2628.3 L1148.4,2628.3 L1147.4,2628.4 L1146.4,2628.4 L1145.4,2628.4 L1144.4,2628.4 L1143.5,2628.4 L1142.5,2628.4 L1141.5,2628.4 L1140.5,2628.4 L1139.5,2628.4 L1138.5,2628.4 L1137.6,2628.4 L1136.6,2628.4 L1135.6,2628.4 L1134.6,2628.4 L1133.6,2628.4 L1132.6,2628.4 L1131.7,2628.4 L1130.7,2628.4 L1129.7,2628.4 L1129.7,2628.4 L1475.8,2628.4 Z" fill="rgba(128,128,0,0.15)" stroke="none"/>
<path d="M1577.7,2628.4 L1576.7,2628.4 L1575.7,2628.3 L1574.7,2628.3 L1573.7,2628.3 L1572.7,2628.3 L1571.8,2628.3 L1570.8,2628.3 L1569.8,2628.2 L1568.8,2628.2 L1567.8,2628.2 L1566.8,2628.1 L1565.9,2628.1 L1564.9,2628 L1563.9,2628 L1562.9,2627.9 L1561.9,2627.8 L1560.9,2627.7 L1560,2627.6 L1559,2627.4 L1558,2627.3 L1557,2627.1 L1556,2626.9 L1555,2626.6 L1554,2626.3 L1553.1,2626 L1552.1,2625.7 L1551.1,2625.2 L1550.1,2624.8 L1549.1,2624.3 L1548.1,2623.7 L1547.2,2623 L1546.2,2622.3 L1545.2,2621.5 L1544.2,2620.6 L1543.2,2619.6 L1542.2,2618.4 L1541.2,2617.2 L1540.3,2615.8 L1539.3,2614.4 L1538.3,2612.7 L1537.3,2610.9 L1536.3,2609 L1535.3,2606.9 L1534.4,2604.6 L1533.4,2602.1 L1532.4,2599.4 L1531.4,2596.5 L1530.4,2593.5 L1529.4,2590.2 L1528.5,2586.6 L1527.5,2582.9 L1526.5,2578.9 L1525.5,2574.7 L1524.5,2570.3 L1523.5,2565.6 L1522.5,2560.7 L1521.6,2555.6 L1520.6,2550.3 L1519.6,2544.8 L1518.6,2539.1 L1517.6,2533.2 L1516.6,2527.2 L1515.7,2521 L1514.7,2514.6 L1513.7,2508.2 L1512.7,2501.7 L1511.7,2495.1 L1510.7,2488.5 L1509.7,2481.8 L1508.8,2475.2 L1507.8,2468.7 L1506.8,2462.2 L1505.8,2455.9 L1504.8,2449.7 L1503.8,2443.7 L1502.9,2437.9 L1501.9,2432.4 L1500.9,2427.2 L1499.9,2422.2 L1498.9,2417.6 L1497.9,2413.4 L1497,2409.6 L1496,2406.2 L1495,2403.2 L1494,2400.7 L1493,2398.7 L1492,2397.2 L1491,2396.2 L1490.1,2395.7 L1489.1,2395.7 L1488.1,2396.2 L1487.1,2397.2 L1486.1,2398.7 L1485.1,2400.7 L1484.2,2403.2 L1483.2,2406.2 L1482.2,2409.6 L1481.2,2413.4 L1480.2,2417.6 L1479.2,2422.2 L1478.2,2427.2 L1477.3,2432.4 L1476.3,2437.9 L1475.3,2443.7 L1474.3,2449.7 L1473.3,2455.9 L1472.3,2462.2 L1471.4,2468.7 L1470.4,2475.2 L1469.4,2481.8 L1468.4,2488.5 L1467.4,2495.1 L1466.4,2501.7 L1465.5,2508.2 L1464.5,2514.6 L1463.5,2521 L1462.5,2527.2 L1461.5,2533.2 L1460.5,2539.1 L1459.5,2544.8 L1458.6,2550.3 L1457.6,2555.6 L1456.6,2560.7 L1455.6,2565.6 L1454.6,2570.3 L1453.6,2574.7 L1452.7,2578.9 L1451.7,2582.9 L1450.7,2586.6 L1449.7,2590.2 L1448.7,2593.5 L1447.7,2596.5 L1446.8,2599.4 L1445.8,2602.1 L1444.8,2604.6 L1443.8,2606.9 L1442.8,2609 L1441.8,2610.9 L1440.8,2612.7 L1439.9,2614.4 L1438.9,2615.8 L1437.9,2617.2 L1436.9,2618.4 L1435.9,2619.6 L1434.9,2620.6 L1434,2621.5 L1433,2622.3 L1432,2623 L1431,2623.7 L1430,2624.3 L1429,2624.8 L1428,2625.2 L1427.1,2625.7 L1426.1,2626 L1425.1,2626.3 L1424.1,2626.6 L1423.1,2626.9 L1422.1,2627.1 L1421.2,2627.3 L1420.2,2627.4 L1419.2,2627.6 L1418.2,2627.7 L1417.2,2627.8 L1416.2,2627.9 L1415.3,2628 L1414.3,2628 L1413.3,2628.1 L1412.3,2628.1 L1411.3,2628.2 L1410.3,2628.2 L1409.3,2628.2 L1408.4,2628.3 L1407.4,2628.3 L1406.4,2628.3 L1405.4,2628.3 L1404.4,2628.3 L1403.4,2628.3 L1402.5,2628.4 L1401.5,2628.4 L1401.5,2628.4 L1577.7,2628.4 Z" fill="rgba(0,255,255,0.17)" stroke="none"/>
<path d="M1735.1,2628.4 L1734.1,2628.4 L1733.1,2628.4 L1732.1,2628.4 L1731.1,2628.4 L1730.1,2628.4 L1729.2,2628.4 L1728.2,2628.4 L1727.2,2628.4 L1726.2,2628.3 L1725.2,2628.3 L1724.2,2628.3 L1723.3,2628.3 L1722.3,2628.3 L1721.3,2628.3 L1720.3,2628.3 L1719.3,2628.3 L1718.3,2628.3 L1717.4,2628.3 L1716.4,2628.3 L1715.4,2628.3 L1714.4,2628.3 L1713.4,2628.2 L1712.4,2628.2 L1711.4,2628.2 L1710.5,2628.2 L1709.5,2628.2 L1708.5,2628.2 L1707.5,2628.2 L1706.5,2628.1 L1705.5,2628.1 L1704.6,2628.1 L1703.6,2628.1 L1702.6,2628 L1701.6,2628 L1700.6,2628 L1699.6,2627.9 L1698.7,2627.9 L1697.7,2627.9 L1696.7,2627.8 L1695.7,2627.8 L1694.7,2627.8 L1693.7,2627.7 L1692.7,2627.7 L1691.8,2627.6 L1690.8,2627.5 L1689.8,2627.5 L1688.8,2627.4 L1687.8,2627.4 L1686.8,2627.3 L1685.9,2627.2 L1684.9,2627.1 L1683.9,2627 L1682.9,2626.9 L1681.9,2626.8 L1680.9,2626.7 L1680,2626.6 L1679,2626.5 L1678,2626.4 L1677,2626.3 L1676,2626.1 L1675,2626 L1674.1,2625.8 L1673.1,2625.6 L1672.1,2625.5 L1671.1,2625.3 L1670.1,2625.1 L1669.1,2624.9 L1668.1,2624.7 L1667.2,2624.5 L1666.2,2624.2 L1665.2,2624 L1664.2,2623.7 L1663.2,2623.5 L1662.2,2623.2 L1661.3,2622.9 L1660.3,2622.6 L1659.3,2622.2 L1658.3,2621.9 L1657.3,2621.5 L1656.3,2621.2 L1655.4,2620.8 L1654.4,2620.3 L1653.4,2619.9 L1652.4,2619.5 L1651.4,2619 L1650.4,2618.5 L1649.4,2618 L1648.5,2617.5 L1647.5,2616.9 L1646.5,2616.3 L1645.5,2615.7 L1644.5,2615.1 L1643.5,2614.5 L1642.6,2613.8 L1641.6,2613.1 L1640.6,2612.4 L1639.6,2611.6 L1638.6,2610.9 L1637.6,2610.1 L1636.7,2609.2 L1635.7,2608.4 L1634.7,2607.5 L1633.7,2606.6 L1632.7,2605.6 L1631.7,2604.6 L1630.7,2603.6 L1629.8,2602.6 L1628.8,2601.5 L1627.8,2600.4 L1626.8,2599.3 L1625.8,2598.1 L1624.8,2596.9 L1623.9,2595.7 L1622.9,2594.4 L1621.9,2593.1 L1620.9,2591.8 L1619.9,2590.4 L1618.9,2589 L1618,2587.6 L1617,2586.1 L1616,2584.6 L1615,2583.1 L1614,2581.5 L1613,2579.9 L1612,2578.3 L1611.1,2576.7 L1610.1,2575 L1609.1,2573.2 L1608.1,2571.5 L1607.1,2569.7 L1606.1,2567.9 L1605.2,2566.1 L1604.2,2564.2 L1603.2,2562.3 L1602.2,2560.4 L1601.2,2558.5 L1600.2,2556.5 L1599.3,2554.6 L1598.3,2552.6 L1597.3,2550.6 L1596.3,2548.5 L1595.3,2546.5 L1594.3,2544.4 L1593.4,2542.3 L1592.4,2540.2 L1591.4,2538.1 L1590.4,2536 L1589.4,2533.9 L1588.4,2531.8 L1587.4,2529.7 L1586.5,2527.6 L1585.5,2525.4 L1584.5,2523.3 L1583.5,2521.2 L1582.5,2519.1 L1581.5,2517 L1580.6,2514.9 L1579.6,2512.9 L1578.6,2510.8 L1577.6,2508.8 L1576.6,2506.8 L1575.6,2504.8 L1574.7,2502.8 L1573.7,2500.8 L1572.7,2498.9 L1571.7,2497 L1570.7,2495.2 L1569.7,2493.4 L1568.7,2491.6 L1567.8,2489.8 L1566.8,2488.1 L1565.8,2486.5 L1564.8,2484.9 L1563.8,2483.3 L1562.8,2481.8 L1561.9,2480.3 L1560.9,2478.9 L1559.9,2477.5 L1558.9,2476.2 L1557.9,2475 L1556.9,2473.8 L1556,2472.7 L1555,2471.6 L1554,2470.6 L1553,2469.7 L1552,2468.8 L1551,2468 L1550,2467.3 L1549.1,2466.7 L1548.1,2466.1 L1547.1,2465.6 L1546.1,2465.1 L1545.1,2464.7 L1544.1,2464.4 L1543.2,2464.2 L1542.2,2464.1 L1541.2,2464 L1540.2,2464 L1539.2,2464.1 L1538.2,2464.2 L1537.3,2464.4 L1536.3,2464.7 L1535.3,2465.1 L1534.3,2465.6 L1533.3,2466.1 L1532.3,2466.7 L1531.3,2467.3 L1530.4,2468 L1529.4,2468.8 L1528.4,2469.7 L1527.4,2470.6 L1526.4,2471.6 L1525.4,2472.7 L1524.5,2473.8 L1523.5,2475 L1522.5,2476.2 L1521.5,2477.5 L1520.5,2478.9 L1519.5,2480.3 L1518.6,2481.8 L1517.6,2483.3 L1516.6,2484.9 L1515.6,2486.5 L1514.6,2488.1 L1513.6,2489.8 L1512.7,2491.6 L1511.7,2493.4 L1510.7,2495.2 L1509.7,2497 L1508.7,2498.9 L1507.7,2500.8 L1506.7,2502.8 L1505.8,2504.8 L1504.8,2506.8 L1503.8,2508.8 L1502.8,2510.8 L1501.8,2512.9 L1500.8,2514.9 L1499.9,2517 L1498.9,2519.1 L1497.9,2521.2 L1496.9,2523.3 L1495.9,2525.4 L1494.9,2527.6 L1494,2529.7 L1493,2531.8 L1492,2533.9 L1491,2536 L1490,2538.1 L1489,2540.2 L1488,2542.3 L1487.1,2544.4 L1486.1,2546.5 L1485.1,2548.5 L1484.1,2550.6 L1483.1,2552.6 L1482.1,2554.6 L1481.2,2556.5 L1480.2,2558.5 L1479.2,2560.4 L1478.2,2562.3 L1477.2,2564.2 L1476.2,2566.1 L1475.3,2567.9 L1474.3,2569.7 L1473.3,2571.5 L1472.3,2573.2 L1471.3,2575 L1470.3,2576.7 L1469.3,2578.3 L1468.4,2579.9 L1467.4,2581.5 L1466.4,2583.1 L1465.4,2584.6 L1464.4,2586.1 L1463.4,2587.6 L1462.5,2589 L1461.5,2590.4 L1460.5,2591.8 L1459.5,2593.1 L1458.5,2594.4 L1457.5,2595.7 L1456.6,2596.9 L1455.6,2598.1 L1454.6,2599.3 L1453.6,2600.4 L1452.6,2601.5 L1451.6,2602.6 L1450.6,2603.6 L1449.7,2604.6 L1448.7,2605.6 L1447.7,2606.6 L1446.7,2607.5 L1445.7,2608.4 L1444.7,2609.2 L1443.8,2610.1 L1442.8,2610.9 L1441.8,2611.6 L1440.8,2612.4 L1439.8,2613.1 L1438.8,2613.8 L1437.9,2614.5 L1436.9,2615.1 L1435.9,2615.7 L1434.9,2616.3 L1433.9,2616.9 L1432.9,2617.5 L1432,2618 L1431,2618.5 L1430,2619 L1429,2619.5 L1428,2619.9 L1427,2620.3 L1426,2620.8 L1425.1,2621.2 L1424.1,2621.5 L1423.1,2621.9 L1422.1,2622.2 L1421.1,2622.6 L1420.1,2622.9 L1419.2,2623.2 L1418.2,2623.5 L1417.2,2623.7 L1416.2,2624 L1415.2,2624.2 L1414.2,2624.5 L1413.3,2624.7 L1412.3,2624.9 L1411.3,2625.1 L1410.3,2625.3 L1409.3,2625.5 L1408.3,2625.6 L1407.3,2625.8 L1406.4,2626 L1405.4,2626.1 L1404.4,2626.3 L1403.4,2626.4 L1402.4,2626.5 L1401.4,2626.6 L1400.5,2626.7 L1399.5,2626.8 L1398.5,2626.9 L1397.5,2627 L1396.5,2627.1 L1395.5,2627.2 L1394.6,2627.3 L1393.6,2627.4 L1392.6,2627.4 L1391.6,2627.5 L1390.6,2627.5 L1389.6,2627.6 L1388.6,2627.7 L1387.7,2627.7 L1386.7,2627.8 L1385.7,2627.8 L1384.7,2627.8 L1383.7,2627.9 L1382.7,2627.9 L1381.8,2627.9 L1380.8,2628 L1379.8,2628 L1378.8,2628 L1377.8,2628.1 L1376.8,2628.1 L1375.9,2628.1 L1374.9,2628.1 L1373.9,2628.2 L1372.9,2628.2 L1371.9,2628.2 L1370.9,2628.2 L1369.9,2628.2 L1369,2628.2 L1368,2628.2 L1367,2628.3 L1366,2628.3 L1365,2628.3 L1364,2628.3 L1363.1,2628.3 L1362.1,2628.3 L1361.1,2628.3 L1360.1,2628.3 L1359.1,2628.3 L1358.1,2628.3 L1357.2,2628.3 L1356.2,2628.3 L1355.2,2628.3 L1354.2,2628.4 L1353.2,2628.4 L1352.2,2628.4 L1351.3,2628.4 L1350.3,2628.4 L1349.3,2628.4 L1348.3,2628.4 L1347.3,2628.4 L1346.3,2628.4 L1346.3,2628.4 L1735.1,2628.4 Z" fill="rgba(0,0,255,0.14)" stroke="none"/>
<path d="M1475.8,2628.4 L1474.8,2628.4 L1473.8,2628.4 L1472.9,2628.4 L1471.9,2628.4 L1470.9,2628.4 L1469.9,2628.4 L1468.9,2628.4 L1467.9,2628.4 L1467,2628.4 L1466,2628.4 L1465,2628.4 L1464,2628.4 L1463,2628.4 L1462,2628.4 L1461.1,2628.4 L1460.1,2628.4 L1459.1,2628.4 L1458.1,2628.4 L1457.1,2628.4 L1456.1,2628.4 L1455.2,2628.4 L1454.2,2628.4 L1453.2,2628.4 L1452.2,2628.4 L1451.2,2628.4 L1450.2,2628.4 L1449.3,2628.4 L1448.3,2628.4 L1447.3,2628.4 L1446.3,2628.4 L1445.3,2628.3 L1444.3,2628.3 L1443.4,2628.3 L1442.4,2628.3 L1441.4,2628.3 L1440.4,2628.3 L1439.4,2628.3 L1438.4,2628.3 L1437.5,2628.3 L1436.5,2628.3 L1435.5,2628.3 L1434.5,2628.3 L1433.5,2628.3 L1432.5,2628.3 L1431.6,2628.2 L1430.6,2628.2 L1429.6,2628.2 L1428.6,2628.2 L1427.6,2628.2 L1426.6,2628.2 L1425.7,2628.2 L1424.7,2628.1 L1423.7,2628.1 L1422.7,2628.1 L1421.7,2628.1 L1420.7,2628.1 L1419.8,2628 L1418.8,2628 L1417.8,2628 L1416.8,2628 L1415.8,2627.9 L1414.8,2627.9 L1413.9,2627.9 L1412.9,2627.8 L1411.9,2627.8 L1410.9,2627.8 L1409.9,2627.7 L1408.9,2627.7 L1408,2627.6 L1407,2627.6 L1406,2627.5 L1405,2627.5 L1404,2627.4 L1403,2627.4 L1402.1,2627.3 L1401.1,2627.2 L1400.1,2627.2 L1399.1,2627.1 L1398.1,2627 L1397.1,2626.9 L1396.2,2626.9 L1395.2,2626.8 L1394.2,2626.7 L1393.2,2626.6 L1392.2,2626.5 L1391.2,2626.4 L1390.3,2626.3 L1389.3,2626.2 L1388.3,2626.1 L1387.3,2625.9 L1386.3,2625.8 L1385.3,2625.7 L1384.4,2625.6 L1383.4,2625.4 L1382.4,2625.3 L1381.4,2625.1 L1380.4,2625 L1379.4,2624.8 L1378.5,2624.7 L1377.5,2624.5 L1376.5,2624.3 L1375.5,2624.1 L1374.5,2624 L1373.5,2623.8 L1372.6,2623.6 L1371.6,2623.4 L1370.6,2623.2 L1369.6,2623 L1368.6,2622.7 L1367.6,2622.5 L1366.7,2622.3 L1365.7,2622.1 L1364.7,2621.8 L1363.7,2621.6 L1362.7,2621.3 L1361.7,2621.1 L1360.8,2620.8 L1359.8,2620.5 L1358.8,2620.3 L1357.8,2620 L1356.8,2619.7 L1355.8,2619.4 L1354.9,2619.1 L1353.9,2618.9 L1352.9,2618.6 L1351.9,2618.3 L1350.9,2618 L1349.9,2617.6 L1349,2617.3 L1348,2617 L1347,2616.7 L1346,2616.4 L1345,2616.1 L1344,2615.7 L1343.1,2615.4 L1342.1,2615.1 L1341.1,2614.8 L1340.1,2614.4 L1339.1,2614.1 L1338.1,2613.8 L1337.2,2613.5 L1336.2,2613.1 L1335.2,2612.8 L1334.2,2612.5 L1333.2,2612.2 L1332.2,2611.8 L1331.3,2611.5 L1330.3,2611.2 L1329.3,2610.9 L1328.3,2610.6 L1327.3,2610.3 L1326.3,2610 L1325.4,2609.7 L1324.4,2609.4 L1323.4,2609.1 L1322.4,2608.9 L1321.4,2608.6 L1320.5,2608.3 L1319.5,2608.1 L1318.5,2607.9 L1317.5,2607.6 L1316.5,2607.4 L1315.5,2607.2 L1314.6,2607 L1313.6,2606.8 L1312.6,2606.6 L1311.6,2606.4 L1310.6,2606.2 L1309.6,2606.1 L1308.7,2605.9 L1307.7,2605.8 L1306.7,2605.6 L1305.7,2605.5 L1304.7,2605.4 L1303.7,2605.3 L1302.8,2605.2 L1301.8,2605.2 L1300.8,2605.1 L1299.8,2605.1 L1298.8,2605 L1297.8,2605 L1296.9,2605 L1295.9,2605 L1294.9,2605 L1293.9,2605.1 L1292.9,2605.1 L1291.9,2605.2 L1291,2605.2 L1290,2605.3 L1289,2605.4 L1288,2605.5 L1287,2605.6 L1286,2605.8 L1285.1,2605.9 L1284.1,2606.1 L1283.1,2606.2 L1282.1,2606.4 L1281.1,2606.6 L1280.1,2606.8 L1279.2,2607 L1278.2,2607.2 L1277.2,2607.4 L1276.2,2607.6 L1275.2,2607.9 L1274.2,2608.1 L1273.3,2608.3 L1272.3,2608.6 L1271.3,2608.9 L1270.3,2609.1 L1269.3,2609.4 L1268.3,2609.7 L1267.4,2610 L1266.4,2610.3 L1265.4,2610.6 L1264.4,2610.9 L1263.4,2611.2 L1262.4,2611.5 L1261.5,2611.8 L1260.5,2612.2 L1259.5,2612.5 L1258.5,2612.8 L1257.5,2613.1 L1256.5,2613.5 L1255.6,2613.8 L1254.6,2614.1 L1253.6,2614.4 L1252.6,2614.8 L1251.6,2615.1 L1250.6,2615.4 L1249.7,2615.7 L1248.7,2616.1 L1247.7,2616.4 L1246.7,2616.7 L1245.7,2617 L1244.7,2617.3 L1243.8,2617.6 L1242.8,2618 L1241.8,2618.3 L1240.8,2618.6 L1239.8,2618.9 L1238.8,2619.1 L1237.9,2619.4 L1236.9,2619.7 L1235.9,2620 L1234.9,2620.3 L1233.9,2620.5 L1232.9,2620.8 L1232,2621.1 L1231,2621.3 L1230,2621.6 L1229,2621.8 L1228,2622.1 L1227,2622.3 L1226.1,2622.5 L1225.1,2622.7 L1224.1,2623 L1223.1,2623.2 L1222.1,2623.4 L1221.1,2623.6 L1220.2,2623.8 L1219.2,2624 L1218.2,2624.1 L1217.2,2624.3 L1216.2,2624.5 L1215.2,2624.7 L1214.3,2624.8 L1213.3,2625 L1212.3,2625.1 L1211.3,2625.3 L1210.3,2625.4 L1209.3,2625.6 L1208.4,2625.7 L1207.4,2625.8 L1206.4,2625.9 L1205.4,2626.1 L1204.4,2626.2 L1203.4,2626.3 L1202.5,2626.4 L1201.5,2626.5 L1200.5,2626.6 L1199.5,2626.7 L1198.5,2626.8 L1197.5,2626.9 L1196.6,2626.9 L1195.6,2627 L1194.6,2627.1 L1193.6,2627.2 L1192.6,2627.2 L1191.6,2627.3 L1190.7,2627.4 L1189.7,2627.4 L1188.7,2627.5 L1187.7,2627.5 L1186.7,2627.6 L1185.7,2627.6 L1184.8,2627.7 L1183.8,2627.7 L1182.8,2627.8 L1181.8,2627.8 L1180.8,2627.8 L1179.8,2627.9 L1178.9,2627.9 L1177.9,2627.9 L1176.9,2628 L1175.9,2628 L1174.9,2628 L1173.9,2628 L1173,2628.1 L1172,2628.1 L1171,2628.1 L1170,2628.1 L1169,2628.1 L1168,2628.2 L1167.1,2628.2 L1166.1,2628.2 L1165.1,2628.2 L1164.1,2628.2 L1163.1,2628.2 L1162.1,2628.2 L1161.2,2628.3 L1160.2,2628.3 L1159.2,2628.3 L1158.2,2628.3 L1157.2,2628.3 L1156.2,2628.3 L1155.3,2628.3 L1154.3,2628.3 L1153.3,2628.3 L1152.3,2628.3 L1151.3,2628.3 L1150.3,2628.3 L1149.4,2628.3 L1148.4,2628.3 L1147.4,2628.4 L1146.4,2628.4 L1145.4,2628.4 L1144.4,2628.4 L1143.5,2628.4 L1142.5,2628.4 L1141.5,2628.4 L1140.5,2628.4 L1139.5,2628.4 L1138.5,2628.4 L1137.6,2628.4 L1136.6,2628.4 L1135.6,2628.4 L1134.6,2628.4 L1133.6,2628.4 L1132.6,2628.4 L1131.7,2628.4 L1130.7,2628.4 L1129.7,2628.4" fill="none" stroke="#8c8c28" stroke-width="2.2"/>
<path d="M1577.7,2628.4 L1576.7,2628.4 L1575.7,2628.3 L1574.7,2628.3 L1573.7,2628.3 L1572.7,2628.3 L1571.8,2628.3 L1570.8,2628.3 L1569.8,2628.2 L1568.8,2628.2 L1567.8,2628.2 L1566.8,2628.1 L1565.9,2628.1 L1564.9,2628 L1563.9,2628 L1562.9,2627.9 L1561.9,2627.8 L1560.9,2627.7 L1560,2627.6 L1559,2627.4 L1558,2627.3 L1557,2627.1 L1556,2626.9 L1555,2626.6 L1554,2626.3 L1553.1,2626 L1552.1,2625.7 L1551.1,2625.2 L1550.1,2624.8 L1549.1,2624.3 L1548.1,2623.7 L1547.2,2623 L1546.2,2622.3 L1545.2,2621.5 L1544.2,2620.6 L1543.2,2619.6 L1542.2,2618.4 L1541.2,2617.2 L1540.3,2615.8 L1539.3,2614.4 L1538.3,2612.7 L1537.3,2610.9 L1536.3,2609 L1535.3,2606.9 L1534.4,2604.6 L1533.4,2602.1 L1532.4,2599.4 L1531.4,2596.5 L1530.4,2593.5 L1529.4,2590.2 L1528.5,2586.6 L1527.5,2582.9 L1526.5,2578.9 L1525.5,2574.7 L1524.5,2570.3 L1523.5,2565.6 L1522.5,2560.7 L1521.6,2555.6 L1520.6,2550.3 L1519.6,2544.8 L1518.6,2539.1 L1517.6,2533.2 L1516.6,2527.2 L1515.7,2521 L1514.7,2514.6 L1513.7,2508.2 L1512.7,2501.7 L1511.7,2495.1 L1510.7,2488.5 L1509.7,2481.8 L1508.8,2475.2 L1507.8,2468.7 L1506.8,2462.2 L1505.8,2455.9 L1504.8,2449.7 L1503.8,2443.7 L1502.9,2437.9 L1501.9,2432.4 L1500.9,2427.2 L1499.9,2422.2 L1498.9,2417.6 L1497.9,2413.4 L1497,2409.6 L1496,2406.2 L1495,2403.2 L1494,2400.7 L1493,2398.7 L1492,2397.2 L1491,2396.2 L1490.1,2395.7 L1489.1,2395.7 L1488.1,2396.2 L1487.1,2397.2 L1486.1,2398.7 L1485.1,2400.7 L1484.2,2403.2 L1483.2,2406.2 L1482.2,2409.6 L1481.2,2413.4 L1480.2,2417.6 L1479.2,2422.2 L1478.2,2427.2 L1477.3,2432.4 L1476.3,2437.9 L1475.3,2443.7 L1474.3,2449.7 L1473.3,2455.9 L1472.3,2462.2 L1471.4,2468.7 L1470.4,2475.2 L1469.4,2481.8 L1468.4,2488.5 L1467.4,2495.1 L1466.4,2501.7 L1465.5,2508.2 L1464.5,2514.6 L1463.5,2521 L1462.5,2527.2 L1461.5,2533.2 L1460.5,2539.1 L1459.5,2544.8 L1458.6,2550.3 L1457.6,2555.6 L1456.6,2560.7 L1455.6,2565.6 L1454.6,2570.3 L1453.6,2574.7 L1452.7,2578.9 L1451.7,2582.9 L1450.7,2586.6 L1449.7,2590.2 L1448.7,2593.5 L1447.7,2596.5 L1446.8,2599.4 L1445.8,2602.1 L1444.8,2604.6 L1443.8,2606.9 L1442.8,2609 L1441.8,2610.9 L1440.8,2612.7 L1439.9,2614.4 L1438.9,2615.8 L1437.9,2617.2 L1436.9,2618.4 L1435.9,2619.6 L1434.9,2620.6 L1434,2621.5 L1433,2622.3 L1432,2623 L1431,2623.7 L1430,2624.3 L1429,2624.8 L1428,2625.2 L1427.1,2625.7 L1426.1,2626 L1425.1,2626.3 L1424.1,2626.6 L1423.1,2626.9 L1422.1,2627.1 L1421.2,2627.3 L1420.2,2627.4 L1419.2,2627.6 L1418.2,2627.7 L1417.2,2627.8 L1416.2,2627.9 L1415.3,2628 L1414.3,2628 L1413.3,2628.1 L1412.3,2628.1 L1411.3,2628.2 L1410.3,2628.2 L1409.3,2628.2 L1408.4,2628.3 L1407.4,2628.3 L1406.4,2628.3 L1405.4,2628.3 L1404.4,2628.3 L1403.4,2628.3 L1402.5,2628.4 L1401.5,2628.4" fill="none" stroke="#30f0f0" stroke-width="2.2"/>
<path d="M1735.1,2628.4 L1734.1,2628.4 L1733.1,2628.4 L1732.1,2628.4 L1731.1,2628.4 L1730.1,2628.4 L1729.2,2628.4 L1728.2,2628.4 L1727.2,2628.4 L1726.2,2628.3 L1725.2,2628.3 L1724.2,2628.3 L1723.3,2628.3 L1722.3,2628.3 L1721.3,2628.3 L1720.3,2628.3 L1719.3,2628.3 L1718.3,2628.3 L1717.4,2628.3 L1716.4,2628.3 L1715.4,2628.3 L1714.4,2628.3 L1713.4,2628.2 L1712.4,2628.2 L1711.4,2628.2 L1710.5,2628.2 L1709.5,2628.2 L1708.5,2628.2 L1707.5,2628.2 L1706.5,2628.1 L1705.5,2628.1 L1704.6,2628.1 L1703.6,2628.1 L1702.6,2628 L1701.6,2628 L1700.6,2628 L1699.6,2627.9 L1698.7,2627.9 L1697.7,2627.9 L1696.7,2627.8 L1695.7,2627.8 L1694.7,2627.8 L1693.7,2627.7 L1692.7,2627.7 L1691.8,2627.6 L1690.8,2627.5 L1689.8,2627.5 L1688.8,2627.4 L1687.8,2627.4 L1686.8,2627.3 L1685.9,2627.2 L1684.9,2627.1 L1683.9,2627 L1682.9,2626.9 L1681.9,2626.8 L1680.9,2626.7 L1680,2626.6 L1679,2626.5 L1678,2626.4 L1677,2626.3 L1676,2626.1 L1675,2626 L1674.1,2625.8 L1673.1,2625.6 L1672.1,2625.5 L1671.1,2625.3 L1670.1,2625.1 L1669.1,2624.9 L1668.1,2624.7 L1667.2,2624.5 L1666.2,2624.2 L1665.2,2624 L1664.2,2623.7 L1663.2,2623.5 L1662.2,2623.2 L1661.3,2622.9 L1660.3,2622.6 L1659.3,2622.2 L1658.3,2621.9 L1657.3,2621.5 L1656.3,2621.2 L1655.4,2620.8 L1654.4,2620.3 L1653.4,2619.9 L1652.4,2619.5 L1651.4,2619 L1650.4,2618.5 L1649.4,2618 L1648.5,2617.5 L1647.5,2616.9 L1646.5,2616.3 L1645.5,2615.7 L1644.5,2615.1 L1643.5,2614.5 L1642.6,2613.8 L1641.6,2613.1 L1640.6,2612.4 L1639.6,2611.6 L1638.6,2610.9 L1637.6,2610.1 L1636.7,2609.2 L1635.7,2608.4 L1634.7,2607.5 L1633.7,2606.6 L1632.7,2605.6 L1631.7,2604.6 L1630.7,2603.6 L1629.8,2602.6 L1628.8,2601.5 L1627.8,2600.4 L1626.8,2599.3 L1625.8,2598.1 L1624.8,2596.9 L1623.9,2595.7 L1622.9,2594.4 L1621.9,2593.1 L1620.9,2591.8 L1619.9,2590.4 L1618.9,2589 L1618,2587.6 L1617,2586.1 L1616,2584.6 L1615,2583.1 L1614,2581.5 L1613,2579.9 L1612,2578.3 L1611.1,2576.7 L1610.1,2575 L1609.1,2573.2 L1608.1,2571.5 L1607.1,2569.7 L1606.1,2567.9 L1605.2,2566.1 L1604.2,2564.2 L1603.2,2562.3 L1602.2,2560.4 L1601.2,2558.5 L1600.2,2556.5 L1599.3,2554.6 L1598.3,2552.6 L1597.3,2550.6 L1596.3,2548.5 L1595.3,2546.5 L1594.3,2544.4 L1593.4,2542.3 L1592.4,2540.2 L1591.4,2538.1 L1590.4,2536 L1589.4,2533.9 L1588.4,2531.8 L1587.4,2529.7 L1586.5,2527.6 L1585.5,2525.4 L1584.5,2523.3 L1583.5,2521.2 L1582.5,2519.1 L1581.5,2517 L1580.6,2514.9 L1579.6,2512.9 L1578.6,2510.8 L1577.6,2508.8 L1576.6,2506.8 L1575.6,2504.8 L1574.7,2502.8 L1573.7,2500.8 L1572.7,2498.9 L1571.7,2497 L1570.7,2495.2 L1569.7,2493.4 L1568.7,2491.6 L1567.8,2489.8 L1566.8,2488.1 L1565.8,2486.5 L1564.8,2484.9 L1563.8,2483.3 L1562.8,2481.8 L1561.9,2480.3 L1560.9,2478.9 L1559.9,2477.5 L1558.9,2476.2 L1557.9,2475 L1556.9,2473.8 L1556,2472.7 L1555,2471.6 L1554,2470.6 L1553,2469.7 L1552,2468.8 L1551,2468 L1550,2467.3 L1549.1,2466.7 L1548.1,2466.1 L1547.1,2465.6 L1546.1,2465.1 L1545.1,2464.7 L1544.1,2464.4 L1543.2,2464.2 L1542.2,2464.1 L1541.2,2464 L1540.2,2464 L1539.2,2464.1 L1538.2,2464.2 L1537.3,2464.4 L1536.3,2464.7 L1535.3,2465.1 L1534.3,2465.6 L1533.3,2466.1 L1532.3,2466.7 L1531.3,2467.3 L1530.4,2468 L1529.4,2468.8 L1528.4,2469.7 L1527.4,2470.6 L1526.4,2471.6 L1525.4,2472.7 L1524.5,2473.8 L1523.5,2475 L1522.5,2476.2 L1521.5,2477.5 L1520.5,2478.9 L1519.5,2480.3 L1518.6,2481.8 L1517.6,2483.3 L1516.6,2484.9 L1515.6,2486.5 L1514.6,2488.1 L1513.6,2489.8 L1512.7,2491.6 L1511.7,2493.4 L1510.7,2495.2 L1509.7,2497 L1508.7,2498.9 L1507.7,2500.8 L1506.7,2502.8 L1505.8,2504.8 L1504.8,2506.8 L1503.8,2508.8 L1502.8,2510.8 L1501.8,2512.9 L1500.8,2514.9 L1499.9,2517 L1498.9,2519.1 L1497.9,2521.2 L1496.9,2523.3 L1495.9,2525.4 L1494.9,2527.6 L1494,2529.7 L1493,2531.8 L1492,2533.9 L1491,2536 L1490,2538.1 L1489,2540.2 L1488,2542.3 L1487.1,2544.4 L1486.1,2546.5 L1485.1,2548.5 L1484.1,2550.6 L1483.1,2552.6 L1482.1,2554.6 L1481.2,2556.5 L1480.2,2558.5 L1479.2,2560.4 L1478.2,2562.3 L1477.2,2564.2 L1476.2,2566.1 L1475.3,2567.9 L1474.3,2569.7 L1473.3,2571.5 L1472.3,2573.2 L1471.3,2575 L1470.3,2576.7 L1469.3,2578.3 L1468.4,2579.9 L1467.4,2581.5 L1466.4,2583.1 L1465.4,2584.6 L1464.4,2586.1 L1463.4,2587.6 L1462.5,2589 L1461.5,2590.4 L1460.5,2591.8 L1459.5,2593.1 L1458.5,2594.4 L1457.5,2595.7 L1456.6,2596.9 L1455.6,2598.1 L1454.6,2599.3 L1453.6,2600.4 L1452.6,2601.5 L1451.6,2602.6 L1450.6,2603.6 L1449.7,2604.6 L1448.7,2605.6 L1447.7,2606.6 L1446.7,2607.5 L1445.7,2608.4 L1444.7,2609.2 L1443.8,2610.1 L1442.8,2610.9 L1441.8,2611.6 L1440.8,2612.4 L1439.8,2613.1 L1438.8,2613.8 L1437.9,2614.5 L1436.9,2615.1 L1435.9,2615.7 L1434.9,2616.3 L1433.9,2616.9 L1432.9,2617.5 L1432,2618 L1431,2618.5 L1430,2619 L1429,2619.5 L1428,2619.9 L1427,2620.3 L1426,2620.8 L1425.1,2621.2 L1424.1,2621.5 L1423.1,2621.9 L1422.1,2622.2 L1421.1,2622.6 L1420.1,2622.9 L1419.2,2623.2 L1418.2,2623.5 L1417.2,2623.7 L1416.2,2624 L1415.2,2624.2 L1414.2,2624.5 L1413.3,2624.7 L1412.3,2624.9 L1411.3,2625.1 L1410.3,2625.3 L1409.3,2625.5 L1408.3,2625.6 L1407.3,2625.8 L1406.4,2626 L1405.4,2626.1 L1404.4,2626.3 L1403.4,2626.4 L1402.4,2626.5 L1401.4,2626.6 L1400.5,2626.7 L1399.5,2626.8 L1398.5,2626.9 L1397.5,2627 L1396.5,2627.1 L1395.5,2627.2 L1394.6,2627.3 L1393.6,2627.4 L1392.6,2627.4 L1391.6,2627.5 L1390.6,2627.5 L1389.6,2627.6 L1388.6,2627.7 L1387.7,2627.7 L1386.7,2627.8 L1385.7,2627.8 L1384.7,2627.8 L1383.7,2627.9 L1382.7,2627.9 L1381.8,2627.9 L1380.8,2628 L1379.8,2628 L1378.8,2628 L1377.8,2628.1 L1376.8,2628.1 L1375.9,2628.1 L1374.9,2628.1 L1373.9,2628.2 L1372.9,2628.2 L1371.9,2628.2 L1370.9,2628.2 L1369.9,2628.2 L1369,2628.2 L1368,2628.2 L1367,2628.3 L1366,2628.3 L1365,2628.3 L1364,2628.3 L1363.1,2628.3 L1362.1,2628.3 L1361.1,2628.3 L1360.1,2628.3 L1359.1,2628.3 L1358.1,2628.3 L1357.2,2628.3 L1356.2,2628.3 L1355.2,2628.3 L1354.2,2628.4 L1353.2,2628.4 L1352.2,2628.4 L1351.3,2628.4 L1350.3,2628.4 L1349.3,2628.4 L1348.3,2628.4 L1347.3,2628.4 L1346.3,2628.4" fill="none" stroke="#3535f5" stroke-width="2.2"/>
<path d="M2112.9,2472.9 L2111.6,2472.1 L2110.3,2471.3 L2109,2470.5 L2107.7,2469.8 L2106.4,2469 L2105.1,2468.3 L2103.8,2467.6 L2102.5,2466.9 L2101.1,2466.3 L2099.8,2465.6 L2098.5,2465 L2097.2,2464.4 L2095.9,2463.8 L2094.6,2463.3 L2093.3,2462.8 L2092,2462.3 L2090.7,2461.8 L2089.3,2461.3 L2088,2460.9 L2086.7,2460.5 L2085.4,2460.1 L2084.1,2459.7 L2082.8,2459.4 L2081.5,2459.1 L2080.2,2458.8 L2078.9,2458.5 L2077.5,2458.2 L2076.2,2458 L2074.9,2457.8 L2073.6,2457.6 L2072.3,2457.5 L2071,2457.4 L2069.7,2457.3 L2068.4,2457.2 L2067.1,2457.1 L2065.7,2457.1 L2064.4,2457.1 L2063.1,2457.2 L2061.8,2457.2 L2060.5,2457.3 L2059.2,2457.4 L2057.9,2457.5 L2056.6,2457.6 L2055.3,2457.8 L2053.9,2458 L2052.6,2458.2 L2051.3,2458.5 L2050,2458.8 L2048.7,2459.1 L2047.4,2459.4 L2046.1,2459.7 L2044.8,2460.1 L2043.4,2460.5 L2042.1,2460.9 L2040.8,2461.3 L2039.5,2461.8 L2038.2,2462.3 L2036.9,2462.8 L2035.6,2463.3 L2034.3,2463.9 L2033,2464.4 L2031.6,2465 L2030.3,2465.6 L2029,2466.3 L2027.7,2466.9 L2026.4,2467.6 L2025.1,2468.3 L2023.8,2469 L2022.5,2469.8 L2021.2,2470.5 L2019.8,2471.3 L2018.5,2472.1 L2017.2,2472.9 L2015.9,2473.8 L2014.6,2474.6 L2013.3,2475.5 L2012,2476.4 L2010.7,2477.3 L2009.4,2478.2 L2008,2479.1 L2006.7,2480.1 L2005.4,2481 L2004.1,2482 L2002.8,2483 L2001.5,2484 L2000.2,2485.1 L1998.9,2486.1 L1997.6,2487.1 L1996.2,2488.2 L1994.9,2489.3 L1993.6,2490.4 L1992.3,2491.5 L1991,2492.6 L1989.7,2493.7 L1988.4,2494.8 L1987.1,2496 L1985.7,2497.1 L1984.4,2498.3 L1983.1,2499.4 L1981.8,2500.6 L1980.5,2501.8 L1979.2,2503 L1977.9,2504.2 L1976.6,2505.4 L1975.3,2506.6 L1973.9,2507.8 L1972.6,2509 L1971.3,2510.3 L1970,2511.5 L1968.7,2512.7 L1967.4,2513.9 L1966.1,2515.2 L1964.8,2516.4 L1963.5,2517.7 L1962.1,2518.9 L1960.8,2520.2 L1959.5,2521.4 L1958.2,2522.7 L1956.9,2523.9 L1955.6,2525.2 L1954.3,2526.4 L1953,2527.7 L1951.7,2528.9 L1950.3,2530.2 L1949,2531.4 L1947.7,2532.7 L1946.4,2533.9 L1945.1,2535.2 L1943.8,2536.4 L1942.5,2537.6 L1941.2,2538.9 L1939.9,2540.1 L1938.5,2541.3 L1937.2,2542.5 L1935.9,2543.7 L1934.6,2545 L1933.3,2546.2 L1932,2547.4 L1930.7,2548.5 L1929.4,2549.7 L1928.1,2550.9 L1926.7,2552.1 L1925.4,2553.2 L1924.1,2554.4 L1922.8,2555.6 L1921.5,2556.7 L1920.2,2557.8 L1918.9,2559 L1917.6,2560.1 L1916.2,2561.2 L1914.9,2562.3 L1913.6,2563.4 L1912.3,2564.5 L1911,2565.6 L1909.7,2566.6 L1908.4,2567.7 L1907.1,2568.7 L1905.8,2569.8 L1904.4,2570.8 L1903.1,2571.8 L1901.8,2572.8 L1900.5,2573.8 L1899.2,2574.8 L1897.9,2575.8 L1896.6,2576.8 L1895.3,2577.7 L1894,2578.7 L1892.6,2579.6 L1891.3,2580.5 L1890,2581.5 L1888.7,2582.4 L1887.4,2583.3 L1886.1,2584.1 L1884.8,2585 L1883.5,2585.9 L1882.2,2586.7 L1880.8,2587.6 L1879.5,2588.4 L1878.2,2589.2 L1876.9,2590 L1875.6,2590.8 L1874.3,2591.6 L1873,2592.4 L1871.7,2593.1 L1870.4,2593.9 L1869,2594.6 L1867.7,2595.3 L1866.4,2596.1 L1865.1,2596.8 L1863.8,2597.5 L1862.5,2598.1 L1861.2,2598.8 L1859.9,2599.5 L1858.5,2600.1 L1857.2,2600.8 L1855.9,2601.4 L1854.6,2602 L1853.3,2602.6 L1852,2603.2 L1850.7,2603.8 L1849.4,2604.4 L1848.1,2605 L1846.7,2605.5 L1845.4,2606.1 L1844.1,2606.6 L1842.8,2607.1 L1841.5,2607.7 L1840.2,2608.2 L1838.9,2608.7 L1837.6,2609.2 L1836.3,2609.6 L1834.9,2610.1 L1833.6,2610.6 L1832.3,2611 L1831,2611.5 L1829.7,2611.9 L1828.4,2612.3 L1827.1,2612.7 L1825.8,2613.2 L1824.5,2613.6 L1823.1,2613.9 L1821.8,2614.3 L1820.5,2614.7 L1819.2,2615.1 L1817.9,2615.4 L1816.6,2615.8 L1815.3,2616.1 L1814,2616.5 L1812.7,2616.8 L1811.3,2617.1 L1810,2617.4 L1808.7,2617.7 L1807.4,2618 L1806.1,2618.3 L1804.8,2618.6 L1803.5,2618.9 L1802.2,2619.2 L1800.9,2619.4 L1799.5,2619.7 L1798.2,2619.9 L1796.9,2620.2 L1795.6,2620.4 L1794.3,2620.7 L1793,2620.9 L1791.7,2621.1 L1790.4,2621.3 L1789,2621.5 L1787.7,2621.7 L1786.4,2622 L1785.1,2622.1 L1783.8,2622.3 L1782.5,2622.5 L1781.2,2622.7 L1779.9,2622.9 L1778.6,2623.1 L1777.2,2623.2 L1775.9,2623.4 L1774.6,2623.5 L1773.3,2623.7 L1772,2623.8 L1770.7,2624 L1769.4,2624.1 L1768.1,2624.3 L1766.8,2624.4 L1765.4,2624.5 L1764.1,2624.7 L1762.8,2624.8 L1761.5,2624.9 L1760.2,2625 L1758.9,2625.1 L1757.6,2625.2 L1756.3,2625.3 L1755,2625.5 L1753.6,2625.6 L1752.3,2625.6 L1751,2625.7 L1749.7,2625.8 L1748.4,2625.9 L1747.1,2626 L1745.8,2626.1 L1744.5,2626.2 L1743.2,2626.2 L1741.8,2626.3 L1740.5,2626.4 L1739.2,2626.5 L1737.9,2626.5 L1736.6,2626.6 L1735.3,2626.7 L1734,2626.7 L1732.7,2626.8 L1731.3,2626.8 L1730,2626.9 L1728.7,2627 L1727.4,2627 L1726.1,2627.1 L1724.8,2627.1 L1723.5,2627.2 L1722.2,2627.2 L1720.9,2627.3 L1719.5,2627.3 L1718.2,2627.3 L1716.9,2627.4 L1715.6,2627.4 L1714.3,2627.5 L1713,2627.5 L1711.7,2627.5 L1710.4,2627.6 L1709.1,2627.6 L1707.7,2627.6 L1706.4,2627.7 L1705.1,2627.7 L1703.8,2627.7 L1702.5,2627.7 L1701.2,2627.8 L1699.9,2627.8 L1698.6,2627.8 L1697.3,2627.8 L1695.9,2627.9 L1694.6,2627.9 L1693.3,2627.9 L1692,2627.9 L1690.7,2627.9 L1689.4,2628 L1688.1,2628 L1686.8,2628 L1685.5,2628 L1684.1,2628 L1682.8,2628 L1681.5,2628.1 L1680.2,2628.1 L1678.9,2628.1 L1677.6,2628.1 L1676.3,2628.1 L1675,2628.1 L1673.7,2628.1 L1672.3,2628.1 L1671,2628.2 L1669.7,2628.2 L1668.4,2628.2 L1667.1,2628.2 L1665.8,2628.2 L1664.5,2628.2 L1663.2,2628.2 L1661.8,2628.2 L1660.5,2628.2 L1659.2,2628.2 L1657.9,2628.2 L1656.6,2628.3 L1655.3,2628.3 L1654,2628.3 L1652.7,2628.3 L1651.4,2628.3 L1650,2628.3 L1648.7,2628.3 L1647.4,2628.3 L1646.1,2628.3 L1644.8,2628.3 L1643.5,2628.3 L1642.2,2628.3 L1640.9,2628.3 L1639.6,2628.3 L1638.2,2628.3 L1636.9,2628.3 L1635.6,2628.3 L1634.3,2628.3 L1633,2628.3 L1631.7,2628.3 L1630.4,2628.3 L1629.1,2628.3 L1627.8,2628.3 L1626.4,2628.3 L1625.1,2628.4 L1623.8,2628.4 L1622.5,2628.4 L1621.2,2628.4 L1619.9,2628.4 L1618.6,2628.4 L1617.3,2628.4 L1616,2628.4 L1614.6,2628.4 L1613.3,2628.4 L1612,2628.4 L1610.7,2628.4 L1609.4,2628.4 L1608.1,2628.4" fill="none" stroke="#ff2020" stroke-width="2.2" stroke-dasharray="2 2"/>
<line x1="1129.7" y1="2628.4" x2="2112.7" y2="2628.4" stroke="#c2bd7a" stroke-width="2.5"/>
<line x1="1129.7" y1="2628.4" x2="1401.5" y2="2628.4" stroke="#30f0f0" stroke-width="2.4"/>
<line x1="1294.5" y1="2628" x2="1294.5" y2="2581" stroke="#e6c88a" stroke-width="1.6"/><path d="M1294.5,2572 L1290,2582 L1299,2582 Z" fill="#d9a21b"/>
<line x1="1487.6" y1="2628" x2="1487.6" y2="2371.7" stroke="#9ad8f0" stroke-width="1.6"/><path d="M1487.6,2362.7 L1483.1,2372.7 L1492.1,2372.7 Z" fill="#00b0f0"/>
<line x1="1552.7" y1="2628" x2="1552.7" y2="2410.8" stroke="#b090d0" stroke-width="1.6"/><path d="M1552.7,2401.8 L1548.2,2411.8 L1557.2,2411.8 Z" fill="#7030a0"/>
<line x1="1627" y1="2628" x2="1627" y2="2310" stroke="#bdbdbd" stroke-width="2.4"/><path d="M1627,2301 L1622.5,2311 L1631.5,2311 Z" fill="#bdbdbd"/>
<line x1="1855" y1="2628" x2="1855" y2="2422" stroke="#bdbdbd" stroke-width="2.4"/><path d="M1855,2413 L1850.5,2423 L1859.5,2423 Z" fill="#bdbdbd"/>
<path d="M1166,2627.4 L1173.2,2627.4 L1180.9,2626.9 L1189.2,2625.9 L1197.5,2624.6 L1205.7,2622.9 L1214.5,2620.8 L1246.1,2612.4 L1258.9,2609.3 L1272.4,2606.6 L1278.9,2605.7 L1284.8,2605.1 L1295.5,2604.7 L1306.8,2605.2 L1318.2,2606.4 L1344,2609.9 L1357.2,2611 L1363.7,2611.1 L1369.7,2611 L1375.6,2610.5 L1380.9,2609.7 L1387.8,2608.2 L1394.5,2606.2 L1401,2603.5 L1406.8,2600.4 L1412.3,2596.8 L1417.5,2592.5 L1422.4,2587.7 L1426.3,2582.9 L1429.8,2577.8 L1432.8,2572.6 L1435.4,2566.6 L1437.6,2560.4 L1439.8,2552.9 L1442.2,2543.1 L1445,2530.2 L1447.5,2517.3 L1452,2490.8 L1456.1,2460.6 L1459.2,2432.6 L1466.1,2366.2 L1469.9,2334.5 L1473.1,2311.8 L1481,2260.5 L1485.5,2227.9 L1486.9,2219.9 L1488.4,2212.8 L1490.4,2205.3 L1492.3,2199.2 L1494,2194.9 L1495.9,2191.4 L1498,2189 L1498.9,2188.4 L1499.8,2188.1 L1501.5,2188.2 L1503.5,2189.4 L1505.6,2191.5 L1508,2194.9 L1510.4,2199 L1513.2,2204.6 L1521.6,2223.5 L1524.4,2229.2 L1526.3,2232.4 L1528.5,2235.3 L1530.5,2237.5 L1532.6,2239.3 L1534.5,2240.4 L1536,2241.1 L1539.3,2241.9 L1542.8,2242.2 L1552.1,2242.2 L1555,2242.5 L1558.5,2243.2 L1561.8,2244.2 L1565,2245.4 L1568.1,2246.9 L1571.6,2248.9 L1577.7,2253.2 L1584.5,2258.7 L1591.4,2265.3 L1605.7,2280 L1612.2,2286.4 L1619,2292.3 L1625.7,2297.3 L1632.2,2301.4 L1640.1,2305.7 L1648.2,2309.6 L1671.8,2320.4 L1678.8,2323.9 L1685,2327.5 L1692.1,2332 L1699.9,2337.6 L1707.9,2343.9 L1729.9,2361.8 L1737.1,2367.3 L1743.5,2371.7 L1751.1,2376.4 L1759.6,2381 L1768.2,2385 L1777.7,2388.8 L1785.1,2391.3 L1793.1,2393.6 L1800.7,2395.5 L1808.9,2397.2 L1817.2,2398.6 L1826.1,2399.8 L1835.6,2400.8 L1847,2401.7 L1906.9,2405 L1931.5,2406.1 L1953.6,2406.8 L1988.4,2407.2 L2043.6,2406.7 L2065.2,2407.1 L2078.4,2407.8 L2090.3,2408.8 L2101.7,2410.2 L2113,2412.1" fill="none" stroke="#3c3c3c" stroke-width="2.3" stroke-linejoin="round"/>
</g>
<rect x="1273.3" y="2458.5" width="40.7" height="105.8" fill="none" stroke="#d9a21b" stroke-width="3" stroke-dasharray="3 3"/><text transform="translate(1302.7,2511.4) rotate(-90)" text-anchor="middle" font-size="27" fill="#222">3775</text>
<rect x="1468.9" y="2244.7" width="40.3" height="104.1" fill="none" stroke="#00b0f0" stroke-width="3" stroke-dasharray="3 3"/><text transform="translate(1498.1,2296.8) rotate(-90)" text-anchor="middle" font-size="27" fill="#222">3745</text>
<rect x="1534.9" y="2293.3" width="40.2" height="105" fill="none" stroke="#7030a0" stroke-width="3" stroke-dasharray="3 3"/><text transform="translate(1564,2345.8) rotate(-90)" text-anchor="middle" font-size="27" fill="#222">3738</text>
<rect x="1603.3" y="2176.1" width="41" height="106" fill="none" stroke="#a8a8a8" stroke-width="2.6" stroke-dasharray="3 3"/><text transform="translate(1632.8,2229.1) rotate(-90)" text-anchor="middle" font-size="27" fill="#222">3725</text>
<rect x="1833.3" y="2285.9" width="40.8" height="106.3" fill="none" stroke="#a8a8a8" stroke-width="2.6" stroke-dasharray="3 3"/><text transform="translate(1862.7,2339.1) rotate(-90)" text-anchor="middle" font-size="27" fill="#222">3691</text>
<line x1="1129.7" y1="1965" x2="1129.7" y2="2688.2" stroke="#111" stroke-width="2.6"/>
<line x1="1121.7" y1="2688.2" x2="2114.1" y2="2688.2" stroke="#111" stroke-width="3.1"/>
<line x1="1129.7" y1="2688.2" x2="1129.7" y2="2703.7" stroke="#111" stroke-width="2.8"/>
<text x="1129.7" y="2734.5" text-anchor="middle" font-size="30" fill="#222">3800</text>
<line x1="1195.2" y1="2688.2" x2="1195.2" y2="2696.7" stroke="#111" stroke-width="2.8"/>
<line x1="1260.8" y1="2688.2" x2="1260.8" y2="2703.7" stroke="#111" stroke-width="2.8"/>
<text x="1260.8" y="2734.5" text-anchor="middle" font-size="30" fill="#222">3780</text>
<line x1="1326.3" y1="2688.2" x2="1326.3" y2="2696.7" stroke="#111" stroke-width="2.8"/>
<line x1="1391.9" y1="2688.2" x2="1391.9" y2="2703.7" stroke="#111" stroke-width="2.8"/>
<text x="1391.9" y="2734.5" text-anchor="middle" font-size="30" fill="#222">3760</text>
<line x1="1457.5" y1="2688.2" x2="1457.5" y2="2696.7" stroke="#111" stroke-width="2.8"/>
<line x1="1523" y1="2688.2" x2="1523" y2="2703.7" stroke="#111" stroke-width="2.8"/>
<text x="1523" y="2734.5" text-anchor="middle" font-size="30" fill="#222">3740</text>
<line x1="1588.5" y1="2688.2" x2="1588.5" y2="2696.7" stroke="#111" stroke-width="2.8"/>
<line x1="1654.1" y1="2688.2" x2="1654.1" y2="2703.7" stroke="#111" stroke-width="2.8"/>
<text x="1654.1" y="2734.5" text-anchor="middle" font-size="30" fill="#222">3720</text>
<line x1="1719.7" y1="2688.2" x2="1719.7" y2="2696.7" stroke="#111" stroke-width="2.8"/>
<line x1="1785.2" y1="2688.2" x2="1785.2" y2="2703.7" stroke="#111" stroke-width="2.8"/>
<text x="1785.2" y="2734.5" text-anchor="middle" font-size="30" fill="#222">3700</text>
<line x1="1850.8" y1="2688.2" x2="1850.8" y2="2696.7" stroke="#111" stroke-width="2.8"/>
<line x1="1916.3" y1="2688.2" x2="1916.3" y2="2703.7" stroke="#111" stroke-width="2.8"/>
<text x="1916.3" y="2734.5" text-anchor="middle" font-size="30" fill="#222">3680</text>
<line x1="1981.8" y1="2688.2" x2="1981.8" y2="2696.7" stroke="#111" stroke-width="2.8"/>
<line x1="2047.4" y1="2688.2" x2="2047.4" y2="2703.7" stroke="#111" stroke-width="2.8"/>
<text x="2047.4" y="2734.5" text-anchor="middle" font-size="30" fill="#222">3660</text>
<line x1="2112.9" y1="2688.2" x2="2112.9" y2="2696.7" stroke="#111" stroke-width="2.8"/>
<text transform="translate(96,792.3) rotate(-90)" text-anchor="middle" font-size="73" fill="#000">Intensity [a.u.]</text>
<text transform="translate(88.3,2697.4) rotate(-90)" text-anchor="middle" font-size="73" fill="#000">Intensity [a.u.]</text>
<text transform="translate(888,1737.6) scale(0.982,1)" font-size="73" fill="#000">Wavenumbers (cm<tspan font-size="48.2" dx="-3.7" dy="-20.4">−1</tspan><tspan dy="20.4">)</tspan></text>
<text transform="translate(885,3642) scale(0.982,1)" font-size="72.5" fill="#000">Wavenumbers (cm<tspan font-size="47.9" dx="-3.6" dy="-20.3">−1</tspan><tspan dy="20.3">)</tspan></text>
<text x="1016" y="1908.4" text-anchor="middle" font-size="80">(<tspan font-weight="bold">b</tspan>)</text>
<text x="1017" y="3791" text-anchor="middle" font-size="80">(<tspan font-weight="bold">c</tspan>)</text>
<text transform="translate(1467,161.8) scale(0.97,1)" font-size="81" font-weight="bold" fill="#0070c0">H_ ZSM-5_Sil1</text>
<text transform="translate(1468.5,2077) scale(0.965,1)" font-size="80.5" font-weight="bold" fill="#ff0000">TPA_ZSM-5_Sil1</text>
<text transform="translate(1000.7,441.1) rotate(-90)" text-anchor="middle" font-size="36" fill="#222">Intensity [a.u.]</text>
<text transform="translate(1102,2332) rotate(-90)" text-anchor="middle" font-size="35" fill="#222">Intensity [a.u.]</text>
<text transform="translate(1397,913) scale(1.0,1)" font-size="36.5" fill="#222">Wavenumbers (cm<tspan font-size="24.1" dx="-1.8" dy="-10.2">−1</tspan><tspan dy="10.2">)</tspan></text>
<text transform="translate(1478,2786) scale(1.0,1)" font-size="34.5" fill="#222">Wavenumbers (cm<tspan font-size="22.8" dx="-1.7" dy="-9.7">−1</tspan><tspan dy="9.7">)</tspan></text>
</svg>
</body></html>
